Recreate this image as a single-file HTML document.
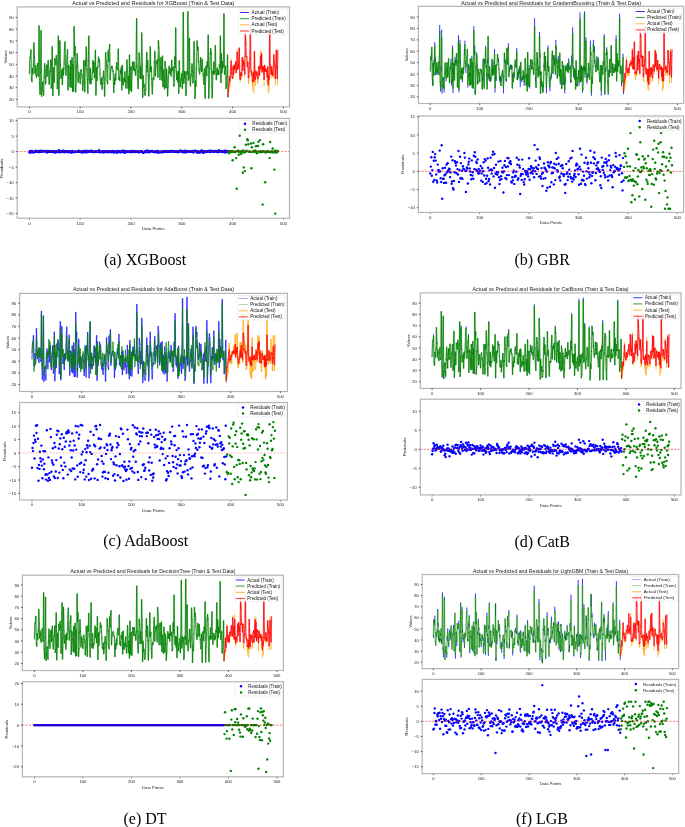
<!DOCTYPE html>
<html><head><meta charset="utf-8"><style>
html,body{margin:0;padding:0;background:#fff;}
svg{display:block;will-change:transform;}
text{font-family:"Liberation Sans",sans-serif;fill:#1a1a1a;}
.tt{font-size:5.5em;text-anchor:middle;}
.yl{font-size:4.35em;text-anchor:end;}
.xl{font-size:4.35em;text-anchor:middle;}
.al{font-size:4.4em;text-anchor:middle;}
.lt{font-size:4.62em;fill:#111;}
.cap{font-family:"Liberation Serif",serif;font-size:16px;text-anchor:middle;fill:#000;}
.fr{fill:none;stroke:#b4b4b4;stroke-width:1.2;}
.tk{stroke:#333;stroke-width:0.8;}
.lg{fill:#fff;fill-opacity:0.8;stroke:#e6e6e6;stroke-width:0.6;}
</style></head><body>
<svg width="685" height="827" viewBox="0 0 685 827">
<g style="font-size:1.0018px">
<text x="153.3" y="4.85" class="tt">Actual vs Predicted and Residuals for XGBoost (Train &amp; Test Data)</text>
<path d="M29.40,73.52L29.91,57.68M30.42,56.81L30.92,49.94M31.43,78.40L31.94,81.60M32.45,68.50L32.96,73.74M33.46,64.94L33.97,43.02M34.48,58.01L34.99,72.90M35.50,66.02L36.00,74.65M36.51,77.10L37.02,69.19M37.53,63.47L38.04,75.21M38.54,76.08L39.05,25.94M39.56,83.52L40.07,94.21M40.58,72.46L41.08,30.66M41.59,96.16L42.10,88.00M42.61,82.26L43.12,90.17M43.62,94.99L44.13,77.07M44.64,63.65L45.15,75.61M45.66,83.72L46.16,70.90M46.67,65.20L47.18,76.17M47.69,67.72L48.20,60.72M48.70,74.79L49.21,84.19M49.72,71.54L50.23,70.97M50.74,60.12L51.24,88.05M51.75,84.39L52.26,46.72M52.77,95.61L53.28,76.34M53.78,67.84L54.29,82.32M54.80,58.55L55.31,61.55M55.82,64.38L56.32,55.73M56.83,61.54L57.34,88.67M57.85,68.89L58.36,36.04M58.86,95.22L59.37,72.87M59.88,40.81L60.39,64.82M60.90,78.18L61.40,75.33M61.91,70.15L62.42,84.49M62.93,68.32L63.44,74.97M63.94,68.27L64.45,50.31M64.96,41.88L65.47,64.86M65.98,75.13L66.48,66.61M66.99,57.66L67.50,49.76M68.01,89.73L68.52,65.47M69.02,67.42L69.53,74.31M70.04,86.67L70.55,60.57M71.06,87.34L71.56,69.06M72.07,57.74L72.58,91.24M73.09,64.51L73.60,91.00M74.10,26.76L74.61,55.50M75.12,46.53L75.63,91.92M76.14,83.84L76.64,66.95M77.15,53.75L77.66,66.04M78.17,82.14L78.68,72.08M79.18,74.10L79.69,76.74M80.20,83.51L80.71,71.07M81.22,69.77L81.72,74.45M82.23,76.86L82.74,90.55M83.25,82.44L83.76,60.90M84.26,74.54L84.77,91.70M85.28,60.46L85.79,65.97M86.30,46.90L86.80,69.16M87.31,79.26L87.82,92.99M88.33,60.93L88.84,36.15M89.34,79.31L89.85,83.00M90.36,68.42L90.87,83.91M91.38,78.93L91.88,79.47M92.39,72.56L92.90,60.64M93.41,71.74L93.92,62.46M94.42,77.72L94.93,70.56M95.44,50.40L95.95,95.03M96.46,67.72L96.96,80.49M97.47,67.99L97.98,66.67M98.49,57.04L99.00,62.20M99.50,59.64L100.01,73.50M100.52,82.66L101.03,84.33M101.54,78.16L102.04,89.09M102.55,83.20L103.06,76.93M103.57,71.16L104.08,78.03M104.58,96.09L105.09,78.58M105.60,52.68L106.11,60.66M106.62,65.03L107.12,80.98M107.63,83.87L108.14,51.13M108.65,61.41L109.16,49.63M109.66,44.38L110.17,79.75M110.68,70.48L111.19,67.76M111.70,66.39L112.20,66.32M112.71,70.85L113.22,71.35M113.73,92.47L114.24,78.66M114.74,84.19L115.25,74.14M115.76,80.03L116.27,67.37M116.78,62.82L117.28,68.51M117.79,69.76L118.30,49.11M118.81,79.30L119.32,77.19M119.82,80.61L120.33,70.31M120.84,73.28L121.35,67.18M121.86,89.81L122.36,65.44M122.87,82.36L123.38,84.63M123.89,78.56L124.40,81.32M124.90,71.80L125.41,81.03M125.92,88.11L126.43,81.28M126.94,60.02L127.44,71.68M127.95,88.07L128.46,76.29M128.97,93.54L129.48,55.26M129.98,90.12L130.49,70.66M131.00,66.78L131.51,91.25M132.02,73.24L132.52,61.96M133.03,66.50L133.54,69.82M134.05,62.21L134.56,70.54M135.06,69.37L135.57,75.09M136.08,66.62L136.59,18.62M137.10,65.90L137.60,79.43M138.11,88.48L138.62,71.83M139.13,52.80L139.64,59.14M140.14,78.32L140.65,66.42M141.16,78.55L141.67,32.89M142.18,54.71L142.68,97.33M143.19,75.64L143.70,86.96M144.21,84.48L144.72,93.89M145.22,95.15L145.73,89.30M146.24,66.31L146.75,52.37M147.26,71.71L147.76,60.43M148.27,75.35L148.78,95.78M149.29,75.70L149.80,69.12M150.30,46.80L150.81,71.47M151.32,66.94L151.83,83.87M152.34,94.02L152.84,79.84M153.35,77.60L153.86,79.07M154.37,62.61L154.88,51.30M155.38,75.86L155.89,66.02M156.40,61.42L156.91,63.22M157.42,59.77L157.92,77.09M158.43,40.57L158.94,47.93M159.45,60.44L159.96,79.55M160.46,67.50L160.97,57.74M161.48,67.00L161.99,80.16M162.50,56.23L163.00,86.66M163.51,69.95L164.02,73.98M164.53,88.80L165.04,61.52M165.54,68.16L166.05,87.60M166.56,69.03L167.07,78.80M167.58,95.79L168.08,86.40M168.59,72.96L169.10,66.36M169.61,70.89L170.12,73.28M170.62,68.55L171.13,75.98M171.64,60.24L172.15,70.51M172.66,70.03L173.16,67.08M173.67,86.08L174.18,84.92M174.69,57.02L175.20,67.44M175.70,28.02L176.21,70.40M176.72,79.65L177.23,71.70M177.74,81.82L178.24,71.90M178.75,93.35L179.26,60.83M179.77,78.53L180.28,86.51M180.78,80.20L181.29,79.65M181.80,73.31L182.31,88.39M182.82,71.51L183.32,12.51M183.83,83.23L184.34,71.45M184.85,78.01L185.36,72.06M185.86,95.52L186.37,91.65M186.88,71.38L187.39,74.21M187.90,11.68L188.40,80.09M188.91,72.96L189.42,38.45M189.93,78.24L190.44,85.88M190.94,76.39L191.45,75.03M191.96,63.99L192.47,71.36M192.98,82.87L193.48,72.68M193.99,41.64L194.50,54.03M195.01,98.42L195.52,80.89M196.02,86.18L196.53,68.23M197.04,40.92L197.55,50.22M198.06,47.19L198.56,61.17M199.07,69.71L199.58,73.74M200.09,69.82L200.60,57.74M201.10,65.41L201.61,71.33M202.12,59.28L202.63,69.34M203.14,74.10L203.64,84.04M204.15,82.85L204.66,68.56M205.17,98.14L205.68,67.03M206.18,66.23L206.69,75.65M207.20,61.71L207.71,67.16M208.22,35.07L208.72,98.04M209.23,81.90L209.74,68.63M210.25,53.48L210.76,48.65M211.26,53.21L211.77,85.35M212.28,97.79L212.79,71.49M213.30,73.67L213.80,62.21M214.31,74.13L214.82,71.59M215.33,45.66L215.84,71.70M216.34,79.49L216.85,70.61M217.36,68.24L217.87,74.48M218.38,70.62L218.88,74.34M219.39,64.97L219.90,66.78M220.41,36.25L220.92,82.47M221.42,53.97L221.93,72.60M222.44,61.76L222.95,67.49M223.46,65.21L223.96,14.00M224.47,74.00L224.98,71.48M225.49,66.27L226.00,88.33M226.50,83.92L227.01,76.85M227.52,55.03L228.03,96.84" fill="none" stroke="#008000" stroke-width="1.30" stroke-opacity="0.75" stroke-linecap="round"/><path d="M29.91,57.68L30.42,56.81M30.92,49.94L31.43,78.40M31.94,81.60L32.45,68.50M32.96,73.74L33.46,64.94M33.97,43.02L34.48,58.01M34.99,72.90L35.50,66.02M36.00,74.65L36.51,77.10M37.02,69.19L37.53,63.47M38.04,75.21L38.54,76.08M39.05,25.94L39.56,83.52M40.07,94.21L40.58,72.46M41.08,30.66L41.59,96.16M42.10,88.00L42.61,82.26M43.12,90.17L43.62,94.99M44.13,77.07L44.64,63.65M45.15,75.61L45.66,83.72M46.16,70.90L46.67,65.20M47.18,76.17L47.69,67.72M48.20,60.72L48.70,74.79M49.21,84.19L49.72,71.54M50.23,70.97L50.74,60.12M51.24,88.05L51.75,84.39M52.26,46.72L52.77,95.61M53.28,76.34L53.78,67.84M54.29,82.32L54.80,58.55M55.31,61.55L55.82,64.38M56.32,55.73L56.83,61.54M57.34,88.67L57.85,68.89M58.36,36.04L58.86,95.22M59.37,72.87L59.88,40.81M60.39,64.82L60.90,78.18M61.40,75.33L61.91,70.15M62.42,84.49L62.93,68.32M63.44,74.97L63.94,68.27M64.45,50.31L64.96,41.88M65.47,64.86L65.98,75.13M66.48,66.61L66.99,57.66M67.50,49.76L68.01,89.73M68.52,65.47L69.02,67.42M69.53,74.31L70.04,86.67M70.55,60.57L71.06,87.34M71.56,69.06L72.07,57.74M72.58,91.24L73.09,64.51M73.60,91.00L74.10,26.76M74.61,55.50L75.12,46.53M75.63,91.92L76.14,83.84M76.64,66.95L77.15,53.75M77.66,66.04L78.17,82.14M78.68,72.08L79.18,74.10M79.69,76.74L80.20,83.51M80.71,71.07L81.22,69.77M81.72,74.45L82.23,76.86M82.74,90.55L83.25,82.44M83.76,60.90L84.26,74.54M84.77,91.70L85.28,60.46M85.79,65.97L86.30,46.90M86.80,69.16L87.31,79.26M87.82,92.99L88.33,60.93M88.84,36.15L89.34,79.31M89.85,83.00L90.36,68.42M90.87,83.91L91.38,78.93M91.88,79.47L92.39,72.56M92.90,60.64L93.41,71.74M93.92,62.46L94.42,77.72M94.93,70.56L95.44,50.40M95.95,95.03L96.46,67.72M96.96,80.49L97.47,67.99M97.98,66.67L98.49,57.04M99.00,62.20L99.50,59.64M100.01,73.50L100.52,82.66M101.03,84.33L101.54,78.16M102.04,89.09L102.55,83.20M103.06,76.93L103.57,71.16M104.08,78.03L104.58,96.09M105.09,78.58L105.60,52.68M106.11,60.66L106.62,65.03M107.12,80.98L107.63,83.87M108.14,51.13L108.65,61.41M109.16,49.63L109.66,44.38M110.17,79.75L110.68,70.48M111.19,67.76L111.70,66.39M112.20,66.32L112.71,70.85M113.22,71.35L113.73,92.47M114.24,78.66L114.74,84.19M115.25,74.14L115.76,80.03M116.27,67.37L116.78,62.82M117.28,68.51L117.79,69.76M118.30,49.11L118.81,79.30M119.32,77.19L119.82,80.61M120.33,70.31L120.84,73.28M121.35,67.18L121.86,89.81M122.36,65.44L122.87,82.36M123.38,84.63L123.89,78.56M124.40,81.32L124.90,71.80M125.41,81.03L125.92,88.11M126.43,81.28L126.94,60.02M127.44,71.68L127.95,88.07M128.46,76.29L128.97,93.54M129.48,55.26L129.98,90.12M130.49,70.66L131.00,66.78M131.51,91.25L132.02,73.24M132.52,61.96L133.03,66.50M133.54,69.82L134.05,62.21M134.56,70.54L135.06,69.37M135.57,75.09L136.08,66.62M136.59,18.62L137.10,65.90M137.60,79.43L138.11,88.48M138.62,71.83L139.13,52.80M139.64,59.14L140.14,78.32M140.65,66.42L141.16,78.55M141.67,32.89L142.18,54.71M142.68,97.33L143.19,75.64M143.70,86.96L144.21,84.48M144.72,93.89L145.22,95.15M145.73,89.30L146.24,66.31M146.75,52.37L147.26,71.71M147.76,60.43L148.27,75.35M148.78,95.78L149.29,75.70M149.80,69.12L150.30,46.80M150.81,71.47L151.32,66.94M151.83,83.87L152.34,94.02M152.84,79.84L153.35,77.60M153.86,79.07L154.37,62.61M154.88,51.30L155.38,75.86M155.89,66.02L156.40,61.42M156.91,63.22L157.42,59.77M157.92,77.09L158.43,40.57M158.94,47.93L159.45,60.44M159.96,79.55L160.46,67.50M160.97,57.74L161.48,67.00M161.99,80.16L162.50,56.23M163.00,86.66L163.51,69.95M164.02,73.98L164.53,88.80M165.04,61.52L165.54,68.16M166.05,87.60L166.56,69.03M167.07,78.80L167.58,95.79M168.08,86.40L168.59,72.96M169.10,66.36L169.61,70.89M170.12,73.28L170.62,68.55M171.13,75.98L171.64,60.24M172.15,70.51L172.66,70.03M173.16,67.08L173.67,86.08M174.18,84.92L174.69,57.02M175.20,67.44L175.70,28.02M176.21,70.40L176.72,79.65M177.23,71.70L177.74,81.82M178.24,71.90L178.75,93.35M179.26,60.83L179.77,78.53M180.28,86.51L180.78,80.20M181.29,79.65L181.80,73.31M182.31,88.39L182.82,71.51M183.32,12.51L183.83,83.23M184.34,71.45L184.85,78.01M185.36,72.06L185.86,95.52M186.37,91.65L186.88,71.38M187.39,74.21L187.90,11.68M188.40,80.09L188.91,72.96M189.42,38.45L189.93,78.24M190.44,85.88L190.94,76.39M191.45,75.03L191.96,63.99M192.47,71.36L192.98,82.87M193.48,72.68L193.99,41.64M194.50,54.03L195.01,98.42M195.52,80.89L196.02,86.18M196.53,68.23L197.04,40.92M197.55,50.22L198.06,47.19M198.56,61.17L199.07,69.71M199.58,73.74L200.09,69.82M200.60,57.74L201.10,65.41M201.61,71.33L202.12,59.28M202.63,69.34L203.14,74.10M203.64,84.04L204.15,82.85M204.66,68.56L205.17,98.14M205.68,67.03L206.18,66.23M206.69,75.65L207.20,61.71M207.71,67.16L208.22,35.07M208.72,98.04L209.23,81.90M209.74,68.63L210.25,53.48M210.76,48.65L211.26,53.21M211.77,85.35L212.28,97.79M212.79,71.49L213.30,73.67M213.80,62.21L214.31,74.13M214.82,71.59L215.33,45.66M215.84,71.70L216.34,79.49M216.85,70.61L217.36,68.24M217.87,74.48L218.38,70.62M218.88,74.34L219.39,64.97M219.90,66.78L220.41,36.25M220.92,82.47L221.42,53.97M221.93,72.60L222.44,61.76M222.95,67.49L223.46,65.21M223.96,14.00L224.47,74.00M224.98,71.48L225.49,66.27M226.00,88.33L226.50,83.92M227.01,76.85L227.52,55.03" fill="none" stroke="#008000" stroke-width="1.30" stroke-opacity="0.75" stroke-linecap="round"/>
<path d="M228.54,85.80V93.94M229.04,83.46V90.80M229.55,76.56V82.59M230.06,80.92V87.42M231.08,61.23V58.32M231.58,73.04V74.59M233.11,66.75V70.68M233.62,73.78V77.82M234.12,65.27V66.96M234.63,69.17V66.89M235.65,62.27V61.12M236.16,72.39V69.35M236.66,68.12V69.21M237.17,52.52V49.34M238.19,64.98V61.07M238.70,67.08V69.10M239.71,73.86V77.72M240.22,79.38V82.36M241.24,72.86V78.98M241.74,75.24V77.68M243.27,60.64V57.26M243.78,63.08V65.97M244.28,64.93V59.95M244.79,73.86V77.14M245.30,32.65V29.20M245.81,44.74V38.83M247.84,62.62V60.08M248.35,77.48V83.96M248.86,75.94V83.73M249.87,57.92V60.81M250.38,28.50V26.86M250.89,70.97V74.23M251.40,70.89V76.28M252.41,81.13V86.64M252.92,81.76V91.33M253.43,72.22V75.44M253.94,80.92V93.41M254.44,51.58V52.60M254.95,76.81V81.89M255.46,79.18V86.00M256.48,74.95V76.90M257.49,76.68V84.24M258.00,78.59V82.60M258.51,67.93V66.96M259.52,75.05V76.57M260.54,56.41V50.26M261.56,53.80V51.73M262.06,71.78V73.63M263.08,70.00V65.81M263.59,67.16V73.72M264.10,79.45V86.35M265.11,71.44V67.61M265.62,68.93V70.55M266.13,69.82V71.33M267.14,76.99V82.76M267.65,66.99V69.90M268.16,84.76V93.72M269.18,79.48V90.83M269.68,31.63V29.20M270.70,67.31V73.99M271.21,74.32V78.17M272.22,71.89V74.51M272.73,75.04V77.41M273.24,73.90V77.67M274.26,63.03V61.24M275.27,78.45V85.57M276.80,66.68V68.48M277.30,78.42V85.29" stroke="#ffa500" stroke-width="0.8" fill="none"/>
<path d="M228.03,96.84L228.54,85.80M229.04,83.46L229.55,76.56M230.06,80.92L230.57,69.96M231.08,61.23L231.58,73.04M232.09,76.93L232.60,78.39M233.11,66.75L233.62,73.78M234.12,65.27L234.63,69.17M235.14,66.70L235.65,62.27M236.16,72.39L236.66,68.12M237.17,52.52L237.68,69.10M238.19,64.98L238.70,67.08M239.20,48.09L239.71,73.86M240.22,79.38L240.73,72.89M241.24,72.86L241.74,75.24M242.25,57.76L242.76,70.28M243.27,60.64L243.78,63.08M244.28,64.93L244.79,73.86M245.30,32.65L245.81,44.74M246.32,56.71L246.82,56.74M247.33,66.50L247.84,62.62M248.35,77.48L248.86,75.94M249.36,67.67L249.87,57.92M250.38,28.50L250.89,70.97M251.40,70.89L251.90,74.12M252.41,81.13L252.92,81.76M253.43,72.22L253.94,80.92M254.44,51.58L254.95,76.81M255.46,79.18L255.97,71.08M256.48,74.95L256.98,73.00M257.49,76.68L258.00,78.59M258.51,67.93L259.02,66.39M259.52,75.05L260.03,68.54M260.54,56.41L261.05,68.52M261.56,53.80L262.06,71.78M262.57,66.28L263.08,70.00M263.59,67.16L264.10,79.45M264.60,65.35L265.11,71.44M265.62,68.93L266.13,69.82M266.64,71.52L267.14,76.99M267.65,66.99L268.16,84.76M268.67,75.00L269.18,79.48M269.68,31.63L270.19,64.78M270.70,67.31L271.21,74.32M271.72,66.95L272.22,71.89M272.73,75.04L273.24,73.90M273.75,54.96L274.26,63.03M274.76,65.23L275.27,78.45M275.78,65.70L276.29,50.33M276.80,66.68L277.30,78.42" fill="none" stroke="#ff0000" stroke-width="1.30" stroke-opacity="0.75" stroke-linecap="round"/><path d="M228.54,85.80L229.04,83.46M229.55,76.56L230.06,80.92M230.57,69.96L231.08,61.23M231.58,73.04L232.09,76.93M232.60,78.39L233.11,66.75M233.62,73.78L234.12,65.27M234.63,69.17L235.14,66.70M235.65,62.27L236.16,72.39M236.66,68.12L237.17,52.52M237.68,69.10L238.19,64.98M238.70,67.08L239.20,48.09M239.71,73.86L240.22,79.38M240.73,72.89L241.24,72.86M241.74,75.24L242.25,57.76M242.76,70.28L243.27,60.64M243.78,63.08L244.28,64.93M244.79,73.86L245.30,32.65M245.81,44.74L246.32,56.71M246.82,56.74L247.33,66.50M247.84,62.62L248.35,77.48M248.86,75.94L249.36,67.67M249.87,57.92L250.38,28.50M250.89,70.97L251.40,70.89M251.90,74.12L252.41,81.13M252.92,81.76L253.43,72.22M253.94,80.92L254.44,51.58M254.95,76.81L255.46,79.18M255.97,71.08L256.48,74.95M256.98,73.00L257.49,76.68M258.00,78.59L258.51,67.93M259.02,66.39L259.52,75.05M260.03,68.54L260.54,56.41M261.05,68.52L261.56,53.80M262.06,71.78L262.57,66.28M263.08,70.00L263.59,67.16M264.10,79.45L264.60,65.35M265.11,71.44L265.62,68.93M266.13,69.82L266.64,71.52M267.14,76.99L267.65,66.99M268.16,84.76L268.67,75.00M269.18,79.48L269.68,31.63M270.19,64.78L270.70,67.31M271.21,74.32L271.72,66.95M272.22,71.89L272.73,75.04M273.24,73.90L273.75,54.96M274.26,63.03L274.76,65.23M275.27,78.45L275.78,65.70M276.29,50.33L276.80,66.68M277.30,78.42L277.81,50.36" fill="none" stroke="#ff0000" stroke-width="1.30" stroke-opacity="0.75" stroke-linecap="round"/>
<rect x="17.2" y="6.9" width="272.3" height="100.0" class="fr"/>
<line x1="15.7" y1="99.4" x2="17.2" y2="99.4" class="tk"/>
<text x="13.8" y="101.0" class="yl">20</text>
<line x1="15.7" y1="87.7" x2="17.2" y2="87.7" class="tk"/>
<text x="13.8" y="89.3" class="yl">30</text>
<line x1="15.7" y1="76.0" x2="17.2" y2="76.0" class="tk"/>
<text x="13.8" y="77.6" class="yl">40</text>
<line x1="15.7" y1="64.3" x2="17.2" y2="64.3" class="tk"/>
<text x="13.8" y="65.9" class="yl">50</text>
<line x1="15.7" y1="52.6" x2="17.2" y2="52.6" class="tk"/>
<text x="13.8" y="54.2" class="yl">60</text>
<line x1="15.7" y1="40.9" x2="17.2" y2="40.9" class="tk"/>
<text x="13.8" y="42.5" class="yl">70</text>
<line x1="15.7" y1="29.2" x2="17.2" y2="29.2" class="tk"/>
<text x="13.8" y="30.8" class="yl">80</text>
<line x1="15.7" y1="17.5" x2="17.2" y2="17.5" class="tk"/>
<text x="13.8" y="19.1" class="yl">90</text>
<text transform="translate(6.8,56.9) rotate(-90)" class="al">Values</text>
<line x1="29.4" y1="106.9" x2="29.4" y2="108.4" class="tk"/>
<text x="29.4" y="113.2" class="xl">0</text>
<line x1="29.4" y1="218.2" x2="29.4" y2="219.7" class="tk"/>
<text x="29.4" y="224.5" class="xl">0</text>
<line x1="80.2" y1="106.9" x2="80.2" y2="108.4" class="tk"/>
<text x="80.2" y="113.2" class="xl">100</text>
<line x1="80.2" y1="218.2" x2="80.2" y2="219.7" class="tk"/>
<text x="80.2" y="224.5" class="xl">100</text>
<line x1="131.0" y1="106.9" x2="131.0" y2="108.4" class="tk"/>
<text x="131.0" y="113.2" class="xl">200</text>
<line x1="131.0" y1="218.2" x2="131.0" y2="219.7" class="tk"/>
<text x="131.0" y="224.5" class="xl">200</text>
<line x1="181.8" y1="106.9" x2="181.8" y2="108.4" class="tk"/>
<text x="181.8" y="113.2" class="xl">300</text>
<line x1="181.8" y1="218.2" x2="181.8" y2="219.7" class="tk"/>
<text x="181.8" y="224.5" class="xl">300</text>
<line x1="232.6" y1="106.9" x2="232.6" y2="108.4" class="tk"/>
<text x="232.6" y="113.2" class="xl">400</text>
<line x1="232.6" y1="218.2" x2="232.6" y2="219.7" class="tk"/>
<text x="232.6" y="224.5" class="xl">400</text>
<line x1="283.4" y1="106.9" x2="283.4" y2="108.4" class="tk"/>
<text x="283.4" y="113.2" class="xl">500</text>
<line x1="283.4" y1="218.2" x2="283.4" y2="219.7" class="tk"/>
<text x="283.4" y="224.5" class="xl">500</text>
<rect x="238.3" y="9.2" width="49.4" height="25.1" rx="0.8" class="lg"/>
<line x1="240.0" y1="12.5" x2="249.0" y2="12.5" stroke="#0000ff" stroke-opacity="1.0" stroke-width="0.8"/>
<text x="251.6" y="14.0" class="lt">Actual (Train)</text>
<line x1="240.0" y1="18.7" x2="249.0" y2="18.7" stroke="#008000" stroke-opacity="1.0" stroke-width="0.8"/>
<text x="251.6" y="20.2" class="lt">Predicted (Train)</text>
<line x1="240.0" y1="24.8" x2="249.0" y2="24.8" stroke="#ffa500" stroke-opacity="1" stroke-width="0.8"/>
<text x="251.6" y="26.3" class="lt">Actual (Test)</text>
<line x1="240.0" y1="31.0" x2="249.0" y2="31.0" stroke="#ff0000" stroke-opacity="1" stroke-width="0.8"/>
<text x="251.6" y="32.5" class="lt">Predicted (Test)</text>
<circle cx="29.4" cy="152.4" r="1.2" fill="#0000ff"/><circle cx="29.9" cy="151.1" r="1.2" fill="#0000ff"/><circle cx="30.4" cy="151.3" r="1.2" fill="#0000ff"/><circle cx="30.9" cy="152.5" r="1.2" fill="#0000ff"/><circle cx="31.4" cy="151.7" r="1.2" fill="#0000ff"/><circle cx="31.9" cy="151.0" r="1.2" fill="#0000ff"/><circle cx="32.4" cy="151.1" r="1.2" fill="#0000ff"/><circle cx="33.0" cy="152.4" r="1.2" fill="#0000ff"/><circle cx="33.5" cy="151.9" r="1.2" fill="#0000ff"/><circle cx="34.0" cy="152.2" r="1.2" fill="#0000ff"/><circle cx="34.5" cy="152.1" r="1.2" fill="#0000ff"/><circle cx="35.0" cy="151.9" r="1.2" fill="#0000ff"/><circle cx="35.5" cy="150.8" r="1.2" fill="#0000ff"/><circle cx="36.0" cy="151.6" r="1.2" fill="#0000ff"/><circle cx="36.5" cy="151.7" r="1.2" fill="#0000ff"/><circle cx="37.0" cy="151.8" r="1.2" fill="#0000ff"/><circle cx="37.5" cy="151.3" r="1.2" fill="#0000ff"/><circle cx="38.0" cy="151.3" r="1.2" fill="#0000ff"/><circle cx="38.5" cy="152.1" r="1.2" fill="#0000ff"/><circle cx="39.1" cy="150.9" r="1.2" fill="#0000ff"/><circle cx="39.6" cy="152.1" r="1.2" fill="#0000ff"/><circle cx="40.1" cy="151.8" r="1.2" fill="#0000ff"/><circle cx="40.6" cy="151.4" r="1.2" fill="#0000ff"/><circle cx="41.1" cy="150.8" r="1.2" fill="#0000ff"/><circle cx="41.6" cy="151.8" r="1.2" fill="#0000ff"/><circle cx="42.1" cy="151.5" r="1.2" fill="#0000ff"/><circle cx="42.6" cy="151.0" r="1.2" fill="#0000ff"/><circle cx="43.1" cy="151.3" r="1.2" fill="#0000ff"/><circle cx="43.6" cy="151.1" r="1.2" fill="#0000ff"/><circle cx="44.1" cy="151.1" r="1.2" fill="#0000ff"/><circle cx="44.6" cy="151.5" r="1.2" fill="#0000ff"/><circle cx="45.1" cy="151.3" r="1.2" fill="#0000ff"/><circle cx="45.7" cy="151.2" r="1.2" fill="#0000ff"/><circle cx="46.2" cy="151.6" r="1.2" fill="#0000ff"/><circle cx="46.7" cy="150.9" r="1.2" fill="#0000ff"/><circle cx="47.2" cy="152.6" r="1.2" fill="#0000ff"/><circle cx="47.7" cy="152.1" r="1.2" fill="#0000ff"/><circle cx="48.2" cy="151.0" r="1.2" fill="#0000ff"/><circle cx="48.7" cy="151.4" r="1.2" fill="#0000ff"/><circle cx="49.2" cy="151.9" r="1.2" fill="#0000ff"/><circle cx="49.7" cy="151.5" r="1.2" fill="#0000ff"/><circle cx="50.2" cy="151.1" r="1.2" fill="#0000ff"/><circle cx="50.7" cy="151.9" r="1.2" fill="#0000ff"/><circle cx="51.2" cy="151.3" r="1.2" fill="#0000ff"/><circle cx="51.8" cy="151.7" r="1.2" fill="#0000ff"/><circle cx="52.3" cy="151.7" r="1.2" fill="#0000ff"/><circle cx="52.8" cy="151.7" r="1.2" fill="#0000ff"/><circle cx="53.3" cy="151.1" r="1.2" fill="#0000ff"/><circle cx="53.8" cy="152.2" r="1.2" fill="#0000ff"/><circle cx="54.3" cy="151.8" r="1.2" fill="#0000ff"/><circle cx="54.8" cy="151.3" r="1.2" fill="#0000ff"/><circle cx="55.3" cy="152.2" r="1.2" fill="#0000ff"/><circle cx="55.8" cy="152.4" r="1.2" fill="#0000ff"/><circle cx="56.3" cy="151.4" r="1.2" fill="#0000ff"/><circle cx="56.8" cy="151.6" r="1.2" fill="#0000ff"/><circle cx="57.3" cy="151.7" r="1.2" fill="#0000ff"/><circle cx="57.8" cy="151.6" r="1.2" fill="#0000ff"/><circle cx="58.4" cy="152.1" r="1.2" fill="#0000ff"/><circle cx="58.9" cy="150.3" r="1.2" fill="#0000ff"/><circle cx="59.4" cy="152.1" r="1.2" fill="#0000ff"/><circle cx="59.9" cy="151.8" r="1.2" fill="#0000ff"/><circle cx="60.4" cy="152.3" r="1.2" fill="#0000ff"/><circle cx="60.9" cy="151.8" r="1.2" fill="#0000ff"/><circle cx="61.4" cy="150.9" r="1.2" fill="#0000ff"/><circle cx="61.9" cy="151.6" r="1.2" fill="#0000ff"/><circle cx="62.4" cy="151.4" r="1.2" fill="#0000ff"/><circle cx="62.9" cy="151.9" r="1.2" fill="#0000ff"/><circle cx="63.4" cy="150.8" r="1.2" fill="#0000ff"/><circle cx="63.9" cy="151.6" r="1.2" fill="#0000ff"/><circle cx="64.5" cy="152.2" r="1.2" fill="#0000ff"/><circle cx="65.0" cy="151.3" r="1.2" fill="#0000ff"/><circle cx="65.5" cy="151.8" r="1.2" fill="#0000ff"/><circle cx="66.0" cy="151.3" r="1.2" fill="#0000ff"/><circle cx="66.5" cy="151.6" r="1.2" fill="#0000ff"/><circle cx="67.0" cy="151.5" r="1.2" fill="#0000ff"/><circle cx="67.5" cy="151.6" r="1.2" fill="#0000ff"/><circle cx="68.0" cy="152.1" r="1.2" fill="#0000ff"/><circle cx="68.5" cy="152.3" r="1.2" fill="#0000ff"/><circle cx="69.0" cy="151.2" r="1.2" fill="#0000ff"/><circle cx="69.5" cy="151.7" r="1.2" fill="#0000ff"/><circle cx="70.0" cy="151.5" r="1.2" fill="#0000ff"/><circle cx="70.5" cy="151.8" r="1.2" fill="#0000ff"/><circle cx="71.1" cy="152.6" r="1.2" fill="#0000ff"/><circle cx="71.6" cy="152.2" r="1.2" fill="#0000ff"/><circle cx="72.1" cy="151.0" r="1.2" fill="#0000ff"/><circle cx="72.6" cy="152.0" r="1.2" fill="#0000ff"/><circle cx="73.1" cy="151.8" r="1.2" fill="#0000ff"/><circle cx="73.6" cy="152.3" r="1.2" fill="#0000ff"/><circle cx="74.1" cy="151.9" r="1.2" fill="#0000ff"/><circle cx="74.6" cy="151.8" r="1.2" fill="#0000ff"/><circle cx="75.1" cy="151.7" r="1.2" fill="#0000ff"/><circle cx="75.6" cy="151.7" r="1.2" fill="#0000ff"/><circle cx="76.1" cy="151.9" r="1.2" fill="#0000ff"/><circle cx="76.6" cy="151.9" r="1.2" fill="#0000ff"/><circle cx="77.2" cy="151.6" r="1.2" fill="#0000ff"/><circle cx="77.7" cy="151.5" r="1.2" fill="#0000ff"/><circle cx="78.2" cy="151.7" r="1.2" fill="#0000ff"/><circle cx="78.7" cy="150.8" r="1.2" fill="#0000ff"/><circle cx="79.2" cy="151.5" r="1.2" fill="#0000ff"/><circle cx="79.7" cy="151.6" r="1.2" fill="#0000ff"/><circle cx="80.2" cy="151.9" r="1.2" fill="#0000ff"/><circle cx="80.7" cy="151.2" r="1.2" fill="#0000ff"/><circle cx="81.2" cy="152.1" r="1.2" fill="#0000ff"/><circle cx="81.7" cy="152.4" r="1.2" fill="#0000ff"/><circle cx="82.2" cy="152.1" r="1.2" fill="#0000ff"/><circle cx="82.7" cy="151.3" r="1.2" fill="#0000ff"/><circle cx="83.2" cy="152.2" r="1.2" fill="#0000ff"/><circle cx="83.8" cy="151.0" r="1.2" fill="#0000ff"/><circle cx="84.3" cy="151.6" r="1.2" fill="#0000ff"/><circle cx="84.8" cy="152.3" r="1.2" fill="#0000ff"/><circle cx="85.3" cy="151.7" r="1.2" fill="#0000ff"/><circle cx="85.8" cy="150.8" r="1.2" fill="#0000ff"/><circle cx="86.3" cy="152.0" r="1.2" fill="#0000ff"/><circle cx="86.8" cy="152.2" r="1.2" fill="#0000ff"/><circle cx="87.3" cy="151.4" r="1.2" fill="#0000ff"/><circle cx="87.8" cy="151.0" r="1.2" fill="#0000ff"/><circle cx="88.3" cy="151.2" r="1.2" fill="#0000ff"/><circle cx="88.8" cy="151.8" r="1.2" fill="#0000ff"/><circle cx="89.3" cy="151.5" r="1.2" fill="#0000ff"/><circle cx="89.9" cy="151.5" r="1.2" fill="#0000ff"/><circle cx="90.4" cy="151.1" r="1.2" fill="#0000ff"/><circle cx="90.9" cy="150.6" r="1.2" fill="#0000ff"/><circle cx="91.4" cy="151.7" r="1.2" fill="#0000ff"/><circle cx="91.9" cy="151.0" r="1.2" fill="#0000ff"/><circle cx="92.4" cy="151.8" r="1.2" fill="#0000ff"/><circle cx="92.9" cy="151.4" r="1.2" fill="#0000ff"/><circle cx="93.4" cy="152.1" r="1.2" fill="#0000ff"/><circle cx="93.9" cy="152.0" r="1.2" fill="#0000ff"/><circle cx="94.4" cy="151.4" r="1.2" fill="#0000ff"/><circle cx="94.9" cy="152.1" r="1.2" fill="#0000ff"/><circle cx="95.4" cy="151.2" r="1.2" fill="#0000ff"/><circle cx="95.9" cy="151.9" r="1.2" fill="#0000ff"/><circle cx="96.5" cy="151.6" r="1.2" fill="#0000ff"/><circle cx="97.0" cy="151.7" r="1.2" fill="#0000ff"/><circle cx="97.5" cy="151.8" r="1.2" fill="#0000ff"/><circle cx="98.0" cy="151.6" r="1.2" fill="#0000ff"/><circle cx="98.5" cy="151.1" r="1.2" fill="#0000ff"/><circle cx="99.0" cy="150.2" r="1.2" fill="#0000ff"/><circle cx="99.5" cy="152.2" r="1.2" fill="#0000ff"/><circle cx="100.0" cy="151.5" r="1.2" fill="#0000ff"/><circle cx="100.5" cy="151.7" r="1.2" fill="#0000ff"/><circle cx="101.0" cy="152.1" r="1.2" fill="#0000ff"/><circle cx="101.5" cy="151.5" r="1.2" fill="#0000ff"/><circle cx="102.0" cy="152.0" r="1.2" fill="#0000ff"/><circle cx="102.6" cy="151.7" r="1.2" fill="#0000ff"/><circle cx="103.1" cy="151.1" r="1.2" fill="#0000ff"/><circle cx="103.6" cy="152.6" r="1.2" fill="#0000ff"/><circle cx="104.1" cy="151.5" r="1.2" fill="#0000ff"/><circle cx="104.6" cy="151.4" r="1.2" fill="#0000ff"/><circle cx="105.1" cy="152.1" r="1.2" fill="#0000ff"/><circle cx="105.6" cy="151.4" r="1.2" fill="#0000ff"/><circle cx="106.1" cy="151.5" r="1.2" fill="#0000ff"/><circle cx="106.6" cy="151.8" r="1.2" fill="#0000ff"/><circle cx="107.1" cy="151.1" r="1.2" fill="#0000ff"/><circle cx="107.6" cy="152.2" r="1.2" fill="#0000ff"/><circle cx="108.1" cy="151.3" r="1.2" fill="#0000ff"/><circle cx="108.6" cy="151.7" r="1.2" fill="#0000ff"/><circle cx="109.2" cy="152.1" r="1.2" fill="#0000ff"/><circle cx="109.7" cy="151.7" r="1.2" fill="#0000ff"/><circle cx="110.2" cy="151.8" r="1.2" fill="#0000ff"/><circle cx="110.7" cy="151.3" r="1.2" fill="#0000ff"/><circle cx="111.2" cy="152.3" r="1.2" fill="#0000ff"/><circle cx="111.7" cy="151.7" r="1.2" fill="#0000ff"/><circle cx="112.2" cy="151.8" r="1.2" fill="#0000ff"/><circle cx="112.7" cy="150.9" r="1.2" fill="#0000ff"/><circle cx="113.2" cy="152.2" r="1.2" fill="#0000ff"/><circle cx="113.7" cy="151.1" r="1.2" fill="#0000ff"/><circle cx="114.2" cy="152.5" r="1.2" fill="#0000ff"/><circle cx="114.7" cy="151.5" r="1.2" fill="#0000ff"/><circle cx="115.3" cy="151.7" r="1.2" fill="#0000ff"/><circle cx="115.8" cy="151.5" r="1.2" fill="#0000ff"/><circle cx="116.3" cy="152.0" r="1.2" fill="#0000ff"/><circle cx="116.8" cy="152.5" r="1.2" fill="#0000ff"/><circle cx="117.3" cy="152.4" r="1.2" fill="#0000ff"/><circle cx="117.8" cy="151.0" r="1.2" fill="#0000ff"/><circle cx="118.3" cy="151.5" r="1.2" fill="#0000ff"/><circle cx="118.8" cy="152.0" r="1.2" fill="#0000ff"/><circle cx="119.3" cy="151.2" r="1.2" fill="#0000ff"/><circle cx="119.8" cy="152.0" r="1.2" fill="#0000ff"/><circle cx="120.3" cy="152.0" r="1.2" fill="#0000ff"/><circle cx="120.8" cy="152.2" r="1.2" fill="#0000ff"/><circle cx="121.3" cy="151.1" r="1.2" fill="#0000ff"/><circle cx="121.9" cy="150.7" r="1.2" fill="#0000ff"/><circle cx="122.4" cy="152.1" r="1.2" fill="#0000ff"/><circle cx="122.9" cy="151.5" r="1.2" fill="#0000ff"/><circle cx="123.4" cy="151.2" r="1.2" fill="#0000ff"/><circle cx="123.9" cy="150.7" r="1.2" fill="#0000ff"/><circle cx="124.4" cy="152.8" r="1.2" fill="#0000ff"/><circle cx="124.9" cy="151.6" r="1.2" fill="#0000ff"/><circle cx="125.4" cy="151.3" r="1.2" fill="#0000ff"/><circle cx="125.9" cy="152.3" r="1.2" fill="#0000ff"/><circle cx="126.4" cy="151.5" r="1.2" fill="#0000ff"/><circle cx="126.9" cy="151.6" r="1.2" fill="#0000ff"/><circle cx="127.4" cy="151.3" r="1.2" fill="#0000ff"/><circle cx="128.0" cy="151.9" r="1.2" fill="#0000ff"/><circle cx="128.5" cy="151.4" r="1.2" fill="#0000ff"/><circle cx="129.0" cy="151.9" r="1.2" fill="#0000ff"/><circle cx="129.5" cy="151.4" r="1.2" fill="#0000ff"/><circle cx="130.0" cy="151.6" r="1.2" fill="#0000ff"/><circle cx="130.5" cy="151.8" r="1.2" fill="#0000ff"/><circle cx="131.0" cy="152.3" r="1.2" fill="#0000ff"/><circle cx="131.5" cy="150.9" r="1.2" fill="#0000ff"/><circle cx="132.0" cy="151.1" r="1.2" fill="#0000ff"/><circle cx="132.5" cy="151.2" r="1.2" fill="#0000ff"/><circle cx="133.0" cy="152.0" r="1.2" fill="#0000ff"/><circle cx="133.5" cy="151.8" r="1.2" fill="#0000ff"/><circle cx="134.0" cy="150.9" r="1.2" fill="#0000ff"/><circle cx="134.6" cy="151.3" r="1.2" fill="#0000ff"/><circle cx="135.1" cy="152.0" r="1.2" fill="#0000ff"/><circle cx="135.6" cy="151.6" r="1.2" fill="#0000ff"/><circle cx="136.1" cy="151.6" r="1.2" fill="#0000ff"/><circle cx="136.6" cy="151.7" r="1.2" fill="#0000ff"/><circle cx="137.1" cy="152.1" r="1.2" fill="#0000ff"/><circle cx="137.6" cy="151.1" r="1.2" fill="#0000ff"/><circle cx="138.1" cy="151.4" r="1.2" fill="#0000ff"/><circle cx="138.6" cy="151.7" r="1.2" fill="#0000ff"/><circle cx="139.1" cy="152.4" r="1.2" fill="#0000ff"/><circle cx="139.6" cy="151.9" r="1.2" fill="#0000ff"/><circle cx="140.1" cy="151.6" r="1.2" fill="#0000ff"/><circle cx="140.7" cy="151.2" r="1.2" fill="#0000ff"/><circle cx="141.2" cy="151.8" r="1.2" fill="#0000ff"/><circle cx="141.7" cy="151.1" r="1.2" fill="#0000ff"/><circle cx="142.2" cy="151.6" r="1.2" fill="#0000ff"/><circle cx="142.7" cy="152.0" r="1.2" fill="#0000ff"/><circle cx="143.2" cy="152.9" r="1.2" fill="#0000ff"/><circle cx="143.7" cy="152.2" r="1.2" fill="#0000ff"/><circle cx="144.2" cy="152.3" r="1.2" fill="#0000ff"/><circle cx="144.7" cy="151.7" r="1.2" fill="#0000ff"/><circle cx="145.2" cy="151.5" r="1.2" fill="#0000ff"/><circle cx="145.7" cy="151.0" r="1.2" fill="#0000ff"/><circle cx="146.2" cy="151.6" r="1.2" fill="#0000ff"/><circle cx="146.7" cy="152.2" r="1.2" fill="#0000ff"/><circle cx="147.3" cy="150.5" r="1.2" fill="#0000ff"/><circle cx="147.8" cy="151.5" r="1.2" fill="#0000ff"/><circle cx="148.3" cy="151.8" r="1.2" fill="#0000ff"/><circle cx="148.8" cy="151.8" r="1.2" fill="#0000ff"/><circle cx="149.3" cy="152.3" r="1.2" fill="#0000ff"/><circle cx="149.8" cy="151.3" r="1.2" fill="#0000ff"/><circle cx="150.3" cy="151.5" r="1.2" fill="#0000ff"/><circle cx="150.8" cy="150.9" r="1.2" fill="#0000ff"/><circle cx="151.3" cy="151.1" r="1.2" fill="#0000ff"/><circle cx="151.8" cy="151.2" r="1.2" fill="#0000ff"/><circle cx="152.3" cy="151.0" r="1.2" fill="#0000ff"/><circle cx="152.8" cy="151.8" r="1.2" fill="#0000ff"/><circle cx="153.4" cy="151.8" r="1.2" fill="#0000ff"/><circle cx="153.9" cy="151.7" r="1.2" fill="#0000ff"/><circle cx="154.4" cy="152.2" r="1.2" fill="#0000ff"/><circle cx="154.9" cy="151.7" r="1.2" fill="#0000ff"/><circle cx="155.4" cy="151.8" r="1.2" fill="#0000ff"/><circle cx="155.9" cy="151.3" r="1.2" fill="#0000ff"/><circle cx="156.4" cy="151.6" r="1.2" fill="#0000ff"/><circle cx="156.9" cy="152.5" r="1.2" fill="#0000ff"/><circle cx="157.4" cy="151.6" r="1.2" fill="#0000ff"/><circle cx="157.9" cy="151.0" r="1.2" fill="#0000ff"/><circle cx="158.4" cy="152.5" r="1.2" fill="#0000ff"/><circle cx="158.9" cy="152.0" r="1.2" fill="#0000ff"/><circle cx="159.4" cy="151.6" r="1.2" fill="#0000ff"/><circle cx="160.0" cy="152.2" r="1.2" fill="#0000ff"/><circle cx="160.5" cy="151.9" r="1.2" fill="#0000ff"/><circle cx="161.0" cy="151.6" r="1.2" fill="#0000ff"/><circle cx="161.5" cy="152.2" r="1.2" fill="#0000ff"/><circle cx="162.0" cy="151.5" r="1.2" fill="#0000ff"/><circle cx="162.5" cy="151.4" r="1.2" fill="#0000ff"/><circle cx="163.0" cy="152.2" r="1.2" fill="#0000ff"/><circle cx="163.5" cy="151.6" r="1.2" fill="#0000ff"/><circle cx="164.0" cy="151.1" r="1.2" fill="#0000ff"/><circle cx="164.5" cy="151.7" r="1.2" fill="#0000ff"/><circle cx="165.0" cy="151.4" r="1.2" fill="#0000ff"/><circle cx="165.5" cy="151.3" r="1.2" fill="#0000ff"/><circle cx="166.1" cy="151.7" r="1.2" fill="#0000ff"/><circle cx="166.6" cy="151.2" r="1.2" fill="#0000ff"/><circle cx="167.1" cy="151.4" r="1.2" fill="#0000ff"/><circle cx="167.6" cy="152.1" r="1.2" fill="#0000ff"/><circle cx="168.1" cy="151.4" r="1.2" fill="#0000ff"/><circle cx="168.6" cy="151.2" r="1.2" fill="#0000ff"/><circle cx="169.1" cy="151.2" r="1.2" fill="#0000ff"/><circle cx="169.6" cy="151.9" r="1.2" fill="#0000ff"/><circle cx="170.1" cy="151.4" r="1.2" fill="#0000ff"/><circle cx="170.6" cy="151.0" r="1.2" fill="#0000ff"/><circle cx="171.1" cy="151.5" r="1.2" fill="#0000ff"/><circle cx="171.6" cy="151.1" r="1.2" fill="#0000ff"/><circle cx="172.1" cy="151.0" r="1.2" fill="#0000ff"/><circle cx="172.7" cy="151.6" r="1.2" fill="#0000ff"/><circle cx="173.2" cy="151.3" r="1.2" fill="#0000ff"/><circle cx="173.7" cy="151.7" r="1.2" fill="#0000ff"/><circle cx="174.2" cy="151.1" r="1.2" fill="#0000ff"/><circle cx="174.7" cy="151.7" r="1.2" fill="#0000ff"/><circle cx="175.2" cy="151.9" r="1.2" fill="#0000ff"/><circle cx="175.7" cy="151.6" r="1.2" fill="#0000ff"/><circle cx="176.2" cy="151.6" r="1.2" fill="#0000ff"/><circle cx="176.7" cy="151.4" r="1.2" fill="#0000ff"/><circle cx="177.2" cy="151.4" r="1.2" fill="#0000ff"/><circle cx="177.7" cy="152.2" r="1.2" fill="#0000ff"/><circle cx="178.2" cy="151.9" r="1.2" fill="#0000ff"/><circle cx="178.8" cy="151.4" r="1.2" fill="#0000ff"/><circle cx="179.3" cy="151.4" r="1.2" fill="#0000ff"/><circle cx="179.8" cy="151.6" r="1.2" fill="#0000ff"/><circle cx="180.3" cy="150.4" r="1.2" fill="#0000ff"/><circle cx="180.8" cy="151.1" r="1.2" fill="#0000ff"/><circle cx="181.3" cy="151.6" r="1.2" fill="#0000ff"/><circle cx="181.8" cy="151.3" r="1.2" fill="#0000ff"/><circle cx="182.3" cy="151.0" r="1.2" fill="#0000ff"/><circle cx="182.8" cy="151.4" r="1.2" fill="#0000ff"/><circle cx="183.3" cy="152.4" r="1.2" fill="#0000ff"/><circle cx="183.8" cy="151.6" r="1.2" fill="#0000ff"/><circle cx="184.3" cy="151.6" r="1.2" fill="#0000ff"/><circle cx="184.8" cy="150.6" r="1.2" fill="#0000ff"/><circle cx="185.4" cy="152.5" r="1.2" fill="#0000ff"/><circle cx="185.9" cy="150.9" r="1.2" fill="#0000ff"/><circle cx="186.4" cy="151.7" r="1.2" fill="#0000ff"/><circle cx="186.9" cy="151.2" r="1.2" fill="#0000ff"/><circle cx="187.4" cy="151.7" r="1.2" fill="#0000ff"/><circle cx="187.9" cy="151.5" r="1.2" fill="#0000ff"/><circle cx="188.4" cy="151.1" r="1.2" fill="#0000ff"/><circle cx="188.9" cy="151.6" r="1.2" fill="#0000ff"/><circle cx="189.4" cy="151.1" r="1.2" fill="#0000ff"/><circle cx="189.9" cy="151.6" r="1.2" fill="#0000ff"/><circle cx="190.4" cy="151.8" r="1.2" fill="#0000ff"/><circle cx="190.9" cy="151.7" r="1.2" fill="#0000ff"/><circle cx="191.5" cy="151.8" r="1.2" fill="#0000ff"/><circle cx="192.0" cy="151.7" r="1.2" fill="#0000ff"/><circle cx="192.5" cy="151.0" r="1.2" fill="#0000ff"/><circle cx="193.0" cy="152.1" r="1.2" fill="#0000ff"/><circle cx="193.5" cy="152.4" r="1.2" fill="#0000ff"/><circle cx="194.0" cy="151.6" r="1.2" fill="#0000ff"/><circle cx="194.5" cy="150.8" r="1.2" fill="#0000ff"/><circle cx="195.0" cy="151.1" r="1.2" fill="#0000ff"/><circle cx="195.5" cy="151.0" r="1.2" fill="#0000ff"/><circle cx="196.0" cy="151.0" r="1.2" fill="#0000ff"/><circle cx="196.5" cy="151.9" r="1.2" fill="#0000ff"/><circle cx="197.0" cy="151.5" r="1.2" fill="#0000ff"/><circle cx="197.5" cy="152.8" r="1.2" fill="#0000ff"/><circle cx="198.1" cy="151.9" r="1.2" fill="#0000ff"/><circle cx="198.6" cy="151.3" r="1.2" fill="#0000ff"/><circle cx="199.1" cy="152.3" r="1.2" fill="#0000ff"/><circle cx="199.6" cy="152.5" r="1.2" fill="#0000ff"/><circle cx="200.1" cy="152.2" r="1.2" fill="#0000ff"/><circle cx="200.6" cy="151.5" r="1.2" fill="#0000ff"/><circle cx="201.1" cy="151.0" r="1.2" fill="#0000ff"/><circle cx="201.6" cy="150.4" r="1.2" fill="#0000ff"/><circle cx="202.1" cy="150.9" r="1.2" fill="#0000ff"/><circle cx="202.6" cy="152.3" r="1.2" fill="#0000ff"/><circle cx="203.1" cy="152.7" r="1.2" fill="#0000ff"/><circle cx="203.6" cy="151.5" r="1.2" fill="#0000ff"/><circle cx="204.2" cy="151.1" r="1.2" fill="#0000ff"/><circle cx="204.7" cy="152.3" r="1.2" fill="#0000ff"/><circle cx="205.2" cy="151.8" r="1.2" fill="#0000ff"/><circle cx="205.7" cy="151.8" r="1.2" fill="#0000ff"/><circle cx="206.2" cy="151.6" r="1.2" fill="#0000ff"/><circle cx="206.7" cy="151.7" r="1.2" fill="#0000ff"/><circle cx="207.2" cy="151.3" r="1.2" fill="#0000ff"/><circle cx="207.7" cy="151.1" r="1.2" fill="#0000ff"/><circle cx="208.2" cy="151.5" r="1.2" fill="#0000ff"/><circle cx="208.7" cy="151.2" r="1.2" fill="#0000ff"/><circle cx="209.2" cy="150.6" r="1.2" fill="#0000ff"/><circle cx="209.7" cy="152.0" r="1.2" fill="#0000ff"/><circle cx="210.2" cy="152.1" r="1.2" fill="#0000ff"/><circle cx="210.8" cy="151.3" r="1.2" fill="#0000ff"/><circle cx="211.3" cy="150.7" r="1.2" fill="#0000ff"/><circle cx="211.8" cy="151.5" r="1.2" fill="#0000ff"/><circle cx="212.3" cy="151.1" r="1.2" fill="#0000ff"/><circle cx="212.8" cy="151.7" r="1.2" fill="#0000ff"/><circle cx="213.3" cy="151.1" r="1.2" fill="#0000ff"/><circle cx="213.8" cy="151.9" r="1.2" fill="#0000ff"/><circle cx="214.3" cy="151.3" r="1.2" fill="#0000ff"/><circle cx="214.8" cy="151.4" r="1.2" fill="#0000ff"/><circle cx="215.3" cy="151.4" r="1.2" fill="#0000ff"/><circle cx="215.8" cy="150.9" r="1.2" fill="#0000ff"/><circle cx="216.3" cy="151.1" r="1.2" fill="#0000ff"/><circle cx="216.9" cy="151.8" r="1.2" fill="#0000ff"/><circle cx="217.4" cy="151.1" r="1.2" fill="#0000ff"/><circle cx="217.9" cy="152.3" r="1.2" fill="#0000ff"/><circle cx="218.4" cy="151.1" r="1.2" fill="#0000ff"/><circle cx="218.9" cy="150.3" r="1.2" fill="#0000ff"/><circle cx="219.4" cy="151.3" r="1.2" fill="#0000ff"/><circle cx="219.9" cy="151.3" r="1.2" fill="#0000ff"/><circle cx="220.4" cy="151.5" r="1.2" fill="#0000ff"/><circle cx="220.9" cy="151.2" r="1.2" fill="#0000ff"/><circle cx="221.4" cy="151.8" r="1.2" fill="#0000ff"/><circle cx="221.9" cy="151.2" r="1.2" fill="#0000ff"/><circle cx="222.4" cy="151.7" r="1.2" fill="#0000ff"/><circle cx="222.9" cy="151.7" r="1.2" fill="#0000ff"/><circle cx="223.5" cy="151.5" r="1.2" fill="#0000ff"/><circle cx="224.0" cy="151.6" r="1.2" fill="#0000ff"/><circle cx="224.5" cy="152.4" r="1.2" fill="#0000ff"/><circle cx="225.0" cy="150.6" r="1.2" fill="#0000ff"/><circle cx="225.5" cy="151.5" r="1.2" fill="#0000ff"/><circle cx="226.0" cy="152.3" r="1.2" fill="#0000ff"/><circle cx="226.5" cy="151.0" r="1.2" fill="#0000ff"/><circle cx="227.0" cy="151.6" r="1.2" fill="#0000ff"/><circle cx="227.5" cy="151.4" r="1.2" fill="#0000ff"/><circle cx="228.0" cy="151.2" r="1.2" fill="#0000ff"/><circle cx="228.5" cy="152.1" r="1.2" fill="#008000"/><circle cx="229.0" cy="153.3" r="1.2" fill="#008000"/><circle cx="229.6" cy="151.6" r="1.2" fill="#008000"/><circle cx="230.1" cy="151.4" r="1.2" fill="#008000"/><circle cx="230.6" cy="150.9" r="1.2" fill="#008000"/><circle cx="231.1" cy="152.0" r="1.2" fill="#008000"/><circle cx="231.6" cy="151.7" r="1.2" fill="#008000"/><circle cx="232.1" cy="151.3" r="1.2" fill="#008000"/><circle cx="232.6" cy="160.3" r="1.2" fill="#008000"/><circle cx="233.1" cy="151.7" r="1.2" fill="#008000"/><circle cx="233.6" cy="151.4" r="1.2" fill="#008000"/><circle cx="234.1" cy="152.1" r="1.2" fill="#008000"/><circle cx="234.6" cy="147.3" r="1.2" fill="#008000"/><circle cx="235.1" cy="152.1" r="1.2" fill="#008000"/><circle cx="235.6" cy="151.5" r="1.2" fill="#008000"/><circle cx="236.2" cy="158.1" r="1.2" fill="#008000"/><circle cx="236.7" cy="188.8" r="1.2" fill="#008000"/><circle cx="237.2" cy="151.2" r="1.2" fill="#008000"/><circle cx="237.7" cy="150.9" r="1.2" fill="#008000"/><circle cx="238.2" cy="150.6" r="1.2" fill="#008000"/><circle cx="238.7" cy="154.7" r="1.2" fill="#008000"/><circle cx="239.2" cy="151.8" r="1.2" fill="#008000"/><circle cx="239.7" cy="135.8" r="1.2" fill="#008000"/><circle cx="240.2" cy="152.4" r="1.2" fill="#008000"/><circle cx="240.7" cy="151.5" r="1.2" fill="#008000"/><circle cx="241.2" cy="154.1" r="1.2" fill="#008000"/><circle cx="241.7" cy="151.2" r="1.2" fill="#008000"/><circle cx="242.3" cy="152.2" r="1.2" fill="#008000"/><circle cx="242.8" cy="172.7" r="1.2" fill="#008000"/><circle cx="243.3" cy="150.5" r="1.2" fill="#008000"/><circle cx="243.8" cy="167.4" r="1.2" fill="#008000"/><circle cx="244.3" cy="152.6" r="1.2" fill="#008000"/><circle cx="244.8" cy="171.1" r="1.2" fill="#008000"/><circle cx="245.3" cy="151.5" r="1.2" fill="#008000"/><circle cx="245.8" cy="144.8" r="1.2" fill="#008000"/><circle cx="246.3" cy="151.5" r="1.2" fill="#008000"/><circle cx="246.8" cy="150.8" r="1.2" fill="#008000"/><circle cx="247.3" cy="139.2" r="1.2" fill="#008000"/><circle cx="247.8" cy="140.4" r="1.2" fill="#008000"/><circle cx="248.3" cy="144.3" r="1.2" fill="#008000"/><circle cx="248.9" cy="151.8" r="1.2" fill="#008000"/><circle cx="249.4" cy="151.4" r="1.2" fill="#008000"/><circle cx="249.9" cy="151.8" r="1.2" fill="#008000"/><circle cx="250.4" cy="151.9" r="1.2" fill="#008000"/><circle cx="250.9" cy="143.5" r="1.2" fill="#008000"/><circle cx="251.4" cy="168.3" r="1.2" fill="#008000"/><circle cx="251.9" cy="147.3" r="1.2" fill="#008000"/><circle cx="252.4" cy="152.0" r="1.2" fill="#008000"/><circle cx="252.9" cy="151.6" r="1.2" fill="#008000"/><circle cx="253.4" cy="142.9" r="1.2" fill="#008000"/><circle cx="253.9" cy="150.9" r="1.2" fill="#008000"/><circle cx="254.4" cy="151.5" r="1.2" fill="#008000"/><circle cx="255.0" cy="151.5" r="1.2" fill="#008000"/><circle cx="255.5" cy="150.5" r="1.2" fill="#008000"/><circle cx="256.0" cy="146.3" r="1.2" fill="#008000"/><circle cx="256.5" cy="152.2" r="1.2" fill="#008000"/><circle cx="257.0" cy="153.3" r="1.2" fill="#008000"/><circle cx="257.5" cy="151.6" r="1.2" fill="#008000"/><circle cx="258.0" cy="146.0" r="1.2" fill="#008000"/><circle cx="258.5" cy="141.7" r="1.2" fill="#008000"/><circle cx="259.0" cy="151.4" r="1.2" fill="#008000"/><circle cx="259.5" cy="152.1" r="1.2" fill="#008000"/><circle cx="260.0" cy="140.1" r="1.2" fill="#008000"/><circle cx="260.5" cy="151.4" r="1.2" fill="#008000"/><circle cx="261.0" cy="151.7" r="1.2" fill="#008000"/><circle cx="261.6" cy="152.3" r="1.2" fill="#008000"/><circle cx="262.1" cy="151.3" r="1.2" fill="#008000"/><circle cx="262.6" cy="204.6" r="1.2" fill="#008000"/><circle cx="263.1" cy="144.2" r="1.2" fill="#008000"/><circle cx="263.6" cy="151.4" r="1.2" fill="#008000"/><circle cx="264.1" cy="151.4" r="1.2" fill="#008000"/><circle cx="264.6" cy="152.1" r="1.2" fill="#008000"/><circle cx="265.1" cy="182.3" r="1.2" fill="#008000"/><circle cx="265.6" cy="152.2" r="1.2" fill="#008000"/><circle cx="266.1" cy="152.3" r="1.2" fill="#008000"/><circle cx="266.6" cy="151.4" r="1.2" fill="#008000"/><circle cx="267.1" cy="151.5" r="1.2" fill="#008000"/><circle cx="267.7" cy="151.5" r="1.2" fill="#008000"/><circle cx="268.2" cy="151.8" r="1.2" fill="#008000"/><circle cx="268.7" cy="151.6" r="1.2" fill="#008000"/><circle cx="269.2" cy="151.9" r="1.2" fill="#008000"/><circle cx="269.7" cy="158.1" r="1.2" fill="#008000"/><circle cx="270.2" cy="142.0" r="1.2" fill="#008000"/><circle cx="270.7" cy="152.2" r="1.2" fill="#008000"/><circle cx="271.2" cy="151.7" r="1.2" fill="#008000"/><circle cx="271.7" cy="151.1" r="1.2" fill="#008000"/><circle cx="272.2" cy="151.6" r="1.2" fill="#008000"/><circle cx="272.7" cy="148.5" r="1.2" fill="#008000"/><circle cx="273.2" cy="152.5" r="1.2" fill="#008000"/><circle cx="273.7" cy="152.1" r="1.2" fill="#008000"/><circle cx="274.3" cy="169.6" r="1.2" fill="#008000"/><circle cx="274.8" cy="150.7" r="1.2" fill="#008000"/><circle cx="275.3" cy="213.6" r="1.2" fill="#008000"/><circle cx="275.8" cy="152.5" r="1.2" fill="#008000"/><circle cx="276.3" cy="150.9" r="1.2" fill="#008000"/><circle cx="276.8" cy="152.2" r="1.2" fill="#008000"/><circle cx="277.3" cy="151.7" r="1.2" fill="#008000"/><circle cx="277.8" cy="151.0" r="1.2" fill="#008000"/>
<line x1="17.2" y1="151.6" x2="289.5" y2="151.6" stroke="#ff0000" stroke-opacity="0.8" stroke-width="0.7" stroke-dasharray="2,1.3"/>
<rect x="17.2" y="118.4" width="272.3" height="99.8" class="fr"/>
<line x1="15.7" y1="120.6" x2="17.2" y2="120.6" class="tk"/>
<text x="13.8" y="122.2" class="yl">10</text>
<line x1="15.7" y1="136.1" x2="17.2" y2="136.1" class="tk"/>
<text x="13.8" y="137.7" class="yl">5</text>
<line x1="15.7" y1="151.6" x2="17.2" y2="151.6" class="tk"/>
<text x="13.8" y="153.2" class="yl">0</text>
<line x1="15.7" y1="167.1" x2="17.2" y2="167.1" class="tk"/>
<text x="13.8" y="168.7" class="yl">−5</text>
<line x1="15.7" y1="182.6" x2="17.2" y2="182.6" class="tk"/>
<text x="13.8" y="184.2" class="yl">−10</text>
<line x1="15.7" y1="198.1" x2="17.2" y2="198.1" class="tk"/>
<text x="13.8" y="199.7" class="yl">−15</text>
<line x1="15.7" y1="213.6" x2="17.2" y2="213.6" class="tk"/>
<text x="13.8" y="215.2" class="yl">−20</text>
<text transform="translate(3.2,168.3) rotate(-90)" class="al">Residuals</text>
<text x="153.3" y="230.0" class="al">Data Points</text>
<rect x="239" y="120.4" width="49.0" height="12.7" rx="0.8" class="lg"/>
<circle cx="245.0" cy="123.7" r="1.25" fill="#0000ff"/>
<text x="252.3" y="125.2" class="lt">Residuals (Train)</text>
<circle cx="245.0" cy="129.8" r="1.25" fill="#008000"/>
<text x="252.3" y="131.3" class="lt">Residuals (Test)</text>
</g>
<text x="145.0" y="265.0" class="cap">(a) XGBoost</text>
<g style="font-size:0.9873px">
<text x="551.0" y="4.55" class="tt">Actual vs Predicted and Residuals for GradientBoosting (Train &amp; Test Data)</text>
<path d="M431.29,59.55V55.18M432.77,85.29V79.22M433.27,63.24V66.51M433.76,75.41V72.09M434.25,60.62V63.32M434.75,46.51V42.08M435.24,62.05V56.65M435.74,74.45V71.10M436.72,69.78V72.68M437.22,71.63V75.13M437.71,69.52V67.44M439.69,31.47V24.98M440.68,89.64V91.80M441.17,67.13V70.49M441.67,37.73V29.54M442.16,85.09V93.71M443.15,77.57V79.89M443.64,85.33V87.71M444.14,88.68V92.32M446.11,77.79V81.38M446.61,71.15V69.04M447.60,77.04V74.52M451.06,63.24V58.63M451.55,81.73V85.62M452.04,79.05V82.21M452.54,48.95V45.50M453.03,87.87V93.13M453.53,68.46V74.15M454.02,63.24V66.25M455.01,60.04V56.89M455.50,62.76V60.14M456.99,62.75V59.92M458.47,41.60V35.24M458.96,88.93V92.24M459.95,44.37V39.80M460.45,61.09V63.36M460.94,78.79V76.21M461.43,71.02V73.10M462.42,79.81V82.18M464.40,54.91V49.19M464.89,44.93V40.64M465.88,66.61V73.06M467.86,83.73V87.55M468.35,66.17V64.01M468.85,68.44V65.48M469.34,76.37V72.39M471.32,64.98V67.47M471.81,59.41V55.98M473.30,86.55V88.88M473.79,31.00V26.12M474.78,51.32V45.34M475.27,94.07V89.53M476.26,68.31V65.29M476.75,54.96V52.33M477.74,83.73V80.02M481.20,69.86V72.78M482.69,77.14V80.48M483.67,75.41V72.59M484.66,62.72V58.91M485.16,59.98V63.94M485.65,49.18V45.80M486.14,65.26V67.57M486.64,73.40V77.10M487.63,63.18V59.15M488.62,74.10V77.21M489.11,78.37V80.77M490.10,77.26V81.35M490.59,81.12V76.89M492.57,75.22V70.02M493.06,67.05V60.95M494.55,54.33V48.92M495.04,87.50V92.65M496.03,80.47V78.40M498.50,61.31V58.28M499.49,76.55V80.53M499.98,79.56V82.28M500.48,79.31V76.07M501.46,78.61V81.04M503.44,86.86V93.51M504.92,62.26V59.00M505.42,61.33V63.38M506.41,79.49V81.91M507.40,64.05V59.84M508.38,47.35V43.23M509.37,71.14V68.49M509.87,69.18V66.24M510.36,67.83V64.68M510.85,66.94V64.66M511.35,65.44V68.73M511.84,66.12V69.67M512.83,74.07V76.91M514.31,73.92V77.88M516.78,52.00V47.78M517.28,79.48V77.38M517.77,72.37V75.02M518.27,76.43V78.63M518.76,72.23V68.60M520.24,80.01V87.13M521.73,79.56V82.26M522.22,79.82V76.15M523.70,75.41V78.80M524.20,81.92V86.07M524.69,76.60V79.09M529.14,69.37V65.27M529.63,85.95V88.59M534.58,26.36V18.14M535.56,80.51V77.15M537.54,64.61V57.69M539.52,36.18V31.82M540.01,57.09V53.25M541.00,71.89V74.14M542.48,86.88V91.47M543.47,84.41V86.74M543.97,67.00V64.57M545.45,56.65V58.79M546.44,87.27V93.33M547.43,62.06V67.21M547.92,48.37V45.50M549.90,86.51V91.35M550.39,80.36V77.80M550.88,78.54V75.64M551.38,73.61V77.01M553.85,55.70V59.81M554.34,64.22V61.88M555.33,72.09V74.83M555.83,45.56V39.80M556.32,48.88V46.79M556.82,62.73V58.84M558.30,60.49V56.21M558.79,67.83V65.46M560.27,81.72V84.61M564.72,89.26V93.46M565.22,77.29V84.05M565.71,66.97V70.90M566.21,66.80V64.47M567.69,63.76V66.51M568.68,61.60V58.45M570.16,69.18V65.20M571.15,80.31V82.52M571.64,59.82V55.53M572.14,62.54V65.76M572.63,33.65V27.26M573.12,66.36V68.56M573.62,74.93V77.50M576.58,78.80V76.46M577.08,85.88V83.79M579.05,81.60V85.84M580.04,19.48V12.44M581.03,65.69V69.56M581.53,80.83V75.60M582.02,67.71V70.48M582.51,90.16V92.75M583.50,66.46V69.34M584.49,14.00V11.30M584.98,73.80V77.79M585.48,66.74V71.03M585.97,41.45V37.23M586.96,81.42V83.69M587.46,76.71V74.42M587.95,75.86V73.14M590.42,46.97V40.52M590.91,55.01V52.30M591.41,91.92V95.66M593.39,44.18V39.80M593.88,51.81V49.34M594.37,51.93V46.03M594.87,63.31V59.44M595.36,65.33V68.13M597.34,66.10V63.48M598.33,60.33V57.46M600.30,76.10V80.49M601.29,90.43V95.66M601.79,69.64V65.33M604.26,36.86V34.10M605.74,70.87V66.99M606.24,54.86V52.23M606.73,50.26V47.25M608.21,92.18V95.03M608.71,73.09V69.65M609.20,76.54V71.56M612.66,63.82V68.84M615.62,70.64V64.91M616.12,39.89V35.24M619.58,18.67V13.58M621.56,82.96V86.28M622.54,68.82V74.81M623.04,57.63V53.51M623.53,91.28V94.16" stroke="#0000ff" stroke-width="0.8" fill="none"/>
<path d="M430.30,71.19L430.79,57.43M431.29,59.55L431.78,47.51M432.28,76.76L432.77,85.29M433.27,63.24L433.76,75.41M434.25,60.62L434.75,46.51M435.24,62.05L435.74,74.45M436.23,62.98L436.72,69.78M437.22,71.63L437.71,69.52M438.21,62.06L438.70,72.97M439.20,74.50L439.69,31.47M440.18,81.49L440.68,89.64M441.17,67.13L441.67,37.73M442.16,85.09L442.66,86.63M443.15,77.57L443.64,85.33M444.14,88.68L444.63,73.66M445.13,63.02L445.62,72.66M446.11,77.79L446.61,71.15M447.10,62.93L447.60,77.04M448.09,66.39L448.59,58.84M449.08,73.52L449.57,82.72M450.07,67.80L450.56,68.59M451.06,63.24L451.55,81.73M452.04,79.05L452.54,48.95M453.03,87.87L453.53,68.46M454.02,63.24L454.52,79.96M455.01,60.04L455.50,62.76M456.00,64.80L456.49,53.54M456.99,62.75L457.48,87.06M457.98,66.05L458.47,41.60M458.96,88.93L459.46,71.56M459.95,44.37L460.45,61.09M460.94,78.79L461.43,71.02M461.93,68.45L462.42,79.81M462.92,68.16L463.41,73.46M463.91,67.08L464.40,54.91M464.89,44.93L465.39,63.32M465.88,66.61L466.38,65.01M466.87,57.29L467.37,49.28M467.86,83.73L468.35,66.17M468.85,68.44L469.34,76.37M469.84,85.27L470.33,58.99M470.82,84.27L471.32,64.98M471.81,59.41L472.31,87.65M472.80,62.57L473.30,86.55M473.79,31.00L474.28,54.79M474.78,51.32L475.27,94.07M475.77,82.29L476.26,68.31M476.75,54.96L477.25,64.35M477.74,83.73L478.24,69.27M478.73,72.89L479.23,74.04M479.72,81.51L480.21,69.20M480.71,69.79L481.20,69.86M481.70,74.36L482.19,89.04M482.69,77.14L483.18,59.10M483.67,75.41L484.17,88.26M484.66,62.72L485.16,59.98M485.65,49.18L486.14,65.26M486.64,73.40L487.13,88.95M487.63,63.18L488.12,36.33M488.62,74.10L489.11,78.37M489.60,66.74L490.10,77.26M490.59,81.12L491.09,77.74M491.58,70.01L492.07,59.30M492.57,75.22L493.06,67.05M493.56,74.03L494.05,69.90M494.55,54.33L495.04,87.50M495.53,65.28L496.03,80.47M496.52,65.34L497.02,64.70M497.51,54.32L498.01,59.71M498.50,61.31L498.99,69.68M499.49,76.55L499.98,79.56M500.48,79.31L500.97,85.39M501.46,78.61L501.96,74.59M502.45,70.76L502.95,75.61M503.44,86.86L503.94,76.64M504.43,53.09L504.92,62.26M505.42,61.33L505.91,80.00M506.41,79.49L506.90,48.48M507.40,64.05L507.89,50.04M508.38,47.35L508.88,76.53M509.37,71.14L509.87,69.18M510.36,67.83L510.85,66.94M511.35,65.44L511.84,66.12M512.34,88.01L512.83,74.07M513.33,81.59L513.82,72.39M514.31,73.92L514.81,64.04M515.30,60.11L515.80,65.47M516.29,67.60L516.78,52.00M517.28,79.48L517.77,72.37M518.27,76.43L518.76,72.23M519.26,73.40L519.75,66.37M520.24,80.01L520.74,62.49M521.23,79.35L521.73,79.56M522.22,79.82L522.72,78.72M523.21,70.60L523.70,75.41M524.20,81.92L524.69,76.60M525.19,58.50L525.68,69.27M526.17,84.85L526.67,74.30M527.16,90.91L527.66,52.76M528.15,86.14L528.65,69.60M529.14,69.37L529.63,85.95M530.13,71.78L530.62,59.64M531.12,66.48L531.61,69.22M532.11,60.15L532.60,67.84M533.09,67.97L533.59,74.08M534.08,63.02L534.58,26.36M535.07,64.35L535.56,80.51M536.06,87.40L536.55,69.16M537.05,52.57L537.54,64.61M538.04,76.96L538.53,66.49M539.02,74.91L539.52,36.18M540.01,57.09L540.51,93.35M541.00,71.89L541.50,85.89M541.99,81.76L542.48,86.88M542.98,92.15L543.47,84.41M543.97,67.00L544.46,52.30M544.95,70.35L545.45,56.65M545.94,73.90L546.44,87.27M546.93,73.90L547.43,62.06M547.92,48.37L548.41,71.05M548.91,66.72L549.40,82.83M549.90,86.51L550.39,80.36M550.88,78.54L551.38,73.61M551.87,60.56L552.37,51.19M552.86,73.47L553.36,65.34M553.85,55.70L554.34,64.22M554.84,59.11L555.33,72.09M555.83,45.56L556.32,48.88M556.82,62.73L557.31,78.00M557.80,65.69L558.30,60.49M558.79,67.83L559.29,76.00M559.78,53.05L560.27,81.72M560.77,69.75L561.26,71.17M561.76,88.44L562.25,61.68M562.75,67.19L563.24,84.45M563.73,65.53L564.23,75.66M564.72,89.26L565.22,77.29M565.71,66.97L566.21,66.80M566.70,68.33L567.19,70.91M567.69,63.76L568.18,72.25M568.68,61.60L569.17,68.89M569.66,67.33L570.16,69.18M570.65,82.14L571.15,80.31M571.64,59.82L572.14,62.54M572.63,33.65L573.12,66.36M573.62,74.93L574.11,68.33M574.61,79.03L575.10,70.40M575.59,89.07L576.09,60.96M576.58,78.80L577.08,85.88M577.57,78.56L578.07,78.37M578.56,70.35L579.05,81.60M579.55,70.97L580.04,19.48M580.54,81.64L581.03,65.69M581.53,80.83L582.02,67.71M582.51,90.16L583.01,89.19M583.50,66.46L584.00,70.88M584.49,14.00L584.98,73.80M585.48,66.74L585.97,41.45M586.47,76.16L586.96,81.42M587.46,76.71L587.95,75.86M588.44,63.28L588.94,68.92M589.43,79.05L589.93,70.00M590.42,46.97L590.91,55.01M591.41,91.92L591.90,77.08M592.40,83.32L592.89,66.17M593.39,44.18L593.88,51.81M594.37,51.93L594.87,63.31M595.36,65.33L595.86,71.61M596.35,70.04L596.85,56.92M597.34,66.10L597.83,69.92M598.33,60.33L598.82,67.97M599.32,72.97L599.81,81.60M600.30,76.10L600.80,65.45M601.29,90.43L601.79,69.64M602.28,65.86L602.78,74.13M603.27,61.63L603.76,64.72M604.26,36.86L604.75,94.22M605.25,77.53L605.74,70.87M606.24,54.86L606.73,50.26M607.22,53.29L607.72,81.42M608.21,92.18L608.71,73.09M609.20,76.54L609.69,59.35M610.19,72.44L610.68,71.29M611.18,45.55L611.67,68.32M612.17,75.43L612.66,63.82M613.15,68.22L613.65,72.44M614.14,68.63L614.64,71.93M615.13,64.59L615.62,70.64M616.12,39.89L616.61,80.83M617.11,53.64L617.60,71.34M618.10,60.74L618.59,66.04M619.08,62.36L619.58,18.67M620.07,73.13L620.57,71.03M621.06,66.23L621.56,82.96M622.05,80.91L622.54,68.82M623.04,57.63L623.53,91.28" fill="none" stroke="#008000" stroke-width="1.30" stroke-opacity="0.75" stroke-linecap="round"/><path d="M430.79,57.43L431.29,59.55M431.78,47.51L432.28,76.76M432.77,85.29L433.27,63.24M433.76,75.41L434.25,60.62M434.75,46.51L435.24,62.05M435.74,74.45L436.23,62.98M436.72,69.78L437.22,71.63M437.71,69.52L438.21,62.06M438.70,72.97L439.20,74.50M439.69,31.47L440.18,81.49M440.68,89.64L441.17,67.13M441.67,37.73L442.16,85.09M442.66,86.63L443.15,77.57M443.64,85.33L444.14,88.68M444.63,73.66L445.13,63.02M445.62,72.66L446.11,77.79M446.61,71.15L447.10,62.93M447.60,77.04L448.09,66.39M448.59,58.84L449.08,73.52M449.57,82.72L450.07,67.80M450.56,68.59L451.06,63.24M451.55,81.73L452.04,79.05M452.54,48.95L453.03,87.87M453.53,68.46L454.02,63.24M454.52,79.96L455.01,60.04M455.50,62.76L456.00,64.80M456.49,53.54L456.99,62.75M457.48,87.06L457.98,66.05M458.47,41.60L458.96,88.93M459.46,71.56L459.95,44.37M460.45,61.09L460.94,78.79M461.43,71.02L461.93,68.45M462.42,79.81L462.92,68.16M463.41,73.46L463.91,67.08M464.40,54.91L464.89,44.93M465.39,63.32L465.88,66.61M466.38,65.01L466.87,57.29M467.37,49.28L467.86,83.73M468.35,66.17L468.85,68.44M469.34,76.37L469.84,85.27M470.33,58.99L470.82,84.27M471.32,64.98L471.81,59.41M472.31,87.65L472.80,62.57M473.30,86.55L473.79,31.00M474.28,54.79L474.78,51.32M475.27,94.07L475.77,82.29M476.26,68.31L476.75,54.96M477.25,64.35L477.74,83.73M478.24,69.27L478.73,72.89M479.23,74.04L479.72,81.51M480.21,69.20L480.71,69.79M481.20,69.86L481.70,74.36M482.19,89.04L482.69,77.14M483.18,59.10L483.67,75.41M484.17,88.26L484.66,62.72M485.16,59.98L485.65,49.18M486.14,65.26L486.64,73.40M487.13,88.95L487.63,63.18M488.12,36.33L488.62,74.10M489.11,78.37L489.60,66.74M490.10,77.26L490.59,81.12M491.09,77.74L491.58,70.01M492.07,59.30L492.57,75.22M493.06,67.05L493.56,74.03M494.05,69.90L494.55,54.33M495.04,87.50L495.53,65.28M496.03,80.47L496.52,65.34M497.02,64.70L497.51,54.32M498.01,59.71L498.50,61.31M498.99,69.68L499.49,76.55M499.98,79.56L500.48,79.31M500.97,85.39L501.46,78.61M501.96,74.59L502.45,70.76M502.95,75.61L503.44,86.86M503.94,76.64L504.43,53.09M504.92,62.26L505.42,61.33M505.91,80.00L506.41,79.49M506.90,48.48L507.40,64.05M507.89,50.04L508.38,47.35M508.88,76.53L509.37,71.14M509.87,69.18L510.36,67.83M510.85,66.94L511.35,65.44M511.84,66.12L512.34,88.01M512.83,74.07L513.33,81.59M513.82,72.39L514.31,73.92M514.81,64.04L515.30,60.11M515.80,65.47L516.29,67.60M516.78,52.00L517.28,79.48M517.77,72.37L518.27,76.43M518.76,72.23L519.26,73.40M519.75,66.37L520.24,80.01M520.74,62.49L521.23,79.35M521.73,79.56L522.22,79.82M522.72,78.72L523.21,70.60M523.70,75.41L524.20,81.92M524.69,76.60L525.19,58.50M525.68,69.27L526.17,84.85M526.67,74.30L527.16,90.91M527.66,52.76L528.15,86.14M528.65,69.60L529.14,69.37M529.63,85.95L530.13,71.78M530.62,59.64L531.12,66.48M531.61,69.22L532.11,60.15M532.60,67.84L533.09,67.97M533.59,74.08L534.08,63.02M534.58,26.36L535.07,64.35M535.56,80.51L536.06,87.40M536.55,69.16L537.05,52.57M537.54,64.61L538.04,76.96M538.53,66.49L539.02,74.91M539.52,36.18L540.01,57.09M540.51,93.35L541.00,71.89M541.50,85.89L541.99,81.76M542.48,86.88L542.98,92.15M543.47,84.41L543.97,67.00M544.46,52.30L544.95,70.35M545.45,56.65L545.94,73.90M546.44,87.27L546.93,73.90M547.43,62.06L547.92,48.37M548.41,71.05L548.91,66.72M549.40,82.83L549.90,86.51M550.39,80.36L550.88,78.54M551.38,73.61L551.87,60.56M552.37,51.19L552.86,73.47M553.36,65.34L553.85,55.70M554.34,64.22L554.84,59.11M555.33,72.09L555.83,45.56M556.32,48.88L556.82,62.73M557.31,78.00L557.80,65.69M558.30,60.49L558.79,67.83M559.29,76.00L559.78,53.05M560.27,81.72L560.77,69.75M561.26,71.17L561.76,88.44M562.25,61.68L562.75,67.19M563.24,84.45L563.73,65.53M564.23,75.66L564.72,89.26M565.22,77.29L565.71,66.97M566.21,66.80L566.70,68.33M567.19,70.91L567.69,63.76M568.18,72.25L568.68,61.60M569.17,68.89L569.66,67.33M570.16,69.18L570.65,82.14M571.15,80.31L571.64,59.82M572.14,62.54L572.63,33.65M573.12,66.36L573.62,74.93M574.11,68.33L574.61,79.03M575.10,70.40L575.59,89.07M576.09,60.96L576.58,78.80M577.08,85.88L577.57,78.56M578.07,78.37L578.56,70.35M579.05,81.60L579.55,70.97M580.04,19.48L580.54,81.64M581.03,65.69L581.53,80.83M582.02,67.71L582.51,90.16M583.01,89.19L583.50,66.46M584.00,70.88L584.49,14.00M584.98,73.80L585.48,66.74M585.97,41.45L586.47,76.16M586.96,81.42L587.46,76.71M587.95,75.86L588.44,63.28M588.94,68.92L589.43,79.05M589.93,70.00L590.42,46.97M590.91,55.01L591.41,91.92M591.90,77.08L592.40,83.32M592.89,66.17L593.39,44.18M593.88,51.81L594.37,51.93M594.87,63.31L595.36,65.33M595.86,71.61L596.35,70.04M596.85,56.92L597.34,66.10M597.83,69.92L598.33,60.33M598.82,67.97L599.32,72.97M599.81,81.60L600.30,76.10M600.80,65.45L601.29,90.43M601.79,69.64L602.28,65.86M602.78,74.13L603.27,61.63M603.76,64.72L604.26,36.86M604.75,94.22L605.25,77.53M605.74,70.87L606.24,54.86M606.73,50.26L607.22,53.29M607.72,81.42L608.21,92.18M608.71,73.09L609.20,76.54M609.69,59.35L610.19,72.44M610.68,71.29L611.18,45.55M611.67,68.32L612.17,75.43M612.66,63.82L613.15,68.22M613.65,72.44L614.14,68.63M614.64,71.93L615.13,64.59M615.62,70.64L616.12,39.89M616.61,80.83L617.11,53.64M617.60,71.34L618.10,60.74M618.59,66.04L619.08,62.36M619.58,18.67L620.07,73.13M620.57,71.03L621.06,66.23M621.56,82.96L622.05,80.91M622.54,68.82L623.04,57.63" fill="none" stroke="#008000" stroke-width="1.30" stroke-opacity="0.75" stroke-linecap="round"/>
<path d="M624.03,82.45V91.48M624.52,79.87V88.42M625.01,73.38V80.42M625.51,77.75V85.13M626.50,60.39V56.77M626.99,69.63V72.62M627.49,72.35V75.61M627.98,69.09V76.38M628.97,72.68V75.77M629.46,66.45V65.20M629.96,63.60V65.12M630.95,61.37V59.50M631.44,63.99V67.52M631.93,63.50V67.38M632.43,50.29V48.03M632.92,68.68V66.74M633.42,57.54V59.45M633.91,68.78V67.28M634.40,42.26V46.64M634.90,72.71V75.68M635.39,73.15V80.20M635.89,72.24V70.92M636.38,73.23V76.90M636.88,70.14V75.64M638.36,51.38V55.74M638.85,62.72V64.22M639.35,59.31V58.36M639.84,73.32V75.11M640.34,31.84V28.40M641.32,57.17V54.82M642.31,66.24V64.56M642.81,56.37V58.49M643.30,76.39V81.76M643.79,74.14V81.53M644.29,64.86V66.18M644.78,60.81V59.20M645.28,27.73V26.12M645.77,68.43V72.27M646.76,69.05V72.50M647.25,70.28V84.36M647.75,80.97V88.93M648.24,69.76V73.45M648.74,84.33V90.96M649.72,76.06V79.74M650.22,75.66V83.74M651.70,67.58V71.41M652.20,76.67V82.03M652.69,77.36V80.43M653.68,66.67V64.70M654.17,70.92V74.55M655.16,50.92V48.92M655.66,65.82V67.46M656.15,54.12V50.36M656.64,68.00V71.69M657.14,69.17V65.08M657.63,60.77V64.07M658.13,69.69V71.78M658.62,78.00V84.09M659.11,65.30V63.73M659.61,64.57V65.82M661.09,66.62V69.60M661.59,76.25V80.59M662.57,80.87V91.27M663.07,68.88V73.50M663.56,80.38V88.45M664.06,30.94V28.40M665.04,68.68V72.04M665.54,69.58V76.12M666.03,66.74V64.85M666.53,70.80V72.55M667.02,72.32V75.37M667.52,71.15V75.63M668.01,50.67V52.87M669.49,74.65V83.32M669.99,67.30V64.75M670.48,51.75V48.92M671.47,76.85V83.05" stroke="#ffa500" stroke-width="0.8" fill="none"/>
<path d="M623.53,91.28L624.03,82.45M624.52,79.87L625.01,73.38M625.51,77.75L626.00,68.37M626.50,60.39L626.99,69.63M627.49,72.35L627.98,69.09M628.47,68.36L628.97,72.68M629.46,66.45L629.96,63.60M630.45,65.03L630.95,61.37M631.44,63.99L631.93,63.50M632.43,50.29L632.92,68.68M633.42,57.54L633.91,68.78M634.40,42.26L634.90,72.71M635.39,73.15L635.89,72.24M636.38,73.23L636.88,70.14M637.37,55.57L637.86,69.52M638.36,51.38L638.85,62.72M639.35,59.31L639.84,73.32M640.34,31.84L640.83,37.13M641.32,57.17L641.82,55.93M642.31,66.24L642.81,56.37M643.30,76.39L643.79,74.14M644.29,64.86L644.78,60.81M645.28,27.73L645.77,68.43M646.27,73.93L646.76,69.05M647.25,70.28L647.75,80.97M648.24,69.76L648.74,84.33M649.23,51.30L649.72,76.06M650.22,75.66L650.71,68.44M651.21,74.36L651.70,67.58M652.20,76.67L652.69,77.36M653.18,64.98L653.68,66.67M654.17,70.92L654.67,66.11M655.16,50.92L655.66,65.82M656.15,54.12L656.64,68.00M657.14,69.17L657.63,60.77M658.13,69.69L658.62,78.00M659.11,65.30L659.61,64.57M660.10,68.54L660.60,69.04M661.09,66.62L661.59,76.25M662.08,68.24L662.57,80.87M663.07,68.88L663.56,80.38M664.06,30.94L664.55,62.58M665.04,68.68L665.54,69.58M666.03,66.74L666.53,70.80M667.02,72.32L667.52,71.15M668.01,50.67L668.50,60.02M669.00,62.51L669.49,74.65M669.99,67.30L670.48,51.75M670.98,67.42L671.47,76.85" fill="none" stroke="#ff0000" stroke-width="1.30" stroke-opacity="0.75" stroke-linecap="round"/><path d="M624.03,82.45L624.52,79.87M625.01,73.38L625.51,77.75M626.00,68.37L626.50,60.39M626.99,69.63L627.49,72.35M627.98,69.09L628.47,68.36M628.97,72.68L629.46,66.45M629.96,63.60L630.45,65.03M630.95,61.37L631.44,63.99M631.93,63.50L632.43,50.29M632.92,68.68L633.42,57.54M633.91,68.78L634.40,42.26M634.90,72.71L635.39,73.15M635.89,72.24L636.38,73.23M636.88,70.14L637.37,55.57M637.86,69.52L638.36,51.38M638.85,62.72L639.35,59.31M639.84,73.32L640.34,31.84M640.83,37.13L641.32,57.17M641.82,55.93L642.31,66.24M642.81,56.37L643.30,76.39M643.79,74.14L644.29,64.86M644.78,60.81L645.28,27.73M645.77,68.43L646.27,73.93M646.76,69.05L647.25,70.28M647.75,80.97L648.24,69.76M648.74,84.33L649.23,51.30M649.72,76.06L650.22,75.66M650.71,68.44L651.21,74.36M651.70,67.58L652.20,76.67M652.69,77.36L653.18,64.98M653.68,66.67L654.17,70.92M654.67,66.11L655.16,50.92M655.66,65.82L656.15,54.12M656.64,68.00L657.14,69.17M657.63,60.77L658.13,69.69M658.62,78.00L659.11,65.30M659.61,64.57L660.10,68.54M660.60,69.04L661.09,66.62M661.59,76.25L662.08,68.24M662.57,80.87L663.07,68.88M663.56,80.38L664.06,30.94M664.55,62.58L665.04,68.68M665.54,69.58L666.03,66.74M666.53,70.80L667.02,72.32M667.52,71.15L668.01,50.67M668.50,60.02L669.00,62.51M669.49,74.65L669.99,67.30M670.48,51.75L670.98,67.42M671.47,76.85L671.96,49.56" fill="none" stroke="#ff0000" stroke-width="1.30" stroke-opacity="0.75" stroke-linecap="round"/>
<rect x="418.4" y="6.3" width="265.2" height="97.2" class="fr"/>
<line x1="416.9" y1="96.8" x2="418.4" y2="96.8" class="tk"/>
<text x="415.0" y="98.4" class="yl">20</text>
<line x1="416.9" y1="85.4" x2="418.4" y2="85.4" class="tk"/>
<text x="415.0" y="87.0" class="yl">30</text>
<line x1="416.9" y1="74.0" x2="418.4" y2="74.0" class="tk"/>
<text x="415.0" y="75.6" class="yl">40</text>
<line x1="416.9" y1="62.6" x2="418.4" y2="62.6" class="tk"/>
<text x="415.0" y="64.2" class="yl">50</text>
<line x1="416.9" y1="51.2" x2="418.4" y2="51.2" class="tk"/>
<text x="415.0" y="52.8" class="yl">60</text>
<line x1="416.9" y1="39.8" x2="418.4" y2="39.8" class="tk"/>
<text x="415.0" y="41.4" class="yl">70</text>
<line x1="416.9" y1="28.4" x2="418.4" y2="28.4" class="tk"/>
<text x="415.0" y="30.0" class="yl">80</text>
<line x1="416.9" y1="17.0" x2="418.4" y2="17.0" class="tk"/>
<text x="415.0" y="18.6" class="yl">90</text>
<text transform="translate(408.0,54.9) rotate(-90)" class="al">Values</text>
<line x1="430.3" y1="103.5" x2="430.3" y2="105.0" class="tk"/>
<text x="430.3" y="109.8" class="xl">0</text>
<line x1="430.3" y1="212.4" x2="430.3" y2="213.9" class="tk"/>
<text x="430.3" y="218.7" class="xl">0</text>
<line x1="479.7" y1="103.5" x2="479.7" y2="105.0" class="tk"/>
<text x="479.7" y="109.8" class="xl">100</text>
<line x1="479.7" y1="212.4" x2="479.7" y2="213.9" class="tk"/>
<text x="479.7" y="218.7" class="xl">100</text>
<line x1="529.1" y1="103.5" x2="529.1" y2="105.0" class="tk"/>
<text x="529.1" y="109.8" class="xl">200</text>
<line x1="529.1" y1="212.4" x2="529.1" y2="213.9" class="tk"/>
<text x="529.1" y="218.7" class="xl">200</text>
<line x1="578.6" y1="103.5" x2="578.6" y2="105.0" class="tk"/>
<text x="578.6" y="109.8" class="xl">300</text>
<line x1="578.6" y1="212.4" x2="578.6" y2="213.9" class="tk"/>
<text x="578.6" y="218.7" class="xl">300</text>
<line x1="628.0" y1="103.5" x2="628.0" y2="105.0" class="tk"/>
<text x="628.0" y="109.8" class="xl">400</text>
<line x1="628.0" y1="212.4" x2="628.0" y2="213.9" class="tk"/>
<text x="628.0" y="218.7" class="xl">400</text>
<line x1="677.4" y1="103.5" x2="677.4" y2="105.0" class="tk"/>
<text x="677.4" y="109.8" class="xl">500</text>
<line x1="677.4" y1="212.4" x2="677.4" y2="213.9" class="tk"/>
<text x="677.4" y="218.7" class="xl">500</text>
<rect x="634" y="8.4" width="47.6" height="24.6" rx="0.8" class="lg"/>
<line x1="635.7" y1="11.5" x2="644.7" y2="11.5" stroke="#0000ff" stroke-opacity="1.0" stroke-width="0.8"/>
<text x="647.3" y="13.0" class="lt">Actual (Train)</text>
<line x1="635.7" y1="17.6" x2="644.7" y2="17.6" stroke="#008000" stroke-opacity="1.0" stroke-width="0.8"/>
<text x="647.3" y="19.1" class="lt">Predicted (Train)</text>
<line x1="635.7" y1="23.8" x2="644.7" y2="23.8" stroke="#ffa500" stroke-opacity="1" stroke-width="0.8"/>
<text x="647.3" y="25.3" class="lt">Actual (Test)</text>
<line x1="635.7" y1="29.9" x2="644.7" y2="29.9" stroke="#ff0000" stroke-opacity="1" stroke-width="0.8"/>
<text x="647.3" y="31.4" class="lt">Predicted (Test)</text>
<circle cx="430.3" cy="173.5" r="1.2" fill="#0000ff"/><circle cx="430.8" cy="166.6" r="1.2" fill="#0000ff"/><circle cx="431.3" cy="157.3" r="1.2" fill="#0000ff"/><circle cx="431.8" cy="175.8" r="1.2" fill="#0000ff"/><circle cx="432.3" cy="170.1" r="1.2" fill="#0000ff"/><circle cx="432.8" cy="151.9" r="1.2" fill="#0000ff"/><circle cx="433.3" cy="181.7" r="1.2" fill="#0000ff"/><circle cx="433.8" cy="160.7" r="1.2" fill="#0000ff"/><circle cx="434.3" cy="179.9" r="1.2" fill="#0000ff"/><circle cx="434.7" cy="157.2" r="1.2" fill="#0000ff"/><circle cx="435.2" cy="154.1" r="1.2" fill="#0000ff"/><circle cx="435.7" cy="160.6" r="1.2" fill="#0000ff"/><circle cx="436.2" cy="174.4" r="1.2" fill="#0000ff"/><circle cx="436.7" cy="180.5" r="1.2" fill="#0000ff"/><circle cx="437.2" cy="182.5" r="1.2" fill="#0000ff"/><circle cx="437.7" cy="164.6" r="1.2" fill="#0000ff"/><circle cx="438.2" cy="170.1" r="1.2" fill="#0000ff"/><circle cx="438.7" cy="171.8" r="1.2" fill="#0000ff"/><circle cx="439.2" cy="170.5" r="1.2" fill="#0000ff"/><circle cx="439.7" cy="150.6" r="1.2" fill="#0000ff"/><circle cx="440.2" cy="171.4" r="1.2" fill="#0000ff"/><circle cx="440.7" cy="178.2" r="1.2" fill="#0000ff"/><circle cx="441.2" cy="182.0" r="1.2" fill="#0000ff"/><circle cx="441.7" cy="145.2" r="1.2" fill="#0000ff"/><circle cx="442.2" cy="198.8" r="1.2" fill="#0000ff"/><circle cx="442.7" cy="168.2" r="1.2" fill="#0000ff"/><circle cx="443.1" cy="178.7" r="1.2" fill="#0000ff"/><circle cx="443.6" cy="178.9" r="1.2" fill="#0000ff"/><circle cx="444.1" cy="182.9" r="1.2" fill="#0000ff"/><circle cx="444.6" cy="175.2" r="1.2" fill="#0000ff"/><circle cx="445.1" cy="167.8" r="1.2" fill="#0000ff"/><circle cx="445.6" cy="174.1" r="1.2" fill="#0000ff"/><circle cx="446.1" cy="182.7" r="1.2" fill="#0000ff"/><circle cx="446.6" cy="164.6" r="1.2" fill="#0000ff"/><circle cx="447.1" cy="172.2" r="1.2" fill="#0000ff"/><circle cx="447.6" cy="163.3" r="1.2" fill="#0000ff"/><circle cx="448.1" cy="170.4" r="1.2" fill="#0000ff"/><circle cx="448.6" cy="171.4" r="1.2" fill="#0000ff"/><circle cx="449.1" cy="168.8" r="1.2" fill="#0000ff"/><circle cx="449.6" cy="169.3" r="1.2" fill="#0000ff"/><circle cx="450.1" cy="177.1" r="1.2" fill="#0000ff"/><circle cx="450.6" cy="172.4" r="1.2" fill="#0000ff"/><circle cx="451.1" cy="156.6" r="1.2" fill="#0000ff"/><circle cx="451.6" cy="183.7" r="1.2" fill="#0000ff"/><circle cx="452.0" cy="181.4" r="1.2" fill="#0000ff"/><circle cx="452.5" cy="160.3" r="1.2" fill="#0000ff"/><circle cx="453.0" cy="188.1" r="1.2" fill="#0000ff"/><circle cx="453.5" cy="189.5" r="1.2" fill="#0000ff"/><circle cx="454.0" cy="180.9" r="1.2" fill="#0000ff"/><circle cx="454.5" cy="172.2" r="1.2" fill="#0000ff"/><circle cx="455.0" cy="161.3" r="1.2" fill="#0000ff"/><circle cx="455.5" cy="162.9" r="1.2" fill="#0000ff"/><circle cx="456.0" cy="165.4" r="1.2" fill="#0000ff"/><circle cx="456.5" cy="173.3" r="1.2" fill="#0000ff"/><circle cx="457.0" cy="162.3" r="1.2" fill="#0000ff"/><circle cx="457.5" cy="169.1" r="1.2" fill="#0000ff"/><circle cx="458.0" cy="174.5" r="1.2" fill="#0000ff"/><circle cx="458.5" cy="151.0" r="1.2" fill="#0000ff"/><circle cx="459.0" cy="181.9" r="1.2" fill="#0000ff"/><circle cx="459.5" cy="169.9" r="1.2" fill="#0000ff"/><circle cx="460.0" cy="156.7" r="1.2" fill="#0000ff"/><circle cx="460.4" cy="178.5" r="1.2" fill="#0000ff"/><circle cx="460.9" cy="163.1" r="1.2" fill="#0000ff"/><circle cx="461.4" cy="177.9" r="1.2" fill="#0000ff"/><circle cx="461.9" cy="170.9" r="1.2" fill="#0000ff"/><circle cx="462.4" cy="178.9" r="1.2" fill="#0000ff"/><circle cx="462.9" cy="166.3" r="1.2" fill="#0000ff"/><circle cx="463.4" cy="168.8" r="1.2" fill="#0000ff"/><circle cx="463.9" cy="169.3" r="1.2" fill="#0000ff"/><circle cx="464.4" cy="153.0" r="1.2" fill="#0000ff"/><circle cx="464.9" cy="157.6" r="1.2" fill="#0000ff"/><circle cx="465.4" cy="171.0" r="1.2" fill="#0000ff"/><circle cx="465.9" cy="191.9" r="1.2" fill="#0000ff"/><circle cx="466.4" cy="170.8" r="1.2" fill="#0000ff"/><circle cx="466.9" cy="167.5" r="1.2" fill="#0000ff"/><circle cx="467.4" cy="168.6" r="1.2" fill="#0000ff"/><circle cx="467.9" cy="183.5" r="1.2" fill="#0000ff"/><circle cx="468.4" cy="164.4" r="1.2" fill="#0000ff"/><circle cx="468.8" cy="161.8" r="1.2" fill="#0000ff"/><circle cx="469.3" cy="158.6" r="1.2" fill="#0000ff"/><circle cx="469.8" cy="168.4" r="1.2" fill="#0000ff"/><circle cx="470.3" cy="171.5" r="1.2" fill="#0000ff"/><circle cx="470.8" cy="174.9" r="1.2" fill="#0000ff"/><circle cx="471.3" cy="179.3" r="1.2" fill="#0000ff"/><circle cx="471.8" cy="160.4" r="1.2" fill="#0000ff"/><circle cx="472.3" cy="175.6" r="1.2" fill="#0000ff"/><circle cx="472.8" cy="172.3" r="1.2" fill="#0000ff"/><circle cx="473.3" cy="178.8" r="1.2" fill="#0000ff"/><circle cx="473.8" cy="155.7" r="1.2" fill="#0000ff"/><circle cx="474.3" cy="169.1" r="1.2" fill="#0000ff"/><circle cx="474.8" cy="152.2" r="1.2" fill="#0000ff"/><circle cx="475.3" cy="156.8" r="1.2" fill="#0000ff"/><circle cx="475.8" cy="169.6" r="1.2" fill="#0000ff"/><circle cx="476.3" cy="161.7" r="1.2" fill="#0000ff"/><circle cx="476.8" cy="162.9" r="1.2" fill="#0000ff"/><circle cx="477.2" cy="171.0" r="1.2" fill="#0000ff"/><circle cx="477.7" cy="159.4" r="1.2" fill="#0000ff"/><circle cx="478.2" cy="173.3" r="1.2" fill="#0000ff"/><circle cx="478.7" cy="168.9" r="1.2" fill="#0000ff"/><circle cx="479.2" cy="173.4" r="1.2" fill="#0000ff"/><circle cx="479.7" cy="171.1" r="1.2" fill="#0000ff"/><circle cx="480.2" cy="170.7" r="1.2" fill="#0000ff"/><circle cx="480.7" cy="166.0" r="1.2" fill="#0000ff"/><circle cx="481.2" cy="180.6" r="1.2" fill="#0000ff"/><circle cx="481.7" cy="173.4" r="1.2" fill="#0000ff"/><circle cx="482.2" cy="168.2" r="1.2" fill="#0000ff"/><circle cx="482.7" cy="181.9" r="1.2" fill="#0000ff"/><circle cx="483.2" cy="171.2" r="1.2" fill="#0000ff"/><circle cx="483.7" cy="162.3" r="1.2" fill="#0000ff"/><circle cx="484.2" cy="175.5" r="1.2" fill="#0000ff"/><circle cx="484.7" cy="159.1" r="1.2" fill="#0000ff"/><circle cx="485.2" cy="183.9" r="1.2" fill="#0000ff"/><circle cx="485.7" cy="160.5" r="1.2" fill="#0000ff"/><circle cx="486.1" cy="178.7" r="1.2" fill="#0000ff"/><circle cx="486.6" cy="183.1" r="1.2" fill="#0000ff"/><circle cx="487.1" cy="175.7" r="1.2" fill="#0000ff"/><circle cx="487.6" cy="158.4" r="1.2" fill="#0000ff"/><circle cx="488.1" cy="167.8" r="1.2" fill="#0000ff"/><circle cx="488.6" cy="181.2" r="1.2" fill="#0000ff"/><circle cx="489.1" cy="179.0" r="1.2" fill="#0000ff"/><circle cx="489.6" cy="170.3" r="1.2" fill="#0000ff"/><circle cx="490.1" cy="184.4" r="1.2" fill="#0000ff"/><circle cx="490.6" cy="157.8" r="1.2" fill="#0000ff"/><circle cx="491.1" cy="169.5" r="1.2" fill="#0000ff"/><circle cx="491.6" cy="173.6" r="1.2" fill="#0000ff"/><circle cx="492.1" cy="170.2" r="1.2" fill="#0000ff"/><circle cx="492.6" cy="154.7" r="1.2" fill="#0000ff"/><circle cx="493.1" cy="151.8" r="1.2" fill="#0000ff"/><circle cx="493.6" cy="176.4" r="1.2" fill="#0000ff"/><circle cx="494.1" cy="168.0" r="1.2" fill="#0000ff"/><circle cx="494.5" cy="154.0" r="1.2" fill="#0000ff"/><circle cx="495.0" cy="187.7" r="1.2" fill="#0000ff"/><circle cx="495.5" cy="173.4" r="1.2" fill="#0000ff"/><circle cx="496.0" cy="164.7" r="1.2" fill="#0000ff"/><circle cx="496.5" cy="174.2" r="1.2" fill="#0000ff"/><circle cx="497.0" cy="171.9" r="1.2" fill="#0000ff"/><circle cx="497.5" cy="174.6" r="1.2" fill="#0000ff"/><circle cx="498.0" cy="172.3" r="1.2" fill="#0000ff"/><circle cx="498.5" cy="161.6" r="1.2" fill="#0000ff"/><circle cx="499.0" cy="177.2" r="1.2" fill="#0000ff"/><circle cx="499.5" cy="184.0" r="1.2" fill="#0000ff"/><circle cx="500.0" cy="180.0" r="1.2" fill="#0000ff"/><circle cx="500.5" cy="160.9" r="1.2" fill="#0000ff"/><circle cx="501.0" cy="176.2" r="1.2" fill="#0000ff"/><circle cx="501.5" cy="179.1" r="1.2" fill="#0000ff"/><circle cx="502.0" cy="171.7" r="1.2" fill="#0000ff"/><circle cx="502.5" cy="167.7" r="1.2" fill="#0000ff"/><circle cx="502.9" cy="172.4" r="1.2" fill="#0000ff"/><circle cx="503.4" cy="192.5" r="1.2" fill="#0000ff"/><circle cx="503.9" cy="171.5" r="1.2" fill="#0000ff"/><circle cx="504.4" cy="165.3" r="1.2" fill="#0000ff"/><circle cx="504.9" cy="160.9" r="1.2" fill="#0000ff"/><circle cx="505.4" cy="177.9" r="1.2" fill="#0000ff"/><circle cx="505.9" cy="167.0" r="1.2" fill="#0000ff"/><circle cx="506.4" cy="179.0" r="1.2" fill="#0000ff"/><circle cx="506.9" cy="175.1" r="1.2" fill="#0000ff"/><circle cx="507.4" cy="157.9" r="1.2" fill="#0000ff"/><circle cx="507.9" cy="166.4" r="1.2" fill="#0000ff"/><circle cx="508.4" cy="158.2" r="1.2" fill="#0000ff"/><circle cx="508.9" cy="175.1" r="1.2" fill="#0000ff"/><circle cx="509.4" cy="162.8" r="1.2" fill="#0000ff"/><circle cx="509.9" cy="161.9" r="1.2" fill="#0000ff"/><circle cx="510.4" cy="161.2" r="1.2" fill="#0000ff"/><circle cx="510.9" cy="164.0" r="1.2" fill="#0000ff"/><circle cx="511.3" cy="181.8" r="1.2" fill="#0000ff"/><circle cx="511.8" cy="182.6" r="1.2" fill="#0000ff"/><circle cx="512.3" cy="177.3" r="1.2" fill="#0000ff"/><circle cx="512.8" cy="180.4" r="1.2" fill="#0000ff"/><circle cx="513.3" cy="172.4" r="1.2" fill="#0000ff"/><circle cx="513.8" cy="170.8" r="1.2" fill="#0000ff"/><circle cx="514.3" cy="183.9" r="1.2" fill="#0000ff"/><circle cx="514.8" cy="176.7" r="1.2" fill="#0000ff"/><circle cx="515.3" cy="175.7" r="1.2" fill="#0000ff"/><circle cx="515.8" cy="176.1" r="1.2" fill="#0000ff"/><circle cx="516.3" cy="171.7" r="1.2" fill="#0000ff"/><circle cx="516.8" cy="157.8" r="1.2" fill="#0000ff"/><circle cx="517.3" cy="164.6" r="1.2" fill="#0000ff"/><circle cx="517.8" cy="179.8" r="1.2" fill="#0000ff"/><circle cx="518.3" cy="178.3" r="1.2" fill="#0000ff"/><circle cx="518.8" cy="159.7" r="1.2" fill="#0000ff"/><circle cx="519.3" cy="165.5" r="1.2" fill="#0000ff"/><circle cx="519.8" cy="167.6" r="1.2" fill="#0000ff"/><circle cx="520.2" cy="194.0" r="1.2" fill="#0000ff"/><circle cx="520.7" cy="175.8" r="1.2" fill="#0000ff"/><circle cx="521.2" cy="173.9" r="1.2" fill="#0000ff"/><circle cx="521.7" cy="179.9" r="1.2" fill="#0000ff"/><circle cx="522.2" cy="159.6" r="1.2" fill="#0000ff"/><circle cx="522.7" cy="174.1" r="1.2" fill="#0000ff"/><circle cx="523.2" cy="169.1" r="1.2" fill="#0000ff"/><circle cx="523.7" cy="182.1" r="1.2" fill="#0000ff"/><circle cx="524.2" cy="184.5" r="1.2" fill="#0000ff"/><circle cx="524.7" cy="179.2" r="1.2" fill="#0000ff"/><circle cx="525.2" cy="171.0" r="1.2" fill="#0000ff"/><circle cx="525.7" cy="172.6" r="1.2" fill="#0000ff"/><circle cx="526.2" cy="174.6" r="1.2" fill="#0000ff"/><circle cx="526.7" cy="171.1" r="1.2" fill="#0000ff"/><circle cx="527.2" cy="172.2" r="1.2" fill="#0000ff"/><circle cx="527.7" cy="174.3" r="1.2" fill="#0000ff"/><circle cx="528.2" cy="176.4" r="1.2" fill="#0000ff"/><circle cx="528.6" cy="169.0" r="1.2" fill="#0000ff"/><circle cx="529.1" cy="158.2" r="1.2" fill="#0000ff"/><circle cx="529.6" cy="179.8" r="1.2" fill="#0000ff"/><circle cx="530.1" cy="169.3" r="1.2" fill="#0000ff"/><circle cx="530.6" cy="173.0" r="1.2" fill="#0000ff"/><circle cx="531.1" cy="166.2" r="1.2" fill="#0000ff"/><circle cx="531.6" cy="167.6" r="1.2" fill="#0000ff"/><circle cx="532.1" cy="171.8" r="1.2" fill="#0000ff"/><circle cx="532.6" cy="173.6" r="1.2" fill="#0000ff"/><circle cx="533.1" cy="170.4" r="1.2" fill="#0000ff"/><circle cx="533.6" cy="168.2" r="1.2" fill="#0000ff"/><circle cx="534.1" cy="177.2" r="1.2" fill="#0000ff"/><circle cx="534.6" cy="145.1" r="1.2" fill="#0000ff"/><circle cx="535.1" cy="171.3" r="1.2" fill="#0000ff"/><circle cx="535.6" cy="160.6" r="1.2" fill="#0000ff"/><circle cx="536.1" cy="167.1" r="1.2" fill="#0000ff"/><circle cx="536.6" cy="173.9" r="1.2" fill="#0000ff"/><circle cx="537.0" cy="168.5" r="1.2" fill="#0000ff"/><circle cx="537.5" cy="149.2" r="1.2" fill="#0000ff"/><circle cx="538.0" cy="169.1" r="1.2" fill="#0000ff"/><circle cx="538.5" cy="165.0" r="1.2" fill="#0000ff"/><circle cx="539.0" cy="176.6" r="1.2" fill="#0000ff"/><circle cx="539.5" cy="157.4" r="1.2" fill="#0000ff"/><circle cx="540.0" cy="159.1" r="1.2" fill="#0000ff"/><circle cx="540.5" cy="176.3" r="1.2" fill="#0000ff"/><circle cx="541.0" cy="178.5" r="1.2" fill="#0000ff"/><circle cx="541.5" cy="168.1" r="1.2" fill="#0000ff"/><circle cx="542.0" cy="173.7" r="1.2" fill="#0000ff"/><circle cx="542.5" cy="186.0" r="1.2" fill="#0000ff"/><circle cx="543.0" cy="172.8" r="1.2" fill="#0000ff"/><circle cx="543.5" cy="178.7" r="1.2" fill="#0000ff"/><circle cx="544.0" cy="163.5" r="1.2" fill="#0000ff"/><circle cx="544.5" cy="167.8" r="1.2" fill="#0000ff"/><circle cx="545.0" cy="168.3" r="1.2" fill="#0000ff"/><circle cx="545.4" cy="178.1" r="1.2" fill="#0000ff"/><circle cx="545.9" cy="169.8" r="1.2" fill="#0000ff"/><circle cx="546.4" cy="190.7" r="1.2" fill="#0000ff"/><circle cx="546.9" cy="171.5" r="1.2" fill="#0000ff"/><circle cx="547.4" cy="187.7" r="1.2" fill="#0000ff"/><circle cx="547.9" cy="162.2" r="1.2" fill="#0000ff"/><circle cx="548.4" cy="165.8" r="1.2" fill="#0000ff"/><circle cx="548.9" cy="165.8" r="1.2" fill="#0000ff"/><circle cx="549.4" cy="167.2" r="1.2" fill="#0000ff"/><circle cx="549.9" cy="186.8" r="1.2" fill="#0000ff"/><circle cx="550.4" cy="163.1" r="1.2" fill="#0000ff"/><circle cx="550.9" cy="162.0" r="1.2" fill="#0000ff"/><circle cx="551.4" cy="182.2" r="1.2" fill="#0000ff"/><circle cx="551.9" cy="173.3" r="1.2" fill="#0000ff"/><circle cx="552.4" cy="167.4" r="1.2" fill="#0000ff"/><circle cx="552.9" cy="172.8" r="1.2" fill="#0000ff"/><circle cx="553.4" cy="167.6" r="1.2" fill="#0000ff"/><circle cx="553.9" cy="184.4" r="1.2" fill="#0000ff"/><circle cx="554.3" cy="163.8" r="1.2" fill="#0000ff"/><circle cx="554.8" cy="168.4" r="1.2" fill="#0000ff"/><circle cx="555.3" cy="180.1" r="1.2" fill="#0000ff"/><circle cx="555.8" cy="152.9" r="1.2" fill="#0000ff"/><circle cx="556.3" cy="164.6" r="1.2" fill="#0000ff"/><circle cx="556.8" cy="158.9" r="1.2" fill="#0000ff"/><circle cx="557.3" cy="170.3" r="1.2" fill="#0000ff"/><circle cx="557.8" cy="171.7" r="1.2" fill="#0000ff"/><circle cx="558.3" cy="157.6" r="1.2" fill="#0000ff"/><circle cx="558.8" cy="163.7" r="1.2" fill="#0000ff"/><circle cx="559.3" cy="177.7" r="1.2" fill="#0000ff"/><circle cx="559.8" cy="176.5" r="1.2" fill="#0000ff"/><circle cx="560.3" cy="180.5" r="1.2" fill="#0000ff"/><circle cx="560.8" cy="166.1" r="1.2" fill="#0000ff"/><circle cx="561.3" cy="173.5" r="1.2" fill="#0000ff"/><circle cx="561.8" cy="165.1" r="1.2" fill="#0000ff"/><circle cx="562.3" cy="165.4" r="1.2" fill="#0000ff"/><circle cx="562.7" cy="168.3" r="1.2" fill="#0000ff"/><circle cx="563.2" cy="174.2" r="1.2" fill="#0000ff"/><circle cx="563.7" cy="176.1" r="1.2" fill="#0000ff"/><circle cx="564.2" cy="174.5" r="1.2" fill="#0000ff"/><circle cx="564.7" cy="184.7" r="1.2" fill="#0000ff"/><circle cx="565.2" cy="192.9" r="1.2" fill="#0000ff"/><circle cx="565.7" cy="183.9" r="1.2" fill="#0000ff"/><circle cx="566.2" cy="163.9" r="1.2" fill="#0000ff"/><circle cx="566.7" cy="173.9" r="1.2" fill="#0000ff"/><circle cx="567.2" cy="172.5" r="1.2" fill="#0000ff"/><circle cx="567.7" cy="180.1" r="1.2" fill="#0000ff"/><circle cx="568.2" cy="176.7" r="1.2" fill="#0000ff"/><circle cx="568.7" cy="161.2" r="1.2" fill="#0000ff"/><circle cx="569.2" cy="169.8" r="1.2" fill="#0000ff"/><circle cx="569.7" cy="174.0" r="1.2" fill="#0000ff"/><circle cx="570.2" cy="158.6" r="1.2" fill="#0000ff"/><circle cx="570.7" cy="176.9" r="1.2" fill="#0000ff"/><circle cx="571.1" cy="178.4" r="1.2" fill="#0000ff"/><circle cx="571.6" cy="157.6" r="1.2" fill="#0000ff"/><circle cx="572.1" cy="181.6" r="1.2" fill="#0000ff"/><circle cx="572.6" cy="150.9" r="1.2" fill="#0000ff"/><circle cx="573.1" cy="178.3" r="1.2" fill="#0000ff"/><circle cx="573.6" cy="179.5" r="1.2" fill="#0000ff"/><circle cx="574.1" cy="175.8" r="1.2" fill="#0000ff"/><circle cx="574.6" cy="174.0" r="1.2" fill="#0000ff"/><circle cx="575.1" cy="170.4" r="1.2" fill="#0000ff"/><circle cx="575.6" cy="177.0" r="1.2" fill="#0000ff"/><circle cx="576.1" cy="165.5" r="1.2" fill="#0000ff"/><circle cx="576.6" cy="163.8" r="1.2" fill="#0000ff"/><circle cx="577.1" cy="164.6" r="1.2" fill="#0000ff"/><circle cx="577.6" cy="169.2" r="1.2" fill="#0000ff"/><circle cx="578.1" cy="168.7" r="1.2" fill="#0000ff"/><circle cx="578.6" cy="174.2" r="1.2" fill="#0000ff"/><circle cx="579.1" cy="184.8" r="1.2" fill="#0000ff"/><circle cx="579.5" cy="166.8" r="1.2" fill="#0000ff"/><circle cx="580.0" cy="148.8" r="1.2" fill="#0000ff"/><circle cx="580.5" cy="169.4" r="1.2" fill="#0000ff"/><circle cx="581.0" cy="183.7" r="1.2" fill="#0000ff"/><circle cx="581.5" cy="154.6" r="1.2" fill="#0000ff"/><circle cx="582.0" cy="180.2" r="1.2" fill="#0000ff"/><circle cx="582.5" cy="179.6" r="1.2" fill="#0000ff"/><circle cx="583.0" cy="171.6" r="1.2" fill="#0000ff"/><circle cx="583.5" cy="180.5" r="1.2" fill="#0000ff"/><circle cx="584.0" cy="175.8" r="1.2" fill="#0000ff"/><circle cx="584.5" cy="162.7" r="1.2" fill="#0000ff"/><circle cx="585.0" cy="184.1" r="1.2" fill="#0000ff"/><circle cx="585.5" cy="185.0" r="1.2" fill="#0000ff"/><circle cx="586.0" cy="157.8" r="1.2" fill="#0000ff"/><circle cx="586.5" cy="171.4" r="1.2" fill="#0000ff"/><circle cx="587.0" cy="178.6" r="1.2" fill="#0000ff"/><circle cx="587.5" cy="164.0" r="1.2" fill="#0000ff"/><circle cx="587.9" cy="162.6" r="1.2" fill="#0000ff"/><circle cx="588.4" cy="168.2" r="1.2" fill="#0000ff"/><circle cx="588.9" cy="172.3" r="1.2" fill="#0000ff"/><circle cx="589.4" cy="177.2" r="1.2" fill="#0000ff"/><circle cx="589.9" cy="174.6" r="1.2" fill="#0000ff"/><circle cx="590.4" cy="150.7" r="1.2" fill="#0000ff"/><circle cx="590.9" cy="162.7" r="1.2" fill="#0000ff"/><circle cx="591.4" cy="183.2" r="1.2" fill="#0000ff"/><circle cx="591.9" cy="175.9" r="1.2" fill="#0000ff"/><circle cx="592.4" cy="172.5" r="1.2" fill="#0000ff"/><circle cx="592.9" cy="172.5" r="1.2" fill="#0000ff"/><circle cx="593.4" cy="157.3" r="1.2" fill="#0000ff"/><circle cx="593.9" cy="163.4" r="1.2" fill="#0000ff"/><circle cx="594.4" cy="152.5" r="1.2" fill="#0000ff"/><circle cx="594.9" cy="159.0" r="1.2" fill="#0000ff"/><circle cx="595.4" cy="180.2" r="1.2" fill="#0000ff"/><circle cx="595.9" cy="173.0" r="1.2" fill="#0000ff"/><circle cx="596.4" cy="165.4" r="1.2" fill="#0000ff"/><circle cx="596.8" cy="168.9" r="1.2" fill="#0000ff"/><circle cx="597.3" cy="162.9" r="1.2" fill="#0000ff"/><circle cx="597.8" cy="168.3" r="1.2" fill="#0000ff"/><circle cx="598.3" cy="162.1" r="1.2" fill="#0000ff"/><circle cx="598.8" cy="170.6" r="1.2" fill="#0000ff"/><circle cx="599.3" cy="169.9" r="1.2" fill="#0000ff"/><circle cx="599.8" cy="171.9" r="1.2" fill="#0000ff"/><circle cx="600.3" cy="185.3" r="1.2" fill="#0000ff"/><circle cx="600.8" cy="176.3" r="1.2" fill="#0000ff"/><circle cx="601.3" cy="188.0" r="1.2" fill="#0000ff"/><circle cx="601.8" cy="157.6" r="1.2" fill="#0000ff"/><circle cx="602.3" cy="166.8" r="1.2" fill="#0000ff"/><circle cx="602.8" cy="169.9" r="1.2" fill="#0000ff"/><circle cx="603.3" cy="166.0" r="1.2" fill="#0000ff"/><circle cx="603.8" cy="172.8" r="1.2" fill="#0000ff"/><circle cx="604.3" cy="162.5" r="1.2" fill="#0000ff"/><circle cx="604.8" cy="174.9" r="1.2" fill="#0000ff"/><circle cx="605.2" cy="177.3" r="1.2" fill="#0000ff"/><circle cx="605.7" cy="158.9" r="1.2" fill="#0000ff"/><circle cx="606.2" cy="162.9" r="1.2" fill="#0000ff"/><circle cx="606.7" cy="161.7" r="1.2" fill="#0000ff"/><circle cx="607.2" cy="165.5" r="1.2" fill="#0000ff"/><circle cx="607.7" cy="176.6" r="1.2" fill="#0000ff"/><circle cx="608.2" cy="180.4" r="1.2" fill="#0000ff"/><circle cx="608.7" cy="160.3" r="1.2" fill="#0000ff"/><circle cx="609.2" cy="155.4" r="1.2" fill="#0000ff"/><circle cx="609.7" cy="175.5" r="1.2" fill="#0000ff"/><circle cx="610.2" cy="170.1" r="1.2" fill="#0000ff"/><circle cx="610.7" cy="166.0" r="1.2" fill="#0000ff"/><circle cx="611.2" cy="167.5" r="1.2" fill="#0000ff"/><circle cx="611.7" cy="175.3" r="1.2" fill="#0000ff"/><circle cx="612.2" cy="177.0" r="1.2" fill="#0000ff"/><circle cx="612.7" cy="187.3" r="1.2" fill="#0000ff"/><circle cx="613.2" cy="165.1" r="1.2" fill="#0000ff"/><circle cx="613.6" cy="172.4" r="1.2" fill="#0000ff"/><circle cx="614.1" cy="171.1" r="1.2" fill="#0000ff"/><circle cx="614.6" cy="171.2" r="1.2" fill="#0000ff"/><circle cx="615.1" cy="166.7" r="1.2" fill="#0000ff"/><circle cx="615.6" cy="153.0" r="1.2" fill="#0000ff"/><circle cx="616.1" cy="156.4" r="1.2" fill="#0000ff"/><circle cx="616.6" cy="169.1" r="1.2" fill="#0000ff"/><circle cx="617.1" cy="168.0" r="1.2" fill="#0000ff"/><circle cx="617.6" cy="168.8" r="1.2" fill="#0000ff"/><circle cx="618.1" cy="169.4" r="1.2" fill="#0000ff"/><circle cx="618.6" cy="170.4" r="1.2" fill="#0000ff"/><circle cx="619.1" cy="174.8" r="1.2" fill="#0000ff"/><circle cx="619.6" cy="155.1" r="1.2" fill="#0000ff"/><circle cx="620.1" cy="168.7" r="1.2" fill="#0000ff"/><circle cx="620.6" cy="165.5" r="1.2" fill="#0000ff"/><circle cx="621.1" cy="165.7" r="1.2" fill="#0000ff"/><circle cx="621.6" cy="181.9" r="1.2" fill="#0000ff"/><circle cx="622.0" cy="173.2" r="1.2" fill="#0000ff"/><circle cx="622.5" cy="190.4" r="1.2" fill="#0000ff"/><circle cx="623.0" cy="158.1" r="1.2" fill="#0000ff"/><circle cx="623.5" cy="180.5" r="1.2" fill="#0000ff"/><circle cx="624.0" cy="166.9" r="1.2" fill="#008000"/><circle cx="624.5" cy="153.2" r="1.2" fill="#008000"/><circle cx="625.0" cy="177.5" r="1.2" fill="#008000"/><circle cx="625.5" cy="156.3" r="1.2" fill="#008000"/><circle cx="626.0" cy="177.8" r="1.2" fill="#008000"/><circle cx="626.5" cy="162.7" r="1.2" fill="#008000"/><circle cx="627.0" cy="177.3" r="1.2" fill="#008000"/><circle cx="627.5" cy="166.4" r="1.2" fill="#008000"/><circle cx="628.0" cy="148.7" r="1.2" fill="#008000"/><circle cx="628.5" cy="181.0" r="1.2" fill="#008000"/><circle cx="629.0" cy="180.4" r="1.2" fill="#008000"/><circle cx="629.5" cy="176.0" r="1.2" fill="#008000"/><circle cx="630.0" cy="166.4" r="1.2" fill="#008000"/><circle cx="630.5" cy="133.1" r="1.2" fill="#008000"/><circle cx="630.9" cy="179.8" r="1.2" fill="#008000"/><circle cx="631.4" cy="202.2" r="1.2" fill="#008000"/><circle cx="631.9" cy="180.9" r="1.2" fill="#008000"/><circle cx="632.4" cy="195.2" r="1.2" fill="#008000"/><circle cx="632.9" cy="179.5" r="1.2" fill="#008000"/><circle cx="633.4" cy="170.6" r="1.2" fill="#008000"/><circle cx="633.9" cy="185.6" r="1.2" fill="#008000"/><circle cx="634.4" cy="181.3" r="1.2" fill="#008000"/><circle cx="634.9" cy="199.5" r="1.2" fill="#008000"/><circle cx="635.4" cy="168.1" r="1.2" fill="#008000"/><circle cx="635.9" cy="182.3" r="1.2" fill="#008000"/><circle cx="636.4" cy="154.2" r="1.2" fill="#008000"/><circle cx="636.9" cy="154.7" r="1.2" fill="#008000"/><circle cx="637.4" cy="184.2" r="1.2" fill="#008000"/><circle cx="637.9" cy="176.5" r="1.2" fill="#008000"/><circle cx="638.4" cy="170.0" r="1.2" fill="#008000"/><circle cx="638.9" cy="159.2" r="1.2" fill="#008000"/><circle cx="639.3" cy="196.4" r="1.2" fill="#008000"/><circle cx="639.8" cy="171.9" r="1.2" fill="#008000"/><circle cx="640.3" cy="142.2" r="1.2" fill="#008000"/><circle cx="640.8" cy="172.1" r="1.2" fill="#008000"/><circle cx="641.3" cy="167.4" r="1.2" fill="#008000"/><circle cx="641.8" cy="170.7" r="1.2" fill="#008000"/><circle cx="642.3" cy="189.0" r="1.2" fill="#008000"/><circle cx="642.8" cy="156.2" r="1.2" fill="#008000"/><circle cx="643.3" cy="166.6" r="1.2" fill="#008000"/><circle cx="643.8" cy="168.2" r="1.2" fill="#008000"/><circle cx="644.3" cy="159.6" r="1.2" fill="#008000"/><circle cx="644.8" cy="158.6" r="1.2" fill="#008000"/><circle cx="645.3" cy="199.7" r="1.2" fill="#008000"/><circle cx="645.8" cy="163.3" r="1.2" fill="#008000"/><circle cx="646.3" cy="179.6" r="1.2" fill="#008000"/><circle cx="646.8" cy="168.2" r="1.2" fill="#008000"/><circle cx="647.3" cy="181.6" r="1.2" fill="#008000"/><circle cx="647.7" cy="183.9" r="1.2" fill="#008000"/><circle cx="648.2" cy="156.0" r="1.2" fill="#008000"/><circle cx="648.7" cy="170.7" r="1.2" fill="#008000"/><circle cx="649.2" cy="174.9" r="1.2" fill="#008000"/><circle cx="649.7" cy="175.0" r="1.2" fill="#008000"/><circle cx="650.2" cy="169.3" r="1.2" fill="#008000"/><circle cx="650.7" cy="170.8" r="1.2" fill="#008000"/><circle cx="651.2" cy="206.8" r="1.2" fill="#008000"/><circle cx="651.7" cy="183.9" r="1.2" fill="#008000"/><circle cx="652.2" cy="174.1" r="1.2" fill="#008000"/><circle cx="652.7" cy="159.0" r="1.2" fill="#008000"/><circle cx="653.2" cy="149.6" r="1.2" fill="#008000"/><circle cx="653.7" cy="184.7" r="1.2" fill="#008000"/><circle cx="654.2" cy="140.7" r="1.2" fill="#008000"/><circle cx="654.7" cy="168.9" r="1.2" fill="#008000"/><circle cx="655.2" cy="162.8" r="1.2" fill="#008000"/><circle cx="655.7" cy="178.5" r="1.2" fill="#008000"/><circle cx="656.1" cy="179.6" r="1.2" fill="#008000"/><circle cx="656.6" cy="148.3" r="1.2" fill="#008000"/><circle cx="657.1" cy="173.6" r="1.2" fill="#008000"/><circle cx="657.6" cy="171.8" r="1.2" fill="#008000"/><circle cx="658.1" cy="152.4" r="1.2" fill="#008000"/><circle cx="658.6" cy="143.8" r="1.2" fill="#008000"/><circle cx="659.1" cy="193.1" r="1.2" fill="#008000"/><circle cx="659.6" cy="173.0" r="1.2" fill="#008000"/><circle cx="660.1" cy="170.3" r="1.2" fill="#008000"/><circle cx="660.6" cy="142.3" r="1.2" fill="#008000"/><circle cx="661.1" cy="133.1" r="1.2" fill="#008000"/><circle cx="661.6" cy="170.8" r="1.2" fill="#008000"/><circle cx="662.1" cy="164.3" r="1.2" fill="#008000"/><circle cx="662.6" cy="156.7" r="1.2" fill="#008000"/><circle cx="663.1" cy="152.3" r="1.2" fill="#008000"/><circle cx="663.6" cy="174.8" r="1.2" fill="#008000"/><circle cx="664.1" cy="156.8" r="1.2" fill="#008000"/><circle cx="664.6" cy="180.6" r="1.2" fill="#008000"/><circle cx="665.0" cy="208.8" r="1.2" fill="#008000"/><circle cx="665.5" cy="191.0" r="1.2" fill="#008000"/><circle cx="666.0" cy="166.5" r="1.2" fill="#008000"/><circle cx="666.5" cy="157.8" r="1.2" fill="#008000"/><circle cx="667.0" cy="204.4" r="1.2" fill="#008000"/><circle cx="667.5" cy="197.4" r="1.2" fill="#008000"/><circle cx="668.0" cy="170.2" r="1.2" fill="#008000"/><circle cx="668.5" cy="208.8" r="1.2" fill="#008000"/><circle cx="669.0" cy="161.1" r="1.2" fill="#008000"/><circle cx="669.5" cy="153.8" r="1.2" fill="#008000"/><circle cx="670.0" cy="208.8" r="1.2" fill="#008000"/><circle cx="670.5" cy="157.8" r="1.2" fill="#008000"/><circle cx="671.0" cy="172.5" r="1.2" fill="#008000"/><circle cx="671.5" cy="147.8" r="1.2" fill="#008000"/><circle cx="672.0" cy="165.2" r="1.2" fill="#008000"/>
<line x1="418.4" y1="171.3" x2="683.6" y2="171.3" stroke="#ff0000" stroke-opacity="0.8" stroke-width="0.7" stroke-dasharray="2,1.3"/>
<rect x="418.4" y="116.0" width="265.2" height="96.4" class="fr"/>
<line x1="416.9" y1="116.7" x2="418.4" y2="116.7" class="tk"/>
<text x="415.0" y="118.3" class="yl">15</text>
<line x1="416.9" y1="134.9" x2="418.4" y2="134.9" class="tk"/>
<text x="415.0" y="136.5" class="yl">10</text>
<line x1="416.9" y1="153.1" x2="418.4" y2="153.1" class="tk"/>
<text x="415.0" y="154.7" class="yl">5</text>
<line x1="416.9" y1="171.3" x2="418.4" y2="171.3" class="tk"/>
<text x="415.0" y="172.9" class="yl">0</text>
<line x1="416.9" y1="189.5" x2="418.4" y2="189.5" class="tk"/>
<text x="415.0" y="191.1" class="yl">−5</text>
<line x1="416.9" y1="207.7" x2="418.4" y2="207.7" class="tk"/>
<text x="415.0" y="209.3" class="yl">−10</text>
<text transform="translate(404.4,164.2) rotate(-90)" class="al">Residuals</text>
<text x="551.0" y="224.2" class="al">Data Points</text>
<rect x="633.7" y="117.6" width="48.0" height="13.1" rx="0.8" class="lg"/>
<circle cx="639.7" cy="121.1" r="1.25" fill="#0000ff"/>
<text x="647.0" y="122.6" class="lt">Residuals (Train)</text>
<circle cx="639.7" cy="127.2" r="1.25" fill="#008000"/>
<text x="647.0" y="128.7" class="lt">Residuals (Test)</text>
</g>
<text x="542.2" y="265.0" class="cap">(b) GBR</text>
<g style="font-size:0.9855px">
<text x="153.5" y="290.85" class="tt">Actual vs Predicted and Residuals for AdaBoost (Train &amp; Test Data)</text>
<path d="M32.00,359.04L32.50,342.84M32.99,342.05L33.49,335.68M33.99,363.63L34.48,366.51M34.98,353.58L35.48,359.26M35.97,350.33L36.47,328.72M36.97,343.55L37.46,358.25M37.96,350.99L38.46,359.85M38.96,362.35L39.45,354.52M39.95,348.68L40.45,360.31M40.94,361.45L41.44,311.32M41.94,368.85L42.43,379.31M42.93,357.63L43.43,315.96M43.92,381.26L44.42,373.06M44.92,367.20L45.41,375.15M45.91,379.84L46.41,362.09M46.90,348.93L47.40,360.72M47.90,368.71L48.39,356.16M48.89,350.23L49.39,361.73M49.88,353.17L50.38,345.81M50.88,359.93L51.38,369.44M51.87,356.72L52.37,356.03M52.87,345.56L53.36,373.02M53.86,369.55L54.36,332.20M54.85,380.66L55.35,361.35M55.85,353.32L56.34,367.54M56.84,343.79L57.34,347.10M57.83,349.96L58.33,341.02M58.83,346.87L59.32,373.80M59.82,354.13L60.32,321.76M60.81,379.76L61.31,358.28M61.81,326.40L62.30,350.37M62.80,363.44L63.30,360.28M63.80,355.41L64.29,369.52M64.79,353.68L65.29,359.87M65.78,353.52L66.28,335.96M66.78,327.25L67.27,350.23M67.77,360.24L68.27,351.88M68.76,342.98L69.26,335.17M69.76,374.98L70.25,351.03M70.75,352.53L71.25,359.56M71.74,371.74L72.24,345.99M72.74,372.81L73.23,354.56M73.73,342.87L74.23,376.46M74.72,349.88L75.22,376.34M75.72,312.48L76.22,340.95M76.71,332.04L77.21,377.00M77.71,369.09L78.20,352.34M78.70,339.15L79.20,351.28M79.69,367.32L80.19,357.02M80.69,359.30L81.18,361.92M81.68,368.77L82.18,356.14M82.67,355.21L83.17,359.96M83.67,362.23L84.16,375.53M84.66,367.79L85.16,346.02M85.65,359.76L86.15,377.04M86.65,345.84L87.14,350.96M87.64,332.51L88.14,354.66M88.64,364.36L89.13,377.83M89.63,346.09L90.13,321.76M90.62,364.46L91.12,368.09M91.62,353.49L92.11,368.68M92.61,364.14L93.11,364.42M93.60,357.87L94.10,345.89M94.60,357.16L95.09,347.92M95.59,362.84L96.09,355.97M96.58,335.68L97.08,380.18M97.58,352.99L98.07,365.68M98.57,353.33L99.07,351.93M99.56,342.23L100.06,346.99M100.56,345.20L101.06,358.68M101.55,367.85L102.05,369.63M102.55,363.30L103.04,374.34M103.54,368.36L104.04,361.92M104.53,356.76L105.03,363.18M105.53,381.05L106.02,363.94M106.52,338.00L107.02,345.94M107.51,350.39L108.01,365.94M108.51,369.25L109.00,336.44M109.50,346.79L110.00,335.25M110.49,329.89L110.99,364.99M111.49,355.60L111.98,353.30M112.48,351.72L112.98,351.70M113.48,355.83L113.97,356.80M114.47,377.36L114.97,364.16M115.46,369.27L115.96,359.40M116.46,365.15L116.95,352.78M117.45,348.48L117.95,354.05M118.44,354.80L118.94,334.52M119.44,364.64L119.93,362.24M120.43,365.91L120.93,355.70M121.42,358.72L121.92,352.27M122.42,374.56L122.91,350.91M123.41,367.47L123.91,369.60M124.40,363.39L124.90,366.91M125.40,357.03L125.90,366.09M126.39,373.48L126.89,366.38M127.39,345.34L127.88,356.80M128.38,373.28L128.88,361.43M129.37,378.71L129.87,340.55M130.37,375.19L130.86,355.99M131.36,352.32L131.86,376.05M132.35,358.29L132.85,347.14M133.35,351.92L133.84,355.15M134.34,347.25L134.84,355.67M135.33,354.79L135.83,360.30M136.33,351.89L136.82,304.36M137.32,351.37L137.82,364.40M138.32,373.49L138.81,357.12M139.31,338.49L139.81,344.60M140.30,363.51L140.80,351.57M141.30,363.81L141.79,318.28M142.29,340.09L142.79,382.49M143.28,361.34L143.78,372.28M144.28,369.88L144.77,378.98M145.27,380.14L145.77,374.16M146.26,351.61L146.76,337.99M147.26,356.55L147.75,345.72M148.25,360.62L148.75,380.87M149.24,361.15L149.74,354.29M150.24,332.20L150.74,356.45M151.23,352.03L151.73,368.86M152.23,378.86L152.72,365.06M153.22,362.87L153.72,364.27M154.21,348.16L154.71,336.75M155.21,361.13L155.70,351.20M156.20,346.76L156.70,348.87M157.19,345.11L157.69,362.05M158.19,326.40L158.68,333.51M159.18,345.78L159.68,364.96M160.17,352.88L160.67,343.10M161.17,352.51L161.66,365.28M162.16,341.54L162.66,371.99M163.16,355.21L163.65,359.02M164.15,373.93L164.65,346.78M165.14,353.32L165.64,372.75M166.14,354.12L166.63,363.92M167.13,381.00L167.63,371.43M168.12,358.05L168.62,351.50M169.12,356.25L169.61,358.43M170.11,353.58L170.61,361.15M171.10,345.38L171.60,355.54M172.10,355.29L172.59,352.25M173.09,371.25L173.59,369.87M174.08,342.40L174.58,352.82M175.08,313.64L175.58,355.67M176.07,364.76L176.57,356.86M177.07,367.18L177.56,357.26M178.06,378.35L178.56,346.08M179.05,363.70L179.55,371.16M180.05,365.17L180.54,364.84M181.04,358.41L181.54,373.25M182.03,356.69L182.53,298.56M183.03,368.35L183.52,356.68M184.02,362.83L184.52,357.62M185.01,380.28L185.51,376.75M186.01,356.45L186.50,359.48M187.00,297.40L187.50,365.06M188.00,358.17L188.49,323.79M188.99,363.43L189.49,371.06M189.98,361.63L190.48,360.33M190.98,349.31L191.47,356.36M191.97,368.21L192.47,358.20M192.96,327.13L193.46,339.12M193.96,383.24L194.45,365.82M194.95,371.07L195.45,353.62M195.94,326.40L196.44,336.10M196.94,332.74L197.43,346.39M197.93,355.23L198.43,359.32M198.92,355.29L199.42,343.06M199.92,350.49L200.42,356.11M200.91,344.37L201.41,354.86M201.91,359.71L202.40,369.14M202.90,367.81L203.40,354.10M203.89,383.24L204.39,352.38M204.89,351.50L205.38,360.88M205.88,346.93L206.38,352.25M206.87,320.60L207.37,382.91M207.87,366.69L208.36,354.06M208.86,339.04L209.36,333.98M209.85,338.27L210.35,370.43M210.85,382.60L211.34,356.77M211.84,358.72L212.34,347.63M212.84,359.22L213.33,356.75M213.83,331.04L214.33,356.68M214.82,364.46L215.32,355.95M215.82,353.34L216.31,359.97M216.81,355.68L217.31,359.06M217.80,350.15L218.30,351.95M218.80,321.76L219.29,367.45M219.79,339.42L220.29,357.69M220.78,347.11L221.28,352.82M221.78,350.46L222.27,299.72M222.77,359.50L223.27,356.34M223.76,351.51L224.26,373.70M224.76,368.84L225.26,362.02M225.75,340.35L226.25,381.71" fill="none" stroke="#0000ff" stroke-width="1.30" stroke-opacity="0.56" stroke-linecap="round"/><path d="M32.50,342.84L32.99,342.05M33.49,335.68L33.99,363.63M34.48,366.51L34.98,353.58M35.48,359.26L35.97,350.33M36.47,328.72L36.97,343.55M37.46,358.25L37.96,350.99M38.46,359.85L38.96,362.35M39.45,354.52L39.95,348.68M40.45,360.31L40.94,361.45M41.44,311.32L41.94,368.85M42.43,379.31L42.93,357.63M43.43,315.96L43.92,381.26M44.42,373.06L44.92,367.20M45.41,375.15L45.91,379.84M46.41,362.09L46.90,348.93M47.40,360.72L47.90,368.71M48.39,356.16L48.89,350.23M49.39,361.73L49.88,353.17M50.38,345.81L50.88,359.93M51.38,369.44L51.87,356.72M52.37,356.03L52.87,345.56M53.36,373.02L53.86,369.55M54.36,332.20L54.85,380.66M55.35,361.35L55.85,353.32M56.34,367.54L56.84,343.79M57.34,347.10L57.83,349.96M58.33,341.02L58.83,346.87M59.32,373.80L59.82,354.13M60.32,321.76L60.81,379.76M61.31,358.28L61.81,326.40M62.30,350.37L62.80,363.44M63.30,360.28L63.80,355.41M64.29,369.52L64.79,353.68M65.29,359.87L65.78,353.52M66.28,335.96L66.78,327.25M67.27,350.23L67.77,360.24M68.27,351.88L68.76,342.98M69.26,335.17L69.76,374.98M70.25,351.03L70.75,352.53M71.25,359.56L71.74,371.74M72.24,345.99L72.74,372.81M73.23,354.56L73.73,342.87M74.23,376.46L74.72,349.88M75.22,376.34L75.72,312.48M76.22,340.95L76.71,332.04M77.21,377.00L77.71,369.09M78.20,352.34L78.70,339.15M79.20,351.28L79.69,367.32M80.19,357.02L80.69,359.30M81.18,361.92L81.68,368.77M82.18,356.14L82.67,355.21M83.17,359.96L83.67,362.23M84.16,375.53L84.66,367.79M85.16,346.02L85.65,359.76M86.15,377.04L86.65,345.84M87.14,350.96L87.64,332.51M88.14,354.66L88.64,364.36M89.13,377.83L89.63,346.09M90.13,321.76L90.62,364.46M91.12,368.09L91.62,353.49M92.11,368.68L92.61,364.14M93.11,364.42L93.60,357.87M94.10,345.89L94.60,357.16M95.09,347.92L95.59,362.84M96.09,355.97L96.58,335.68M97.08,380.18L97.58,352.99M98.07,365.68L98.57,353.33M99.07,351.93L99.56,342.23M100.06,346.99L100.56,345.20M101.06,358.68L101.55,367.85M102.05,369.63L102.55,363.30M103.04,374.34L103.54,368.36M104.04,361.92L104.53,356.76M105.03,363.18L105.53,381.05M106.02,363.94L106.52,338.00M107.02,345.94L107.51,350.39M108.01,365.94L108.51,369.25M109.00,336.44L109.50,346.79M110.00,335.25L110.49,329.89M110.99,364.99L111.49,355.60M111.98,353.30L112.48,351.72M112.98,351.70L113.48,355.83M113.97,356.80L114.47,377.36M114.97,364.16L115.46,369.27M115.96,359.40L116.46,365.15M116.95,352.78L117.45,348.48M117.95,354.05L118.44,354.80M118.94,334.52L119.44,364.64M119.93,362.24L120.43,365.91M120.93,355.70L121.42,358.72M121.92,352.27L122.42,374.56M122.91,350.91L123.41,367.47M123.91,369.60L124.40,363.39M124.90,366.91L125.40,357.03M125.90,366.09L126.39,373.48M126.89,366.38L127.39,345.34M127.88,356.80L128.38,373.28M128.88,361.43L129.37,378.71M129.87,340.55L130.37,375.19M130.86,355.99L131.36,352.32M131.86,376.05L132.35,358.29M132.85,347.14L133.35,351.92M133.84,355.15L134.34,347.25M134.84,355.67L135.33,354.79M135.83,360.30L136.33,351.89M136.82,304.36L137.32,351.37M137.82,364.40L138.32,373.49M138.81,357.12L139.31,338.49M139.81,344.60L140.30,363.51M140.80,351.57L141.30,363.81M141.79,318.28L142.29,340.09M142.79,382.49L143.28,361.34M143.78,372.28L144.28,369.88M144.77,378.98L145.27,380.14M145.77,374.16L146.26,351.61M146.76,337.99L147.26,356.55M147.75,345.72L148.25,360.62M148.75,380.87L149.24,361.15M149.74,354.29L150.24,332.20M150.74,356.45L151.23,352.03M151.73,368.86L152.23,378.86M152.72,365.06L153.22,362.87M153.72,364.27L154.21,348.16M154.71,336.75L155.21,361.13M155.70,351.20L156.20,346.76M156.70,348.87L157.19,345.11M157.69,362.05L158.19,326.40M158.68,333.51L159.18,345.78M159.68,364.96L160.17,352.88M160.67,343.10L161.17,352.51M161.66,365.28L162.16,341.54M162.66,371.99L163.16,355.21M163.65,359.02L164.15,373.93M164.65,346.78L165.14,353.32M165.64,372.75L166.14,354.12M166.63,363.92L167.13,381.00M167.63,371.43L168.12,358.05M168.62,351.50L169.12,356.25M169.61,358.43L170.11,353.58M170.61,361.15L171.10,345.38M171.60,355.54L172.10,355.29M172.59,352.25L173.09,371.25M173.59,369.87L174.08,342.40M174.58,352.82L175.08,313.64M175.58,355.67L176.07,364.76M176.57,356.86L177.07,367.18M177.56,357.26L178.06,378.35M178.56,346.08L179.05,363.70M179.55,371.16L180.05,365.17M180.54,364.84L181.04,358.41M181.54,373.25L182.03,356.69M182.53,298.56L183.03,368.35M183.52,356.68L184.02,362.83M184.52,357.62L185.01,380.28M185.51,376.75L186.01,356.45M186.50,359.48L187.00,297.40M187.50,365.06L188.00,358.17M188.49,323.79L188.99,363.43M189.49,371.06L189.98,361.63M190.48,360.33L190.98,349.31M191.47,356.36L191.97,368.21M192.47,358.20L192.96,327.13M193.46,339.12L193.96,383.24M194.45,365.82L194.95,371.07M195.45,353.62L195.94,326.40M196.44,336.10L196.94,332.74M197.43,346.39L197.93,355.23M198.43,359.32L198.92,355.29M199.42,343.06L199.92,350.49M200.42,356.11L200.91,344.37M201.41,354.86L201.91,359.71M202.40,369.14L202.90,367.81M203.40,354.10L203.89,383.24M204.39,352.38L204.89,351.50M205.38,360.88L205.88,346.93M206.38,352.25L206.87,320.60M207.37,382.91L207.87,366.69M208.36,354.06L208.86,339.04M209.36,333.98L209.85,338.27M210.35,370.43L210.85,382.60M211.34,356.77L211.84,358.72M212.34,347.63L212.84,359.22M213.33,356.75L213.83,331.04M214.33,356.68L214.82,364.46M215.32,355.95L215.82,353.34M216.31,359.97L216.81,355.68M217.31,359.06L217.80,350.15M218.30,351.95L218.80,321.76M219.29,367.45L219.79,339.42M220.29,357.69L220.78,347.11M221.28,352.82L221.78,350.46M222.27,299.72L222.77,359.50M223.27,356.34L223.76,351.51M224.26,373.70L224.76,368.84M225.26,362.02L225.75,340.35" fill="none" stroke="#0000ff" stroke-width="1.30" stroke-opacity="0.56" stroke-linecap="round"/>
<path d="M32.00,352.70L32.50,344.97M32.99,342.88L33.49,339.97M33.99,371.11L34.48,364.13M34.98,359.24L35.48,364.08M35.97,362.04L36.47,337.31M36.97,355.44L37.46,351.82M37.96,357.10L38.46,347.94M38.96,357.24L39.45,347.68M39.95,349.19L40.45,358.06M40.94,357.79L41.44,314.48M41.94,363.44L42.43,368.46M42.93,354.89L43.43,316.76M43.92,374.30L44.42,368.48M44.92,367.98L45.41,365.84M45.91,368.40L46.41,352.96M46.90,358.71L47.40,351.43M47.90,356.78L48.39,354.26M48.89,339.52L49.39,353.12M49.88,341.59L50.38,356.17M50.88,366.76L51.38,361.35M51.87,353.55L52.37,351.81M52.87,347.58L53.36,367.97M53.86,359.45L54.36,336.51M54.85,369.90L55.35,363.92M55.85,345.35L56.34,364.51M56.84,351.63L57.34,356.73M57.83,339.24L58.33,350.35M58.83,348.80L59.32,365.37M59.82,357.88L60.32,328.04M60.81,377.84L61.31,352.76M61.81,334.50L62.30,351.97M62.80,356.18L63.30,349.47M63.80,361.93L64.29,365.39M64.79,356.38L65.29,354.10M65.78,358.47L66.28,344.48M66.78,336.33L67.27,358.80M67.77,350.95L68.27,361.55M68.76,351.88L69.26,338.39M69.76,367.85L70.25,355.94M70.75,353.69L71.25,351.81M71.74,369.81L72.24,354.41M72.74,366.15L73.23,355.64M73.73,348.13L74.23,369.69M74.72,353.09L75.22,364.99M75.72,324.07L76.22,342.42M76.71,340.84L77.21,371.66M77.71,358.90L78.20,363.76M78.70,345.37L79.20,359.09M79.69,362.70L80.19,348.83M80.69,371.37L81.18,357.71M81.68,368.19L82.18,367.97M82.67,355.77L83.17,351.51M83.67,355.07L84.16,370.47M84.66,356.45L85.16,347.68M85.65,356.68L86.15,366.90M86.65,346.16L87.14,354.33M87.64,334.76L88.14,359.91M88.64,355.33L89.13,366.21M89.63,349.24L90.13,322.15M90.62,373.56L91.12,356.99M91.62,353.09L92.11,361.11M92.61,356.81L93.11,357.56M93.60,365.59L94.10,349.45M94.60,346.24L95.09,350.80M95.59,374.37L96.09,367.58M96.58,345.85L97.08,375.32M97.58,341.44L98.07,362.88M98.57,359.43L99.07,358.20M99.56,344.13L100.06,359.00M100.56,347.60L101.06,364.64M101.55,366.59L102.05,366.04M102.55,353.15L103.04,365.99M103.54,363.77L104.04,353.93M104.53,359.03L105.03,355.07M105.53,370.19L106.02,363.54M106.52,341.81L107.02,349.24M107.51,351.68L108.01,354.77M108.51,360.78L109.00,344.02M109.50,354.34L110.00,343.52M110.49,333.53L110.99,362.35M111.49,356.75L111.98,355.39M112.48,354.32L112.98,341.94M113.48,351.75L113.97,351.94M114.47,368.29L114.97,352.36M115.46,367.80L115.96,366.64M116.46,359.92L116.95,355.18M117.45,352.77L117.95,344.47M118.44,358.24L118.94,341.44M119.44,358.96L119.93,361.79M120.43,355.41L120.93,366.23M121.42,368.94L121.92,346.84M122.42,369.20L122.91,359.19M123.41,355.45L123.91,363.41M124.40,359.59L124.90,361.01M125.40,349.97L125.90,358.33M126.39,362.02L126.89,359.23M127.39,355.39L127.88,362.68M128.38,367.64L128.88,350.37M129.37,375.08L129.87,344.40M130.37,368.43L130.86,357.55M131.36,354.52L131.86,369.65M132.35,350.41L132.85,359.08M133.35,350.34L133.84,355.89M134.34,338.80L134.84,366.61M135.33,356.12L135.83,356.52M136.33,360.26L136.82,312.25M137.32,361.99L137.82,356.25M138.32,361.93L138.81,360.85M139.31,347.63L139.81,351.88M140.30,368.44L140.80,360.41M141.30,353.47L141.79,325.44M142.29,348.87L142.79,377.34M143.28,371.85L143.78,367.46M144.28,362.19L144.77,371.63M145.27,373.78L145.77,362.96M146.26,360.25L146.76,345.26M147.26,365.30L147.75,354.43M148.25,364.80L148.75,376.85M149.24,353.64L149.74,352.39M150.24,342.12L150.74,347.03M151.23,359.93L151.73,364.65M152.23,366.93L152.72,355.97M153.22,352.35L153.72,355.44M154.21,355.06L154.71,340.37M155.21,363.52L155.70,361.19M156.20,354.42L156.70,351.93M157.19,347.84L157.69,368.10M158.19,334.22L158.68,342.84M159.18,351.75L159.68,361.74M160.17,361.20L160.67,344.88M161.17,354.80L161.66,369.95M162.16,348.49L162.66,371.54M163.16,357.06L163.65,367.71M164.15,368.79L164.65,352.35M165.14,359.19L165.64,370.43M166.14,342.36L166.63,352.66M167.13,373.19L167.63,370.10M168.12,349.60L168.62,341.61M169.12,352.01L169.61,360.46M170.11,362.49L170.61,353.33M171.10,350.30L171.60,359.30M172.10,366.62L172.59,350.98M173.09,367.32L173.59,363.91M174.08,349.68L174.58,356.11M175.08,320.97L175.58,354.09M176.07,358.17L176.57,358.11M177.07,362.29L177.56,348.51M178.06,375.73L178.56,348.13M179.05,375.47L179.55,365.81M180.05,364.25L180.54,359.52M181.04,354.93L181.54,363.25M182.03,345.95L182.53,307.90M183.03,360.07L183.52,363.73M184.02,361.90L184.52,349.61M185.01,375.42L185.51,373.15M186.01,363.44L186.50,356.35M187.00,309.43L187.50,357.68M188.00,349.00L188.49,325.32M188.99,362.76L189.49,368.77M189.98,359.19L190.48,353.52M190.98,357.38L191.47,345.43M191.97,366.84L192.47,352.02M192.96,335.24L193.46,344.33M193.96,382.15L194.45,364.43M194.95,370.73L195.45,357.69M195.94,328.55L196.44,347.68M196.94,340.51L197.43,347.79M197.93,363.41L198.43,365.58M198.92,365.45L199.42,345.54M199.92,354.87L200.42,362.18M200.91,350.71L201.41,352.91M201.91,369.87L202.40,367.02M202.90,362.04L203.40,361.13M203.89,377.77L204.39,356.68M204.89,342.64L205.38,354.38M205.88,355.33L206.38,361.59M206.87,331.87L207.37,376.79M207.87,361.47L208.36,365.28M208.86,350.81L209.36,344.64M209.85,340.94L210.35,359.34M210.85,374.64L211.34,363.25M211.84,360.52L212.34,349.80M212.84,369.80L213.33,360.43M213.83,336.94L214.33,351.34M214.82,359.63L215.32,361.26M215.82,356.92L216.31,370.95M216.81,349.30L217.31,362.80M217.80,352.92L218.30,361.76M218.80,331.42L219.29,357.41M219.79,346.77L220.29,361.87M220.78,349.88L221.28,357.51M221.78,351.77L222.27,303.24M222.77,355.11L223.27,357.95M223.76,353.56L224.26,372.04M224.76,363.96L225.26,350.72M225.75,352.04L226.25,380.25" fill="none" stroke="#008000" stroke-width="1.04" stroke-opacity="0.71" stroke-linecap="round"/><path d="M32.50,344.97L32.99,342.88M33.49,339.97L33.99,371.11M34.48,364.13L34.98,359.24M35.48,364.08L35.97,362.04M36.47,337.31L36.97,355.44M37.46,351.82L37.96,357.10M38.46,347.94L38.96,357.24M39.45,347.68L39.95,349.19M40.45,358.06L40.94,357.79M41.44,314.48L41.94,363.44M42.43,368.46L42.93,354.89M43.43,316.76L43.92,374.30M44.42,368.48L44.92,367.98M45.41,365.84L45.91,368.40M46.41,352.96L46.90,358.71M47.40,351.43L47.90,356.78M48.39,354.26L48.89,339.52M49.39,353.12L49.88,341.59M50.38,356.17L50.88,366.76M51.38,361.35L51.87,353.55M52.37,351.81L52.87,347.58M53.36,367.97L53.86,359.45M54.36,336.51L54.85,369.90M55.35,363.92L55.85,345.35M56.34,364.51L56.84,351.63M57.34,356.73L57.83,339.24M58.33,350.35L58.83,348.80M59.32,365.37L59.82,357.88M60.32,328.04L60.81,377.84M61.31,352.76L61.81,334.50M62.30,351.97L62.80,356.18M63.30,349.47L63.80,361.93M64.29,365.39L64.79,356.38M65.29,354.10L65.78,358.47M66.28,344.48L66.78,336.33M67.27,358.80L67.77,350.95M68.27,361.55L68.76,351.88M69.26,338.39L69.76,367.85M70.25,355.94L70.75,353.69M71.25,351.81L71.74,369.81M72.24,354.41L72.74,366.15M73.23,355.64L73.73,348.13M74.23,369.69L74.72,353.09M75.22,364.99L75.72,324.07M76.22,342.42L76.71,340.84M77.21,371.66L77.71,358.90M78.20,363.76L78.70,345.37M79.20,359.09L79.69,362.70M80.19,348.83L80.69,371.37M81.18,357.71L81.68,368.19M82.18,367.97L82.67,355.77M83.17,351.51L83.67,355.07M84.16,370.47L84.66,356.45M85.16,347.68L85.65,356.68M86.15,366.90L86.65,346.16M87.14,354.33L87.64,334.76M88.14,359.91L88.64,355.33M89.13,366.21L89.63,349.24M90.13,322.15L90.62,373.56M91.12,356.99L91.62,353.09M92.11,361.11L92.61,356.81M93.11,357.56L93.60,365.59M94.10,349.45L94.60,346.24M95.09,350.80L95.59,374.37M96.09,367.58L96.58,345.85M97.08,375.32L97.58,341.44M98.07,362.88L98.57,359.43M99.07,358.20L99.56,344.13M100.06,359.00L100.56,347.60M101.06,364.64L101.55,366.59M102.05,366.04L102.55,353.15M103.04,365.99L103.54,363.77M104.04,353.93L104.53,359.03M105.03,355.07L105.53,370.19M106.02,363.54L106.52,341.81M107.02,349.24L107.51,351.68M108.01,354.77L108.51,360.78M109.00,344.02L109.50,354.34M110.00,343.52L110.49,333.53M110.99,362.35L111.49,356.75M111.98,355.39L112.48,354.32M112.98,341.94L113.48,351.75M113.97,351.94L114.47,368.29M114.97,352.36L115.46,367.80M115.96,366.64L116.46,359.92M116.95,355.18L117.45,352.77M117.95,344.47L118.44,358.24M118.94,341.44L119.44,358.96M119.93,361.79L120.43,355.41M120.93,366.23L121.42,368.94M121.92,346.84L122.42,369.20M122.91,359.19L123.41,355.45M123.91,363.41L124.40,359.59M124.90,361.01L125.40,349.97M125.90,358.33L126.39,362.02M126.89,359.23L127.39,355.39M127.88,362.68L128.38,367.64M128.88,350.37L129.37,375.08M129.87,344.40L130.37,368.43M130.86,357.55L131.36,354.52M131.86,369.65L132.35,350.41M132.85,359.08L133.35,350.34M133.84,355.89L134.34,338.80M134.84,366.61L135.33,356.12M135.83,356.52L136.33,360.26M136.82,312.25L137.32,361.99M137.82,356.25L138.32,361.93M138.81,360.85L139.31,347.63M139.81,351.88L140.30,368.44M140.80,360.41L141.30,353.47M141.79,325.44L142.29,348.87M142.79,377.34L143.28,371.85M143.78,367.46L144.28,362.19M144.77,371.63L145.27,373.78M145.77,362.96L146.26,360.25M146.76,345.26L147.26,365.30M147.75,354.43L148.25,364.80M148.75,376.85L149.24,353.64M149.74,352.39L150.24,342.12M150.74,347.03L151.23,359.93M151.73,364.65L152.23,366.93M152.72,355.97L153.22,352.35M153.72,355.44L154.21,355.06M154.71,340.37L155.21,363.52M155.70,361.19L156.20,354.42M156.70,351.93L157.19,347.84M157.69,368.10L158.19,334.22M158.68,342.84L159.18,351.75M159.68,361.74L160.17,361.20M160.67,344.88L161.17,354.80M161.66,369.95L162.16,348.49M162.66,371.54L163.16,357.06M163.65,367.71L164.15,368.79M164.65,352.35L165.14,359.19M165.64,370.43L166.14,342.36M166.63,352.66L167.13,373.19M167.63,370.10L168.12,349.60M168.62,341.61L169.12,352.01M169.61,360.46L170.11,362.49M170.61,353.33L171.10,350.30M171.60,359.30L172.10,366.62M172.59,350.98L173.09,367.32M173.59,363.91L174.08,349.68M174.58,356.11L175.08,320.97M175.58,354.09L176.07,358.17M176.57,358.11L177.07,362.29M177.56,348.51L178.06,375.73M178.56,348.13L179.05,375.47M179.55,365.81L180.05,364.25M180.54,359.52L181.04,354.93M181.54,363.25L182.03,345.95M182.53,307.90L183.03,360.07M183.52,363.73L184.02,361.90M184.52,349.61L185.01,375.42M185.51,373.15L186.01,363.44M186.50,356.35L187.00,309.43M187.50,357.68L188.00,349.00M188.49,325.32L188.99,362.76M189.49,368.77L189.98,359.19M190.48,353.52L190.98,357.38M191.47,345.43L191.97,366.84M192.47,352.02L192.96,335.24M193.46,344.33L193.96,382.15M194.45,364.43L194.95,370.73M195.45,357.69L195.94,328.55M196.44,347.68L196.94,340.51M197.43,347.79L197.93,363.41M198.43,365.58L198.92,365.45M199.42,345.54L199.92,354.87M200.42,362.18L200.91,350.71M201.41,352.91L201.91,369.87M202.40,367.02L202.90,362.04M203.40,361.13L203.89,377.77M204.39,356.68L204.89,342.64M205.38,354.38L205.88,355.33M206.38,361.59L206.87,331.87M207.37,376.79L207.87,361.47M208.36,365.28L208.86,350.81M209.36,344.64L209.85,340.94M210.35,359.34L210.85,374.64M211.34,363.25L211.84,360.52M212.34,349.80L212.84,369.80M213.33,360.43L213.83,336.94M214.33,351.34L214.82,359.63M215.32,361.26L215.82,356.92M216.31,370.95L216.81,349.30M217.31,362.80L217.80,352.92M218.30,361.76L218.80,331.42M219.29,357.41L219.79,346.77M220.29,361.87L220.78,349.88M221.28,357.51L221.78,351.77M222.27,303.24L222.77,355.11M223.27,357.95L223.76,353.56M224.26,372.04L224.76,363.96M225.26,350.72L225.75,352.04" fill="none" stroke="#008000" stroke-width="1.04" stroke-opacity="0.71" stroke-linecap="round"/>
<path d="M226.25,381.71L226.75,378.98M227.24,375.87L227.74,367.73M228.24,372.52L228.73,356.11M229.23,343.67L229.73,359.80M230.22,362.84L230.72,363.62M231.22,355.92L231.71,363.01M232.21,352.24L232.71,352.17M233.20,351.63L233.70,346.45M234.20,354.60L234.69,354.47M235.19,334.77L235.69,353.81M236.18,346.40L236.68,354.36M237.18,333.36L237.68,362.91M238.17,367.50L238.67,358.06M239.17,364.15L239.66,362.86M240.16,342.67L240.66,356.12M241.15,342.62L241.65,351.25M242.15,345.28L242.64,362.33M243.14,314.80L243.64,324.35M244.13,341.68L244.63,342.14M245.13,351.59L245.62,345.42M246.12,369.09L246.62,368.86M247.11,353.24L247.61,346.14M248.11,312.48L248.60,359.44M249.10,361.48L249.60,359.67M250.10,371.74L250.59,376.39M251.09,360.64L251.59,378.46M252.08,338.00L252.58,367.04M253.08,371.11L253.57,356.01M254.07,362.09L254.57,358.57M255.06,369.37L255.56,367.74M256.06,352.23L256.55,351.74M257.05,361.76L257.55,353.18M258.04,335.68L258.54,354.54M259.04,337.14L259.53,358.85M260.03,352.12L260.53,351.10M261.02,358.94L261.52,371.46M262.02,350.75L262.52,352.88M263.01,355.80L263.51,356.57M264.01,356.72L264.50,367.91M265.00,355.15L265.50,378.77M265.99,360.69L266.49,375.90M266.99,314.80L267.48,349.53M267.98,359.20L268.48,363.35M268.97,351.89L269.47,359.72M269.97,362.59L270.46,362.86M270.96,339.70L271.46,346.56M271.95,349.84L272.45,370.69M272.95,351.79L273.44,335.68M273.94,353.75L274.44,370.41" fill="none" stroke="#ffa500" stroke-width="1.30" stroke-opacity="0.64" stroke-linecap="round"/><path d="M226.75,378.98L227.24,375.87M227.74,367.73L228.24,372.52M228.73,356.11L229.23,343.67M229.73,359.80L230.22,362.84M230.72,363.62L231.22,355.92M231.71,363.01L232.21,352.24M232.71,352.17L233.20,351.63M233.70,346.45L234.20,354.60M234.69,354.47L235.19,334.77M235.69,353.81L236.18,346.40M236.68,354.36L237.18,333.36M237.68,362.91L238.17,367.50M238.67,358.06L239.17,364.15M239.66,362.86L240.16,342.67M240.66,356.12L241.15,342.62M241.65,351.25L242.15,345.28M242.64,362.33L243.14,314.80M243.64,324.35L244.13,341.68M244.63,342.14L245.13,351.59M245.62,345.42L246.12,369.09M246.62,368.86L247.11,353.24M247.61,346.14L248.11,312.48M248.60,359.44L249.10,361.48M249.60,359.67L250.10,371.74M250.59,376.39L251.09,360.64M251.59,378.46L252.08,338.00M252.58,367.04L253.08,371.11M253.57,356.01L254.07,362.09M254.57,358.57L255.06,369.37M255.56,367.74L256.06,352.23M256.55,351.74L257.05,361.76M257.55,353.18L258.04,335.68M258.54,354.54L259.04,337.14M259.53,358.85L260.03,352.12M260.53,351.10L261.02,358.94M261.52,371.46L262.02,350.75M262.52,352.88L263.01,355.80M263.51,356.57L264.01,356.72M264.50,367.91L265.00,355.15M265.50,378.77L265.99,360.69M266.49,375.90L266.99,314.80M267.48,349.53L267.98,359.20M268.48,363.35L268.97,351.89M269.47,359.72L269.97,362.59M270.46,362.86L270.96,339.70M271.46,346.56L271.95,349.84M272.45,370.69L272.95,351.79M273.44,335.68L273.94,353.75M274.44,370.41L274.94,335.55" fill="none" stroke="#ffa500" stroke-width="1.30" stroke-opacity="0.64" stroke-linecap="round"/>
<path d="M226.25,380.25L226.75,367.55M227.24,366.24L227.74,362.15M228.24,359.25L228.73,354.87M229.23,350.02L229.73,361.20M230.22,357.66L230.72,359.38M231.22,355.11L231.71,356.25M232.21,351.63L232.71,353.67M233.20,352.79L233.70,350.56M234.20,352.83L234.69,352.83M235.19,344.58L235.69,356.98M236.18,348.36L236.68,352.17M237.18,347.37L237.68,357.93M238.17,362.47L238.67,362.95M239.17,359.81L239.66,356.29M240.16,351.06L240.66,357.71M241.15,345.98L241.65,356.43M242.15,352.99L242.64,359.71M243.14,333.22L243.64,337.99M244.13,349.99L244.63,349.59M245.13,353.17L245.62,351.46M246.12,364.68L246.62,365.22M247.11,352.19L247.61,351.34M248.11,325.60L248.60,355.55M249.10,360.55L249.60,357.47M250.10,362.52L250.59,364.68M251.09,356.67L251.59,365.56M252.08,347.04L252.58,359.28M253.08,356.87L253.57,356.91M254.07,359.78L254.57,354.87M255.06,358.72L255.56,359.15M256.06,350.24L256.55,353.65M257.05,359.19L257.55,352.34M258.04,343.53L258.54,350.07M259.04,341.70L259.53,362.34M260.03,351.45L260.53,355.12M261.02,363.20L261.52,362.24M262.02,353.51L262.52,355.09M263.01,359.26L263.51,358.87M264.01,356.63L264.50,365.93M265.00,355.55L265.50,366.72M265.99,358.45L266.49,364.75M266.99,335.26L267.48,355.79M267.98,360.26L268.48,358.96M268.97,350.83L269.47,357.10M269.97,360.43L270.46,358.63M270.96,352.76L271.46,353.84M271.95,353.69L272.45,363.21M272.95,354.52L273.44,346.31M273.94,358.00L274.44,364.56" fill="none" stroke="#ff0000" stroke-width="1.30" stroke-opacity="0.68" stroke-linecap="round"/><path d="M226.75,367.55L227.24,366.24M227.74,362.15L228.24,359.25M228.73,354.87L229.23,350.02M229.73,361.20L230.22,357.66M230.72,359.38L231.22,355.11M231.71,356.25L232.21,351.63M232.71,353.67L233.20,352.79M233.70,350.56L234.20,352.83M234.69,352.83L235.19,344.58M235.69,356.98L236.18,348.36M236.68,352.17L237.18,347.37M237.68,357.93L238.17,362.47M238.67,362.95L239.17,359.81M239.66,356.29L240.16,351.06M240.66,357.71L241.15,345.98M241.65,356.43L242.15,352.99M242.64,359.71L243.14,333.22M243.64,337.99L244.13,349.99M244.63,349.59L245.13,353.17M245.62,351.46L246.12,364.68M246.62,365.22L247.11,352.19M247.61,351.34L248.11,325.60M248.60,355.55L249.10,360.55M249.60,357.47L250.10,362.52M250.59,364.68L251.09,356.67M251.59,365.56L252.08,347.04M252.58,359.28L253.08,356.87M253.57,356.91L254.07,359.78M254.57,354.87L255.06,358.72M255.56,359.15L256.06,350.24M256.55,353.65L257.05,359.19M257.55,352.34L258.04,343.53M258.54,350.07L259.04,341.70M259.53,362.34L260.03,351.45M260.53,355.12L261.02,363.20M261.52,362.24L262.02,353.51M262.52,355.09L263.01,359.26M263.51,358.87L264.01,356.63M264.50,365.93L265.00,355.55M265.50,366.72L265.99,358.45M266.49,364.75L266.99,335.26M267.48,355.79L267.98,360.26M268.48,358.96L268.97,350.83M269.47,357.10L269.97,360.43M270.46,358.63L270.96,352.76M271.46,353.84L271.95,353.69M272.45,363.21L272.95,354.52M273.44,346.31L273.94,358.00M274.44,364.56L274.94,344.75" fill="none" stroke="#ff0000" stroke-width="1.30" stroke-opacity="0.68" stroke-linecap="round"/>
<rect x="19.6" y="293.4" width="267.8" height="98.1" class="fr"/>
<line x1="18.1" y1="384.4" x2="19.6" y2="384.4" class="tk"/>
<text x="16.2" y="386.0" class="yl">20</text>
<line x1="18.1" y1="372.8" x2="19.6" y2="372.8" class="tk"/>
<text x="16.2" y="374.4" class="yl">30</text>
<line x1="18.1" y1="361.2" x2="19.6" y2="361.2" class="tk"/>
<text x="16.2" y="362.8" class="yl">40</text>
<line x1="18.1" y1="349.6" x2="19.6" y2="349.6" class="tk"/>
<text x="16.2" y="351.2" class="yl">50</text>
<line x1="18.1" y1="338.0" x2="19.6" y2="338.0" class="tk"/>
<text x="16.2" y="339.6" class="yl">60</text>
<line x1="18.1" y1="326.4" x2="19.6" y2="326.4" class="tk"/>
<text x="16.2" y="328.0" class="yl">70</text>
<line x1="18.1" y1="314.8" x2="19.6" y2="314.8" class="tk"/>
<text x="16.2" y="316.4" class="yl">80</text>
<line x1="18.1" y1="303.2" x2="19.6" y2="303.2" class="tk"/>
<text x="16.2" y="304.8" class="yl">90</text>
<text transform="translate(9.3,342.4) rotate(-90)" class="al">Values</text>
<line x1="32.0" y1="391.5" x2="32.0" y2="393.0" class="tk"/>
<text x="32.0" y="397.8" class="xl">0</text>
<line x1="32.0" y1="500.0" x2="32.0" y2="501.5" class="tk"/>
<text x="32.0" y="506.3" class="xl">0</text>
<line x1="81.7" y1="391.5" x2="81.7" y2="393.0" class="tk"/>
<text x="81.7" y="397.8" class="xl">100</text>
<line x1="81.7" y1="500.0" x2="81.7" y2="501.5" class="tk"/>
<text x="81.7" y="506.3" class="xl">100</text>
<line x1="131.4" y1="391.5" x2="131.4" y2="393.0" class="tk"/>
<text x="131.4" y="397.8" class="xl">200</text>
<line x1="131.4" y1="500.0" x2="131.4" y2="501.5" class="tk"/>
<text x="131.4" y="506.3" class="xl">200</text>
<line x1="181.0" y1="391.5" x2="181.0" y2="393.0" class="tk"/>
<text x="181.0" y="397.8" class="xl">300</text>
<line x1="181.0" y1="500.0" x2="181.0" y2="501.5" class="tk"/>
<text x="181.0" y="506.3" class="xl">300</text>
<line x1="230.7" y1="391.5" x2="230.7" y2="393.0" class="tk"/>
<text x="230.7" y="397.8" class="xl">400</text>
<line x1="230.7" y1="500.0" x2="230.7" y2="501.5" class="tk"/>
<text x="230.7" y="506.3" class="xl">400</text>
<line x1="280.4" y1="391.5" x2="280.4" y2="393.0" class="tk"/>
<text x="280.4" y="397.8" class="xl">500</text>
<line x1="280.4" y1="500.0" x2="280.4" y2="501.5" class="tk"/>
<text x="280.4" y="506.3" class="xl">500</text>
<rect x="237" y="295.4" width="48.0" height="24.6" rx="0.8" class="lg"/>
<line x1="238.7" y1="298.5" x2="247.7" y2="298.5" stroke="#0000ff" stroke-opacity="0.4" stroke-width="0.8"/>
<text x="250.3" y="300.0" class="lt">Actual (Train)</text>
<line x1="238.7" y1="304.6" x2="247.7" y2="304.6" stroke="#008000" stroke-opacity="0.4" stroke-width="0.8"/>
<text x="250.3" y="306.1" class="lt">Predicted (Train)</text>
<line x1="238.7" y1="310.8" x2="247.7" y2="310.8" stroke="#ffa500" stroke-opacity="1" stroke-width="0.8"/>
<text x="250.3" y="312.3" class="lt">Actual (Test)</text>
<line x1="238.7" y1="316.9" x2="247.7" y2="316.9" stroke="#ff0000" stroke-opacity="1" stroke-width="0.8"/>
<text x="250.3" y="318.4" class="lt">Predicted (Test)</text>
<circle cx="32.0" cy="467.8" r="1.2" fill="#0000ff"/><circle cx="32.5" cy="448.0" r="1.2" fill="#0000ff"/><circle cx="33.0" cy="451.1" r="1.2" fill="#0000ff"/><circle cx="33.5" cy="443.0" r="1.2" fill="#0000ff"/><circle cx="34.0" cy="435.6" r="1.2" fill="#0000ff"/><circle cx="34.5" cy="458.5" r="1.2" fill="#0000ff"/><circle cx="35.0" cy="439.8" r="1.2" fill="#0000ff"/><circle cx="35.5" cy="441.8" r="1.2" fill="#0000ff"/><circle cx="36.0" cy="425.8" r="1.2" fill="#0000ff"/><circle cx="36.5" cy="433.0" r="1.2" fill="#0000ff"/><circle cx="37.0" cy="425.3" r="1.2" fill="#0000ff"/><circle cx="37.5" cy="468.0" r="1.2" fill="#0000ff"/><circle cx="38.0" cy="438.8" r="1.2" fill="#0000ff"/><circle cx="38.5" cy="480.7" r="1.2" fill="#0000ff"/><circle cx="39.0" cy="464.9" r="1.2" fill="#0000ff"/><circle cx="39.5" cy="468.9" r="1.2" fill="#0000ff"/><circle cx="39.9" cy="451.8" r="1.2" fill="#0000ff"/><circle cx="40.4" cy="458.2" r="1.2" fill="#0000ff"/><circle cx="40.9" cy="461.5" r="1.2" fill="#0000ff"/><circle cx="41.4" cy="445.6" r="1.2" fill="#0000ff"/><circle cx="41.9" cy="465.6" r="1.2" fill="#0000ff"/><circle cx="42.4" cy="478.3" r="1.2" fill="#0000ff"/><circle cx="42.9" cy="459.4" r="1.2" fill="#0000ff"/><circle cx="43.4" cy="451.1" r="1.2" fill="#0000ff"/><circle cx="43.9" cy="469.2" r="1.2" fill="#0000ff"/><circle cx="44.4" cy="463.7" r="1.2" fill="#0000ff"/><circle cx="44.9" cy="451.2" r="1.2" fill="#0000ff"/><circle cx="45.4" cy="474.7" r="1.2" fill="#0000ff"/><circle cx="45.9" cy="479.6" r="1.2" fill="#0000ff"/><circle cx="46.4" cy="474.3" r="1.2" fill="#0000ff"/><circle cx="46.9" cy="430.2" r="1.2" fill="#0000ff"/><circle cx="47.4" cy="474.6" r="1.2" fill="#0000ff"/><circle cx="47.9" cy="480.8" r="1.2" fill="#0000ff"/><circle cx="48.4" cy="457.4" r="1.2" fill="#0000ff"/><circle cx="48.9" cy="477.9" r="1.2" fill="#0000ff"/><circle cx="49.4" cy="473.1" r="1.2" fill="#0000ff"/><circle cx="49.9" cy="479.9" r="1.2" fill="#0000ff"/><circle cx="50.4" cy="428.9" r="1.2" fill="#0000ff"/><circle cx="50.9" cy="437.1" r="1.2" fill="#0000ff"/><circle cx="51.4" cy="471.8" r="1.2" fill="#0000ff"/><circle cx="51.9" cy="460.4" r="1.2" fill="#0000ff"/><circle cx="52.4" cy="462.8" r="1.2" fill="#0000ff"/><circle cx="52.9" cy="448.3" r="1.2" fill="#0000ff"/><circle cx="53.4" cy="464.7" r="1.2" fill="#0000ff"/><circle cx="53.9" cy="476.5" r="1.2" fill="#0000ff"/><circle cx="54.4" cy="443.0" r="1.2" fill="#0000ff"/><circle cx="54.9" cy="478.1" r="1.2" fill="#0000ff"/><circle cx="55.3" cy="447.0" r="1.2" fill="#0000ff"/><circle cx="55.8" cy="471.5" r="1.2" fill="#0000ff"/><circle cx="56.3" cy="460.1" r="1.2" fill="#0000ff"/><circle cx="56.8" cy="434.8" r="1.2" fill="#0000ff"/><circle cx="57.3" cy="430.6" r="1.2" fill="#0000ff"/><circle cx="57.8" cy="478.0" r="1.2" fill="#0000ff"/><circle cx="58.3" cy="431.3" r="1.2" fill="#0000ff"/><circle cx="58.8" cy="448.5" r="1.2" fill="#0000ff"/><circle cx="59.3" cy="472.6" r="1.2" fill="#0000ff"/><circle cx="59.8" cy="444.3" r="1.2" fill="#0000ff"/><circle cx="60.3" cy="438.4" r="1.2" fill="#0000ff"/><circle cx="60.8" cy="457.5" r="1.2" fill="#0000ff"/><circle cx="61.3" cy="465.8" r="1.2" fill="#0000ff"/><circle cx="61.8" cy="434.2" r="1.2" fill="#0000ff"/><circle cx="62.3" cy="449.3" r="1.2" fill="#0000ff"/><circle cx="62.8" cy="469.9" r="1.2" fill="#0000ff"/><circle cx="63.3" cy="478.2" r="1.2" fill="#0000ff"/><circle cx="63.8" cy="437.8" r="1.2" fill="#0000ff"/><circle cx="64.3" cy="462.6" r="1.2" fill="#0000ff"/><circle cx="64.8" cy="446.7" r="1.2" fill="#0000ff"/><circle cx="65.3" cy="466.4" r="1.2" fill="#0000ff"/><circle cx="65.8" cy="441.5" r="1.2" fill="#0000ff"/><circle cx="66.3" cy="433.2" r="1.2" fill="#0000ff"/><circle cx="66.8" cy="431.9" r="1.2" fill="#0000ff"/><circle cx="67.3" cy="433.1" r="1.2" fill="#0000ff"/><circle cx="67.8" cy="474.6" r="1.2" fill="#0000ff"/><circle cx="68.3" cy="430.5" r="1.2" fill="#0000ff"/><circle cx="68.8" cy="432.3" r="1.2" fill="#0000ff"/><circle cx="69.3" cy="445.5" r="1.2" fill="#0000ff"/><circle cx="69.8" cy="469.6" r="1.2" fill="#0000ff"/><circle cx="70.3" cy="441.6" r="1.2" fill="#0000ff"/><circle cx="70.8" cy="450.3" r="1.2" fill="#0000ff"/><circle cx="71.2" cy="471.0" r="1.2" fill="#0000ff"/><circle cx="71.7" cy="457.5" r="1.2" fill="#0000ff"/><circle cx="72.2" cy="433.4" r="1.2" fill="#0000ff"/><circle cx="72.7" cy="468.5" r="1.2" fill="#0000ff"/><circle cx="73.2" cy="450.5" r="1.2" fill="#0000ff"/><circle cx="73.7" cy="440.7" r="1.2" fill="#0000ff"/><circle cx="74.2" cy="468.7" r="1.2" fill="#0000ff"/><circle cx="74.7" cy="445.5" r="1.2" fill="#0000ff"/><circle cx="75.2" cy="479.4" r="1.2" fill="#0000ff"/><circle cx="75.7" cy="426.0" r="1.2" fill="#0000ff"/><circle cx="76.2" cy="449.6" r="1.2" fill="#0000ff"/><circle cx="76.7" cy="432.5" r="1.2" fill="#0000ff"/><circle cx="77.2" cy="465.4" r="1.2" fill="#0000ff"/><circle cx="77.7" cy="476.7" r="1.2" fill="#0000ff"/><circle cx="78.2" cy="426.4" r="1.2" fill="#0000ff"/><circle cx="78.7" cy="438.5" r="1.2" fill="#0000ff"/><circle cx="79.2" cy="434.8" r="1.2" fill="#0000ff"/><circle cx="79.7" cy="463.8" r="1.2" fill="#0000ff"/><circle cx="80.2" cy="472.1" r="1.2" fill="#0000ff"/><circle cx="80.7" cy="424.9" r="1.2" fill="#0000ff"/><circle cx="81.2" cy="462.8" r="1.2" fill="#0000ff"/><circle cx="81.7" cy="454.4" r="1.2" fill="#0000ff"/><circle cx="82.2" cy="425.5" r="1.2" fill="#0000ff"/><circle cx="82.7" cy="451.7" r="1.2" fill="#0000ff"/><circle cx="83.2" cy="472.7" r="1.2" fill="#0000ff"/><circle cx="83.7" cy="469.7" r="1.2" fill="#0000ff"/><circle cx="84.2" cy="464.8" r="1.2" fill="#0000ff"/><circle cx="84.7" cy="479.4" r="1.2" fill="#0000ff"/><circle cx="85.2" cy="449.1" r="1.2" fill="#0000ff"/><circle cx="85.7" cy="460.2" r="1.2" fill="#0000ff"/><circle cx="86.2" cy="476.6" r="1.2" fill="#0000ff"/><circle cx="86.6" cy="452.3" r="1.2" fill="#0000ff"/><circle cx="87.1" cy="445.2" r="1.2" fill="#0000ff"/><circle cx="87.6" cy="447.8" r="1.2" fill="#0000ff"/><circle cx="88.1" cy="440.8" r="1.2" fill="#0000ff"/><circle cx="88.6" cy="474.0" r="1.2" fill="#0000ff"/><circle cx="89.1" cy="480.0" r="1.2" fill="#0000ff"/><circle cx="89.6" cy="445.7" r="1.2" fill="#0000ff"/><circle cx="90.1" cy="452.1" r="1.2" fill="#0000ff"/><circle cx="90.6" cy="431.8" r="1.2" fill="#0000ff"/><circle cx="91.1" cy="478.8" r="1.2" fill="#0000ff"/><circle cx="91.6" cy="453.9" r="1.2" fill="#0000ff"/><circle cx="92.1" cy="470.6" r="1.2" fill="#0000ff"/><circle cx="92.6" cy="470.1" r="1.2" fill="#0000ff"/><circle cx="93.1" cy="469.0" r="1.2" fill="#0000ff"/><circle cx="93.6" cy="435.0" r="1.2" fill="#0000ff"/><circle cx="94.1" cy="444.7" r="1.2" fill="#0000ff"/><circle cx="94.6" cy="478.4" r="1.2" fill="#0000ff"/><circle cx="95.1" cy="446.3" r="1.2" fill="#0000ff"/><circle cx="95.6" cy="426.2" r="1.2" fill="#0000ff"/><circle cx="96.1" cy="426.0" r="1.2" fill="#0000ff"/><circle cx="96.6" cy="429.3" r="1.2" fill="#0000ff"/><circle cx="97.1" cy="464.3" r="1.2" fill="#0000ff"/><circle cx="97.6" cy="479.9" r="1.2" fill="#0000ff"/><circle cx="98.1" cy="459.5" r="1.2" fill="#0000ff"/><circle cx="98.6" cy="438.8" r="1.2" fill="#0000ff"/><circle cx="99.1" cy="438.4" r="1.2" fill="#0000ff"/><circle cx="99.6" cy="448.6" r="1.2" fill="#0000ff"/><circle cx="100.1" cy="425.0" r="1.2" fill="#0000ff"/><circle cx="100.6" cy="447.4" r="1.2" fill="#0000ff"/><circle cx="101.1" cy="439.1" r="1.2" fill="#0000ff"/><circle cx="101.6" cy="455.9" r="1.2" fill="#0000ff"/><circle cx="102.0" cy="461.4" r="1.2" fill="#0000ff"/><circle cx="102.5" cy="476.6" r="1.2" fill="#0000ff"/><circle cx="103.0" cy="472.4" r="1.2" fill="#0000ff"/><circle cx="103.5" cy="463.7" r="1.2" fill="#0000ff"/><circle cx="104.0" cy="471.6" r="1.2" fill="#0000ff"/><circle cx="104.5" cy="447.7" r="1.2" fill="#0000ff"/><circle cx="105.0" cy="471.9" r="1.2" fill="#0000ff"/><circle cx="105.5" cy="478.3" r="1.2" fill="#0000ff"/><circle cx="106.0" cy="453.9" r="1.2" fill="#0000ff"/><circle cx="106.5" cy="444.1" r="1.2" fill="#0000ff"/><circle cx="107.0" cy="445.3" r="1.2" fill="#0000ff"/><circle cx="107.5" cy="450.0" r="1.2" fill="#0000ff"/><circle cx="108.0" cy="479.0" r="1.2" fill="#0000ff"/><circle cx="108.5" cy="472.7" r="1.2" fill="#0000ff"/><circle cx="109.0" cy="435.4" r="1.2" fill="#0000ff"/><circle cx="109.5" cy="435.4" r="1.2" fill="#0000ff"/><circle cx="110.0" cy="433.8" r="1.2" fill="#0000ff"/><circle cx="110.5" cy="444.5" r="1.2" fill="#0000ff"/><circle cx="111.0" cy="459.1" r="1.2" fill="#0000ff"/><circle cx="111.5" cy="450.3" r="1.2" fill="#0000ff"/><circle cx="112.0" cy="448.1" r="1.2" fill="#0000ff"/><circle cx="112.5" cy="446.9" r="1.2" fill="#0000ff"/><circle cx="113.0" cy="475.7" r="1.2" fill="#0000ff"/><circle cx="113.5" cy="462.5" r="1.2" fill="#0000ff"/><circle cx="114.0" cy="464.3" r="1.2" fill="#0000ff"/><circle cx="114.5" cy="474.1" r="1.2" fill="#0000ff"/><circle cx="115.0" cy="480.5" r="1.2" fill="#0000ff"/><circle cx="115.5" cy="456.4" r="1.2" fill="#0000ff"/><circle cx="116.0" cy="436.1" r="1.2" fill="#0000ff"/><circle cx="116.5" cy="465.2" r="1.2" fill="#0000ff"/><circle cx="117.0" cy="447.4" r="1.2" fill="#0000ff"/><circle cx="117.4" cy="443.0" r="1.2" fill="#0000ff"/><circle cx="117.9" cy="475.3" r="1.2" fill="#0000ff"/><circle cx="118.4" cy="445.0" r="1.2" fill="#0000ff"/><circle cx="118.9" cy="436.9" r="1.2" fill="#0000ff"/><circle cx="119.4" cy="466.2" r="1.2" fill="#0000ff"/><circle cx="119.9" cy="454.0" r="1.2" fill="#0000ff"/><circle cx="120.4" cy="477.5" r="1.2" fill="#0000ff"/><circle cx="120.9" cy="428.5" r="1.2" fill="#0000ff"/><circle cx="121.4" cy="429.2" r="1.2" fill="#0000ff"/><circle cx="121.9" cy="465.6" r="1.2" fill="#0000ff"/><circle cx="122.4" cy="465.5" r="1.2" fill="#0000ff"/><circle cx="122.9" cy="433.7" r="1.2" fill="#0000ff"/><circle cx="123.4" cy="481.0" r="1.2" fill="#0000ff"/><circle cx="123.9" cy="467.4" r="1.2" fill="#0000ff"/><circle cx="124.4" cy="461.8" r="1.2" fill="#0000ff"/><circle cx="124.9" cy="466.7" r="1.2" fill="#0000ff"/><circle cx="125.4" cy="469.4" r="1.2" fill="#0000ff"/><circle cx="125.9" cy="471.0" r="1.2" fill="#0000ff"/><circle cx="126.4" cy="479.7" r="1.2" fill="#0000ff"/><circle cx="126.9" cy="469.6" r="1.2" fill="#0000ff"/><circle cx="127.4" cy="429.6" r="1.2" fill="#0000ff"/><circle cx="127.9" cy="439.3" r="1.2" fill="#0000ff"/><circle cx="128.4" cy="466.1" r="1.2" fill="#0000ff"/><circle cx="128.9" cy="478.7" r="1.2" fill="#0000ff"/><circle cx="129.4" cy="461.5" r="1.2" fill="#0000ff"/><circle cx="129.9" cy="444.1" r="1.2" fill="#0000ff"/><circle cx="130.4" cy="468.7" r="1.2" fill="#0000ff"/><circle cx="130.9" cy="449.4" r="1.2" fill="#0000ff"/><circle cx="131.4" cy="447.9" r="1.2" fill="#0000ff"/><circle cx="131.9" cy="467.9" r="1.2" fill="#0000ff"/><circle cx="132.4" cy="471.4" r="1.2" fill="#0000ff"/><circle cx="132.9" cy="425.2" r="1.2" fill="#0000ff"/><circle cx="133.3" cy="456.7" r="1.2" fill="#0000ff"/><circle cx="133.8" cy="451.3" r="1.2" fill="#0000ff"/><circle cx="134.3" cy="472.7" r="1.2" fill="#0000ff"/><circle cx="134.8" cy="427.5" r="1.2" fill="#0000ff"/><circle cx="135.3" cy="449.9" r="1.2" fill="#0000ff"/><circle cx="135.8" cy="461.8" r="1.2" fill="#0000ff"/><circle cx="136.3" cy="433.5" r="1.2" fill="#0000ff"/><circle cx="136.8" cy="434.6" r="1.2" fill="#0000ff"/><circle cx="137.3" cy="428.3" r="1.2" fill="#0000ff"/><circle cx="137.8" cy="472.0" r="1.2" fill="#0000ff"/><circle cx="138.3" cy="479.9" r="1.2" fill="#0000ff"/><circle cx="138.8" cy="444.3" r="1.2" fill="#0000ff"/><circle cx="139.3" cy="431.7" r="1.2" fill="#0000ff"/><circle cx="139.8" cy="436.1" r="1.2" fill="#0000ff"/><circle cx="140.3" cy="441.5" r="1.2" fill="#0000ff"/><circle cx="140.8" cy="432.4" r="1.2" fill="#0000ff"/><circle cx="141.3" cy="477.1" r="1.2" fill="#0000ff"/><circle cx="141.8" cy="436.3" r="1.2" fill="#0000ff"/><circle cx="142.3" cy="432.6" r="1.2" fill="#0000ff"/><circle cx="142.8" cy="465.0" r="1.2" fill="#0000ff"/><circle cx="143.3" cy="428.5" r="1.2" fill="#0000ff"/><circle cx="143.8" cy="464.2" r="1.2" fill="#0000ff"/><circle cx="144.3" cy="470.9" r="1.2" fill="#0000ff"/><circle cx="144.8" cy="470.1" r="1.2" fill="#0000ff"/><circle cx="145.3" cy="467.8" r="1.2" fill="#0000ff"/><circle cx="145.8" cy="479.1" r="1.2" fill="#0000ff"/><circle cx="146.3" cy="432.9" r="1.2" fill="#0000ff"/><circle cx="146.8" cy="436.1" r="1.2" fill="#0000ff"/><circle cx="147.3" cy="432.6" r="1.2" fill="#0000ff"/><circle cx="147.8" cy="432.7" r="1.2" fill="#0000ff"/><circle cx="148.3" cy="443.3" r="1.2" fill="#0000ff"/><circle cx="148.7" cy="462.3" r="1.2" fill="#0000ff"/><circle cx="149.2" cy="470.5" r="1.2" fill="#0000ff"/><circle cx="149.7" cy="457.4" r="1.2" fill="#0000ff"/><circle cx="150.2" cy="429.9" r="1.2" fill="#0000ff"/><circle cx="150.7" cy="474.9" r="1.2" fill="#0000ff"/><circle cx="151.2" cy="434.6" r="1.2" fill="#0000ff"/><circle cx="151.7" cy="462.8" r="1.2" fill="#0000ff"/><circle cx="152.2" cy="480.8" r="1.2" fill="#0000ff"/><circle cx="152.7" cy="474.2" r="1.2" fill="#0000ff"/><circle cx="153.2" cy="477.5" r="1.2" fill="#0000ff"/><circle cx="153.7" cy="473.5" r="1.2" fill="#0000ff"/><circle cx="154.2" cy="436.9" r="1.2" fill="#0000ff"/><circle cx="154.7" cy="444.6" r="1.2" fill="#0000ff"/><circle cx="155.2" cy="447.4" r="1.2" fill="#0000ff"/><circle cx="155.7" cy="429.8" r="1.2" fill="#0000ff"/><circle cx="156.2" cy="435.2" r="1.2" fill="#0000ff"/><circle cx="156.7" cy="445.9" r="1.2" fill="#0000ff"/><circle cx="157.2" cy="446.7" r="1.2" fill="#0000ff"/><circle cx="157.7" cy="438.9" r="1.2" fill="#0000ff"/><circle cx="158.2" cy="434.8" r="1.2" fill="#0000ff"/><circle cx="158.7" cy="431.3" r="1.2" fill="#0000ff"/><circle cx="159.2" cy="439.1" r="1.2" fill="#0000ff"/><circle cx="159.7" cy="460.5" r="1.2" fill="#0000ff"/><circle cx="160.2" cy="433.6" r="1.2" fill="#0000ff"/><circle cx="160.7" cy="448.9" r="1.2" fill="#0000ff"/><circle cx="161.2" cy="447.7" r="1.2" fill="#0000ff"/><circle cx="161.7" cy="442.1" r="1.2" fill="#0000ff"/><circle cx="162.2" cy="436.8" r="1.2" fill="#0000ff"/><circle cx="162.7" cy="454.1" r="1.2" fill="#0000ff"/><circle cx="163.2" cy="448.7" r="1.2" fill="#0000ff"/><circle cx="163.7" cy="432.8" r="1.2" fill="#0000ff"/><circle cx="164.1" cy="465.0" r="1.2" fill="#0000ff"/><circle cx="164.6" cy="440.0" r="1.2" fill="#0000ff"/><circle cx="165.1" cy="439.3" r="1.2" fill="#0000ff"/><circle cx="165.6" cy="458.4" r="1.2" fill="#0000ff"/><circle cx="166.1" cy="480.4" r="1.2" fill="#0000ff"/><circle cx="166.6" cy="479.2" r="1.2" fill="#0000ff"/><circle cx="167.1" cy="471.2" r="1.2" fill="#0000ff"/><circle cx="167.6" cy="456.1" r="1.2" fill="#0000ff"/><circle cx="168.1" cy="472.7" r="1.2" fill="#0000ff"/><circle cx="168.6" cy="476.0" r="1.2" fill="#0000ff"/><circle cx="169.1" cy="462.9" r="1.2" fill="#0000ff"/><circle cx="169.6" cy="448.3" r="1.2" fill="#0000ff"/><circle cx="170.1" cy="432.3" r="1.2" fill="#0000ff"/><circle cx="170.6" cy="471.2" r="1.2" fill="#0000ff"/><circle cx="171.1" cy="441.5" r="1.2" fill="#0000ff"/><circle cx="171.6" cy="444.3" r="1.2" fill="#0000ff"/><circle cx="172.1" cy="426.6" r="1.2" fill="#0000ff"/><circle cx="172.6" cy="456.0" r="1.2" fill="#0000ff"/><circle cx="173.1" cy="462.2" r="1.2" fill="#0000ff"/><circle cx="173.6" cy="466.9" r="1.2" fill="#0000ff"/><circle cx="174.1" cy="436.1" r="1.2" fill="#0000ff"/><circle cx="174.6" cy="445.3" r="1.2" fill="#0000ff"/><circle cx="175.1" cy="435.9" r="1.2" fill="#0000ff"/><circle cx="175.6" cy="456.7" r="1.2" fill="#0000ff"/><circle cx="176.1" cy="468.3" r="1.2" fill="#0000ff"/><circle cx="176.6" cy="450.1" r="1.2" fill="#0000ff"/><circle cx="177.1" cy="464.4" r="1.2" fill="#0000ff"/><circle cx="177.6" cy="473.4" r="1.2" fill="#0000ff"/><circle cx="178.1" cy="459.1" r="1.2" fill="#0000ff"/><circle cx="178.6" cy="448.2" r="1.2" fill="#0000ff"/><circle cx="179.1" cy="425.6" r="1.2" fill="#0000ff"/><circle cx="179.5" cy="465.5" r="1.2" fill="#0000ff"/><circle cx="180.0" cy="455.1" r="1.2" fill="#0000ff"/><circle cx="180.5" cy="465.4" r="1.2" fill="#0000ff"/><circle cx="181.0" cy="461.1" r="1.2" fill="#0000ff"/><circle cx="181.5" cy="476.3" r="1.2" fill="#0000ff"/><circle cx="182.0" cy="478.0" r="1.2" fill="#0000ff"/><circle cx="182.5" cy="431.3" r="1.2" fill="#0000ff"/><circle cx="183.0" cy="472.3" r="1.2" fill="#0000ff"/><circle cx="183.5" cy="436.6" r="1.2" fill="#0000ff"/><circle cx="184.0" cy="455.1" r="1.2" fill="#0000ff"/><circle cx="184.5" cy="471.6" r="1.2" fill="#0000ff"/><circle cx="185.0" cy="464.3" r="1.2" fill="#0000ff"/><circle cx="185.5" cy="461.4" r="1.2" fill="#0000ff"/><circle cx="186.0" cy="436.7" r="1.2" fill="#0000ff"/><circle cx="186.5" cy="460.3" r="1.2" fill="#0000ff"/><circle cx="187.0" cy="425.0" r="1.2" fill="#0000ff"/><circle cx="187.5" cy="470.2" r="1.2" fill="#0000ff"/><circle cx="188.0" cy="474.4" r="1.2" fill="#0000ff"/><circle cx="188.5" cy="449.4" r="1.2" fill="#0000ff"/><circle cx="189.0" cy="454.6" r="1.2" fill="#0000ff"/><circle cx="189.5" cy="458.3" r="1.2" fill="#0000ff"/><circle cx="190.0" cy="458.7" r="1.2" fill="#0000ff"/><circle cx="190.5" cy="468.8" r="1.2" fill="#0000ff"/><circle cx="191.0" cy="434.2" r="1.2" fill="#0000ff"/><circle cx="191.5" cy="478.4" r="1.2" fill="#0000ff"/><circle cx="192.0" cy="456.2" r="1.2" fill="#0000ff"/><circle cx="192.5" cy="467.4" r="1.2" fill="#0000ff"/><circle cx="193.0" cy="434.1" r="1.2" fill="#0000ff"/><circle cx="193.5" cy="440.9" r="1.2" fill="#0000ff"/><circle cx="194.0" cy="455.5" r="1.2" fill="#0000ff"/><circle cx="194.5" cy="456.2" r="1.2" fill="#0000ff"/><circle cx="195.0" cy="453.8" r="1.2" fill="#0000ff"/><circle cx="195.4" cy="443.5" r="1.2" fill="#0000ff"/><circle cx="195.9" cy="448.0" r="1.2" fill="#0000ff"/><circle cx="196.4" cy="426.1" r="1.2" fill="#0000ff"/><circle cx="196.9" cy="434.9" r="1.2" fill="#0000ff"/><circle cx="197.4" cy="449.7" r="1.2" fill="#0000ff"/><circle cx="197.9" cy="434.0" r="1.2" fill="#0000ff"/><circle cx="198.4" cy="438.4" r="1.2" fill="#0000ff"/><circle cx="198.9" cy="429.4" r="1.2" fill="#0000ff"/><circle cx="199.4" cy="447.2" r="1.2" fill="#0000ff"/><circle cx="199.9" cy="442.8" r="1.2" fill="#0000ff"/><circle cx="200.4" cy="438.9" r="1.2" fill="#0000ff"/><circle cx="200.9" cy="438.2" r="1.2" fill="#0000ff"/><circle cx="201.4" cy="457.5" r="1.2" fill="#0000ff"/><circle cx="201.9" cy="429.4" r="1.2" fill="#0000ff"/><circle cx="202.4" cy="457.9" r="1.2" fill="#0000ff"/><circle cx="202.9" cy="466.4" r="1.2" fill="#0000ff"/><circle cx="203.4" cy="436.6" r="1.2" fill="#0000ff"/><circle cx="203.9" cy="465.7" r="1.2" fill="#0000ff"/><circle cx="204.4" cy="443.0" r="1.2" fill="#0000ff"/><circle cx="204.9" cy="473.6" r="1.2" fill="#0000ff"/><circle cx="205.4" cy="468.1" r="1.2" fill="#0000ff"/><circle cx="205.9" cy="433.5" r="1.2" fill="#0000ff"/><circle cx="206.4" cy="431.3" r="1.2" fill="#0000ff"/><circle cx="206.9" cy="426.8" r="1.2" fill="#0000ff"/><circle cx="207.4" cy="467.2" r="1.2" fill="#0000ff"/><circle cx="207.9" cy="465.1" r="1.2" fill="#0000ff"/><circle cx="208.4" cy="426.9" r="1.2" fill="#0000ff"/><circle cx="208.9" cy="425.6" r="1.2" fill="#0000ff"/><circle cx="209.4" cy="428.2" r="1.2" fill="#0000ff"/><circle cx="209.9" cy="446.8" r="1.2" fill="#0000ff"/><circle cx="210.4" cy="478.8" r="1.2" fill="#0000ff"/><circle cx="210.8" cy="471.5" r="1.2" fill="#0000ff"/><circle cx="211.3" cy="437.9" r="1.2" fill="#0000ff"/><circle cx="211.8" cy="448.8" r="1.2" fill="#0000ff"/><circle cx="212.3" cy="447.9" r="1.2" fill="#0000ff"/><circle cx="212.8" cy="428.4" r="1.2" fill="#0000ff"/><circle cx="213.3" cy="444.4" r="1.2" fill="#0000ff"/><circle cx="213.8" cy="439.3" r="1.2" fill="#0000ff"/><circle cx="214.3" cy="465.4" r="1.2" fill="#0000ff"/><circle cx="214.8" cy="464.3" r="1.2" fill="#0000ff"/><circle cx="215.3" cy="440.6" r="1.2" fill="#0000ff"/><circle cx="215.8" cy="444.7" r="1.2" fill="#0000ff"/><circle cx="216.3" cy="427.4" r="1.2" fill="#0000ff"/><circle cx="216.8" cy="467.8" r="1.2" fill="#0000ff"/><circle cx="217.3" cy="444.3" r="1.2" fill="#0000ff"/><circle cx="217.8" cy="446.6" r="1.2" fill="#0000ff"/><circle cx="218.3" cy="430.2" r="1.2" fill="#0000ff"/><circle cx="218.8" cy="430.5" r="1.2" fill="#0000ff"/><circle cx="219.3" cy="476.4" r="1.2" fill="#0000ff"/><circle cx="219.8" cy="435.9" r="1.2" fill="#0000ff"/><circle cx="220.3" cy="443.3" r="1.2" fill="#0000ff"/><circle cx="220.8" cy="446.6" r="1.2" fill="#0000ff"/><circle cx="221.3" cy="442.1" r="1.2" fill="#0000ff"/><circle cx="221.8" cy="450.0" r="1.2" fill="#0000ff"/><circle cx="222.3" cy="444.8" r="1.2" fill="#0000ff"/><circle cx="222.8" cy="463.2" r="1.2" fill="#0000ff"/><circle cx="223.3" cy="449.2" r="1.2" fill="#0000ff"/><circle cx="223.8" cy="448.2" r="1.2" fill="#0000ff"/><circle cx="224.3" cy="456.9" r="1.2" fill="#0000ff"/><circle cx="224.8" cy="464.4" r="1.2" fill="#0000ff"/><circle cx="225.3" cy="479.3" r="1.2" fill="#0000ff"/><circle cx="225.8" cy="425.8" r="1.2" fill="#0000ff"/><circle cx="226.2" cy="456.4" r="1.2" fill="#0000ff"/><circle cx="226.7" cy="472.0" r="1.2" fill="#008000"/><circle cx="227.2" cy="454.5" r="1.2" fill="#008000"/><circle cx="227.7" cy="474.1" r="1.2" fill="#008000"/><circle cx="228.2" cy="472.9" r="1.2" fill="#008000"/><circle cx="228.7" cy="436.4" r="1.2" fill="#008000"/><circle cx="229.2" cy="443.4" r="1.2" fill="#008000"/><circle cx="229.7" cy="437.8" r="1.2" fill="#008000"/><circle cx="230.2" cy="455.5" r="1.2" fill="#008000"/><circle cx="230.7" cy="473.8" r="1.2" fill="#008000"/><circle cx="231.2" cy="428.5" r="1.2" fill="#008000"/><circle cx="231.7" cy="456.9" r="1.2" fill="#008000"/><circle cx="232.2" cy="484.0" r="1.2" fill="#008000"/><circle cx="232.7" cy="446.4" r="1.2" fill="#008000"/><circle cx="233.2" cy="424.5" r="1.2" fill="#008000"/><circle cx="233.7" cy="422.6" r="1.2" fill="#008000"/><circle cx="234.2" cy="466.9" r="1.2" fill="#008000"/><circle cx="234.7" cy="479.3" r="1.2" fill="#008000"/><circle cx="235.2" cy="435.0" r="1.2" fill="#008000"/><circle cx="235.7" cy="443.6" r="1.2" fill="#008000"/><circle cx="236.2" cy="431.2" r="1.2" fill="#008000"/><circle cx="236.7" cy="465.0" r="1.2" fill="#008000"/><circle cx="237.2" cy="447.1" r="1.2" fill="#008000"/><circle cx="237.7" cy="477.3" r="1.2" fill="#008000"/><circle cx="238.2" cy="460.0" r="1.2" fill="#008000"/><circle cx="238.7" cy="482.1" r="1.2" fill="#008000"/><circle cx="239.2" cy="460.2" r="1.2" fill="#008000"/><circle cx="239.7" cy="463.9" r="1.2" fill="#008000"/><circle cx="240.2" cy="427.8" r="1.2" fill="#008000"/><circle cx="240.7" cy="479.2" r="1.2" fill="#008000"/><circle cx="241.2" cy="439.7" r="1.2" fill="#008000"/><circle cx="241.6" cy="433.5" r="1.2" fill="#008000"/><circle cx="242.1" cy="423.6" r="1.2" fill="#008000"/><circle cx="242.6" cy="463.0" r="1.2" fill="#008000"/><circle cx="243.1" cy="443.7" r="1.2" fill="#008000"/><circle cx="243.6" cy="448.5" r="1.2" fill="#008000"/><circle cx="244.1" cy="431.2" r="1.2" fill="#008000"/><circle cx="244.6" cy="431.1" r="1.2" fill="#008000"/><circle cx="245.1" cy="448.0" r="1.2" fill="#008000"/><circle cx="245.6" cy="494.9" r="1.2" fill="#008000"/><circle cx="246.1" cy="462.9" r="1.2" fill="#008000"/><circle cx="246.6" cy="469.5" r="1.2" fill="#008000"/><circle cx="247.1" cy="435.0" r="1.2" fill="#008000"/><circle cx="247.6" cy="434.3" r="1.2" fill="#008000"/><circle cx="248.1" cy="435.2" r="1.2" fill="#008000"/><circle cx="248.6" cy="439.8" r="1.2" fill="#008000"/><circle cx="249.1" cy="475.2" r="1.2" fill="#008000"/><circle cx="249.6" cy="445.4" r="1.2" fill="#008000"/><circle cx="250.1" cy="480.2" r="1.2" fill="#008000"/><circle cx="250.6" cy="465.9" r="1.2" fill="#008000"/><circle cx="251.1" cy="477.3" r="1.2" fill="#008000"/><circle cx="251.6" cy="472.4" r="1.2" fill="#008000"/><circle cx="252.1" cy="438.2" r="1.2" fill="#008000"/><circle cx="252.6" cy="468.5" r="1.2" fill="#008000"/><circle cx="253.1" cy="469.9" r="1.2" fill="#008000"/><circle cx="253.6" cy="439.2" r="1.2" fill="#008000"/><circle cx="254.1" cy="471.0" r="1.2" fill="#008000"/><circle cx="254.6" cy="468.5" r="1.2" fill="#008000"/><circle cx="255.1" cy="479.4" r="1.2" fill="#008000"/><circle cx="255.6" cy="462.1" r="1.2" fill="#008000"/><circle cx="256.1" cy="429.3" r="1.2" fill="#008000"/><circle cx="256.6" cy="439.4" r="1.2" fill="#008000"/><circle cx="257.1" cy="479.6" r="1.2" fill="#008000"/><circle cx="257.5" cy="427.1" r="1.2" fill="#008000"/><circle cx="258.0" cy="449.4" r="1.2" fill="#008000"/><circle cx="258.5" cy="424.1" r="1.2" fill="#008000"/><circle cx="259.0" cy="427.5" r="1.2" fill="#008000"/><circle cx="259.5" cy="473.8" r="1.2" fill="#008000"/><circle cx="260.0" cy="446.0" r="1.2" fill="#008000"/><circle cx="260.5" cy="479.1" r="1.2" fill="#008000"/><circle cx="261.0" cy="471.9" r="1.2" fill="#008000"/><circle cx="261.5" cy="461.2" r="1.2" fill="#008000"/><circle cx="262.0" cy="432.6" r="1.2" fill="#008000"/><circle cx="262.5" cy="457.9" r="1.2" fill="#008000"/><circle cx="263.0" cy="430.9" r="1.2" fill="#008000"/><circle cx="263.5" cy="460.1" r="1.2" fill="#008000"/><circle cx="264.0" cy="442.6" r="1.2" fill="#008000"/><circle cx="264.5" cy="455.0" r="1.2" fill="#008000"/><circle cx="265.0" cy="465.4" r="1.2" fill="#008000"/><circle cx="265.5" cy="472.4" r="1.2" fill="#008000"/><circle cx="266.0" cy="473.8" r="1.2" fill="#008000"/><circle cx="266.5" cy="466.7" r="1.2" fill="#008000"/><circle cx="267.0" cy="443.3" r="1.2" fill="#008000"/><circle cx="267.5" cy="448.8" r="1.2" fill="#008000"/><circle cx="268.0" cy="464.9" r="1.2" fill="#008000"/><circle cx="268.5" cy="477.6" r="1.2" fill="#008000"/><circle cx="269.0" cy="482.1" r="1.2" fill="#008000"/><circle cx="269.5" cy="424.3" r="1.2" fill="#008000"/><circle cx="270.0" cy="456.9" r="1.2" fill="#008000"/><circle cx="270.5" cy="458.1" r="1.2" fill="#008000"/><circle cx="271.0" cy="440.7" r="1.2" fill="#008000"/><circle cx="271.5" cy="435.1" r="1.2" fill="#008000"/><circle cx="272.0" cy="450.2" r="1.2" fill="#008000"/><circle cx="272.5" cy="449.0" r="1.2" fill="#008000"/><circle cx="272.9" cy="427.1" r="1.2" fill="#008000"/><circle cx="273.4" cy="422.1" r="1.2" fill="#008000"/><circle cx="273.9" cy="438.6" r="1.2" fill="#008000"/><circle cx="274.4" cy="477.9" r="1.2" fill="#008000"/><circle cx="274.9" cy="430.8" r="1.2" fill="#008000"/>
<line x1="19.6" y1="453.0" x2="287.4" y2="453.0" stroke="#ff0000" stroke-opacity="0.4" stroke-width="0.7" stroke-dasharray="2,1.3"/>
<rect x="19.6" y="402.5" width="267.8" height="97.5" class="fr"/>
<line x1="18.1" y1="412.5" x2="19.6" y2="412.5" class="tk"/>
<text x="16.2" y="414.1" class="yl">15</text>
<line x1="18.1" y1="426.0" x2="19.6" y2="426.0" class="tk"/>
<text x="16.2" y="427.6" class="yl">10</text>
<line x1="18.1" y1="439.5" x2="19.6" y2="439.5" class="tk"/>
<text x="16.2" y="441.1" class="yl">5</text>
<line x1="18.1" y1="453.0" x2="19.6" y2="453.0" class="tk"/>
<text x="16.2" y="454.6" class="yl">0</text>
<line x1="18.1" y1="466.5" x2="19.6" y2="466.5" class="tk"/>
<text x="16.2" y="468.1" class="yl">−5</text>
<line x1="18.1" y1="480.0" x2="19.6" y2="480.0" class="tk"/>
<text x="16.2" y="481.6" class="yl">−10</text>
<line x1="18.1" y1="493.5" x2="19.6" y2="493.5" class="tk"/>
<text x="16.2" y="495.1" class="yl">−15</text>
<text transform="translate(5.6,451.2) rotate(-90)" class="al">Residuals</text>
<text x="153.5" y="511.8" class="al">Data Points</text>
<rect x="237" y="404" width="48.0" height="13.0" rx="0.8" class="lg"/>
<circle cx="243.0" cy="407.4" r="1.25" fill="#0000ff"/>
<text x="250.3" y="408.9" class="lt">Residuals (Train)</text>
<circle cx="243.0" cy="413.6" r="1.25" fill="#008000"/>
<text x="250.3" y="415.1" class="lt">Residuals (Test)</text>
</g>
<text x="145.7" y="546.4" class="cap">(c) AdaBoost</text>
<g style="font-size:0.9600px">
<text x="550.6" y="290.55" class="tt">Actual vs Predicted and Residuals for CatBoost (Train &amp; Test Data)</text>
<path d="M432.10,355.64V357.12M433.55,336.36V334.56M434.52,365.29V364.33M435.01,353.01V351.84M436.95,343.49V342.16M440.34,359.21V358.34M443.25,316.57V315.52M444.70,363.23V364.99M445.18,371.38V372.67M445.67,374.93V377.20M447.61,367.78V366.45M449.55,349.38V351.44M451.97,353.26V354.21M452.45,344.92V344.10M453.42,366.23V367.26M454.39,377.10V377.99M455.36,352.83V351.59M455.85,364.02V365.32M456.33,343.71V342.39M457.78,340.96V339.71M459.24,351.47V352.38M460.21,375.83V377.12M460.69,357.69V356.38M461.18,327.79V325.60M461.66,349.56V348.75M463.11,355.04V353.61M464.08,352.77V351.94M466.02,328.35V326.42M467.48,351.66V350.20M467.96,342.74V341.61M468.45,336.10V334.07M469.90,352.08V350.83M471.84,368.84V370.41M472.32,354.06V352.79M473.29,372.83V373.93M473.78,349.20V348.27M474.26,372.62V373.82M477.17,351.59V350.64M480.56,367.67V366.51M483.47,363.99V365.56M485.89,348.31V349.31M487.34,363.23V362.25M488.80,322.56V321.12M489.28,361.52V362.35M489.77,364.47V365.85M490.25,352.87V351.76M496.55,362.42V363.52M497.04,353.17V351.60M497.52,351.43V350.25M498.01,341.78V340.88M499.46,355.66V356.77M501.88,365.25V366.11M502.85,353.77V354.92M503.82,377.25V378.37M504.31,360.68V361.84M506.73,366.13V366.97M507.21,336.66V335.29M507.70,346.20V345.29M508.67,330.91V328.97M509.15,361.63V362.86M510.61,350.84V350.05M511.09,349.02V350.03M511.57,353.18V354.02M514.97,350.18V351.07M516.42,353.90V353.02M517.87,359.05V360.20M520.30,370.88V372.10M521.27,366.07V365.25M521.75,366.47V367.31M524.66,363.03V364.20M526.11,369.98V370.87M527.08,374.72V376.10M527.57,340.33V339.26M528.05,371.67V372.71M530.96,351.17V350.24M531.44,351.23V353.36M531.93,347.07V345.73M532.41,354.92V353.86M533.38,359.18V358.33M534.35,306.23V304.32M534.84,348.12V349.71M537.74,359.07V361.43M539.20,318.84V317.76M541.13,370.85V369.90M541.62,366.60V367.58M542.59,376.66V377.49M543.07,370.56V371.71M543.56,349.01V349.94M544.04,338.03V336.79M544.53,353.58V354.71M545.01,345.31V344.26M545.98,377.09V378.19M547.43,332.06V331.20M549.86,361.80V362.93M552.77,348.34V349.54M553.25,346.65V345.26M553.73,348.29V347.29M555.19,327.81V325.60M555.67,333.48V332.46M556.64,360.96V362.83M557.13,350.05V351.17M557.61,343.06V341.72M558.58,361.91V363.14M559.07,341.23V340.22M561.00,370.67V371.49M561.49,346.88V345.28M562.94,353.50V352.37M563.43,362.81V361.82M563.91,376.88V378.32M564.40,370.28V369.07M564.88,357.00V356.15M565.37,348.87V349.84M565.85,355.86V354.42M566.33,355.36V356.52M567.30,358.16V359.15M567.79,342.90V343.92M571.66,315.01V313.28M574.09,354.23V355.39M574.57,374.92V375.75M575.54,362.44V361.61M576.03,367.69V368.82M578.93,301.52V298.72M580.39,362.75V360.77M582.33,353.63V354.62M583.30,300.00V297.60M583.78,361.58V362.92M584.75,324.78V323.08M589.11,328.73V326.31M589.60,338.85V337.88M590.56,365.17V363.66M592.02,326.63V325.60M592.99,332.85V331.72M593.47,346.29V344.90M595.41,342.49V341.68M595.89,349.99V348.86M597.35,354.00V353.08M599.77,379.63V380.48M600.26,351.67V350.68M602.68,322.80V320.00M603.16,378.81V380.16M604.13,353.99V352.31M605.10,333.91V332.92M610.43,361.12V362.35M611.40,349.52V351.61M613.34,350.59V348.53M614.79,364.24V365.24M616.25,344.77V345.60M617.22,350.63V348.83M617.70,301.32V299.84M618.67,353.56V354.51" stroke="#0000ff" stroke-width="0.8" fill="none"/>
<path d="M432.10,355.64L432.58,340.96M433.07,340.89L433.55,336.36M434.04,361.90L434.52,365.29M435.01,353.01L435.49,356.93M435.98,348.87L436.46,327.76M436.95,343.49L437.43,356.90M437.92,350.00L438.40,358.36M438.88,360.53L439.37,353.01M439.85,347.59L440.34,359.21M440.82,358.72L441.31,311.57M441.79,366.27L442.28,376.97M442.76,355.94L443.25,316.57M443.73,378.54L444.22,370.30M444.70,363.23L445.18,371.38M445.67,374.93L446.15,359.77M446.64,347.26L447.12,358.99M447.61,367.78L448.09,353.91M448.58,348.83L449.06,359.30M449.55,349.38L450.03,344.10M450.51,357.36L451.00,367.03M451.48,354.25L451.97,353.26M452.45,344.92L452.94,370.12M453.42,366.23L453.91,331.35M454.39,377.10L454.88,359.89M455.36,352.83L455.85,364.02M456.33,343.71L456.81,345.94M457.30,348.86L457.78,340.96M458.27,344.93L458.75,371.57M459.24,351.47L459.72,321.80M460.21,375.83L460.69,357.69M461.18,327.79L461.66,349.56M462.15,361.61L462.63,357.83M463.11,355.04L463.60,367.99M464.08,352.77L464.57,357.78M465.05,351.65L465.54,335.40M466.02,328.35L466.51,348.10M466.99,358.31L467.48,351.66M467.96,342.74L468.45,336.10M468.93,372.35L469.41,349.93M469.90,352.08L470.38,358.10M470.87,369.26L471.35,344.48M471.84,368.84L472.32,354.06M472.81,341.63L473.29,372.83M473.78,349.20L474.26,372.62M474.74,312.45L475.23,339.72M475.71,331.77L476.20,374.15M476.68,366.92L477.17,351.59M477.65,338.40L478.14,350.13M478.62,364.78L479.11,354.72M479.59,357.67L480.08,360.08M480.56,367.67L481.04,354.86M481.53,352.99L482.01,358.43M482.50,359.91L482.98,373.78M483.47,363.99L483.95,344.40M484.44,357.28L484.92,374.07M485.41,344.66L485.89,348.31M486.38,330.82L486.86,353.15M487.34,363.23L487.83,375.84M488.31,344.68L488.80,322.56M489.28,361.52L489.77,364.47M490.25,352.87L490.74,366.67M491.22,361.63L491.71,361.87M492.19,356.73L492.68,345.05M493.16,355.09L493.64,346.92M494.13,360.67L494.61,353.93M495.10,334.69L495.58,377.63M496.07,351.09L496.55,362.42M497.04,353.17L497.52,351.43M498.01,341.78L498.49,345.78M498.97,344.31L499.46,355.66M499.94,365.35L500.43,367.25M500.91,360.96L501.40,371.79M501.88,365.25L502.37,359.96M502.85,353.77L503.34,360.98M503.82,377.25L504.31,360.68M504.79,337.10L505.27,344.86M505.76,348.55L506.24,364.29M506.73,366.13L507.21,336.66M507.70,346.20L508.18,334.36M508.67,330.91L509.15,361.63M509.64,354.29L510.12,351.78M510.61,350.84L511.09,349.02M511.57,353.18L512.06,354.36M512.54,374.27L513.03,361.96M513.51,366.69L514.00,357.23M514.48,362.27L514.97,350.18M515.45,346.87L515.94,352.83M516.42,353.90L516.90,333.74M517.39,363.16L517.87,359.05M518.36,364.12L518.84,353.13M519.33,356.98L519.81,350.01M520.30,370.88L520.78,349.06M521.27,366.07L521.75,366.47M522.24,361.63L522.72,364.58M523.20,355.44L523.69,363.93M524.17,371.09L524.66,363.03M525.14,344.29L525.63,355.26M526.11,369.98L526.60,359.60M527.08,374.72L527.57,340.33M528.05,371.67L528.54,354.01M529.02,351.40L529.50,373.84M529.99,355.95L530.47,345.45M530.96,351.17L531.44,351.23M531.93,347.07L532.41,354.92M532.90,352.29L533.38,359.18M533.87,350.67L534.35,306.23M534.84,348.12L535.32,361.73M535.80,370.47L536.29,354.97M536.77,337.54L537.26,343.34M537.74,359.07L538.23,349.93M538.71,361.02L539.20,318.84M539.68,338.95L540.17,379.05M540.65,359.46L541.13,370.85M541.62,366.60L542.10,377.05M542.59,376.66L543.07,370.56M543.56,349.01L544.04,338.03M544.53,353.58L545.01,345.31M545.50,358.82L545.98,377.09M546.47,358.55L546.95,353.00M547.43,332.06L547.92,355.22M548.40,350.52L548.89,365.88M549.37,376.05L549.86,361.80M550.34,361.32L550.83,362.01M551.31,346.03L551.80,335.42M552.28,358.78L552.77,348.34M553.25,346.65L553.73,348.29M554.22,343.19L554.70,359.81M555.19,327.81L555.67,333.48M556.16,343.88L556.64,360.96M557.13,350.05L557.61,343.06M558.10,351.21L558.58,361.91M559.07,341.23L559.55,368.93M560.03,352.97L560.52,356.65M561.00,370.67L561.49,346.88M561.97,350.99L562.46,369.61M562.94,353.50L563.43,362.81M563.91,376.88L564.40,370.28M564.88,357.00L565.37,348.87M565.85,355.86L566.33,355.36M566.82,352.49L567.30,358.16M567.79,342.90L568.27,354.46M568.76,353.89L569.24,350.65M569.73,368.67L570.21,367.14M570.70,341.29L571.18,350.42M571.66,315.01L572.15,353.94M572.63,362.24L573.12,354.60M573.60,364.48L574.09,354.23M574.57,374.92L575.06,344.18M575.54,362.44L576.03,367.69M576.51,362.47L577.00,362.52M577.48,357.11L577.96,370.75M578.45,354.89L578.93,301.52M579.42,365.79L579.90,355.12M580.39,362.75L580.87,355.05M581.36,377.72L581.84,374.01M582.33,353.63L582.81,357.00M583.30,300.00L583.78,361.58M584.26,356.12L584.75,324.78M585.23,361.01L585.72,368.55M586.20,358.98L586.69,357.80M587.17,347.48L587.66,354.29M588.14,366.16L588.63,356.35M589.11,328.73L589.60,338.85M590.08,379.96L590.56,365.17M591.05,368.26L591.53,351.37M592.02,326.63L592.50,334.75M592.99,332.85L593.47,346.29M593.96,354.00L594.44,357.02M594.93,353.46L595.41,342.49M595.89,349.99L596.38,354.02M596.86,343.01L597.35,354.00M597.83,357.88L598.32,366.80M598.80,365.66L599.29,351.85M599.77,379.63L600.26,351.67M600.74,349.89L601.23,358.64M601.71,345.97L602.19,351.02M602.68,322.80L603.16,378.81M603.65,364.36L604.13,353.99M604.62,338.38L605.10,333.91M605.59,336.50L606.07,368.51M606.56,379.82L607.04,355.60M607.53,356.64L608.01,346.68M608.49,357.20L608.98,355.60M609.46,330.85L609.95,355.49M610.43,361.12L610.92,353.93M611.40,349.52L611.89,357.84M612.37,354.53L612.86,356.90M613.34,350.59L613.83,349.67M614.31,321.90L614.79,364.24M615.28,338.32L615.76,355.45M616.25,344.77L616.73,350.49M617.22,350.63L617.70,301.32M618.19,358.22L618.67,353.56M619.16,349.94L619.64,371.23M620.12,366.12L620.61,359.47M621.09,339.43L621.58,378.34" fill="none" stroke="#008000" stroke-width="1.30" stroke-opacity="0.75" stroke-linecap="round"/><path d="M432.58,340.96L433.07,340.89M433.55,336.36L434.04,361.90M434.52,365.29L435.01,353.01M435.49,356.93L435.98,348.87M436.46,327.76L436.95,343.49M437.43,356.90L437.92,350.00M438.40,358.36L438.88,360.53M439.37,353.01L439.85,347.59M440.34,359.21L440.82,358.72M441.31,311.57L441.79,366.27M442.28,376.97L442.76,355.94M443.25,316.57L443.73,378.54M444.22,370.30L444.70,363.23M445.18,371.38L445.67,374.93M446.15,359.77L446.64,347.26M447.12,358.99L447.61,367.78M448.09,353.91L448.58,348.83M449.06,359.30L449.55,349.38M450.03,344.10L450.51,357.36M451.00,367.03L451.48,354.25M451.97,353.26L452.45,344.92M452.94,370.12L453.42,366.23M453.91,331.35L454.39,377.10M454.88,359.89L455.36,352.83M455.85,364.02L456.33,343.71M456.81,345.94L457.30,348.86M457.78,340.96L458.27,344.93M458.75,371.57L459.24,351.47M459.72,321.80L460.21,375.83M460.69,357.69L461.18,327.79M461.66,349.56L462.15,361.61M462.63,357.83L463.11,355.04M463.60,367.99L464.08,352.77M464.57,357.78L465.05,351.65M465.54,335.40L466.02,328.35M466.51,348.10L466.99,358.31M467.48,351.66L467.96,342.74M468.45,336.10L468.93,372.35M469.41,349.93L469.90,352.08M470.38,358.10L470.87,369.26M471.35,344.48L471.84,368.84M472.32,354.06L472.81,341.63M473.29,372.83L473.78,349.20M474.26,372.62L474.74,312.45M475.23,339.72L475.71,331.77M476.20,374.15L476.68,366.92M477.17,351.59L477.65,338.40M478.14,350.13L478.62,364.78M479.11,354.72L479.59,357.67M480.08,360.08L480.56,367.67M481.04,354.86L481.53,352.99M482.01,358.43L482.50,359.91M482.98,373.78L483.47,363.99M483.95,344.40L484.44,357.28M484.92,374.07L485.41,344.66M485.89,348.31L486.38,330.82M486.86,353.15L487.34,363.23M487.83,375.84L488.31,344.68M488.80,322.56L489.28,361.52M489.77,364.47L490.25,352.87M490.74,366.67L491.22,361.63M491.71,361.87L492.19,356.73M492.68,345.05L493.16,355.09M493.64,346.92L494.13,360.67M494.61,353.93L495.10,334.69M495.58,377.63L496.07,351.09M496.55,362.42L497.04,353.17M497.52,351.43L498.01,341.78M498.49,345.78L498.97,344.31M499.46,355.66L499.94,365.35M500.43,367.25L500.91,360.96M501.40,371.79L501.88,365.25M502.37,359.96L502.85,353.77M503.34,360.98L503.82,377.25M504.31,360.68L504.79,337.10M505.27,344.86L505.76,348.55M506.24,364.29L506.73,366.13M507.21,336.66L507.70,346.20M508.18,334.36L508.67,330.91M509.15,361.63L509.64,354.29M510.12,351.78L510.61,350.84M511.09,349.02L511.57,353.18M512.06,354.36L512.54,374.27M513.03,361.96L513.51,366.69M514.00,357.23L514.48,362.27M514.97,350.18L515.45,346.87M515.94,352.83L516.42,353.90M516.90,333.74L517.39,363.16M517.87,359.05L518.36,364.12M518.84,353.13L519.33,356.98M519.81,350.01L520.30,370.88M520.78,349.06L521.27,366.07M521.75,366.47L522.24,361.63M522.72,364.58L523.20,355.44M523.69,363.93L524.17,371.09M524.66,363.03L525.14,344.29M525.63,355.26L526.11,369.98M526.60,359.60L527.08,374.72M527.57,340.33L528.05,371.67M528.54,354.01L529.02,351.40M529.50,373.84L529.99,355.95M530.47,345.45L530.96,351.17M531.44,351.23L531.93,347.07M532.41,354.92L532.90,352.29M533.38,359.18L533.87,350.67M534.35,306.23L534.84,348.12M535.32,361.73L535.80,370.47M536.29,354.97L536.77,337.54M537.26,343.34L537.74,359.07M538.23,349.93L538.71,361.02M539.20,318.84L539.68,338.95M540.17,379.05L540.65,359.46M541.13,370.85L541.62,366.60M542.10,377.05L542.59,376.66M543.07,370.56L543.56,349.01M544.04,338.03L544.53,353.58M545.01,345.31L545.50,358.82M545.98,377.09L546.47,358.55M546.95,353.00L547.43,332.06M547.92,355.22L548.40,350.52M548.89,365.88L549.37,376.05M549.86,361.80L550.34,361.32M550.83,362.01L551.31,346.03M551.80,335.42L552.28,358.78M552.77,348.34L553.25,346.65M553.73,348.29L554.22,343.19M554.70,359.81L555.19,327.81M555.67,333.48L556.16,343.88M556.64,360.96L557.13,350.05M557.61,343.06L558.10,351.21M558.58,361.91L559.07,341.23M559.55,368.93L560.03,352.97M560.52,356.65L561.00,370.67M561.49,346.88L561.97,350.99M562.46,369.61L562.94,353.50M563.43,362.81L563.91,376.88M564.40,370.28L564.88,357.00M565.37,348.87L565.85,355.86M566.33,355.36L566.82,352.49M567.30,358.16L567.79,342.90M568.27,354.46L568.76,353.89M569.24,350.65L569.73,368.67M570.21,367.14L570.70,341.29M571.18,350.42L571.66,315.01M572.15,353.94L572.63,362.24M573.12,354.60L573.60,364.48M574.09,354.23L574.57,374.92M575.06,344.18L575.54,362.44M576.03,367.69L576.51,362.47M577.00,362.52L577.48,357.11M577.96,370.75L578.45,354.89M578.93,301.52L579.42,365.79M579.90,355.12L580.39,362.75M580.87,355.05L581.36,377.72M581.84,374.01L582.33,353.63M582.81,357.00L583.30,300.00M583.78,361.58L584.26,356.12M584.75,324.78L585.23,361.01M585.72,368.55L586.20,358.98M586.69,357.80L587.17,347.48M587.66,354.29L588.14,366.16M588.63,356.35L589.11,328.73M589.60,338.85L590.08,379.96M590.56,365.17L591.05,368.26M591.53,351.37L592.02,326.63M592.50,334.75L592.99,332.85M593.47,346.29L593.96,354.00M594.44,357.02L594.93,353.46M595.41,342.49L595.89,349.99M596.38,354.02L596.86,343.01M597.35,354.00L597.83,357.88M598.32,366.80L598.80,365.66M599.29,351.85L599.77,379.63M600.26,351.67L600.74,349.89M601.23,358.64L601.71,345.97M602.19,351.02L602.68,322.80M603.16,378.81L603.65,364.36M604.13,353.99L604.62,338.38M605.10,333.91L605.59,336.50M606.07,368.51L606.56,379.82M607.04,355.60L607.53,356.64M608.01,346.68L608.49,357.20M608.98,355.60L609.46,330.85M609.95,355.49L610.43,361.12M610.92,353.93L611.40,349.52M611.89,357.84L612.37,354.53M612.86,356.90L613.34,350.59M613.83,349.67L614.31,321.90M614.79,364.24L615.28,338.32M615.76,355.45L616.25,344.77M616.73,350.49L617.22,350.63M617.70,301.32L618.19,358.22M618.67,353.56L619.16,349.94M619.64,371.23L620.12,366.12M620.61,359.47L621.09,339.43" fill="none" stroke="#008000" stroke-width="1.30" stroke-opacity="0.75" stroke-linecap="round"/>
<path d="M622.06,367.46V376.37M622.55,363.37V373.37M623.03,361.93V365.51M623.52,365.64V370.13M624.49,345.11V342.27M624.97,355.39V357.85M625.46,358.11V360.78M625.94,359.30V361.54M626.42,352.74V354.10M626.91,356.93V360.94M627.39,356.73V350.55M629.33,353.98V352.83M629.82,355.07V352.70M630.30,335.02V333.68M630.79,350.82V352.07M631.27,349.73V344.91M631.76,355.69V352.59M632.24,335.20V332.32M632.72,363.14V360.85M633.21,361.81V365.29M633.69,353.49V356.17M634.18,360.80V362.05M634.66,357.65V360.81M635.15,344.07V341.31M635.63,353.17V354.29M636.60,347.30V349.59M637.57,355.50V360.29M638.06,316.73V314.40M638.54,326.97V323.62M639.02,338.45V340.35M639.51,343.03V340.80M640.48,339.82V343.96M640.96,359.79V366.82M641.45,363.05V366.60M642.42,346.49V344.66M642.90,315.77V312.16M643.39,358.97V357.50M643.87,356.69V359.47M644.35,359.20V357.73M644.84,362.33V369.38M645.32,365.01V373.87M645.81,354.94V358.66M646.29,362.48V375.87M646.78,341.48V336.80M647.26,362.75V364.84M647.75,364.71V368.77M648.23,355.10V354.19M648.72,355.71V360.06M649.69,362.88V367.09M650.17,363.03V365.52M650.65,352.06V350.54M651.14,351.23V350.06M651.62,357.50V359.75M652.11,354.52V351.46M652.59,336.24V334.56M653.08,351.70V352.77M654.05,358.11V356.93M654.53,349.05V350.44M655.02,348.17V349.45M655.50,355.06V357.02M655.99,365.38V369.11M656.47,352.44V349.11M657.44,355.90V353.98M657.92,356.97V354.73M658.41,352.58V354.88M658.89,359.02V365.68M659.38,352.09V353.36M659.86,364.51V376.17M660.35,354.85V358.71M660.83,367.81V373.39M662.29,354.92V357.27M662.77,355.06V361.28M663.74,352.94V357.77M664.22,357.66V360.55M664.71,358.69V360.80M665.19,341.08V338.44M665.68,346.03V345.07M666.16,352.05V348.23M666.65,362.59V368.36M667.62,337.16V334.56M668.10,356.63V352.00M668.58,366.63V368.09" stroke="#ffa500" stroke-width="0.8" fill="none"/>
<path d="M621.58,378.34L622.06,367.46M622.55,363.37L623.03,361.93M623.52,365.64L624.00,353.60M624.49,345.11L624.97,355.39M625.46,358.11L625.94,359.30M626.42,352.74L626.91,356.93M627.39,356.73L627.88,351.36M628.36,349.97L628.85,344.66M629.33,353.98L629.82,355.07M630.30,335.02L630.79,350.82M631.27,349.73L631.76,355.69M632.24,335.20L632.72,363.14M633.21,361.81L633.69,353.49M634.18,360.80L634.66,357.65M635.15,344.07L635.63,353.17M636.12,340.94L636.60,347.30M637.09,344.46L637.57,355.50M638.06,316.73L638.54,326.97M639.02,338.45L639.51,343.03M639.99,349.88L640.48,339.82M640.96,359.79L641.45,363.05M641.93,351.09L642.42,346.49M642.90,315.77L643.39,358.97M643.87,356.69L644.35,359.20M644.84,362.33L645.32,365.01M645.81,354.94L646.29,362.48M646.78,341.48L647.26,362.75M647.75,364.71L648.23,355.10M648.72,355.71L649.20,356.12M649.69,362.88L650.17,363.03M650.65,352.06L651.14,351.23M651.62,357.50L652.11,354.52M652.59,336.24L653.08,351.70M653.56,336.69L654.05,358.11M654.53,349.05L655.02,348.17M655.50,355.06L655.99,365.38M656.47,352.44L656.95,351.29M657.44,355.90L657.92,356.97M658.41,352.58L658.89,359.02M659.38,352.09L659.86,364.51M660.35,354.85L660.83,367.81M661.32,315.23L661.80,348.15M662.29,354.92L662.77,355.06M663.25,349.60L663.74,352.94M664.22,357.66L664.71,358.69M665.19,341.08L665.68,346.03M666.16,352.05L666.65,362.59M667.13,350.64L667.62,337.16M668.10,356.63L668.58,366.63" fill="none" stroke="#ff0000" stroke-width="1.30" stroke-opacity="0.75" stroke-linecap="round"/><path d="M622.06,367.46L622.55,363.37M623.03,361.93L623.52,365.64M624.00,353.60L624.49,345.11M624.97,355.39L625.46,358.11M625.94,359.30L626.42,352.74M626.91,356.93L627.39,356.73M627.88,351.36L628.36,349.97M628.85,344.66L629.33,353.98M629.82,355.07L630.30,335.02M630.79,350.82L631.27,349.73M631.76,355.69L632.24,335.20M632.72,363.14L633.21,361.81M633.69,353.49L634.18,360.80M634.66,357.65L635.15,344.07M635.63,353.17L636.12,340.94M636.60,347.30L637.09,344.46M637.57,355.50L638.06,316.73M638.54,326.97L639.02,338.45M639.51,343.03L639.99,349.88M640.48,339.82L640.96,359.79M641.45,363.05L641.93,351.09M642.42,346.49L642.90,315.77M643.39,358.97L643.87,356.69M644.35,359.20L644.84,362.33M645.32,365.01L645.81,354.94M646.29,362.48L646.78,341.48M647.26,362.75L647.75,364.71M648.23,355.10L648.72,355.71M649.20,356.12L649.69,362.88M650.17,363.03L650.65,352.06M651.14,351.23L651.62,357.50M652.11,354.52L652.59,336.24M653.08,351.70L653.56,336.69M654.05,358.11L654.53,349.05M655.02,348.17L655.50,355.06M655.99,365.38L656.47,352.44M656.95,351.29L657.44,355.90M657.92,356.97L658.41,352.58M658.89,359.02L659.38,352.09M659.86,364.51L660.35,354.85M660.83,367.81L661.32,315.23M661.80,348.15L662.29,354.92M662.77,355.06L663.25,349.60M663.74,352.94L664.22,357.66M664.71,358.69L665.19,341.08M665.68,346.03L666.16,352.05M666.65,362.59L667.13,350.64M667.62,337.16L668.10,356.63M668.58,366.63L669.07,334.55" fill="none" stroke="#ff0000" stroke-width="1.30" stroke-opacity="0.75" stroke-linecap="round"/>
<rect x="420.3" y="292.9" width="260.7" height="95.5" class="fr"/>
<line x1="418.8" y1="381.6" x2="420.3" y2="381.6" class="tk"/>
<text x="416.9" y="383.2" class="yl">20</text>
<line x1="418.8" y1="370.4" x2="420.3" y2="370.4" class="tk"/>
<text x="416.9" y="372.0" class="yl">30</text>
<line x1="418.8" y1="359.2" x2="420.3" y2="359.2" class="tk"/>
<text x="416.9" y="360.8" class="yl">40</text>
<line x1="418.8" y1="348.0" x2="420.3" y2="348.0" class="tk"/>
<text x="416.9" y="349.6" class="yl">50</text>
<line x1="418.8" y1="336.8" x2="420.3" y2="336.8" class="tk"/>
<text x="416.9" y="338.4" class="yl">60</text>
<line x1="418.8" y1="325.6" x2="420.3" y2="325.6" class="tk"/>
<text x="416.9" y="327.2" class="yl">70</text>
<line x1="418.8" y1="314.4" x2="420.3" y2="314.4" class="tk"/>
<text x="416.9" y="316.0" class="yl">80</text>
<line x1="418.8" y1="303.2" x2="420.3" y2="303.2" class="tk"/>
<text x="416.9" y="304.8" class="yl">90</text>
<text transform="translate(409.9,340.6) rotate(-90)" class="al">Values</text>
<line x1="432.1" y1="388.4" x2="432.1" y2="389.9" class="tk"/>
<text x="432.1" y="394.7" class="xl">0</text>
<line x1="432.1" y1="494.9" x2="432.1" y2="496.4" class="tk"/>
<text x="432.1" y="501.2" class="xl">0</text>
<line x1="480.6" y1="388.4" x2="480.6" y2="389.9" class="tk"/>
<text x="480.6" y="394.7" class="xl">100</text>
<line x1="480.6" y1="494.9" x2="480.6" y2="496.4" class="tk"/>
<text x="480.6" y="501.2" class="xl">100</text>
<line x1="529.0" y1="388.4" x2="529.0" y2="389.9" class="tk"/>
<text x="529.0" y="394.7" class="xl">200</text>
<line x1="529.0" y1="494.9" x2="529.0" y2="496.4" class="tk"/>
<text x="529.0" y="501.2" class="xl">200</text>
<line x1="577.5" y1="388.4" x2="577.5" y2="389.9" class="tk"/>
<text x="577.5" y="394.7" class="xl">300</text>
<line x1="577.5" y1="494.9" x2="577.5" y2="496.4" class="tk"/>
<text x="577.5" y="501.2" class="xl">300</text>
<line x1="625.9" y1="388.4" x2="625.9" y2="389.9" class="tk"/>
<text x="625.9" y="394.7" class="xl">400</text>
<line x1="625.9" y1="494.9" x2="625.9" y2="496.4" class="tk"/>
<text x="625.9" y="501.2" class="xl">400</text>
<line x1="674.4" y1="388.4" x2="674.4" y2="389.9" class="tk"/>
<text x="674.4" y="394.7" class="xl">500</text>
<line x1="674.4" y1="494.9" x2="674.4" y2="496.4" class="tk"/>
<text x="674.4" y="501.2" class="xl">500</text>
<rect x="631.6" y="295" width="47.4" height="24.0" rx="0.8" class="lg"/>
<line x1="633.3" y1="297.8" x2="642.3" y2="297.8" stroke="#0000ff" stroke-opacity="1.0" stroke-width="0.8"/>
<text x="644.9" y="299.3" class="lt">Actual (Train)</text>
<line x1="633.3" y1="303.9" x2="642.3" y2="303.9" stroke="#008000" stroke-opacity="1.0" stroke-width="0.8"/>
<text x="644.9" y="305.4" class="lt">Predicted (Train)</text>
<line x1="633.3" y1="310.1" x2="642.3" y2="310.1" stroke="#ffa500" stroke-opacity="1" stroke-width="0.8"/>
<text x="644.9" y="311.6" class="lt">Actual (Test)</text>
<line x1="633.3" y1="316.2" x2="642.3" y2="316.2" stroke="#ff0000" stroke-opacity="1" stroke-width="0.8"/>
<text x="644.9" y="317.7" class="lt">Predicted (Test)</text>
<circle cx="432.1" cy="454.3" r="1.2" fill="#0000ff"/><circle cx="432.6" cy="451.0" r="1.2" fill="#0000ff"/><circle cx="433.1" cy="448.7" r="1.2" fill="#0000ff"/><circle cx="433.6" cy="443.2" r="1.2" fill="#0000ff"/><circle cx="434.0" cy="448.1" r="1.2" fill="#0000ff"/><circle cx="434.5" cy="446.0" r="1.2" fill="#0000ff"/><circle cx="435.0" cy="445.3" r="1.2" fill="#0000ff"/><circle cx="435.5" cy="450.6" r="1.2" fill="#0000ff"/><circle cx="436.0" cy="448.8" r="1.2" fill="#0000ff"/><circle cx="436.5" cy="449.6" r="1.2" fill="#0000ff"/><circle cx="436.9" cy="444.8" r="1.2" fill="#0000ff"/><circle cx="437.4" cy="447.4" r="1.2" fill="#0000ff"/><circle cx="437.9" cy="447.1" r="1.2" fill="#0000ff"/><circle cx="438.4" cy="447.8" r="1.2" fill="#0000ff"/><circle cx="438.9" cy="448.5" r="1.2" fill="#0000ff"/><circle cx="439.4" cy="448.4" r="1.2" fill="#0000ff"/><circle cx="439.9" cy="447.7" r="1.2" fill="#0000ff"/><circle cx="440.3" cy="446.3" r="1.2" fill="#0000ff"/><circle cx="440.8" cy="451.8" r="1.2" fill="#0000ff"/><circle cx="441.3" cy="447.5" r="1.2" fill="#0000ff"/><circle cx="441.8" cy="450.4" r="1.2" fill="#0000ff"/><circle cx="442.3" cy="448.3" r="1.2" fill="#0000ff"/><circle cx="442.8" cy="448.7" r="1.2" fill="#0000ff"/><circle cx="443.2" cy="445.7" r="1.2" fill="#0000ff"/><circle cx="443.7" cy="449.4" r="1.2" fill="#0000ff"/><circle cx="444.2" cy="450.5" r="1.2" fill="#0000ff"/><circle cx="444.7" cy="455.3" r="1.2" fill="#0000ff"/><circle cx="445.2" cy="453.7" r="1.2" fill="#0000ff"/><circle cx="445.7" cy="457.0" r="1.2" fill="#0000ff"/><circle cx="446.2" cy="450.3" r="1.2" fill="#0000ff"/><circle cx="446.6" cy="449.6" r="1.2" fill="#0000ff"/><circle cx="447.1" cy="448.4" r="1.2" fill="#0000ff"/><circle cx="447.6" cy="444.8" r="1.2" fill="#0000ff"/><circle cx="448.1" cy="450.7" r="1.2" fill="#0000ff"/><circle cx="448.6" cy="448.5" r="1.2" fill="#0000ff"/><circle cx="449.1" cy="450.7" r="1.2" fill="#0000ff"/><circle cx="449.5" cy="456.3" r="1.2" fill="#0000ff"/><circle cx="450.0" cy="450.1" r="1.2" fill="#0000ff"/><circle cx="450.5" cy="451.4" r="1.2" fill="#0000ff"/><circle cx="451.0" cy="449.7" r="1.2" fill="#0000ff"/><circle cx="451.5" cy="451.4" r="1.2" fill="#0000ff"/><circle cx="452.0" cy="452.5" r="1.2" fill="#0000ff"/><circle cx="452.5" cy="446.5" r="1.2" fill="#0000ff"/><circle cx="452.9" cy="451.0" r="1.2" fill="#0000ff"/><circle cx="453.4" cy="452.8" r="1.2" fill="#0000ff"/><circle cx="453.9" cy="448.8" r="1.2" fill="#0000ff"/><circle cx="454.4" cy="452.3" r="1.2" fill="#0000ff"/><circle cx="454.9" cy="447.5" r="1.2" fill="#0000ff"/><circle cx="455.4" cy="445.1" r="1.2" fill="#0000ff"/><circle cx="455.8" cy="453.7" r="1.2" fill="#0000ff"/><circle cx="456.3" cy="444.8" r="1.2" fill="#0000ff"/><circle cx="456.8" cy="448.1" r="1.2" fill="#0000ff"/><circle cx="457.3" cy="447.6" r="1.2" fill="#0000ff"/><circle cx="457.8" cy="445.1" r="1.2" fill="#0000ff"/><circle cx="458.3" cy="450.8" r="1.2" fill="#0000ff"/><circle cx="458.8" cy="448.6" r="1.2" fill="#0000ff"/><circle cx="459.2" cy="452.4" r="1.2" fill="#0000ff"/><circle cx="459.7" cy="447.0" r="1.2" fill="#0000ff"/><circle cx="460.2" cy="453.7" r="1.2" fill="#0000ff"/><circle cx="460.7" cy="444.9" r="1.2" fill="#0000ff"/><circle cx="461.2" cy="441.9" r="1.2" fill="#0000ff"/><circle cx="461.7" cy="446.5" r="1.2" fill="#0000ff"/><circle cx="462.1" cy="448.5" r="1.2" fill="#0000ff"/><circle cx="462.6" cy="450.9" r="1.2" fill="#0000ff"/><circle cx="463.1" cy="444.4" r="1.2" fill="#0000ff"/><circle cx="463.6" cy="446.7" r="1.2" fill="#0000ff"/><circle cx="464.1" cy="446.5" r="1.2" fill="#0000ff"/><circle cx="464.6" cy="449.8" r="1.2" fill="#0000ff"/><circle cx="465.1" cy="449.8" r="1.2" fill="#0000ff"/><circle cx="465.5" cy="447.3" r="1.2" fill="#0000ff"/><circle cx="466.0" cy="442.7" r="1.2" fill="#0000ff"/><circle cx="466.5" cy="451.0" r="1.2" fill="#0000ff"/><circle cx="467.0" cy="449.2" r="1.2" fill="#0000ff"/><circle cx="467.5" cy="444.4" r="1.2" fill="#0000ff"/><circle cx="468.0" cy="445.5" r="1.2" fill="#0000ff"/><circle cx="468.4" cy="442.4" r="1.2" fill="#0000ff"/><circle cx="468.9" cy="449.8" r="1.2" fill="#0000ff"/><circle cx="469.4" cy="447.4" r="1.2" fill="#0000ff"/><circle cx="469.9" cy="445.1" r="1.2" fill="#0000ff"/><circle cx="470.4" cy="447.7" r="1.2" fill="#0000ff"/><circle cx="470.9" cy="449.7" r="1.2" fill="#0000ff"/><circle cx="471.4" cy="449.4" r="1.2" fill="#0000ff"/><circle cx="471.8" cy="454.6" r="1.2" fill="#0000ff"/><circle cx="472.3" cy="445.0" r="1.2" fill="#0000ff"/><circle cx="472.8" cy="448.9" r="1.2" fill="#0000ff"/><circle cx="473.3" cy="453.0" r="1.2" fill="#0000ff"/><circle cx="473.8" cy="446.1" r="1.2" fill="#0000ff"/><circle cx="474.3" cy="453.4" r="1.2" fill="#0000ff"/><circle cx="474.7" cy="448.3" r="1.2" fill="#0000ff"/><circle cx="475.2" cy="449.0" r="1.2" fill="#0000ff"/><circle cx="475.7" cy="446.8" r="1.2" fill="#0000ff"/><circle cx="476.2" cy="450.4" r="1.2" fill="#0000ff"/><circle cx="476.7" cy="449.0" r="1.2" fill="#0000ff"/><circle cx="477.2" cy="446.1" r="1.2" fill="#0000ff"/><circle cx="477.7" cy="447.7" r="1.2" fill="#0000ff"/><circle cx="478.1" cy="447.6" r="1.2" fill="#0000ff"/><circle cx="478.6" cy="450.4" r="1.2" fill="#0000ff"/><circle cx="479.1" cy="450.8" r="1.2" fill="#0000ff"/><circle cx="479.6" cy="448.3" r="1.2" fill="#0000ff"/><circle cx="480.1" cy="448.7" r="1.2" fill="#0000ff"/><circle cx="480.6" cy="445.4" r="1.2" fill="#0000ff"/><circle cx="481.0" cy="447.4" r="1.2" fill="#0000ff"/><circle cx="481.5" cy="450.8" r="1.2" fill="#0000ff"/><circle cx="482.0" cy="447.8" r="1.2" fill="#0000ff"/><circle cx="482.5" cy="450.3" r="1.2" fill="#0000ff"/><circle cx="483.0" cy="446.8" r="1.2" fill="#0000ff"/><circle cx="483.5" cy="454.6" r="1.2" fill="#0000ff"/><circle cx="484.0" cy="449.8" r="1.2" fill="#0000ff"/><circle cx="484.4" cy="451.1" r="1.2" fill="#0000ff"/><circle cx="484.9" cy="450.8" r="1.2" fill="#0000ff"/><circle cx="485.4" cy="448.3" r="1.2" fill="#0000ff"/><circle cx="485.9" cy="452.7" r="1.2" fill="#0000ff"/><circle cx="486.4" cy="451.6" r="1.2" fill="#0000ff"/><circle cx="486.9" cy="448.4" r="1.2" fill="#0000ff"/><circle cx="487.3" cy="446.0" r="1.2" fill="#0000ff"/><circle cx="487.8" cy="447.3" r="1.2" fill="#0000ff"/><circle cx="488.3" cy="449.1" r="1.2" fill="#0000ff"/><circle cx="488.8" cy="444.4" r="1.2" fill="#0000ff"/><circle cx="489.3" cy="452.1" r="1.2" fill="#0000ff"/><circle cx="489.8" cy="454.0" r="1.2" fill="#0000ff"/><circle cx="490.3" cy="445.5" r="1.2" fill="#0000ff"/><circle cx="490.7" cy="448.5" r="1.2" fill="#0000ff"/><circle cx="491.2" cy="450.7" r="1.2" fill="#0000ff"/><circle cx="491.7" cy="450.8" r="1.2" fill="#0000ff"/><circle cx="492.2" cy="446.8" r="1.2" fill="#0000ff"/><circle cx="492.7" cy="447.2" r="1.2" fill="#0000ff"/><circle cx="493.2" cy="450.0" r="1.2" fill="#0000ff"/><circle cx="493.6" cy="447.5" r="1.2" fill="#0000ff"/><circle cx="494.1" cy="449.7" r="1.2" fill="#0000ff"/><circle cx="494.6" cy="450.1" r="1.2" fill="#0000ff"/><circle cx="495.1" cy="448.9" r="1.2" fill="#0000ff"/><circle cx="495.6" cy="448.9" r="1.2" fill="#0000ff"/><circle cx="496.1" cy="449.9" r="1.2" fill="#0000ff"/><circle cx="496.6" cy="453.0" r="1.2" fill="#0000ff"/><circle cx="497.0" cy="444.0" r="1.2" fill="#0000ff"/><circle cx="497.5" cy="445.3" r="1.2" fill="#0000ff"/><circle cx="498.0" cy="446.3" r="1.2" fill="#0000ff"/><circle cx="498.5" cy="448.3" r="1.2" fill="#0000ff"/><circle cx="499.0" cy="447.4" r="1.2" fill="#0000ff"/><circle cx="499.5" cy="453.0" r="1.2" fill="#0000ff"/><circle cx="499.9" cy="450.2" r="1.2" fill="#0000ff"/><circle cx="500.4" cy="449.6" r="1.2" fill="#0000ff"/><circle cx="500.9" cy="450.2" r="1.2" fill="#0000ff"/><circle cx="501.4" cy="449.7" r="1.2" fill="#0000ff"/><circle cx="501.9" cy="452.2" r="1.2" fill="#0000ff"/><circle cx="502.4" cy="449.1" r="1.2" fill="#0000ff"/><circle cx="502.9" cy="453.2" r="1.2" fill="#0000ff"/><circle cx="503.3" cy="449.8" r="1.2" fill="#0000ff"/><circle cx="503.8" cy="453.1" r="1.2" fill="#0000ff"/><circle cx="504.3" cy="453.3" r="1.2" fill="#0000ff"/><circle cx="504.8" cy="448.3" r="1.2" fill="#0000ff"/><circle cx="505.3" cy="448.0" r="1.2" fill="#0000ff"/><circle cx="505.8" cy="450.0" r="1.2" fill="#0000ff"/><circle cx="506.2" cy="447.6" r="1.2" fill="#0000ff"/><circle cx="506.7" cy="452.1" r="1.2" fill="#0000ff"/><circle cx="507.2" cy="444.7" r="1.2" fill="#0000ff"/><circle cx="507.7" cy="446.2" r="1.2" fill="#0000ff"/><circle cx="508.2" cy="448.6" r="1.2" fill="#0000ff"/><circle cx="508.7" cy="442.7" r="1.2" fill="#0000ff"/><circle cx="509.2" cy="453.5" r="1.2" fill="#0000ff"/><circle cx="509.6" cy="447.6" r="1.2" fill="#0000ff"/><circle cx="510.1" cy="448.6" r="1.2" fill="#0000ff"/><circle cx="510.6" cy="446.6" r="1.2" fill="#0000ff"/><circle cx="511.1" cy="452.7" r="1.2" fill="#0000ff"/><circle cx="511.6" cy="452.1" r="1.2" fill="#0000ff"/><circle cx="512.1" cy="451.3" r="1.2" fill="#0000ff"/><circle cx="512.5" cy="451.1" r="1.2" fill="#0000ff"/><circle cx="513.0" cy="449.6" r="1.2" fill="#0000ff"/><circle cx="513.5" cy="450.3" r="1.2" fill="#0000ff"/><circle cx="514.0" cy="450.1" r="1.2" fill="#0000ff"/><circle cx="514.5" cy="451.8" r="1.2" fill="#0000ff"/><circle cx="515.0" cy="452.3" r="1.2" fill="#0000ff"/><circle cx="515.5" cy="449.5" r="1.2" fill="#0000ff"/><circle cx="515.9" cy="447.5" r="1.2" fill="#0000ff"/><circle cx="516.4" cy="446.3" r="1.2" fill="#0000ff"/><circle cx="516.9" cy="448.3" r="1.2" fill="#0000ff"/><circle cx="517.4" cy="447.1" r="1.2" fill="#0000ff"/><circle cx="517.9" cy="453.2" r="1.2" fill="#0000ff"/><circle cx="518.4" cy="448.0" r="1.2" fill="#0000ff"/><circle cx="518.8" cy="451.9" r="1.2" fill="#0000ff"/><circle cx="519.3" cy="448.7" r="1.2" fill="#0000ff"/><circle cx="519.8" cy="451.2" r="1.2" fill="#0000ff"/><circle cx="520.3" cy="453.4" r="1.2" fill="#0000ff"/><circle cx="520.8" cy="450.0" r="1.2" fill="#0000ff"/><circle cx="521.3" cy="446.5" r="1.2" fill="#0000ff"/><circle cx="521.8" cy="452.2" r="1.2" fill="#0000ff"/><circle cx="522.2" cy="448.2" r="1.2" fill="#0000ff"/><circle cx="522.7" cy="449.8" r="1.2" fill="#0000ff"/><circle cx="523.2" cy="448.4" r="1.2" fill="#0000ff"/><circle cx="523.7" cy="449.3" r="1.2" fill="#0000ff"/><circle cx="524.2" cy="449.2" r="1.2" fill="#0000ff"/><circle cx="524.7" cy="453.2" r="1.2" fill="#0000ff"/><circle cx="525.1" cy="447.9" r="1.2" fill="#0000ff"/><circle cx="525.6" cy="448.3" r="1.2" fill="#0000ff"/><circle cx="526.1" cy="452.3" r="1.2" fill="#0000ff"/><circle cx="526.6" cy="448.7" r="1.2" fill="#0000ff"/><circle cx="527.1" cy="454.0" r="1.2" fill="#0000ff"/><circle cx="527.6" cy="445.7" r="1.2" fill="#0000ff"/><circle cx="528.1" cy="452.8" r="1.2" fill="#0000ff"/><circle cx="528.5" cy="449.8" r="1.2" fill="#0000ff"/><circle cx="529.0" cy="446.7" r="1.2" fill="#0000ff"/><circle cx="529.5" cy="448.3" r="1.2" fill="#0000ff"/><circle cx="530.0" cy="450.8" r="1.2" fill="#0000ff"/><circle cx="530.5" cy="449.9" r="1.2" fill="#0000ff"/><circle cx="531.0" cy="446.1" r="1.2" fill="#0000ff"/><circle cx="531.4" cy="456.5" r="1.2" fill="#0000ff"/><circle cx="531.9" cy="444.8" r="1.2" fill="#0000ff"/><circle cx="532.4" cy="445.7" r="1.2" fill="#0000ff"/><circle cx="532.9" cy="451.8" r="1.2" fill="#0000ff"/><circle cx="533.4" cy="446.4" r="1.2" fill="#0000ff"/><circle cx="533.9" cy="447.8" r="1.2" fill="#0000ff"/><circle cx="534.4" cy="442.8" r="1.2" fill="#0000ff"/><circle cx="534.8" cy="454.7" r="1.2" fill="#0000ff"/><circle cx="535.3" cy="451.2" r="1.2" fill="#0000ff"/><circle cx="535.8" cy="451.3" r="1.2" fill="#0000ff"/><circle cx="536.3" cy="450.3" r="1.2" fill="#0000ff"/><circle cx="536.8" cy="448.4" r="1.2" fill="#0000ff"/><circle cx="537.3" cy="448.7" r="1.2" fill="#0000ff"/><circle cx="537.7" cy="457.3" r="1.2" fill="#0000ff"/><circle cx="538.2" cy="449.2" r="1.2" fill="#0000ff"/><circle cx="538.7" cy="451.7" r="1.2" fill="#0000ff"/><circle cx="539.2" cy="445.6" r="1.2" fill="#0000ff"/><circle cx="539.7" cy="448.8" r="1.2" fill="#0000ff"/><circle cx="540.2" cy="451.7" r="1.2" fill="#0000ff"/><circle cx="540.7" cy="448.9" r="1.2" fill="#0000ff"/><circle cx="541.1" cy="446.1" r="1.2" fill="#0000ff"/><circle cx="541.6" cy="452.6" r="1.2" fill="#0000ff"/><circle cx="542.1" cy="447.0" r="1.2" fill="#0000ff"/><circle cx="542.6" cy="452.1" r="1.2" fill="#0000ff"/><circle cx="543.1" cy="453.2" r="1.2" fill="#0000ff"/><circle cx="543.6" cy="452.5" r="1.2" fill="#0000ff"/><circle cx="544.0" cy="445.1" r="1.2" fill="#0000ff"/><circle cx="544.5" cy="453.1" r="1.2" fill="#0000ff"/><circle cx="545.0" cy="445.7" r="1.2" fill="#0000ff"/><circle cx="545.5" cy="448.7" r="1.2" fill="#0000ff"/><circle cx="546.0" cy="453.0" r="1.2" fill="#0000ff"/><circle cx="546.5" cy="451.4" r="1.2" fill="#0000ff"/><circle cx="547.0" cy="447.7" r="1.2" fill="#0000ff"/><circle cx="547.4" cy="446.4" r="1.2" fill="#0000ff"/><circle cx="547.9" cy="447.2" r="1.2" fill="#0000ff"/><circle cx="548.4" cy="448.7" r="1.2" fill="#0000ff"/><circle cx="548.9" cy="451.7" r="1.2" fill="#0000ff"/><circle cx="549.4" cy="450.0" r="1.2" fill="#0000ff"/><circle cx="549.9" cy="453.1" r="1.2" fill="#0000ff"/><circle cx="550.3" cy="447.6" r="1.2" fill="#0000ff"/><circle cx="550.8" cy="449.8" r="1.2" fill="#0000ff"/><circle cx="551.3" cy="451.3" r="1.2" fill="#0000ff"/><circle cx="551.8" cy="449.9" r="1.2" fill="#0000ff"/><circle cx="552.3" cy="450.5" r="1.2" fill="#0000ff"/><circle cx="552.8" cy="453.4" r="1.2" fill="#0000ff"/><circle cx="553.2" cy="444.6" r="1.2" fill="#0000ff"/><circle cx="553.7" cy="445.9" r="1.2" fill="#0000ff"/><circle cx="554.2" cy="450.9" r="1.2" fill="#0000ff"/><circle cx="554.7" cy="450.0" r="1.2" fill="#0000ff"/><circle cx="555.2" cy="441.8" r="1.2" fill="#0000ff"/><circle cx="555.7" cy="445.9" r="1.2" fill="#0000ff"/><circle cx="556.2" cy="450.8" r="1.2" fill="#0000ff"/><circle cx="556.6" cy="455.6" r="1.2" fill="#0000ff"/><circle cx="557.1" cy="453.1" r="1.2" fill="#0000ff"/><circle cx="557.6" cy="444.7" r="1.2" fill="#0000ff"/><circle cx="558.1" cy="448.0" r="1.2" fill="#0000ff"/><circle cx="558.6" cy="453.5" r="1.2" fill="#0000ff"/><circle cx="559.1" cy="445.9" r="1.2" fill="#0000ff"/><circle cx="559.5" cy="451.7" r="1.2" fill="#0000ff"/><circle cx="560.0" cy="450.8" r="1.2" fill="#0000ff"/><circle cx="560.5" cy="450.8" r="1.2" fill="#0000ff"/><circle cx="561.0" cy="452.1" r="1.2" fill="#0000ff"/><circle cx="561.5" cy="443.8" r="1.2" fill="#0000ff"/><circle cx="562.0" cy="451.3" r="1.2" fill="#0000ff"/><circle cx="562.5" cy="451.8" r="1.2" fill="#0000ff"/><circle cx="562.9" cy="445.4" r="1.2" fill="#0000ff"/><circle cx="563.4" cy="446.0" r="1.2" fill="#0000ff"/><circle cx="563.9" cy="454.2" r="1.2" fill="#0000ff"/><circle cx="564.4" cy="445.2" r="1.2" fill="#0000ff"/><circle cx="564.9" cy="446.4" r="1.2" fill="#0000ff"/><circle cx="565.4" cy="452.6" r="1.2" fill="#0000ff"/><circle cx="565.8" cy="444.4" r="1.2" fill="#0000ff"/><circle cx="566.3" cy="453.3" r="1.2" fill="#0000ff"/><circle cx="566.8" cy="447.1" r="1.2" fill="#0000ff"/><circle cx="567.3" cy="452.7" r="1.2" fill="#0000ff"/><circle cx="567.8" cy="452.8" r="1.2" fill="#0000ff"/><circle cx="568.3" cy="446.8" r="1.2" fill="#0000ff"/><circle cx="568.8" cy="447.9" r="1.2" fill="#0000ff"/><circle cx="569.2" cy="449.0" r="1.2" fill="#0000ff"/><circle cx="569.7" cy="450.1" r="1.2" fill="#0000ff"/><circle cx="570.2" cy="450.8" r="1.2" fill="#0000ff"/><circle cx="570.7" cy="448.5" r="1.2" fill="#0000ff"/><circle cx="571.2" cy="451.6" r="1.2" fill="#0000ff"/><circle cx="571.7" cy="443.4" r="1.2" fill="#0000ff"/><circle cx="572.1" cy="449.0" r="1.2" fill="#0000ff"/><circle cx="572.6" cy="450.6" r="1.2" fill="#0000ff"/><circle cx="573.1" cy="450.7" r="1.2" fill="#0000ff"/><circle cx="573.6" cy="451.0" r="1.2" fill="#0000ff"/><circle cx="574.1" cy="453.3" r="1.2" fill="#0000ff"/><circle cx="574.6" cy="452.1" r="1.2" fill="#0000ff"/><circle cx="575.1" cy="450.7" r="1.2" fill="#0000ff"/><circle cx="575.5" cy="446.5" r="1.2" fill="#0000ff"/><circle cx="576.0" cy="453.1" r="1.2" fill="#0000ff"/><circle cx="576.5" cy="451.2" r="1.2" fill="#0000ff"/><circle cx="577.0" cy="450.0" r="1.2" fill="#0000ff"/><circle cx="577.5" cy="447.3" r="1.2" fill="#0000ff"/><circle cx="578.0" cy="449.6" r="1.2" fill="#0000ff"/><circle cx="578.4" cy="449.2" r="1.2" fill="#0000ff"/><circle cx="578.9" cy="439.8" r="1.2" fill="#0000ff"/><circle cx="579.4" cy="450.4" r="1.2" fill="#0000ff"/><circle cx="579.9" cy="448.3" r="1.2" fill="#0000ff"/><circle cx="580.4" cy="442.6" r="1.2" fill="#0000ff"/><circle cx="580.9" cy="451.6" r="1.2" fill="#0000ff"/><circle cx="581.4" cy="449.0" r="1.2" fill="#0000ff"/><circle cx="581.8" cy="450.0" r="1.2" fill="#0000ff"/><circle cx="582.3" cy="452.6" r="1.2" fill="#0000ff"/><circle cx="582.8" cy="451.1" r="1.2" fill="#0000ff"/><circle cx="583.3" cy="441.2" r="1.2" fill="#0000ff"/><circle cx="583.8" cy="453.8" r="1.2" fill="#0000ff"/><circle cx="584.3" cy="449.8" r="1.2" fill="#0000ff"/><circle cx="584.7" cy="443.5" r="1.2" fill="#0000ff"/><circle cx="585.2" cy="450.5" r="1.2" fill="#0000ff"/><circle cx="585.7" cy="449.9" r="1.2" fill="#0000ff"/><circle cx="586.2" cy="451.4" r="1.2" fill="#0000ff"/><circle cx="586.7" cy="451.2" r="1.2" fill="#0000ff"/><circle cx="587.2" cy="450.1" r="1.2" fill="#0000ff"/><circle cx="587.7" cy="450.1" r="1.2" fill="#0000ff"/><circle cx="588.1" cy="448.7" r="1.2" fill="#0000ff"/><circle cx="588.6" cy="449.1" r="1.2" fill="#0000ff"/><circle cx="589.1" cy="441.1" r="1.2" fill="#0000ff"/><circle cx="589.6" cy="446.0" r="1.2" fill="#0000ff"/><circle cx="590.1" cy="451.1" r="1.2" fill="#0000ff"/><circle cx="590.6" cy="444.2" r="1.2" fill="#0000ff"/><circle cx="591.0" cy="450.9" r="1.2" fill="#0000ff"/><circle cx="591.5" cy="451.0" r="1.2" fill="#0000ff"/><circle cx="592.0" cy="445.8" r="1.2" fill="#0000ff"/><circle cx="592.5" cy="450.1" r="1.2" fill="#0000ff"/><circle cx="593.0" cy="445.5" r="1.2" fill="#0000ff"/><circle cx="593.5" cy="444.6" r="1.2" fill="#0000ff"/><circle cx="594.0" cy="447.4" r="1.2" fill="#0000ff"/><circle cx="594.4" cy="450.5" r="1.2" fill="#0000ff"/><circle cx="594.9" cy="449.4" r="1.2" fill="#0000ff"/><circle cx="595.4" cy="446.6" r="1.2" fill="#0000ff"/><circle cx="595.9" cy="445.5" r="1.2" fill="#0000ff"/><circle cx="596.4" cy="450.2" r="1.2" fill="#0000ff"/><circle cx="596.9" cy="449.1" r="1.2" fill="#0000ff"/><circle cx="597.3" cy="446.1" r="1.2" fill="#0000ff"/><circle cx="597.8" cy="448.9" r="1.2" fill="#0000ff"/><circle cx="598.3" cy="449.5" r="1.2" fill="#0000ff"/><circle cx="598.8" cy="449.0" r="1.2" fill="#0000ff"/><circle cx="599.3" cy="451.0" r="1.2" fill="#0000ff"/><circle cx="599.8" cy="452.2" r="1.2" fill="#0000ff"/><circle cx="600.3" cy="446.0" r="1.2" fill="#0000ff"/><circle cx="600.7" cy="449.1" r="1.2" fill="#0000ff"/><circle cx="601.2" cy="450.1" r="1.2" fill="#0000ff"/><circle cx="601.7" cy="447.4" r="1.2" fill="#0000ff"/><circle cx="602.2" cy="447.7" r="1.2" fill="#0000ff"/><circle cx="602.7" cy="439.8" r="1.2" fill="#0000ff"/><circle cx="603.2" cy="453.9" r="1.2" fill="#0000ff"/><circle cx="603.6" cy="449.8" r="1.2" fill="#0000ff"/><circle cx="604.1" cy="443.6" r="1.2" fill="#0000ff"/><circle cx="604.6" cy="447.4" r="1.2" fill="#0000ff"/><circle cx="605.1" cy="446.0" r="1.2" fill="#0000ff"/><circle cx="605.6" cy="451.2" r="1.2" fill="#0000ff"/><circle cx="606.1" cy="448.0" r="1.2" fill="#0000ff"/><circle cx="606.6" cy="449.4" r="1.2" fill="#0000ff"/><circle cx="607.0" cy="447.0" r="1.2" fill="#0000ff"/><circle cx="607.5" cy="449.9" r="1.2" fill="#0000ff"/><circle cx="608.0" cy="447.3" r="1.2" fill="#0000ff"/><circle cx="608.5" cy="449.6" r="1.2" fill="#0000ff"/><circle cx="609.0" cy="446.9" r="1.2" fill="#0000ff"/><circle cx="609.5" cy="446.7" r="1.2" fill="#0000ff"/><circle cx="609.9" cy="447.1" r="1.2" fill="#0000ff"/><circle cx="610.4" cy="453.5" r="1.2" fill="#0000ff"/><circle cx="610.9" cy="450.0" r="1.2" fill="#0000ff"/><circle cx="611.4" cy="456.4" r="1.2" fill="#0000ff"/><circle cx="611.9" cy="449.9" r="1.2" fill="#0000ff"/><circle cx="612.4" cy="447.0" r="1.2" fill="#0000ff"/><circle cx="612.9" cy="450.1" r="1.2" fill="#0000ff"/><circle cx="613.3" cy="442.3" r="1.2" fill="#0000ff"/><circle cx="613.8" cy="451.3" r="1.2" fill="#0000ff"/><circle cx="614.3" cy="446.6" r="1.2" fill="#0000ff"/><circle cx="614.8" cy="452.7" r="1.2" fill="#0000ff"/><circle cx="615.3" cy="448.8" r="1.2" fill="#0000ff"/><circle cx="615.8" cy="450.5" r="1.2" fill="#0000ff"/><circle cx="616.2" cy="452.1" r="1.2" fill="#0000ff"/><circle cx="616.7" cy="451.4" r="1.2" fill="#0000ff"/><circle cx="617.2" cy="443.2" r="1.2" fill="#0000ff"/><circle cx="617.7" cy="444.3" r="1.2" fill="#0000ff"/><circle cx="618.2" cy="447.0" r="1.2" fill="#0000ff"/><circle cx="618.7" cy="452.5" r="1.2" fill="#0000ff"/><circle cx="619.2" cy="449.0" r="1.2" fill="#0000ff"/><circle cx="619.6" cy="449.4" r="1.2" fill="#0000ff"/><circle cx="620.1" cy="450.8" r="1.2" fill="#0000ff"/><circle cx="620.6" cy="451.1" r="1.2" fill="#0000ff"/><circle cx="621.1" cy="448.1" r="1.2" fill="#0000ff"/><circle cx="621.6" cy="451.6" r="1.2" fill="#0000ff"/><circle cx="622.1" cy="439.2" r="1.2" fill="#008000"/><circle cx="622.5" cy="434.7" r="1.2" fill="#008000"/><circle cx="623.0" cy="465.2" r="1.2" fill="#008000"/><circle cx="623.5" cy="474.1" r="1.2" fill="#008000"/><circle cx="624.0" cy="451.6" r="1.2" fill="#008000"/><circle cx="624.5" cy="449.2" r="1.2" fill="#008000"/><circle cx="625.0" cy="440.6" r="1.2" fill="#008000"/><circle cx="625.5" cy="436.4" r="1.2" fill="#008000"/><circle cx="625.9" cy="457.3" r="1.2" fill="#008000"/><circle cx="626.4" cy="424.4" r="1.2" fill="#008000"/><circle cx="626.9" cy="446.2" r="1.2" fill="#008000"/><circle cx="627.4" cy="470.6" r="1.2" fill="#008000"/><circle cx="627.9" cy="437.7" r="1.2" fill="#008000"/><circle cx="628.4" cy="445.9" r="1.2" fill="#008000"/><circle cx="628.8" cy="445.8" r="1.2" fill="#008000"/><circle cx="629.3" cy="468.5" r="1.2" fill="#008000"/><circle cx="629.8" cy="452.9" r="1.2" fill="#008000"/><circle cx="630.3" cy="447.3" r="1.2" fill="#008000"/><circle cx="630.8" cy="451.1" r="1.2" fill="#008000"/><circle cx="631.3" cy="441.0" r="1.2" fill="#008000"/><circle cx="631.8" cy="434.1" r="1.2" fill="#008000"/><circle cx="632.2" cy="430.8" r="1.2" fill="#008000"/><circle cx="632.7" cy="434.1" r="1.2" fill="#008000"/><circle cx="633.2" cy="451.0" r="1.2" fill="#008000"/><circle cx="633.7" cy="428.5" r="1.2" fill="#008000"/><circle cx="634.2" cy="446.1" r="1.2" fill="#008000"/><circle cx="634.7" cy="438.9" r="1.2" fill="#008000"/><circle cx="635.1" cy="452.2" r="1.2" fill="#008000"/><circle cx="635.6" cy="466.1" r="1.2" fill="#008000"/><circle cx="636.1" cy="476.7" r="1.2" fill="#008000"/><circle cx="636.6" cy="447.0" r="1.2" fill="#008000"/><circle cx="637.1" cy="457.4" r="1.2" fill="#008000"/><circle cx="637.6" cy="449.3" r="1.2" fill="#008000"/><circle cx="638.1" cy="438.5" r="1.2" fill="#008000"/><circle cx="638.5" cy="467.7" r="1.2" fill="#008000"/><circle cx="639.0" cy="470.6" r="1.2" fill="#008000"/><circle cx="639.5" cy="446.1" r="1.2" fill="#008000"/><circle cx="640.0" cy="444.8" r="1.2" fill="#008000"/><circle cx="640.5" cy="452.6" r="1.2" fill="#008000"/><circle cx="641.0" cy="455.6" r="1.2" fill="#008000"/><circle cx="641.4" cy="468.5" r="1.2" fill="#008000"/><circle cx="641.9" cy="450.3" r="1.2" fill="#008000"/><circle cx="642.4" cy="458.2" r="1.2" fill="#008000"/><circle cx="642.9" cy="444.0" r="1.2" fill="#008000"/><circle cx="643.4" cy="437.8" r="1.2" fill="#008000"/><circle cx="643.9" cy="456.0" r="1.2" fill="#008000"/><circle cx="644.4" cy="444.2" r="1.2" fill="#008000"/><circle cx="644.8" cy="447.0" r="1.2" fill="#008000"/><circle cx="645.3" cy="440.8" r="1.2" fill="#008000"/><circle cx="645.8" cy="430.7" r="1.2" fill="#008000"/><circle cx="646.3" cy="441.3" r="1.2" fill="#008000"/><circle cx="646.8" cy="440.7" r="1.2" fill="#008000"/><circle cx="647.3" cy="439.7" r="1.2" fill="#008000"/><circle cx="647.7" cy="454.4" r="1.2" fill="#008000"/><circle cx="648.2" cy="449.3" r="1.2" fill="#008000"/><circle cx="648.7" cy="445.1" r="1.2" fill="#008000"/><circle cx="649.2" cy="434.3" r="1.2" fill="#008000"/><circle cx="649.7" cy="433.6" r="1.2" fill="#008000"/><circle cx="650.2" cy="421.9" r="1.2" fill="#008000"/><circle cx="650.7" cy="462.5" r="1.2" fill="#008000"/><circle cx="651.1" cy="449.8" r="1.2" fill="#008000"/><circle cx="651.6" cy="470.1" r="1.2" fill="#008000"/><circle cx="652.1" cy="455.8" r="1.2" fill="#008000"/><circle cx="652.6" cy="469.1" r="1.2" fill="#008000"/><circle cx="653.1" cy="435.2" r="1.2" fill="#008000"/><circle cx="653.6" cy="440.1" r="1.2" fill="#008000"/><circle cx="654.0" cy="462.3" r="1.2" fill="#008000"/><circle cx="654.5" cy="445.2" r="1.2" fill="#008000"/><circle cx="655.0" cy="440.3" r="1.2" fill="#008000"/><circle cx="655.5" cy="428.2" r="1.2" fill="#008000"/><circle cx="656.0" cy="439.2" r="1.2" fill="#008000"/><circle cx="656.5" cy="447.7" r="1.2" fill="#008000"/><circle cx="657.0" cy="450.4" r="1.2" fill="#008000"/><circle cx="657.4" cy="441.7" r="1.2" fill="#008000"/><circle cx="657.9" cy="445.6" r="1.2" fill="#008000"/><circle cx="658.4" cy="455.0" r="1.2" fill="#008000"/><circle cx="658.9" cy="464.0" r="1.2" fill="#008000"/><circle cx="659.4" cy="436.5" r="1.2" fill="#008000"/><circle cx="659.9" cy="458.0" r="1.2" fill="#008000"/><circle cx="660.3" cy="452.5" r="1.2" fill="#008000"/><circle cx="660.8" cy="439.6" r="1.2" fill="#008000"/><circle cx="661.3" cy="449.9" r="1.2" fill="#008000"/><circle cx="661.8" cy="435.6" r="1.2" fill="#008000"/><circle cx="662.3" cy="462.8" r="1.2" fill="#008000"/><circle cx="662.8" cy="440.0" r="1.2" fill="#008000"/><circle cx="663.3" cy="465.3" r="1.2" fill="#008000"/><circle cx="663.7" cy="467.4" r="1.2" fill="#008000"/><circle cx="664.2" cy="461.9" r="1.2" fill="#008000"/><circle cx="664.7" cy="447.8" r="1.2" fill="#008000"/><circle cx="665.2" cy="457.4" r="1.2" fill="#008000"/><circle cx="665.7" cy="465.9" r="1.2" fill="#008000"/><circle cx="666.2" cy="434.7" r="1.2" fill="#008000"/><circle cx="666.6" cy="460.9" r="1.2" fill="#008000"/><circle cx="667.1" cy="450.6" r="1.2" fill="#008000"/><circle cx="667.6" cy="446.2" r="1.2" fill="#008000"/><circle cx="668.1" cy="455.0" r="1.2" fill="#008000"/><circle cx="668.6" cy="444.9" r="1.2" fill="#008000"/><circle cx="669.1" cy="441.8" r="1.2" fill="#008000"/>
<line x1="420.3" y1="449.3" x2="681.0" y2="449.3" stroke="#ff0000" stroke-opacity="0.8" stroke-width="0.7" stroke-dasharray="2,1.3"/>
<rect x="420.3" y="399.2" width="260.7" height="95.7" class="fr"/>
<line x1="418.8" y1="411.3" x2="420.3" y2="411.3" class="tk"/>
<text x="416.9" y="412.9" class="yl">10</text>
<line x1="418.8" y1="430.3" x2="420.3" y2="430.3" class="tk"/>
<text x="416.9" y="431.9" class="yl">5</text>
<line x1="418.8" y1="449.3" x2="420.3" y2="449.3" class="tk"/>
<text x="416.9" y="450.9" class="yl">0</text>
<line x1="418.8" y1="468.3" x2="420.3" y2="468.3" class="tk"/>
<text x="416.9" y="469.9" class="yl">−5</text>
<line x1="418.8" y1="487.3" x2="420.3" y2="487.3" class="tk"/>
<text x="416.9" y="488.9" class="yl">−10</text>
<text transform="translate(406.3,447.0) rotate(-90)" class="al">Residuals</text>
<text x="550.6" y="506.7" class="al">Data Points</text>
<rect x="633" y="401" width="45.3" height="13.0" rx="0.8" class="lg"/>
<circle cx="639.0" cy="404.4" r="1.25" fill="#0000ff"/>
<text x="646.3" y="405.9" class="lt">Residuals (Train)</text>
<circle cx="639.0" cy="410.6" r="1.25" fill="#008000"/>
<text x="646.3" y="412.1" class="lt">Residuals (Test)</text>
</g>
<text x="542.2" y="546.6" class="cap">(d) CatB</text>
<g style="font-size:0.9600px">
<text x="152.9" y="572.55" class="tt">Actual vs Predicted and Residuals for DecisionTree (Train &amp; Test Data)</text>
<path d="M34.40,638.92L34.88,623.27M35.37,622.51L35.85,616.36M36.34,643.35L36.82,646.13M37.31,633.64L37.80,639.13M38.28,630.51L38.77,609.64M39.25,623.96L39.73,638.15M40.22,631.14L40.70,639.70M41.19,642.11L41.67,634.55M42.16,628.91L42.64,640.14M43.13,641.24L43.61,592.84M44.10,648.39L44.59,658.49M45.07,637.55L45.55,597.32M46.04,660.36L46.52,652.45M47.01,646.79L47.49,654.47M47.98,659.00L48.46,641.86M48.95,629.15L49.44,640.54M49.92,648.25L50.41,636.13M50.89,630.41L51.38,641.51M51.86,633.24L52.34,626.14M52.83,639.78L53.31,648.96M53.80,636.68L54.28,636.01M54.77,625.90L55.25,652.41M55.74,649.06L56.22,613.00M56.71,659.79L57.19,641.15M57.68,633.39L58.16,647.12M58.65,624.19L59.13,627.39M59.62,630.15L60.10,621.51M60.59,627.17L61.08,653.16M61.56,634.18L62.05,602.92M62.53,658.92L63.02,638.18M63.50,607.40L63.98,630.55M64.47,643.17L64.95,640.11M65.44,635.41L65.92,649.04M66.41,633.74L66.89,639.72M67.38,633.59L67.86,616.63M68.35,608.22L68.84,630.41M69.32,640.08L69.81,632.00M70.29,623.41L70.78,615.87M71.26,654.31L71.75,631.18M72.23,632.63L72.72,639.42M73.20,651.17L73.69,626.31M74.17,652.21L74.66,634.59M75.14,623.30L75.62,655.73M76.11,630.07L76.59,655.62M77.08,593.96L77.56,621.45M78.05,612.84L78.53,656.26M79.02,648.62L79.50,632.44M79.99,619.71L80.47,631.43M80.96,646.91L81.44,636.96M81.93,639.16L82.41,641.69M82.90,648.31L83.38,636.11M83.87,635.22L84.35,639.80M84.84,642.00L85.32,654.83M85.81,647.36L86.29,626.34M86.78,639.61L87.27,656.29M87.75,626.17L88.23,631.11M88.72,613.30L89.20,634.68M89.69,644.05L90.17,657.05M90.66,626.41L91.14,602.92M91.63,644.15L92.11,647.65M92.60,633.56L93.08,648.22M93.57,643.84L94.06,644.11M94.54,637.78L95.03,626.21M95.51,637.09L96.00,628.18M96.48,642.59L96.97,635.96M97.45,616.36L97.94,659.32M98.42,633.07L98.91,645.32M99.39,633.40L99.88,632.05M100.36,622.68L100.84,627.28M101.33,625.55L101.81,638.57M102.30,647.42L102.78,649.14M103.27,643.03L103.75,653.69M104.24,647.91L104.72,641.70M105.21,636.72L105.69,642.92M106.18,660.17L106.66,643.64M107.15,618.60L107.63,626.27M108.12,630.57L108.60,645.58M109.09,648.77L109.57,617.09M110.06,627.09L110.54,615.95M111.03,610.77L111.51,644.66M112.00,635.59L112.48,633.37M112.97,631.85L113.45,631.83M113.94,635.82L114.42,636.75M114.91,656.60L115.40,643.86M115.88,648.79L116.37,639.26M116.85,644.81L117.34,632.87M117.82,628.72L118.31,634.10M118.79,634.82L119.28,615.24M119.76,644.32L120.25,642.00M120.73,645.55L121.22,635.69M121.70,638.61L122.19,632.38M122.67,653.90L123.16,631.07M123.64,647.05L124.12,649.11M124.61,643.11L125.09,646.51M125.58,636.98L126.06,645.72M126.55,652.86L127.03,646.00M127.52,625.69L128.00,636.75M128.49,652.67L128.97,641.22M129.46,657.90L129.94,621.06M130.43,654.51L130.91,635.97M131.40,632.42L131.88,655.34M132.37,638.19L132.85,627.42M133.34,632.04L133.82,635.16M134.31,627.53L134.79,635.66M135.28,634.81L135.76,640.13M136.25,632.01L136.73,586.12M137.22,631.51L137.70,644.09M138.19,652.86L138.67,637.06M139.16,619.07L139.64,624.97M140.13,643.23L140.62,631.70M141.10,643.52L141.59,599.56M142.07,620.61L142.56,661.56M143.04,641.14L143.53,651.70M144.01,649.38L144.50,658.17M144.98,659.29L145.47,653.51M145.95,631.74L146.44,618.59M146.92,636.51L147.41,626.06M147.89,640.44L148.38,659.99M148.86,640.95L149.34,634.32M149.83,613.00L150.31,636.41M150.80,632.15L151.28,648.40M151.77,658.05L152.25,644.73M152.74,642.61L153.22,643.96M153.71,628.41L154.19,617.39M154.68,640.93L155.16,631.34M155.65,627.06L156.13,629.09M156.62,625.47L157.10,641.82M157.59,607.40L158.07,614.26M158.56,626.11L159.04,644.63M159.53,632.97L160.01,623.52M160.50,632.61L160.98,644.94M161.47,622.02L161.95,651.42M162.44,635.21L162.93,638.89M163.41,653.29L163.90,627.08M164.38,633.39L164.87,652.15M165.35,634.17L165.84,643.62M166.32,660.12L166.81,650.87M167.29,637.95L167.78,631.64M168.26,636.22L168.75,638.32M169.23,633.64L169.72,640.95M170.20,625.72L170.69,635.53M171.17,635.30L171.66,632.36M172.14,650.71L172.62,649.37M173.11,622.85L173.59,632.91M174.08,595.08L174.56,635.66M175.05,644.43L175.53,636.81M176.02,646.77L176.50,637.19M176.99,657.55L177.47,626.40M177.96,643.41L178.44,650.62M178.93,644.83L179.41,644.51M179.90,638.31L180.38,652.64M180.87,636.64L181.35,580.52M181.84,647.90L182.32,636.64M182.81,642.57L183.29,637.54M183.78,659.42L184.27,656.01M184.75,636.42L185.24,639.34M185.72,579.40L186.21,644.72M186.69,638.08L187.18,604.88M187.66,643.16L188.15,650.52M188.63,641.41L189.12,640.16M189.60,629.52L190.09,636.33M190.57,647.77L191.06,638.10M191.54,608.11L192.03,619.68M192.51,662.28L193.00,645.46M193.48,650.53L193.97,633.68M194.45,607.40L194.94,616.77M195.42,613.52L195.91,626.70M196.39,635.23L196.88,639.18M197.36,635.30L197.84,623.48M198.33,630.66L198.81,636.09M199.30,624.75L199.78,634.88M200.27,639.57L200.75,648.66M201.24,647.38L201.72,634.14M202.21,662.28L202.69,632.48M203.18,631.63L203.66,640.69M204.15,627.22L204.63,632.35M205.12,601.80L205.60,661.96M206.09,646.30L206.57,634.11M207.06,619.61L207.54,614.72M208.03,618.86L208.52,649.91M209.00,661.66L209.49,636.73M209.97,638.61L210.46,627.89M210.94,639.09L211.43,636.70M211.91,611.88L212.40,636.64M212.88,644.15L213.37,635.93M213.85,633.41L214.34,639.81M214.82,635.67L215.31,638.93M215.79,630.33L216.28,632.07M216.76,602.92L217.25,647.04M217.73,619.97L218.22,637.61M218.70,627.40L219.19,632.91M219.67,630.63L220.16,581.64M220.64,639.36L221.12,636.31M221.61,631.64L222.09,653.07M222.58,648.38L223.06,641.79M223.55,620.87L224.03,660.81" fill="none" stroke="#008000" stroke-width="1.30" stroke-opacity="0.75" stroke-linecap="round"/><path d="M34.88,623.27L35.37,622.51M35.85,616.36L36.34,643.35M36.82,646.13L37.31,633.64M37.80,639.13L38.28,630.51M38.77,609.64L39.25,623.96M39.73,638.15L40.22,631.14M40.70,639.70L41.19,642.11M41.67,634.55L42.16,628.91M42.64,640.14L43.13,641.24M43.61,592.84L44.10,648.39M44.59,658.49L45.07,637.55M45.55,597.32L46.04,660.36M46.52,652.45L47.01,646.79M47.49,654.47L47.98,659.00M48.46,641.86L48.95,629.15M49.44,640.54L49.92,648.25M50.41,636.13L50.89,630.41M51.38,641.51L51.86,633.24M52.34,626.14L52.83,639.78M53.31,648.96L53.80,636.68M54.28,636.01L54.77,625.90M55.25,652.41L55.74,649.06M56.22,613.00L56.71,659.79M57.19,641.15L57.68,633.39M58.16,647.12L58.65,624.19M59.13,627.39L59.62,630.15M60.10,621.51L60.59,627.17M61.08,653.16L61.56,634.18M62.05,602.92L62.53,658.92M63.02,638.18L63.50,607.40M63.98,630.55L64.47,643.17M64.95,640.11L65.44,635.41M65.92,649.04L66.41,633.74M66.89,639.72L67.38,633.59M67.86,616.63L68.35,608.22M68.84,630.41L69.32,640.08M69.81,632.00L70.29,623.41M70.78,615.87L71.26,654.31M71.75,631.18L72.23,632.63M72.72,639.42L73.20,651.17M73.69,626.31L74.17,652.21M74.66,634.59L75.14,623.30M75.62,655.73L76.11,630.07M76.59,655.62L77.08,593.96M77.56,621.45L78.05,612.84M78.53,656.26L79.02,648.62M79.50,632.44L79.99,619.71M80.47,631.43L80.96,646.91M81.44,636.96L81.93,639.16M82.41,641.69L82.90,648.31M83.38,636.11L83.87,635.22M84.35,639.80L84.84,642.00M85.32,654.83L85.81,647.36M86.29,626.34L86.78,639.61M87.27,656.29L87.75,626.17M88.23,631.11L88.72,613.30M89.20,634.68L89.69,644.05M90.17,657.05L90.66,626.41M91.14,602.92L91.63,644.15M92.11,647.65L92.60,633.56M93.08,648.22L93.57,643.84M94.06,644.11L94.54,637.78M95.03,626.21L95.51,637.09M96.00,628.18L96.48,642.59M96.97,635.96L97.45,616.36M97.94,659.32L98.42,633.07M98.91,645.32L99.39,633.40M99.88,632.05L100.36,622.68M100.84,627.28L101.33,625.55M101.81,638.57L102.30,647.42M102.78,649.14L103.27,643.03M103.75,653.69L104.24,647.91M104.72,641.70L105.21,636.72M105.69,642.92L106.18,660.17M106.66,643.64L107.15,618.60M107.63,626.27L108.12,630.57M108.60,645.58L109.09,648.77M109.57,617.09L110.06,627.09M110.54,615.95L111.03,610.77M111.51,644.66L112.00,635.59M112.48,633.37L112.97,631.85M113.45,631.83L113.94,635.82M114.42,636.75L114.91,656.60M115.40,643.86L115.88,648.79M116.37,639.26L116.85,644.81M117.34,632.87L117.82,628.72M118.31,634.10L118.79,634.82M119.28,615.24L119.76,644.32M120.25,642.00L120.73,645.55M121.22,635.69L121.70,638.61M122.19,632.38L122.67,653.90M123.16,631.07L123.64,647.05M124.12,649.11L124.61,643.11M125.09,646.51L125.58,636.98M126.06,645.72L126.55,652.86M127.03,646.00L127.52,625.69M128.00,636.75L128.49,652.67M128.97,641.22L129.46,657.90M129.94,621.06L130.43,654.51M130.91,635.97L131.40,632.42M131.88,655.34L132.37,638.19M132.85,627.42L133.34,632.04M133.82,635.16L134.31,627.53M134.79,635.66L135.28,634.81M135.76,640.13L136.25,632.01M136.73,586.12L137.22,631.51M137.70,644.09L138.19,652.86M138.67,637.06L139.16,619.07M139.64,624.97L140.13,643.23M140.62,631.70L141.10,643.52M141.59,599.56L142.07,620.61M142.56,661.56L143.04,641.14M143.53,651.70L144.01,649.38M144.50,658.17L144.98,659.29M145.47,653.51L145.95,631.74M146.44,618.59L146.92,636.51M147.41,626.06L147.89,640.44M148.38,659.99L148.86,640.95M149.34,634.32L149.83,613.00M150.31,636.41L150.80,632.15M151.28,648.40L151.77,658.05M152.25,644.73L152.74,642.61M153.22,643.96L153.71,628.41M154.19,617.39L154.68,640.93M155.16,631.34L155.65,627.06M156.13,629.09L156.62,625.47M157.10,641.82L157.59,607.40M158.07,614.26L158.56,626.11M159.04,644.63L159.53,632.97M160.01,623.52L160.50,632.61M160.98,644.94L161.47,622.02M161.95,651.42L162.44,635.21M162.93,638.89L163.41,653.29M163.90,627.08L164.38,633.39M164.87,652.15L165.35,634.17M165.84,643.62L166.32,660.12M166.81,650.87L167.29,637.95M167.78,631.64L168.26,636.22M168.75,638.32L169.23,633.64M169.72,640.95L170.20,625.72M170.69,635.53L171.17,635.30M171.66,632.36L172.14,650.71M172.62,649.37L173.11,622.85M173.59,632.91L174.08,595.08M174.56,635.66L175.05,644.43M175.53,636.81L176.02,646.77M176.50,637.19L176.99,657.55M177.47,626.40L177.96,643.41M178.44,650.62L178.93,644.83M179.41,644.51L179.90,638.31M180.38,652.64L180.87,636.64M181.35,580.52L181.84,647.90M182.32,636.64L182.81,642.57M183.29,637.54L183.78,659.42M184.27,656.01L184.75,636.42M185.24,639.34L185.72,579.40M186.21,644.72L186.69,638.08M187.18,604.88L187.66,643.16M188.15,650.52L188.63,641.41M189.12,640.16L189.60,629.52M190.09,636.33L190.57,647.77M191.06,638.10L191.54,608.11M192.03,619.68L192.51,662.28M193.00,645.46L193.48,650.53M193.97,633.68L194.45,607.40M194.94,616.77L195.42,613.52M195.91,626.70L196.39,635.23M196.88,639.18L197.36,635.30M197.84,623.48L198.33,630.66M198.81,636.09L199.30,624.75M199.78,634.88L200.27,639.57M200.75,648.66L201.24,647.38M201.72,634.14L202.21,662.28M202.69,632.48L203.18,631.63M203.66,640.69L204.15,627.22M204.63,632.35L205.12,601.80M205.60,661.96L206.09,646.30M206.57,634.11L207.06,619.61M207.54,614.72L208.03,618.86M208.52,649.91L209.00,661.66M209.49,636.73L209.97,638.61M210.46,627.89L210.94,639.09M211.43,636.70L211.91,611.88M212.40,636.64L212.88,644.15M213.37,635.93L213.85,633.41M214.34,639.81L214.82,635.67M215.31,638.93L215.79,630.33M216.28,632.07L216.76,602.92M217.25,647.04L217.73,619.97M218.22,637.61L218.70,627.40M219.19,632.91L219.67,630.63M220.16,581.64L220.64,639.36M221.12,636.31L221.61,631.64M222.09,653.07L222.58,648.38M223.06,641.79L223.55,620.87" fill="none" stroke="#008000" stroke-width="1.30" stroke-opacity="0.75" stroke-linecap="round"/>
<path d="M224.52,650.93V658.17M225.00,650.50V655.17M225.49,638.42V647.31M225.97,647.52V651.93M226.46,637.48V636.09M226.94,626.36V624.07M227.43,636.09V639.65M227.91,641.15V642.58M228.40,639.00V643.34M230.34,634.91V632.28M232.28,636.34V634.50M232.76,617.87V615.48M234.22,639.02V634.39M234.71,619.47V614.12M235.19,638.74V642.65M235.68,642.62V647.09M236.16,636.90V637.97M236.65,640.03V643.85M237.13,640.04V642.61M237.62,624.99V623.11M240.53,598.87V596.20M241.01,610.13V605.42M241.50,624.56V622.15M242.95,624.36V625.76M243.44,641.59V648.62M243.92,642.23V648.40M245.38,597.77V593.96M245.86,634.30V639.30M246.34,638.02V641.27M247.31,646.56V651.18M247.80,645.10V655.67M248.77,648.03V657.67M249.25,619.59V618.60M249.74,640.03V646.64M250.22,646.25V650.57M250.71,634.83V635.99M251.19,638.87V641.86M251.68,635.65V638.46M252.16,640.79V648.89M252.65,642.34V647.32M253.62,630.40V631.86M255.07,619.83V616.36M255.56,637.04V634.57M256.04,622.32V617.77M256.53,640.68V638.73M257.01,630.83V632.24M257.50,629.83V631.25M257.99,637.23V638.82M258.47,642.63V650.91M259.44,634.13V632.97M259.93,637.77V635.78M260.41,634.53V636.53M260.89,634.53V636.68M261.38,640.11V647.48M261.87,636.75V635.16M262.35,649.48V657.97M263.32,644.97V655.19M263.81,597.90V596.20M264.77,637.61V639.07M265.26,640.27V643.08M265.75,632.98V632.01M266.23,635.70V639.57M266.71,640.79V642.35M267.20,637.92V642.60M268.17,629.52V626.87M268.65,633.30V630.03M269.14,645.78V650.16M270.11,620.42V616.36M270.59,632.65V633.80M271.08,641.79V649.89" stroke="#ffa500" stroke-width="0.8" fill="none"/>
<path d="M224.03,660.81L224.52,650.93M225.00,650.50L225.49,638.42M225.97,647.52L226.46,637.48M226.94,626.36L227.43,636.09M227.91,641.15L228.40,639.00M228.88,635.04L229.37,642.02M229.85,632.21L230.34,634.91M230.82,632.32L231.31,625.92M231.79,635.11L232.28,636.34M232.76,617.87L233.25,634.32M233.74,626.69L234.22,639.02M234.71,619.47L235.19,638.74M235.68,642.62L236.16,636.90M236.65,640.03L237.13,640.04M237.62,624.99L238.10,635.59M238.59,622.72L239.07,631.04M239.56,626.38L240.04,641.50M240.53,598.87L241.01,610.13M241.50,624.56L241.98,623.33M242.47,631.80L242.95,624.36M243.44,641.59L243.92,642.23M244.41,634.14L244.89,627.21M245.38,597.77L245.86,634.30M246.34,638.02L246.83,639.18M247.31,646.56L247.80,645.10M248.28,640.18L248.77,648.03M249.25,619.59L249.74,640.03M250.22,646.25L250.71,634.83M251.19,638.87L251.68,635.65M252.16,640.79L252.65,642.34M253.13,633.03L253.62,630.40M254.10,641.89L254.59,633.05M255.07,619.83L255.56,637.04M256.04,622.32L256.53,640.68M257.01,630.83L257.50,629.83M257.99,637.23L258.47,642.63M258.95,631.20L259.44,634.13M259.93,637.77L260.41,634.53M260.89,634.53L261.38,640.11M261.87,636.75L262.35,649.48M262.83,641.13L263.32,644.97M263.81,597.90L264.29,629.14M264.77,637.61L265.26,640.27M265.75,632.98L266.23,635.70M266.71,640.79L267.20,637.92M267.69,620.85L268.17,629.52M268.65,633.30L269.14,645.78M269.62,632.23L270.11,620.42M270.59,632.65L271.08,641.79" fill="none" stroke="#ff0000" stroke-width="1.30" stroke-opacity="0.75" stroke-linecap="round"/><path d="M224.52,650.93L225.00,650.50M225.49,638.42L225.97,647.52M226.46,637.48L226.94,626.36M227.43,636.09L227.91,641.15M228.40,639.00L228.88,635.04M229.37,642.02L229.85,632.21M230.34,634.91L230.82,632.32M231.31,625.92L231.79,635.11M232.28,636.34L232.76,617.87M233.25,634.32L233.74,626.69M234.22,639.02L234.71,619.47M235.19,638.74L235.68,642.62M236.16,636.90L236.65,640.03M237.13,640.04L237.62,624.99M238.10,635.59L238.59,622.72M239.07,631.04L239.56,626.38M240.04,641.50L240.53,598.87M241.01,610.13L241.50,624.56M241.98,623.33L242.47,631.80M242.95,624.36L243.44,641.59M243.92,642.23L244.41,634.14M244.89,627.21L245.38,597.77M245.86,634.30L246.34,638.02M246.83,639.18L247.31,646.56M247.80,645.10L248.28,640.18M248.77,648.03L249.25,619.59M249.74,640.03L250.22,646.25M250.71,634.83L251.19,638.87M251.68,635.65L252.16,640.79M252.65,642.34L253.13,633.03M253.62,630.40L254.10,641.89M254.59,633.05L255.07,619.83M255.56,637.04L256.04,622.32M256.53,640.68L257.01,630.83M257.50,629.83L257.99,637.23M258.47,642.63L258.95,631.20M259.44,634.13L259.93,637.77M260.41,634.53L260.89,634.53M261.38,640.11L261.87,636.75M262.35,649.48L262.83,641.13M263.32,644.97L263.81,597.90M264.29,629.14L264.77,637.61M265.26,640.27L265.75,632.98M266.23,635.70L266.71,640.79M267.20,637.92L267.69,620.85M268.17,629.52L268.65,633.30M269.14,645.78L269.62,632.23M270.11,620.42L270.59,632.65M271.08,641.79L271.56,616.65" fill="none" stroke="#ff0000" stroke-width="1.30" stroke-opacity="0.75" stroke-linecap="round"/>
<rect x="22.4" y="575.2" width="261.0" height="95.3" class="fr"/>
<line x1="20.9" y1="663.4" x2="22.4" y2="663.4" class="tk"/>
<text x="19.0" y="665.0" class="yl">20</text>
<line x1="20.9" y1="652.2" x2="22.4" y2="652.2" class="tk"/>
<text x="19.0" y="653.8" class="yl">30</text>
<line x1="20.9" y1="641.0" x2="22.4" y2="641.0" class="tk"/>
<text x="19.0" y="642.6" class="yl">40</text>
<line x1="20.9" y1="629.8" x2="22.4" y2="629.8" class="tk"/>
<text x="19.0" y="631.4" class="yl">50</text>
<line x1="20.9" y1="618.6" x2="22.4" y2="618.6" class="tk"/>
<text x="19.0" y="620.2" class="yl">60</text>
<line x1="20.9" y1="607.4" x2="22.4" y2="607.4" class="tk"/>
<text x="19.0" y="609.0" class="yl">70</text>
<line x1="20.9" y1="596.2" x2="22.4" y2="596.2" class="tk"/>
<text x="19.0" y="597.8" class="yl">80</text>
<line x1="20.9" y1="585.0" x2="22.4" y2="585.0" class="tk"/>
<text x="19.0" y="586.6" class="yl">90</text>
<text transform="translate(12.0,622.9) rotate(-90)" class="al">Values</text>
<line x1="34.4" y1="670.5" x2="34.4" y2="672.0" class="tk"/>
<text x="34.4" y="676.8" class="xl">0</text>
<line x1="34.4" y1="776.8" x2="34.4" y2="778.3" class="tk"/>
<text x="34.4" y="783.1" class="xl">0</text>
<line x1="82.9" y1="670.5" x2="82.9" y2="672.0" class="tk"/>
<text x="82.9" y="676.8" class="xl">100</text>
<line x1="82.9" y1="776.8" x2="82.9" y2="778.3" class="tk"/>
<text x="82.9" y="783.1" class="xl">100</text>
<line x1="131.4" y1="670.5" x2="131.4" y2="672.0" class="tk"/>
<text x="131.4" y="676.8" class="xl">200</text>
<line x1="131.4" y1="776.8" x2="131.4" y2="778.3" class="tk"/>
<text x="131.4" y="783.1" class="xl">200</text>
<line x1="179.9" y1="670.5" x2="179.9" y2="672.0" class="tk"/>
<text x="179.9" y="676.8" class="xl">300</text>
<line x1="179.9" y1="776.8" x2="179.9" y2="778.3" class="tk"/>
<text x="179.9" y="783.1" class="xl">300</text>
<line x1="228.4" y1="670.5" x2="228.4" y2="672.0" class="tk"/>
<text x="228.4" y="676.8" class="xl">400</text>
<line x1="228.4" y1="776.8" x2="228.4" y2="778.3" class="tk"/>
<text x="228.4" y="783.1" class="xl">400</text>
<line x1="276.9" y1="670.5" x2="276.9" y2="672.0" class="tk"/>
<text x="276.9" y="676.8" class="xl">500</text>
<line x1="276.9" y1="776.8" x2="276.9" y2="778.3" class="tk"/>
<text x="276.9" y="783.1" class="xl">500</text>
<rect x="234" y="577" width="47.4" height="24.4" rx="0.8" class="lg"/>
<line x1="235.7" y1="580.0" x2="244.7" y2="580.0" stroke="#0000ff" stroke-opacity="1.0" stroke-width="0.8"/>
<text x="247.3" y="581.5" class="lt">Actual (Train)</text>
<line x1="235.7" y1="586.1" x2="244.7" y2="586.1" stroke="#008000" stroke-opacity="1.0" stroke-width="0.8"/>
<text x="247.3" y="587.6" class="lt">Predicted (Train)</text>
<line x1="235.7" y1="592.3" x2="244.7" y2="592.3" stroke="#ffa500" stroke-opacity="1" stroke-width="0.8"/>
<text x="247.3" y="593.8" class="lt">Actual (Test)</text>
<line x1="235.7" y1="598.4" x2="244.7" y2="598.4" stroke="#ff0000" stroke-opacity="1" stroke-width="0.8"/>
<text x="247.3" y="599.9" class="lt">Predicted (Test)</text>
<circle cx="34.4" cy="725.1" r="1.2" fill="#0000ff"/><circle cx="34.9" cy="725.1" r="1.2" fill="#0000ff"/><circle cx="35.4" cy="725.1" r="1.2" fill="#0000ff"/><circle cx="35.9" cy="725.1" r="1.2" fill="#0000ff"/><circle cx="36.3" cy="725.1" r="1.2" fill="#0000ff"/><circle cx="36.8" cy="725.1" r="1.2" fill="#0000ff"/><circle cx="37.3" cy="725.1" r="1.2" fill="#0000ff"/><circle cx="37.8" cy="725.1" r="1.2" fill="#0000ff"/><circle cx="38.3" cy="725.1" r="1.2" fill="#0000ff"/><circle cx="38.8" cy="725.1" r="1.2" fill="#0000ff"/><circle cx="39.2" cy="725.1" r="1.2" fill="#0000ff"/><circle cx="39.7" cy="725.1" r="1.2" fill="#0000ff"/><circle cx="40.2" cy="725.1" r="1.2" fill="#0000ff"/><circle cx="40.7" cy="725.1" r="1.2" fill="#0000ff"/><circle cx="41.2" cy="725.1" r="1.2" fill="#0000ff"/><circle cx="41.7" cy="725.1" r="1.2" fill="#0000ff"/><circle cx="42.2" cy="725.1" r="1.2" fill="#0000ff"/><circle cx="42.6" cy="725.1" r="1.2" fill="#0000ff"/><circle cx="43.1" cy="725.1" r="1.2" fill="#0000ff"/><circle cx="43.6" cy="725.1" r="1.2" fill="#0000ff"/><circle cx="44.1" cy="725.1" r="1.2" fill="#0000ff"/><circle cx="44.6" cy="725.1" r="1.2" fill="#0000ff"/><circle cx="45.1" cy="725.1" r="1.2" fill="#0000ff"/><circle cx="45.6" cy="725.1" r="1.2" fill="#0000ff"/><circle cx="46.0" cy="725.1" r="1.2" fill="#0000ff"/><circle cx="46.5" cy="725.1" r="1.2" fill="#0000ff"/><circle cx="47.0" cy="725.1" r="1.2" fill="#0000ff"/><circle cx="47.5" cy="725.1" r="1.2" fill="#0000ff"/><circle cx="48.0" cy="725.1" r="1.2" fill="#0000ff"/><circle cx="48.5" cy="725.1" r="1.2" fill="#0000ff"/><circle cx="48.9" cy="725.1" r="1.2" fill="#0000ff"/><circle cx="49.4" cy="725.1" r="1.2" fill="#0000ff"/><circle cx="49.9" cy="725.1" r="1.2" fill="#0000ff"/><circle cx="50.4" cy="725.1" r="1.2" fill="#0000ff"/><circle cx="50.9" cy="725.1" r="1.2" fill="#0000ff"/><circle cx="51.4" cy="725.1" r="1.2" fill="#0000ff"/><circle cx="51.9" cy="725.1" r="1.2" fill="#0000ff"/><circle cx="52.3" cy="725.1" r="1.2" fill="#0000ff"/><circle cx="52.8" cy="725.1" r="1.2" fill="#0000ff"/><circle cx="53.3" cy="725.1" r="1.2" fill="#0000ff"/><circle cx="53.8" cy="725.1" r="1.2" fill="#0000ff"/><circle cx="54.3" cy="725.1" r="1.2" fill="#0000ff"/><circle cx="54.8" cy="725.1" r="1.2" fill="#0000ff"/><circle cx="55.3" cy="725.1" r="1.2" fill="#0000ff"/><circle cx="55.7" cy="725.1" r="1.2" fill="#0000ff"/><circle cx="56.2" cy="725.1" r="1.2" fill="#0000ff"/><circle cx="56.7" cy="725.1" r="1.2" fill="#0000ff"/><circle cx="57.2" cy="725.1" r="1.2" fill="#0000ff"/><circle cx="57.7" cy="725.1" r="1.2" fill="#0000ff"/><circle cx="58.2" cy="725.1" r="1.2" fill="#0000ff"/><circle cx="58.6" cy="725.1" r="1.2" fill="#0000ff"/><circle cx="59.1" cy="725.1" r="1.2" fill="#0000ff"/><circle cx="59.6" cy="725.1" r="1.2" fill="#0000ff"/><circle cx="60.1" cy="725.1" r="1.2" fill="#0000ff"/><circle cx="60.6" cy="725.1" r="1.2" fill="#0000ff"/><circle cx="61.1" cy="725.1" r="1.2" fill="#0000ff"/><circle cx="61.6" cy="725.1" r="1.2" fill="#0000ff"/><circle cx="62.0" cy="725.1" r="1.2" fill="#0000ff"/><circle cx="62.5" cy="725.1" r="1.2" fill="#0000ff"/><circle cx="63.0" cy="725.1" r="1.2" fill="#0000ff"/><circle cx="63.5" cy="725.1" r="1.2" fill="#0000ff"/><circle cx="64.0" cy="725.1" r="1.2" fill="#0000ff"/><circle cx="64.5" cy="725.1" r="1.2" fill="#0000ff"/><circle cx="65.0" cy="725.1" r="1.2" fill="#0000ff"/><circle cx="65.4" cy="725.1" r="1.2" fill="#0000ff"/><circle cx="65.9" cy="725.1" r="1.2" fill="#0000ff"/><circle cx="66.4" cy="725.1" r="1.2" fill="#0000ff"/><circle cx="66.9" cy="725.1" r="1.2" fill="#0000ff"/><circle cx="67.4" cy="725.1" r="1.2" fill="#0000ff"/><circle cx="67.9" cy="725.1" r="1.2" fill="#0000ff"/><circle cx="68.3" cy="725.1" r="1.2" fill="#0000ff"/><circle cx="68.8" cy="725.1" r="1.2" fill="#0000ff"/><circle cx="69.3" cy="725.1" r="1.2" fill="#0000ff"/><circle cx="69.8" cy="725.1" r="1.2" fill="#0000ff"/><circle cx="70.3" cy="725.1" r="1.2" fill="#0000ff"/><circle cx="70.8" cy="725.1" r="1.2" fill="#0000ff"/><circle cx="71.3" cy="725.1" r="1.2" fill="#0000ff"/><circle cx="71.7" cy="725.1" r="1.2" fill="#0000ff"/><circle cx="72.2" cy="725.1" r="1.2" fill="#0000ff"/><circle cx="72.7" cy="725.1" r="1.2" fill="#0000ff"/><circle cx="73.2" cy="725.1" r="1.2" fill="#0000ff"/><circle cx="73.7" cy="725.1" r="1.2" fill="#0000ff"/><circle cx="74.2" cy="725.1" r="1.2" fill="#0000ff"/><circle cx="74.7" cy="725.1" r="1.2" fill="#0000ff"/><circle cx="75.1" cy="725.1" r="1.2" fill="#0000ff"/><circle cx="75.6" cy="725.1" r="1.2" fill="#0000ff"/><circle cx="76.1" cy="725.1" r="1.2" fill="#0000ff"/><circle cx="76.6" cy="725.1" r="1.2" fill="#0000ff"/><circle cx="77.1" cy="725.1" r="1.2" fill="#0000ff"/><circle cx="77.6" cy="725.1" r="1.2" fill="#0000ff"/><circle cx="78.0" cy="725.1" r="1.2" fill="#0000ff"/><circle cx="78.5" cy="725.1" r="1.2" fill="#0000ff"/><circle cx="79.0" cy="725.1" r="1.2" fill="#0000ff"/><circle cx="79.5" cy="725.1" r="1.2" fill="#0000ff"/><circle cx="80.0" cy="725.1" r="1.2" fill="#0000ff"/><circle cx="80.5" cy="725.1" r="1.2" fill="#0000ff"/><circle cx="81.0" cy="725.1" r="1.2" fill="#0000ff"/><circle cx="81.4" cy="725.1" r="1.2" fill="#0000ff"/><circle cx="81.9" cy="725.1" r="1.2" fill="#0000ff"/><circle cx="82.4" cy="725.1" r="1.2" fill="#0000ff"/><circle cx="82.9" cy="725.1" r="1.2" fill="#0000ff"/><circle cx="83.4" cy="725.1" r="1.2" fill="#0000ff"/><circle cx="83.9" cy="725.1" r="1.2" fill="#0000ff"/><circle cx="84.4" cy="725.1" r="1.2" fill="#0000ff"/><circle cx="84.8" cy="725.1" r="1.2" fill="#0000ff"/><circle cx="85.3" cy="725.1" r="1.2" fill="#0000ff"/><circle cx="85.8" cy="725.1" r="1.2" fill="#0000ff"/><circle cx="86.3" cy="725.1" r="1.2" fill="#0000ff"/><circle cx="86.8" cy="725.1" r="1.2" fill="#0000ff"/><circle cx="87.3" cy="725.1" r="1.2" fill="#0000ff"/><circle cx="87.8" cy="725.1" r="1.2" fill="#0000ff"/><circle cx="88.2" cy="725.1" r="1.2" fill="#0000ff"/><circle cx="88.7" cy="725.1" r="1.2" fill="#0000ff"/><circle cx="89.2" cy="725.1" r="1.2" fill="#0000ff"/><circle cx="89.7" cy="725.1" r="1.2" fill="#0000ff"/><circle cx="90.2" cy="725.1" r="1.2" fill="#0000ff"/><circle cx="90.7" cy="725.1" r="1.2" fill="#0000ff"/><circle cx="91.1" cy="725.1" r="1.2" fill="#0000ff"/><circle cx="91.6" cy="725.1" r="1.2" fill="#0000ff"/><circle cx="92.1" cy="725.1" r="1.2" fill="#0000ff"/><circle cx="92.6" cy="725.1" r="1.2" fill="#0000ff"/><circle cx="93.1" cy="725.1" r="1.2" fill="#0000ff"/><circle cx="93.6" cy="725.1" r="1.2" fill="#0000ff"/><circle cx="94.1" cy="725.1" r="1.2" fill="#0000ff"/><circle cx="94.5" cy="725.1" r="1.2" fill="#0000ff"/><circle cx="95.0" cy="725.1" r="1.2" fill="#0000ff"/><circle cx="95.5" cy="725.1" r="1.2" fill="#0000ff"/><circle cx="96.0" cy="725.1" r="1.2" fill="#0000ff"/><circle cx="96.5" cy="725.1" r="1.2" fill="#0000ff"/><circle cx="97.0" cy="725.1" r="1.2" fill="#0000ff"/><circle cx="97.4" cy="725.1" r="1.2" fill="#0000ff"/><circle cx="97.9" cy="725.1" r="1.2" fill="#0000ff"/><circle cx="98.4" cy="725.1" r="1.2" fill="#0000ff"/><circle cx="98.9" cy="725.1" r="1.2" fill="#0000ff"/><circle cx="99.4" cy="725.1" r="1.2" fill="#0000ff"/><circle cx="99.9" cy="725.1" r="1.2" fill="#0000ff"/><circle cx="100.4" cy="725.1" r="1.2" fill="#0000ff"/><circle cx="100.8" cy="725.1" r="1.2" fill="#0000ff"/><circle cx="101.3" cy="725.1" r="1.2" fill="#0000ff"/><circle cx="101.8" cy="725.1" r="1.2" fill="#0000ff"/><circle cx="102.3" cy="725.1" r="1.2" fill="#0000ff"/><circle cx="102.8" cy="725.1" r="1.2" fill="#0000ff"/><circle cx="103.3" cy="725.1" r="1.2" fill="#0000ff"/><circle cx="103.8" cy="725.1" r="1.2" fill="#0000ff"/><circle cx="104.2" cy="725.1" r="1.2" fill="#0000ff"/><circle cx="104.7" cy="725.1" r="1.2" fill="#0000ff"/><circle cx="105.2" cy="725.1" r="1.2" fill="#0000ff"/><circle cx="105.7" cy="725.1" r="1.2" fill="#0000ff"/><circle cx="106.2" cy="725.1" r="1.2" fill="#0000ff"/><circle cx="106.7" cy="725.1" r="1.2" fill="#0000ff"/><circle cx="107.2" cy="725.1" r="1.2" fill="#0000ff"/><circle cx="107.6" cy="725.1" r="1.2" fill="#0000ff"/><circle cx="108.1" cy="725.1" r="1.2" fill="#0000ff"/><circle cx="108.6" cy="725.1" r="1.2" fill="#0000ff"/><circle cx="109.1" cy="725.1" r="1.2" fill="#0000ff"/><circle cx="109.6" cy="725.1" r="1.2" fill="#0000ff"/><circle cx="110.1" cy="725.1" r="1.2" fill="#0000ff"/><circle cx="110.5" cy="725.1" r="1.2" fill="#0000ff"/><circle cx="111.0" cy="725.1" r="1.2" fill="#0000ff"/><circle cx="111.5" cy="725.1" r="1.2" fill="#0000ff"/><circle cx="112.0" cy="725.1" r="1.2" fill="#0000ff"/><circle cx="112.5" cy="725.1" r="1.2" fill="#0000ff"/><circle cx="113.0" cy="725.1" r="1.2" fill="#0000ff"/><circle cx="113.5" cy="725.1" r="1.2" fill="#0000ff"/><circle cx="113.9" cy="725.1" r="1.2" fill="#0000ff"/><circle cx="114.4" cy="725.1" r="1.2" fill="#0000ff"/><circle cx="114.9" cy="725.1" r="1.2" fill="#0000ff"/><circle cx="115.4" cy="725.1" r="1.2" fill="#0000ff"/><circle cx="115.9" cy="725.1" r="1.2" fill="#0000ff"/><circle cx="116.4" cy="725.1" r="1.2" fill="#0000ff"/><circle cx="116.8" cy="725.1" r="1.2" fill="#0000ff"/><circle cx="117.3" cy="725.1" r="1.2" fill="#0000ff"/><circle cx="117.8" cy="725.1" r="1.2" fill="#0000ff"/><circle cx="118.3" cy="725.1" r="1.2" fill="#0000ff"/><circle cx="118.8" cy="725.1" r="1.2" fill="#0000ff"/><circle cx="119.3" cy="725.1" r="1.2" fill="#0000ff"/><circle cx="119.8" cy="725.1" r="1.2" fill="#0000ff"/><circle cx="120.2" cy="725.1" r="1.2" fill="#0000ff"/><circle cx="120.7" cy="725.1" r="1.2" fill="#0000ff"/><circle cx="121.2" cy="725.1" r="1.2" fill="#0000ff"/><circle cx="121.7" cy="725.1" r="1.2" fill="#0000ff"/><circle cx="122.2" cy="725.1" r="1.2" fill="#0000ff"/><circle cx="122.7" cy="725.1" r="1.2" fill="#0000ff"/><circle cx="123.2" cy="725.1" r="1.2" fill="#0000ff"/><circle cx="123.6" cy="725.1" r="1.2" fill="#0000ff"/><circle cx="124.1" cy="725.1" r="1.2" fill="#0000ff"/><circle cx="124.6" cy="725.1" r="1.2" fill="#0000ff"/><circle cx="125.1" cy="725.1" r="1.2" fill="#0000ff"/><circle cx="125.6" cy="725.1" r="1.2" fill="#0000ff"/><circle cx="126.1" cy="725.1" r="1.2" fill="#0000ff"/><circle cx="126.5" cy="725.1" r="1.2" fill="#0000ff"/><circle cx="127.0" cy="725.1" r="1.2" fill="#0000ff"/><circle cx="127.5" cy="725.1" r="1.2" fill="#0000ff"/><circle cx="128.0" cy="725.1" r="1.2" fill="#0000ff"/><circle cx="128.5" cy="725.1" r="1.2" fill="#0000ff"/><circle cx="129.0" cy="725.1" r="1.2" fill="#0000ff"/><circle cx="129.5" cy="725.1" r="1.2" fill="#0000ff"/><circle cx="129.9" cy="725.1" r="1.2" fill="#0000ff"/><circle cx="130.4" cy="725.1" r="1.2" fill="#0000ff"/><circle cx="130.9" cy="725.1" r="1.2" fill="#0000ff"/><circle cx="131.4" cy="725.1" r="1.2" fill="#0000ff"/><circle cx="131.9" cy="725.1" r="1.2" fill="#0000ff"/><circle cx="132.4" cy="725.1" r="1.2" fill="#0000ff"/><circle cx="132.9" cy="725.1" r="1.2" fill="#0000ff"/><circle cx="133.3" cy="725.1" r="1.2" fill="#0000ff"/><circle cx="133.8" cy="725.1" r="1.2" fill="#0000ff"/><circle cx="134.3" cy="725.1" r="1.2" fill="#0000ff"/><circle cx="134.8" cy="725.1" r="1.2" fill="#0000ff"/><circle cx="135.3" cy="725.1" r="1.2" fill="#0000ff"/><circle cx="135.8" cy="725.1" r="1.2" fill="#0000ff"/><circle cx="136.2" cy="725.1" r="1.2" fill="#0000ff"/><circle cx="136.7" cy="725.1" r="1.2" fill="#0000ff"/><circle cx="137.2" cy="725.1" r="1.2" fill="#0000ff"/><circle cx="137.7" cy="725.1" r="1.2" fill="#0000ff"/><circle cx="138.2" cy="725.1" r="1.2" fill="#0000ff"/><circle cx="138.7" cy="725.1" r="1.2" fill="#0000ff"/><circle cx="139.2" cy="725.1" r="1.2" fill="#0000ff"/><circle cx="139.6" cy="725.1" r="1.2" fill="#0000ff"/><circle cx="140.1" cy="725.1" r="1.2" fill="#0000ff"/><circle cx="140.6" cy="725.1" r="1.2" fill="#0000ff"/><circle cx="141.1" cy="725.1" r="1.2" fill="#0000ff"/><circle cx="141.6" cy="725.1" r="1.2" fill="#0000ff"/><circle cx="142.1" cy="725.1" r="1.2" fill="#0000ff"/><circle cx="142.6" cy="725.1" r="1.2" fill="#0000ff"/><circle cx="143.0" cy="725.1" r="1.2" fill="#0000ff"/><circle cx="143.5" cy="725.1" r="1.2" fill="#0000ff"/><circle cx="144.0" cy="725.1" r="1.2" fill="#0000ff"/><circle cx="144.5" cy="725.1" r="1.2" fill="#0000ff"/><circle cx="145.0" cy="725.1" r="1.2" fill="#0000ff"/><circle cx="145.5" cy="725.1" r="1.2" fill="#0000ff"/><circle cx="145.9" cy="725.1" r="1.2" fill="#0000ff"/><circle cx="146.4" cy="725.1" r="1.2" fill="#0000ff"/><circle cx="146.9" cy="725.1" r="1.2" fill="#0000ff"/><circle cx="147.4" cy="725.1" r="1.2" fill="#0000ff"/><circle cx="147.9" cy="725.1" r="1.2" fill="#0000ff"/><circle cx="148.4" cy="725.1" r="1.2" fill="#0000ff"/><circle cx="148.9" cy="725.1" r="1.2" fill="#0000ff"/><circle cx="149.3" cy="725.1" r="1.2" fill="#0000ff"/><circle cx="149.8" cy="725.1" r="1.2" fill="#0000ff"/><circle cx="150.3" cy="725.1" r="1.2" fill="#0000ff"/><circle cx="150.8" cy="725.1" r="1.2" fill="#0000ff"/><circle cx="151.3" cy="725.1" r="1.2" fill="#0000ff"/><circle cx="151.8" cy="725.1" r="1.2" fill="#0000ff"/><circle cx="152.3" cy="725.1" r="1.2" fill="#0000ff"/><circle cx="152.7" cy="725.1" r="1.2" fill="#0000ff"/><circle cx="153.2" cy="725.1" r="1.2" fill="#0000ff"/><circle cx="153.7" cy="725.1" r="1.2" fill="#0000ff"/><circle cx="154.2" cy="725.1" r="1.2" fill="#0000ff"/><circle cx="154.7" cy="725.1" r="1.2" fill="#0000ff"/><circle cx="155.2" cy="725.1" r="1.2" fill="#0000ff"/><circle cx="155.7" cy="725.1" r="1.2" fill="#0000ff"/><circle cx="156.1" cy="725.1" r="1.2" fill="#0000ff"/><circle cx="156.6" cy="725.1" r="1.2" fill="#0000ff"/><circle cx="157.1" cy="725.1" r="1.2" fill="#0000ff"/><circle cx="157.6" cy="725.1" r="1.2" fill="#0000ff"/><circle cx="158.1" cy="725.1" r="1.2" fill="#0000ff"/><circle cx="158.6" cy="725.1" r="1.2" fill="#0000ff"/><circle cx="159.0" cy="725.1" r="1.2" fill="#0000ff"/><circle cx="159.5" cy="725.1" r="1.2" fill="#0000ff"/><circle cx="160.0" cy="725.1" r="1.2" fill="#0000ff"/><circle cx="160.5" cy="725.1" r="1.2" fill="#0000ff"/><circle cx="161.0" cy="725.1" r="1.2" fill="#0000ff"/><circle cx="161.5" cy="725.1" r="1.2" fill="#0000ff"/><circle cx="162.0" cy="725.1" r="1.2" fill="#0000ff"/><circle cx="162.4" cy="725.1" r="1.2" fill="#0000ff"/><circle cx="162.9" cy="725.1" r="1.2" fill="#0000ff"/><circle cx="163.4" cy="725.1" r="1.2" fill="#0000ff"/><circle cx="163.9" cy="725.1" r="1.2" fill="#0000ff"/><circle cx="164.4" cy="725.1" r="1.2" fill="#0000ff"/><circle cx="164.9" cy="725.1" r="1.2" fill="#0000ff"/><circle cx="165.3" cy="725.1" r="1.2" fill="#0000ff"/><circle cx="165.8" cy="725.1" r="1.2" fill="#0000ff"/><circle cx="166.3" cy="725.1" r="1.2" fill="#0000ff"/><circle cx="166.8" cy="725.1" r="1.2" fill="#0000ff"/><circle cx="167.3" cy="725.1" r="1.2" fill="#0000ff"/><circle cx="167.8" cy="725.1" r="1.2" fill="#0000ff"/><circle cx="168.3" cy="725.1" r="1.2" fill="#0000ff"/><circle cx="168.7" cy="725.1" r="1.2" fill="#0000ff"/><circle cx="169.2" cy="725.1" r="1.2" fill="#0000ff"/><circle cx="169.7" cy="725.1" r="1.2" fill="#0000ff"/><circle cx="170.2" cy="725.1" r="1.2" fill="#0000ff"/><circle cx="170.7" cy="725.1" r="1.2" fill="#0000ff"/><circle cx="171.2" cy="725.1" r="1.2" fill="#0000ff"/><circle cx="171.7" cy="725.1" r="1.2" fill="#0000ff"/><circle cx="172.1" cy="725.1" r="1.2" fill="#0000ff"/><circle cx="172.6" cy="725.1" r="1.2" fill="#0000ff"/><circle cx="173.1" cy="725.1" r="1.2" fill="#0000ff"/><circle cx="173.6" cy="725.1" r="1.2" fill="#0000ff"/><circle cx="174.1" cy="725.1" r="1.2" fill="#0000ff"/><circle cx="174.6" cy="725.1" r="1.2" fill="#0000ff"/><circle cx="175.1" cy="725.1" r="1.2" fill="#0000ff"/><circle cx="175.5" cy="725.1" r="1.2" fill="#0000ff"/><circle cx="176.0" cy="725.1" r="1.2" fill="#0000ff"/><circle cx="176.5" cy="725.1" r="1.2" fill="#0000ff"/><circle cx="177.0" cy="725.1" r="1.2" fill="#0000ff"/><circle cx="177.5" cy="725.1" r="1.2" fill="#0000ff"/><circle cx="178.0" cy="725.1" r="1.2" fill="#0000ff"/><circle cx="178.4" cy="725.1" r="1.2" fill="#0000ff"/><circle cx="178.9" cy="725.1" r="1.2" fill="#0000ff"/><circle cx="179.4" cy="725.1" r="1.2" fill="#0000ff"/><circle cx="179.9" cy="725.1" r="1.2" fill="#0000ff"/><circle cx="180.4" cy="725.1" r="1.2" fill="#0000ff"/><circle cx="180.9" cy="725.1" r="1.2" fill="#0000ff"/><circle cx="181.4" cy="725.1" r="1.2" fill="#0000ff"/><circle cx="181.8" cy="725.1" r="1.2" fill="#0000ff"/><circle cx="182.3" cy="725.1" r="1.2" fill="#0000ff"/><circle cx="182.8" cy="725.1" r="1.2" fill="#0000ff"/><circle cx="183.3" cy="725.1" r="1.2" fill="#0000ff"/><circle cx="183.8" cy="725.1" r="1.2" fill="#0000ff"/><circle cx="184.3" cy="725.1" r="1.2" fill="#0000ff"/><circle cx="184.8" cy="725.1" r="1.2" fill="#0000ff"/><circle cx="185.2" cy="725.1" r="1.2" fill="#0000ff"/><circle cx="185.7" cy="725.1" r="1.2" fill="#0000ff"/><circle cx="186.2" cy="725.1" r="1.2" fill="#0000ff"/><circle cx="186.7" cy="725.1" r="1.2" fill="#0000ff"/><circle cx="187.2" cy="725.1" r="1.2" fill="#0000ff"/><circle cx="187.7" cy="725.1" r="1.2" fill="#0000ff"/><circle cx="188.1" cy="725.1" r="1.2" fill="#0000ff"/><circle cx="188.6" cy="725.1" r="1.2" fill="#0000ff"/><circle cx="189.1" cy="725.1" r="1.2" fill="#0000ff"/><circle cx="189.6" cy="725.1" r="1.2" fill="#0000ff"/><circle cx="190.1" cy="725.1" r="1.2" fill="#0000ff"/><circle cx="190.6" cy="725.1" r="1.2" fill="#0000ff"/><circle cx="191.1" cy="725.1" r="1.2" fill="#0000ff"/><circle cx="191.5" cy="725.1" r="1.2" fill="#0000ff"/><circle cx="192.0" cy="725.1" r="1.2" fill="#0000ff"/><circle cx="192.5" cy="725.1" r="1.2" fill="#0000ff"/><circle cx="193.0" cy="725.1" r="1.2" fill="#0000ff"/><circle cx="193.5" cy="725.1" r="1.2" fill="#0000ff"/><circle cx="194.0" cy="725.1" r="1.2" fill="#0000ff"/><circle cx="194.4" cy="725.1" r="1.2" fill="#0000ff"/><circle cx="194.9" cy="725.1" r="1.2" fill="#0000ff"/><circle cx="195.4" cy="725.1" r="1.2" fill="#0000ff"/><circle cx="195.9" cy="725.1" r="1.2" fill="#0000ff"/><circle cx="196.4" cy="725.1" r="1.2" fill="#0000ff"/><circle cx="196.9" cy="725.1" r="1.2" fill="#0000ff"/><circle cx="197.4" cy="725.1" r="1.2" fill="#0000ff"/><circle cx="197.8" cy="725.1" r="1.2" fill="#0000ff"/><circle cx="198.3" cy="725.1" r="1.2" fill="#0000ff"/><circle cx="198.8" cy="725.1" r="1.2" fill="#0000ff"/><circle cx="199.3" cy="725.1" r="1.2" fill="#0000ff"/><circle cx="199.8" cy="725.1" r="1.2" fill="#0000ff"/><circle cx="200.3" cy="725.1" r="1.2" fill="#0000ff"/><circle cx="200.8" cy="725.1" r="1.2" fill="#0000ff"/><circle cx="201.2" cy="725.1" r="1.2" fill="#0000ff"/><circle cx="201.7" cy="725.1" r="1.2" fill="#0000ff"/><circle cx="202.2" cy="725.1" r="1.2" fill="#0000ff"/><circle cx="202.7" cy="725.1" r="1.2" fill="#0000ff"/><circle cx="203.2" cy="725.1" r="1.2" fill="#0000ff"/><circle cx="203.7" cy="725.1" r="1.2" fill="#0000ff"/><circle cx="204.2" cy="725.1" r="1.2" fill="#0000ff"/><circle cx="204.6" cy="725.1" r="1.2" fill="#0000ff"/><circle cx="205.1" cy="725.1" r="1.2" fill="#0000ff"/><circle cx="205.6" cy="725.1" r="1.2" fill="#0000ff"/><circle cx="206.1" cy="725.1" r="1.2" fill="#0000ff"/><circle cx="206.6" cy="725.1" r="1.2" fill="#0000ff"/><circle cx="207.1" cy="725.1" r="1.2" fill="#0000ff"/><circle cx="207.5" cy="725.1" r="1.2" fill="#0000ff"/><circle cx="208.0" cy="725.1" r="1.2" fill="#0000ff"/><circle cx="208.5" cy="725.1" r="1.2" fill="#0000ff"/><circle cx="209.0" cy="725.1" r="1.2" fill="#0000ff"/><circle cx="209.5" cy="725.1" r="1.2" fill="#0000ff"/><circle cx="210.0" cy="725.1" r="1.2" fill="#0000ff"/><circle cx="210.5" cy="725.1" r="1.2" fill="#0000ff"/><circle cx="210.9" cy="725.1" r="1.2" fill="#0000ff"/><circle cx="211.4" cy="725.1" r="1.2" fill="#0000ff"/><circle cx="211.9" cy="725.1" r="1.2" fill="#0000ff"/><circle cx="212.4" cy="725.1" r="1.2" fill="#0000ff"/><circle cx="212.9" cy="725.1" r="1.2" fill="#0000ff"/><circle cx="213.4" cy="725.1" r="1.2" fill="#0000ff"/><circle cx="213.8" cy="725.1" r="1.2" fill="#0000ff"/><circle cx="214.3" cy="725.1" r="1.2" fill="#0000ff"/><circle cx="214.8" cy="725.1" r="1.2" fill="#0000ff"/><circle cx="215.3" cy="725.1" r="1.2" fill="#0000ff"/><circle cx="215.8" cy="725.1" r="1.2" fill="#0000ff"/><circle cx="216.3" cy="725.1" r="1.2" fill="#0000ff"/><circle cx="216.8" cy="725.1" r="1.2" fill="#0000ff"/><circle cx="217.2" cy="725.1" r="1.2" fill="#0000ff"/><circle cx="217.7" cy="725.1" r="1.2" fill="#0000ff"/><circle cx="218.2" cy="725.1" r="1.2" fill="#0000ff"/><circle cx="218.7" cy="725.1" r="1.2" fill="#0000ff"/><circle cx="219.2" cy="725.1" r="1.2" fill="#0000ff"/><circle cx="219.7" cy="725.1" r="1.2" fill="#0000ff"/><circle cx="220.2" cy="725.1" r="1.2" fill="#0000ff"/><circle cx="220.6" cy="725.1" r="1.2" fill="#0000ff"/><circle cx="221.1" cy="725.1" r="1.2" fill="#0000ff"/><circle cx="221.6" cy="725.1" r="1.2" fill="#0000ff"/><circle cx="222.1" cy="725.1" r="1.2" fill="#0000ff"/><circle cx="222.6" cy="725.1" r="1.2" fill="#0000ff"/><circle cx="223.1" cy="725.1" r="1.2" fill="#0000ff"/><circle cx="223.6" cy="725.1" r="1.2" fill="#0000ff"/><circle cx="224.0" cy="725.1" r="1.2" fill="#0000ff"/><circle cx="224.5" cy="734.1" r="1.2" fill="#008000"/><circle cx="225.0" cy="712.3" r="1.2" fill="#008000"/><circle cx="225.5" cy="725.1" r="1.2" fill="#008000"/><circle cx="226.0" cy="725.1" r="1.2" fill="#008000"/><circle cx="226.5" cy="738.6" r="1.2" fill="#008000"/><circle cx="226.9" cy="731.1" r="1.2" fill="#008000"/><circle cx="227.4" cy="725.1" r="1.2" fill="#008000"/><circle cx="227.9" cy="725.1" r="1.2" fill="#008000"/><circle cx="228.4" cy="725.1" r="1.2" fill="#008000"/><circle cx="228.9" cy="725.1" r="1.2" fill="#008000"/><circle cx="229.4" cy="738.7" r="1.2" fill="#008000"/><circle cx="229.9" cy="725.0" r="1.2" fill="#008000"/><circle cx="230.3" cy="725.1" r="1.2" fill="#008000"/><circle cx="230.8" cy="770.9" r="1.2" fill="#008000"/><circle cx="231.3" cy="719.6" r="1.2" fill="#008000"/><circle cx="231.8" cy="710.3" r="1.2" fill="#008000"/><circle cx="232.3" cy="729.4" r="1.2" fill="#008000"/><circle cx="232.8" cy="725.1" r="1.2" fill="#008000"/><circle cx="233.2" cy="725.1" r="1.2" fill="#008000"/><circle cx="233.7" cy="735.0" r="1.2" fill="#008000"/><circle cx="234.2" cy="725.1" r="1.2" fill="#008000"/><circle cx="234.7" cy="709.3" r="1.2" fill="#008000"/><circle cx="235.2" cy="722.3" r="1.2" fill="#008000"/><circle cx="235.7" cy="709.1" r="1.2" fill="#008000"/><circle cx="236.2" cy="725.1" r="1.2" fill="#008000"/><circle cx="236.6" cy="725.1" r="1.2" fill="#008000"/><circle cx="237.1" cy="719.0" r="1.2" fill="#008000"/><circle cx="237.6" cy="725.1" r="1.2" fill="#008000"/><circle cx="238.1" cy="722.6" r="1.2" fill="#008000"/><circle cx="238.6" cy="725.1" r="1.2" fill="#008000"/><circle cx="239.1" cy="729.7" r="1.2" fill="#008000"/><circle cx="239.6" cy="725.1" r="1.2" fill="#008000"/><circle cx="240.0" cy="732.4" r="1.2" fill="#008000"/><circle cx="240.5" cy="736.6" r="1.2" fill="#008000"/><circle cx="241.0" cy="714.4" r="1.2" fill="#008000"/><circle cx="241.5" cy="725.1" r="1.2" fill="#008000"/><circle cx="242.0" cy="725.1" r="1.2" fill="#008000"/><circle cx="242.5" cy="725.1" r="1.2" fill="#008000"/><circle cx="242.9" cy="736.8" r="1.2" fill="#008000"/><circle cx="243.4" cy="718.3" r="1.2" fill="#008000"/><circle cx="243.9" cy="725.1" r="1.2" fill="#008000"/><circle cx="244.4" cy="725.1" r="1.2" fill="#008000"/><circle cx="244.9" cy="726.8" r="1.2" fill="#008000"/><circle cx="245.4" cy="725.1" r="1.2" fill="#008000"/><circle cx="245.9" cy="726.3" r="1.2" fill="#008000"/><circle cx="246.3" cy="725.1" r="1.2" fill="#008000"/><circle cx="246.8" cy="716.3" r="1.2" fill="#008000"/><circle cx="247.3" cy="729.3" r="1.2" fill="#008000"/><circle cx="247.8" cy="725.1" r="1.2" fill="#008000"/><circle cx="248.3" cy="708.6" r="1.2" fill="#008000"/><circle cx="248.8" cy="730.5" r="1.2" fill="#008000"/><circle cx="249.3" cy="708.5" r="1.2" fill="#008000"/><circle cx="249.7" cy="728.8" r="1.2" fill="#008000"/><circle cx="250.2" cy="730.3" r="1.2" fill="#008000"/><circle cx="250.7" cy="725.1" r="1.2" fill="#008000"/><circle cx="251.2" cy="733.0" r="1.2" fill="#008000"/><circle cx="251.7" cy="725.1" r="1.2" fill="#008000"/><circle cx="252.2" cy="730.5" r="1.2" fill="#008000"/><circle cx="252.7" cy="718.6" r="1.2" fill="#008000"/><circle cx="253.1" cy="725.1" r="1.2" fill="#008000"/><circle cx="253.6" cy="725.1" r="1.2" fill="#008000"/><circle cx="254.1" cy="725.1" r="1.2" fill="#008000"/><circle cx="254.6" cy="725.1" r="1.2" fill="#008000"/><circle cx="255.1" cy="725.1" r="1.2" fill="#008000"/><circle cx="255.6" cy="737.0" r="1.2" fill="#008000"/><circle cx="256.0" cy="725.1" r="1.2" fill="#008000"/><circle cx="256.5" cy="725.1" r="1.2" fill="#008000"/><circle cx="257.0" cy="733.7" r="1.2" fill="#008000"/><circle cx="257.5" cy="718.8" r="1.2" fill="#008000"/><circle cx="258.0" cy="711.1" r="1.2" fill="#008000"/><circle cx="258.5" cy="768.8" r="1.2" fill="#008000"/><circle cx="259.0" cy="726.1" r="1.2" fill="#008000"/><circle cx="259.4" cy="736.9" r="1.2" fill="#008000"/><circle cx="259.9" cy="740.0" r="1.2" fill="#008000"/><circle cx="260.4" cy="712.2" r="1.2" fill="#008000"/><circle cx="260.9" cy="708.5" r="1.2" fill="#008000"/><circle cx="261.4" cy="732.0" r="1.2" fill="#008000"/><circle cx="261.9" cy="740.3" r="1.2" fill="#008000"/><circle cx="262.3" cy="711.8" r="1.2" fill="#008000"/><circle cx="262.8" cy="715.2" r="1.2" fill="#008000"/><circle cx="263.3" cy="720.6" r="1.2" fill="#008000"/><circle cx="263.8" cy="711.3" r="1.2" fill="#008000"/><circle cx="264.3" cy="725.1" r="1.2" fill="#008000"/><circle cx="264.8" cy="722.5" r="1.2" fill="#008000"/><circle cx="265.3" cy="717.7" r="1.2" fill="#008000"/><circle cx="265.7" cy="728.0" r="1.2" fill="#008000"/><circle cx="266.2" cy="771.9" r="1.2" fill="#008000"/><circle cx="266.7" cy="725.1" r="1.2" fill="#008000"/><circle cx="267.2" cy="759.4" r="1.2" fill="#008000"/><circle cx="267.7" cy="723.6" r="1.2" fill="#008000"/><circle cx="268.2" cy="743.6" r="1.2" fill="#008000"/><circle cx="268.7" cy="724.3" r="1.2" fill="#008000"/><circle cx="269.1" cy="738.5" r="1.2" fill="#008000"/><circle cx="269.6" cy="733.1" r="1.2" fill="#008000"/><circle cx="270.1" cy="740.7" r="1.2" fill="#008000"/><circle cx="270.6" cy="725.1" r="1.2" fill="#008000"/><circle cx="271.1" cy="725.1" r="1.2" fill="#008000"/><circle cx="271.6" cy="725.1" r="1.2" fill="#008000"/>
<line x1="22.4" y1="725.1" x2="283.4" y2="725.1" stroke="#ff0000" stroke-opacity="0.8" stroke-width="0.7" stroke-dasharray="2,1.3"/>
<rect x="22.4" y="681.7" width="261.0" height="95.1" class="fr"/>
<line x1="20.9" y1="683.5" x2="22.4" y2="683.5" class="tk"/>
<text x="19.0" y="685.1" class="yl">20</text>
<line x1="20.9" y1="704.3" x2="22.4" y2="704.3" class="tk"/>
<text x="19.0" y="705.9" class="yl">10</text>
<line x1="20.9" y1="725.1" x2="22.4" y2="725.1" class="tk"/>
<text x="19.0" y="726.7" class="yl">0</text>
<line x1="20.9" y1="745.9" x2="22.4" y2="745.9" class="tk"/>
<text x="19.0" y="747.5" class="yl">−10</text>
<line x1="20.9" y1="766.7" x2="22.4" y2="766.7" class="tk"/>
<text x="19.0" y="768.3" class="yl">−20</text>
<text transform="translate(8.4,729.2) rotate(-90)" class="al">Residuals</text>
<text x="152.9" y="788.6" class="al">Data Points</text>
<rect x="235" y="682.8" width="45.9" height="13.2" rx="0.8" class="lg"/>
<circle cx="241.0" cy="686.3" r="1.25" fill="#0000ff"/>
<text x="248.3" y="687.8" class="lt">Residuals (Train)</text>
<circle cx="241.0" cy="692.5" r="1.25" fill="#008000"/>
<text x="248.3" y="694.0" class="lt">Residuals (Test)</text>
</g>
<text x="145.0" y="824.0" class="cap">(e) DT</text>
<g style="font-size:0.9436px">
<text x="550.5" y="572.55" class="tt">Actual vs Predicted and Residuals for LightGBM (Train &amp; Test Data)</text>
<path d="M433.40,634.87V637.94M433.88,619.76V622.43M434.36,624.73V621.67M434.83,620.34V615.58M437.22,632.09V629.60M437.70,610.76V608.92M438.18,626.00V623.11M438.66,640.19V637.18M439.61,641.83V638.71M440.09,638.38V641.10M440.57,635.57V633.61M441.52,643.45V639.15M442.48,595.35V592.27M442.96,649.16V647.32M443.43,652.61V657.33M444.39,599.40V596.71M445.34,649.73V651.35M446.30,651.65V653.35M446.78,653.81V657.84M447.26,636.67V640.86M447.73,632.28V628.26M448.69,644.13V647.18M449.65,631.99V629.50M450.12,637.52V640.51M450.60,636.79V632.31M452.99,633.47V635.06M453.47,627.85V625.04M455.38,654.46V658.62M456.81,641.33V646.06M457.77,628.65V626.51M458.72,624.56V620.69M459.68,650.35V652.05M460.16,630.72V633.24M460.63,604.29V602.26M461.11,655.33V657.76M462.07,610.03V606.70M462.55,632.23V629.64M463.02,637.75V642.15M464.46,644.99V647.97M466.85,611.33V607.52M467.80,641.09V639.08M468.76,627.14V622.56M469.23,617.01V615.09M469.71,650.65V653.19M471.15,636.41V638.43M472.58,648.51V651.11M474.49,627.53V629.17M475.45,597.76V593.38M475.92,623.90V620.62M477.84,633.78V631.52M478.31,622.23V618.90M478.79,628.21V630.51M479.75,633.41V636.00M480.22,640.41V638.18M481.18,644.06V647.25M482.61,636.83V638.81M483.09,639.24V640.99M484.05,642.90V646.31M485.00,641.73V638.63M485.48,651.94V655.16M485.96,627.10V625.31M486.91,616.67V612.55M487.39,635.60V633.74M487.87,637.89V643.02M488.35,653.12V655.91M488.82,628.77V625.54M489.30,604.29V602.26M489.78,645.73V643.12M490.74,630.85V632.63M491.69,645.67V642.81M492.17,641.25V643.08M495.51,603.92V615.58M495.99,660.32V658.16M496.95,640.21V644.28M498.86,630.52V626.40M499.81,634.99V637.59M501.25,645.70V642.01M501.73,648.25V652.58M502.20,643.56V646.85M504.11,655.50V659.00M504.59,639.25V642.62M505.55,627.80V625.40M506.03,631.78V629.66M506.50,642.58V644.53M507.46,619.09V616.31M508.89,612.80V610.04M509.37,647.95V643.63M511.76,637.10V634.87M512.24,632.01V635.79M512.71,651.64V655.46M515.10,630.05V631.94M515.58,629.38V627.83M516.06,631.48V633.16M516.54,631.87V633.87M517.01,617.60V614.47M517.49,641.21V643.29M518.93,633.08V634.74M519.88,636.03V631.45M520.36,650.84V652.79M520.84,632.55V630.16M521.79,644.65V648.04M522.27,639.12V642.09M523.23,632.27V636.01M525.14,626.84V624.82M525.62,638.30V635.79M526.09,649.50V651.56M526.57,642.32V640.22M527.53,622.86V620.24M528.00,651.47V653.39M528.48,636.93V635.01M529.92,639.21V637.22M532.78,635.76V633.87M533.26,642.34V639.14M533.74,634.61V631.09M534.22,591.25V585.61M535.17,640.30V643.06M538.04,626.78V630.78M538.99,603.33V598.93M539.95,656.13V660.38M541.38,650.42V648.30M542.34,662.75V658.13M542.82,650.78V652.40M543.29,629.04V630.82M544.25,633.24V635.55M545.21,641.12V639.44M547.12,616.52V612.25M548.07,628.29V631.23M549.03,654.99V656.90M549.51,639.90V643.70M550.46,637.95V642.93M551.42,620.83V616.60M552.37,633.46V630.43M553.81,622.66V624.61M554.76,610.94V606.70M557.15,624.83V622.68M557.63,628.72V631.69M558.11,641.56V643.90M558.58,624.08V621.19M559.06,646.87V650.33M559.54,631.95V634.27M560.02,635.32V637.91M560.49,649.99V652.18M560.97,624.45V626.20M562.41,636.37V633.23M564.79,632.29V630.72M565.27,638.18V635.26M565.75,640.01V637.35M566.23,634.50V632.71M567.18,627.58V624.86M569.10,651.63V649.62M569.57,645.02V648.29M571.01,600.31V594.49M571.48,636.94V634.71M571.96,645.21V643.40M573.87,654.81V656.41M574.35,627.22V625.53M576.74,634.68V637.33M577.22,649.34V651.53M577.70,633.44V635.68M578.17,585.61V580.06M578.65,644.56V646.84M579.13,644.78V635.68M579.61,643.38V641.56M580.08,634.40V636.57M580.56,654.75V658.26M581.52,638.22V635.46M582.47,585.57V578.95M583.91,608.19V604.20M585.82,636.09V639.17M586.30,615.86V628.62M587.25,643.67V646.71M589.16,659.33V661.09M590.60,635.36V632.75M591.07,594.49V606.70M592.03,617.16V612.77M593.46,634.98V638.20M593.94,636.64V634.35M594.42,625.38V622.64M595.37,632.20V635.13M595.85,625.67V623.89M596.81,640.53V638.58M597.29,649.87V647.60M598.72,658.27V661.09M599.67,628.90V630.72M600.15,637.82V639.69M601.11,629.05V631.43M602.54,643.23V645.26M603.02,635.00V633.17M603.50,622.59V618.80M603.97,616.28V613.96M604.45,621.45V618.06M605.41,649.93V660.48M607.80,625.19V635.74M608.27,615.64V611.14M609.71,636.85V634.97M611.14,637.60V634.72M612.10,632.75V629.43M613.05,604.85V602.26M615.44,633.94V631.98M616.40,586.41V581.17M617.35,641.28V635.35M618.79,644.21V647.31M619.26,639.13V640.79M619.74,623.97V620.05M620.22,655.44V659.63" stroke="#0000ff" stroke-width="0.8" fill="none"/>
<path d="M433.40,634.87L433.88,619.76M434.36,624.73L434.83,620.34M435.31,641.09L435.79,645.19M436.27,632.66L436.74,636.91M437.22,632.09L437.70,610.76M438.18,626.00L438.66,640.19M439.13,630.70L439.61,641.83M440.09,638.38L440.57,635.57M441.04,628.93L441.52,643.45M442.00,639.99L442.48,595.35M442.96,649.16L443.43,652.61M443.91,637.41L444.39,599.40M444.87,659.41L445.34,649.73M445.82,646.38L446.30,651.65M446.78,653.81L447.26,636.67M447.73,632.28L448.21,639.70M448.69,644.13L449.17,634.80M449.65,631.99L450.12,637.52M450.60,636.79L451.08,626.01M451.56,637.96L452.03,649.06M452.51,636.21L452.99,633.47M453.47,627.85L453.95,650.67M454.42,648.88L454.90,613.09M455.38,654.46L455.86,640.93M456.33,632.13L456.81,641.33M457.29,623.66L457.77,628.65M458.25,628.72L458.72,624.56M459.20,626.45L459.68,650.35M460.16,630.72L460.63,604.29M461.11,655.33L461.59,638.18M462.07,610.03L462.55,632.23M463.02,637.75L463.50,638.92M463.98,634.42L464.46,644.99M464.93,633.12L465.41,637.20M465.89,633.81L466.37,617.31M466.85,611.33L467.32,628.60M467.80,641.09L468.28,632.35M468.76,627.14L469.23,617.01M469.71,650.65L470.19,631.15M470.67,631.37L471.15,636.41M471.62,648.77L472.10,626.45M472.58,648.51L473.06,633.26M473.54,622.15L474.01,653.06M474.49,627.53L474.97,655.72M475.45,597.76L475.92,623.90M476.40,612.41L476.88,653.89M477.36,646.23L477.84,633.78M478.31,622.23L478.79,628.21M479.27,646.98L479.75,633.41M480.22,640.41L480.70,640.19M481.18,644.06L481.66,636.57M482.14,634.58L482.61,636.83M483.09,639.24L483.57,652.86M484.05,642.90L484.52,625.06M485.00,641.73L485.48,651.94M485.96,627.10L486.44,631.64M486.91,616.67L487.39,635.60M487.87,637.89L488.35,653.12M488.82,628.77L489.30,604.29M489.78,645.73L490.26,646.05M490.74,630.85L491.21,647.12M491.69,645.67L492.17,641.25M492.65,637.80L493.12,624.90M493.60,635.14L494.08,628.44M494.56,642.00L495.04,635.80M495.51,603.92L495.99,660.32M496.47,630.67L496.95,640.21M497.43,633.90L497.90,632.03M498.38,620.77L498.86,630.52M499.34,624.64L499.81,634.99M500.29,646.15L500.77,648.08M501.25,645.70L501.73,648.25M502.20,643.56L502.68,639.81M503.16,635.07L503.64,641.25M504.11,655.50L504.59,639.25M505.07,618.90L505.55,627.80M506.03,631.78L506.50,642.58M506.98,647.57L507.46,619.09M507.94,626.39L508.41,616.70M508.89,612.80L509.37,647.95M509.85,635.15L510.33,631.28M510.80,631.23L511.28,630.50M511.76,637.10L512.24,632.01M512.71,651.64L513.19,643.72M513.67,647.38L514.15,638.18M514.63,644.37L515.10,630.05M515.58,629.38L516.06,631.48M516.54,631.87L517.01,617.60M517.49,641.21L517.97,639.94M518.45,644.87L518.93,633.08M519.40,638.65L519.88,636.03M520.36,650.84L520.84,632.55M521.32,646.47L521.79,644.65M522.27,639.12L522.75,644.62M523.23,632.27L523.70,643.98M524.18,650.73L524.66,644.99M525.14,626.84L525.62,638.30M526.09,649.50L526.57,642.32M527.05,655.73L527.53,622.86M528.00,651.47L528.48,636.93M528.96,630.70L529.44,653.80M529.92,639.21L530.39,626.39M530.87,630.00L531.35,633.13M531.83,627.62L532.30,635.60M532.78,635.76L533.26,642.34M533.74,634.61L534.22,591.25M534.69,630.54L535.17,640.30M535.65,651.77L536.13,637.12M536.60,619.65L537.08,625.12M537.56,641.49L538.04,626.78M538.52,641.85L538.99,603.33M539.47,621.30L539.95,656.13M540.43,639.91L540.90,650.12M541.38,650.42L541.86,656.93M542.34,662.75L542.82,650.78M543.29,629.04L543.77,618.88M544.25,633.24L544.73,626.20M545.21,641.12L545.68,658.53M546.16,641.30L546.64,633.79M547.12,616.52L547.59,635.13M548.07,628.29L548.55,646.56M549.03,654.99L549.51,639.90M549.98,640.20L550.46,637.95M550.94,627.62L551.42,620.83M551.89,638.49L552.37,633.46M552.85,627.68L553.33,627.76M553.81,622.66L554.28,641.79M554.76,610.94L555.24,613.19M555.72,625.67L556.19,644.94M556.67,631.20L557.15,624.83M557.63,628.72L558.11,641.56M558.58,624.08L559.06,646.87M559.54,631.95L560.02,635.32M560.49,649.99L560.97,624.45M561.45,632.72L561.93,650.66M562.41,636.37L562.88,641.33M563.36,659.66L563.84,649.52M564.32,636.59L564.79,632.29M565.27,638.18L565.75,640.01M566.23,634.50L566.71,639.50M567.18,627.58L567.66,635.22M568.14,634.92L568.62,632.46M569.10,651.63L569.57,645.02M570.05,623.38L570.53,630.52M571.01,600.31L571.48,636.94M571.96,645.21L572.44,635.33M572.92,644.96L573.40,637.70M573.87,654.81L574.35,627.22M574.83,642.22L575.31,648.78M575.78,642.93L576.26,643.64M576.74,634.68L577.22,649.34M577.70,633.44L578.17,585.61M578.65,644.56L579.13,644.78M579.61,643.38L580.08,634.40M580.56,654.75L581.04,653.70M581.52,638.22L582.00,639.63M582.47,585.57L582.95,642.94M583.43,636.32L583.91,608.19M584.38,642.54L584.86,648.50M585.34,639.04L585.82,636.09M586.30,615.86L586.77,634.87M587.25,643.67L587.73,637.72M588.21,607.82L588.68,620.15M589.16,659.33L589.64,645.15M590.12,648.65L590.60,635.36M591.07,594.49L591.55,616.71M592.03,617.16L592.51,625.38M592.99,634.29L593.46,634.98M593.94,636.64L594.42,625.38M594.90,629.14L595.37,632.20M595.85,625.67L596.33,634.74M596.81,640.53L597.29,649.87M597.76,645.82L598.24,633.20M598.72,658.27L599.20,631.57M599.67,628.90L600.15,637.82M600.63,627.26L601.11,629.05M601.59,602.39L602.06,660.59M602.54,643.23L603.02,635.00M603.50,622.59L603.97,616.28M604.45,621.45L604.93,647.33M605.41,649.93L605.89,635.70M606.36,637.70L606.84,628.24M607.32,638.13L607.80,625.19M608.27,615.64L608.75,635.47M609.23,641.78L609.71,636.85M610.19,631.16L610.66,638.65M611.14,637.60L611.62,637.99M612.10,632.75L612.58,631.30M613.05,604.85L613.53,644.82M614.01,619.97L614.49,636.07M614.96,626.82L615.44,633.94M615.92,631.20L616.40,586.41M616.88,636.93L617.35,641.28M617.83,631.03L618.31,653.00M618.79,644.21L619.26,639.13M619.74,623.97L620.22,655.44" fill="none" stroke="#008000" stroke-width="1.30" stroke-opacity="0.60" stroke-linecap="round"/><path d="M433.88,619.76L434.36,624.73M434.83,620.34L435.31,641.09M435.79,645.19L436.27,632.66M436.74,636.91L437.22,632.09M437.70,610.76L438.18,626.00M438.66,640.19L439.13,630.70M439.61,641.83L440.09,638.38M440.57,635.57L441.04,628.93M441.52,643.45L442.00,639.99M442.48,595.35L442.96,649.16M443.43,652.61L443.91,637.41M444.39,599.40L444.87,659.41M445.34,649.73L445.82,646.38M446.30,651.65L446.78,653.81M447.26,636.67L447.73,632.28M448.21,639.70L448.69,644.13M449.17,634.80L449.65,631.99M450.12,637.52L450.60,636.79M451.08,626.01L451.56,637.96M452.03,649.06L452.51,636.21M452.99,633.47L453.47,627.85M453.95,650.67L454.42,648.88M454.90,613.09L455.38,654.46M455.86,640.93L456.33,632.13M456.81,641.33L457.29,623.66M457.77,628.65L458.25,628.72M458.72,624.56L459.20,626.45M459.68,650.35L460.16,630.72M460.63,604.29L461.11,655.33M461.59,638.18L462.07,610.03M462.55,632.23L463.02,637.75M463.50,638.92L463.98,634.42M464.46,644.99L464.93,633.12M465.41,637.20L465.89,633.81M466.37,617.31L466.85,611.33M467.32,628.60L467.80,641.09M468.28,632.35L468.76,627.14M469.23,617.01L469.71,650.65M470.19,631.15L470.67,631.37M471.15,636.41L471.62,648.77M472.10,626.45L472.58,648.51M473.06,633.26L473.54,622.15M474.01,653.06L474.49,627.53M474.97,655.72L475.45,597.76M475.92,623.90L476.40,612.41M476.88,653.89L477.36,646.23M477.84,633.78L478.31,622.23M478.79,628.21L479.27,646.98M479.75,633.41L480.22,640.41M480.70,640.19L481.18,644.06M481.66,636.57L482.14,634.58M482.61,636.83L483.09,639.24M483.57,652.86L484.05,642.90M484.52,625.06L485.00,641.73M485.48,651.94L485.96,627.10M486.44,631.64L486.91,616.67M487.39,635.60L487.87,637.89M488.35,653.12L488.82,628.77M489.30,604.29L489.78,645.73M490.26,646.05L490.74,630.85M491.21,647.12L491.69,645.67M492.17,641.25L492.65,637.80M493.12,624.90L493.60,635.14M494.08,628.44L494.56,642.00M495.04,635.80L495.51,603.92M495.99,660.32L496.47,630.67M496.95,640.21L497.43,633.90M497.90,632.03L498.38,620.77M498.86,630.52L499.34,624.64M499.81,634.99L500.29,646.15M500.77,648.08L501.25,645.70M501.73,648.25L502.20,643.56M502.68,639.81L503.16,635.07M503.64,641.25L504.11,655.50M504.59,639.25L505.07,618.90M505.55,627.80L506.03,631.78M506.50,642.58L506.98,647.57M507.46,619.09L507.94,626.39M508.41,616.70L508.89,612.80M509.37,647.95L509.85,635.15M510.33,631.28L510.80,631.23M511.28,630.50L511.76,637.10M512.24,632.01L512.71,651.64M513.19,643.72L513.67,647.38M514.15,638.18L514.63,644.37M515.10,630.05L515.58,629.38M516.06,631.48L516.54,631.87M517.01,617.60L517.49,641.21M517.97,639.94L518.45,644.87M518.93,633.08L519.40,638.65M519.88,636.03L520.36,650.84M520.84,632.55L521.32,646.47M521.79,644.65L522.27,639.12M522.75,644.62L523.23,632.27M523.70,643.98L524.18,650.73M524.66,644.99L525.14,626.84M525.62,638.30L526.09,649.50M526.57,642.32L527.05,655.73M527.53,622.86L528.00,651.47M528.48,636.93L528.96,630.70M529.44,653.80L529.92,639.21M530.39,626.39L530.87,630.00M531.35,633.13L531.83,627.62M532.30,635.60L532.78,635.76M533.26,642.34L533.74,634.61M534.22,591.25L534.69,630.54M535.17,640.30L535.65,651.77M536.13,637.12L536.60,619.65M537.08,625.12L537.56,641.49M538.04,626.78L538.52,641.85M538.99,603.33L539.47,621.30M539.95,656.13L540.43,639.91M540.90,650.12L541.38,650.42M541.86,656.93L542.34,662.75M542.82,650.78L543.29,629.04M543.77,618.88L544.25,633.24M544.73,626.20L545.21,641.12M545.68,658.53L546.16,641.30M546.64,633.79L547.12,616.52M547.59,635.13L548.07,628.29M548.55,646.56L549.03,654.99M549.51,639.90L549.98,640.20M550.46,637.95L550.94,627.62M551.42,620.83L551.89,638.49M552.37,633.46L552.85,627.68M553.33,627.76L553.81,622.66M554.28,641.79L554.76,610.94M555.24,613.19L555.72,625.67M556.19,644.94L556.67,631.20M557.15,624.83L557.63,628.72M558.11,641.56L558.58,624.08M559.06,646.87L559.54,631.95M560.02,635.32L560.49,649.99M560.97,624.45L561.45,632.72M561.93,650.66L562.41,636.37M562.88,641.33L563.36,659.66M563.84,649.52L564.32,636.59M564.79,632.29L565.27,638.18M565.75,640.01L566.23,634.50M566.71,639.50L567.18,627.58M567.66,635.22L568.14,634.92M568.62,632.46L569.10,651.63M569.57,645.02L570.05,623.38M570.53,630.52L571.01,600.31M571.48,636.94L571.96,645.21M572.44,635.33L572.92,644.96M573.40,637.70L573.87,654.81M574.35,627.22L574.83,642.22M575.31,648.78L575.78,642.93M576.26,643.64L576.74,634.68M577.22,649.34L577.70,633.44M578.17,585.61L578.65,644.56M579.13,644.78L579.61,643.38M580.08,634.40L580.56,654.75M581.04,653.70L581.52,638.22M582.00,639.63L582.47,585.57M582.95,642.94L583.43,636.32M583.91,608.19L584.38,642.54M584.86,648.50L585.34,639.04M585.82,636.09L586.30,615.86M586.77,634.87L587.25,643.67M587.73,637.72L588.21,607.82M588.68,620.15L589.16,659.33M589.64,645.15L590.12,648.65M590.60,635.36L591.07,594.49M591.55,616.71L592.03,617.16M592.51,625.38L592.99,634.29M593.46,634.98L593.94,636.64M594.42,625.38L594.90,629.14M595.37,632.20L595.85,625.67M596.33,634.74L596.81,640.53M597.29,649.87L597.76,645.82M598.24,633.20L598.72,658.27M599.20,631.57L599.67,628.90M600.15,637.82L600.63,627.26M601.11,629.05L601.59,602.39M602.06,660.59L602.54,643.23M603.02,635.00L603.50,622.59M603.97,616.28L604.45,621.45M604.93,647.33L605.41,649.93M605.89,635.70L606.36,637.70M606.84,628.24L607.32,638.13M607.80,625.19L608.27,615.64M608.75,635.47L609.23,641.78M609.71,636.85L610.19,631.16M610.66,638.65L611.14,637.60M611.62,637.99L612.10,632.75M612.58,631.30L613.05,604.85M613.53,644.82L614.01,619.97M614.49,636.07L614.96,626.82M615.44,633.94L615.92,631.20M616.40,586.41L616.88,636.93M617.35,641.28L617.83,631.03M618.31,653.00L618.79,644.21M619.26,639.13L619.74,623.97" fill="none" stroke="#008000" stroke-width="1.30" stroke-opacity="0.60" stroke-linecap="round"/>
<path d="M620.70,653.23V657.02M621.18,646.46V654.04M621.65,640.78V646.25M622.13,645.27V650.84M622.61,633.97V635.13M623.56,634.76V638.66M624.04,633.18V641.57M624.52,638.42V642.32M625.00,636.46V634.95M625.48,640.78V641.73M625.95,634.06V631.43M626.43,630.07V631.36M628.34,630.31V633.56M629.30,630.91V632.93M629.78,627.80V625.84M630.73,617.58V613.36M631.21,639.98V641.64M631.69,641.13V646.03M632.16,638.35V637.00M632.64,640.66V642.82M633.12,634.57V641.59M633.60,623.52V622.26M634.08,637.79V635.14M634.55,625.62V622.22M635.51,623.75V624.77M635.99,638.51V641.08M636.46,596.86V595.60M636.94,606.39V604.74M637.42,624.52V621.32M637.90,620.60V621.76M638.38,631.92V630.81M638.85,621.77V624.90M639.33,643.40V647.55M639.81,642.37V647.33M640.29,633.55V632.38M640.77,626.74V625.59M641.24,595.64V593.38M641.72,637.05V638.32M642.20,635.45V640.27M642.68,635.94V638.54M643.15,640.54V650.09M643.63,646.26V654.54M644.11,634.75V639.47M644.59,645.16V656.52M645.07,619.31V617.80M645.54,635.91V645.59M646.02,640.31V649.48M646.50,633.58V635.03M646.98,638.57V640.85M647.45,636.31V637.48M647.93,642.69V647.82M648.41,640.84V646.26M648.89,633.82V631.42M649.84,639.19V640.54M650.32,629.01V632.33M651.28,630.20V633.63M651.75,613.44V616.98M652.23,635.33V637.75M652.71,627.37V631.32M653.67,635.07V637.84M654.14,645.43V649.82M655.10,629.20V632.04M655.58,633.52V634.83M657.01,642.96V646.42M657.49,635.43V634.21M657.97,650.60V656.81M658.44,635.10V639.51M658.92,643.86V654.07M659.40,598.77V595.60M659.88,631.82V628.83M660.36,636.96V638.09M660.83,634.82V642.06M661.31,633.88V631.09M662.27,639.37V641.33M662.74,636.97V641.59M663.22,623.03V619.43M664.18,631.05V629.13M664.66,643.79V649.08M665.13,633.56V631.00M666.09,633.83V632.87M666.57,644.10V648.81" stroke="#ffa500" stroke-width="0.8" fill="none"/>
<path d="M620.22,655.44L620.70,653.23M621.18,646.46L621.65,640.78M622.13,645.27L622.61,633.97M623.09,623.01L623.56,634.76M624.04,633.18L624.52,638.42M625.00,636.46L625.48,640.78M625.95,634.06L626.43,630.07M626.91,630.35L627.39,625.53M627.86,633.25L628.34,630.31M628.82,613.99L629.30,630.91M629.78,627.80L630.25,634.09M630.73,617.58L631.21,639.98M631.69,641.13L632.16,638.35M632.64,640.66L633.12,634.57M633.60,623.52L634.08,637.79M634.55,625.62L635.03,630.88M635.51,623.75L635.99,638.51M636.46,596.86L636.94,606.39M637.42,624.52L637.90,620.60M638.38,631.92L638.85,621.77M639.33,643.40L639.81,642.37M640.29,633.55L640.77,626.74M641.24,595.64L641.72,637.05M642.20,635.45L642.68,635.94M643.15,640.54L643.63,646.26M644.11,634.75L644.59,645.16M645.07,619.31L645.54,635.91M646.02,640.31L646.50,633.58M646.98,638.57L647.45,636.31M647.93,642.69L648.41,640.84M648.89,633.82L649.37,630.98M649.84,639.19L650.32,629.01M650.80,615.41L651.28,630.20M651.75,613.44L652.23,635.33M652.71,627.37L653.19,629.76M653.67,635.07L654.14,645.43M654.62,630.04L655.10,629.20M655.58,633.52L656.05,635.72M656.53,635.04L657.01,642.96M657.49,635.43L657.97,650.60M658.44,635.10L658.92,643.86M659.40,598.77L659.88,631.82M660.36,636.96L660.83,634.82M661.31,633.88L661.79,637.79M662.27,639.37L662.74,636.97M663.22,623.03L663.70,625.98M664.18,631.05L664.66,643.79M665.13,633.56L665.61,615.87M666.09,633.83L666.57,644.10" fill="none" stroke="#ff0000" stroke-width="1.30" stroke-opacity="0.68" stroke-linecap="round"/><path d="M620.70,653.23L621.18,646.46M621.65,640.78L622.13,645.27M622.61,633.97L623.09,623.01M623.56,634.76L624.04,633.18M624.52,638.42L625.00,636.46M625.48,640.78L625.95,634.06M626.43,630.07L626.91,630.35M627.39,625.53L627.86,633.25M628.34,630.31L628.82,613.99M629.30,630.91L629.78,627.80M630.25,634.09L630.73,617.58M631.21,639.98L631.69,641.13M632.16,638.35L632.64,640.66M633.12,634.57L633.60,623.52M634.08,637.79L634.55,625.62M635.03,630.88L635.51,623.75M635.99,638.51L636.46,596.86M636.94,606.39L637.42,624.52M637.90,620.60L638.38,631.92M638.85,621.77L639.33,643.40M639.81,642.37L640.29,633.55M640.77,626.74L641.24,595.64M641.72,637.05L642.20,635.45M642.68,635.94L643.15,640.54M643.63,646.26L644.11,634.75M644.59,645.16L645.07,619.31M645.54,635.91L646.02,640.31M646.50,633.58L646.98,638.57M647.45,636.31L647.93,642.69M648.41,640.84L648.89,633.82M649.37,630.98L649.84,639.19M650.32,629.01L650.80,615.41M651.28,630.20L651.75,613.44M652.23,635.33L652.71,627.37M653.19,629.76L653.67,635.07M654.14,645.43L654.62,630.04M655.10,629.20L655.58,633.52M656.05,635.72L656.53,635.04M657.01,642.96L657.49,635.43M657.97,650.60L658.44,635.10M658.92,643.86L659.40,598.77M659.88,631.82L660.36,636.96M660.83,634.82L661.31,633.88M661.79,637.79L662.27,639.37M662.74,636.97L663.22,623.03M663.70,625.98L664.18,631.05M664.66,643.79L665.13,633.56M665.61,615.87L666.09,633.83M666.57,644.10L667.04,614.61" fill="none" stroke="#ff0000" stroke-width="1.30" stroke-opacity="0.68" stroke-linecap="round"/>
<rect x="422.2" y="574.5" width="256.5" height="94.1" class="fr"/>
<line x1="420.7" y1="662.2" x2="422.2" y2="662.2" class="tk"/>
<text x="418.8" y="663.8" class="yl">20</text>
<line x1="420.7" y1="651.1" x2="422.2" y2="651.1" class="tk"/>
<text x="418.8" y="652.7" class="yl">30</text>
<line x1="420.7" y1="640.0" x2="422.2" y2="640.0" class="tk"/>
<text x="418.8" y="641.6" class="yl">40</text>
<line x1="420.7" y1="628.9" x2="422.2" y2="628.9" class="tk"/>
<text x="418.8" y="630.5" class="yl">50</text>
<line x1="420.7" y1="617.8" x2="422.2" y2="617.8" class="tk"/>
<text x="418.8" y="619.4" class="yl">60</text>
<line x1="420.7" y1="606.7" x2="422.2" y2="606.7" class="tk"/>
<text x="418.8" y="608.3" class="yl">70</text>
<line x1="420.7" y1="595.6" x2="422.2" y2="595.6" class="tk"/>
<text x="418.8" y="597.2" class="yl">80</text>
<line x1="420.7" y1="584.5" x2="422.2" y2="584.5" class="tk"/>
<text x="418.8" y="586.1" class="yl">90</text>
<text transform="translate(411.8,621.5) rotate(-90)" class="al">Values</text>
<line x1="433.4" y1="668.6" x2="433.4" y2="670.1" class="tk"/>
<text x="433.4" y="674.9" class="xl">0</text>
<line x1="433.4" y1="773.6" x2="433.4" y2="775.1" class="tk"/>
<text x="433.4" y="779.9" class="xl">0</text>
<line x1="481.2" y1="668.6" x2="481.2" y2="670.1" class="tk"/>
<text x="481.2" y="674.9" class="xl">100</text>
<line x1="481.2" y1="773.6" x2="481.2" y2="775.1" class="tk"/>
<text x="481.2" y="779.9" class="xl">100</text>
<line x1="529.0" y1="668.6" x2="529.0" y2="670.1" class="tk"/>
<text x="529.0" y="674.9" class="xl">200</text>
<line x1="529.0" y1="773.6" x2="529.0" y2="775.1" class="tk"/>
<text x="529.0" y="779.9" class="xl">200</text>
<line x1="576.7" y1="668.6" x2="576.7" y2="670.1" class="tk"/>
<text x="576.7" y="674.9" class="xl">300</text>
<line x1="576.7" y1="773.6" x2="576.7" y2="775.1" class="tk"/>
<text x="576.7" y="779.9" class="xl">300</text>
<line x1="624.5" y1="668.6" x2="624.5" y2="670.1" class="tk"/>
<text x="624.5" y="674.9" class="xl">400</text>
<line x1="624.5" y1="773.6" x2="624.5" y2="775.1" class="tk"/>
<text x="624.5" y="779.9" class="xl">400</text>
<line x1="672.3" y1="668.6" x2="672.3" y2="670.1" class="tk"/>
<text x="672.3" y="674.9" class="xl">500</text>
<line x1="672.3" y1="773.6" x2="672.3" y2="775.1" class="tk"/>
<text x="672.3" y="779.9" class="xl">500</text>
<rect x="630.4" y="576.4" width="47.2" height="24.6" rx="0.8" class="lg"/>
<line x1="632.1" y1="579.5" x2="641.1" y2="579.5" stroke="#0000ff" stroke-opacity="0.4" stroke-width="0.8"/>
<text x="643.7" y="581.0" class="lt">Actual (Train)</text>
<line x1="632.1" y1="585.6" x2="641.1" y2="585.6" stroke="#008000" stroke-opacity="0.4" stroke-width="0.8"/>
<text x="643.7" y="587.1" class="lt">Predicted (Train)</text>
<line x1="632.1" y1="591.8" x2="641.1" y2="591.8" stroke="#ffa500" stroke-opacity="1" stroke-width="0.8"/>
<text x="643.7" y="593.3" class="lt">Actual (Test)</text>
<line x1="632.1" y1="597.9" x2="641.1" y2="597.9" stroke="#ff0000" stroke-opacity="1" stroke-width="0.8"/>
<text x="643.7" y="599.4" class="lt">Predicted (Test)</text>
<circle cx="433.4" cy="729.6" r="1.2" fill="#0000ff"/><circle cx="433.9" cy="728.6" r="1.2" fill="#0000ff"/><circle cx="434.4" cy="713.0" r="1.2" fill="#0000ff"/><circle cx="434.8" cy="708.4" r="1.2" fill="#0000ff"/><circle cx="435.3" cy="724.7" r="1.2" fill="#0000ff"/><circle cx="435.8" cy="721.0" r="1.2" fill="#0000ff"/><circle cx="436.3" cy="721.4" r="1.2" fill="#0000ff"/><circle cx="436.7" cy="724.7" r="1.2" fill="#0000ff"/><circle cx="437.2" cy="714.5" r="1.2" fill="#0000ff"/><circle cx="437.7" cy="716.3" r="1.2" fill="#0000ff"/><circle cx="438.2" cy="713.4" r="1.2" fill="#0000ff"/><circle cx="438.7" cy="713.1" r="1.2" fill="#0000ff"/><circle cx="439.1" cy="720.0" r="1.2" fill="#0000ff"/><circle cx="439.6" cy="712.8" r="1.2" fill="#0000ff"/><circle cx="440.1" cy="728.7" r="1.2" fill="#0000ff"/><circle cx="440.6" cy="716.0" r="1.2" fill="#0000ff"/><circle cx="441.0" cy="718.8" r="1.2" fill="#0000ff"/><circle cx="441.5" cy="709.6" r="1.2" fill="#0000ff"/><circle cx="442.0" cy="722.0" r="1.2" fill="#0000ff"/><circle cx="442.5" cy="712.9" r="1.2" fill="#0000ff"/><circle cx="443.0" cy="716.3" r="1.2" fill="#0000ff"/><circle cx="443.4" cy="734.2" r="1.2" fill="#0000ff"/><circle cx="443.9" cy="719.1" r="1.2" fill="#0000ff"/><circle cx="444.4" cy="714.0" r="1.2" fill="#0000ff"/><circle cx="444.9" cy="720.7" r="1.2" fill="#0000ff"/><circle cx="445.3" cy="725.7" r="1.2" fill="#0000ff"/><circle cx="445.8" cy="719.6" r="1.2" fill="#0000ff"/><circle cx="446.3" cy="725.9" r="1.2" fill="#0000ff"/><circle cx="446.8" cy="732.3" r="1.2" fill="#0000ff"/><circle cx="447.3" cy="732.7" r="1.2" fill="#0000ff"/><circle cx="447.7" cy="710.3" r="1.2" fill="#0000ff"/><circle cx="448.2" cy="720.9" r="1.2" fill="#0000ff"/><circle cx="448.7" cy="729.6" r="1.2" fill="#0000ff"/><circle cx="449.2" cy="722.3" r="1.2" fill="#0000ff"/><circle cx="449.6" cy="714.5" r="1.2" fill="#0000ff"/><circle cx="450.1" cy="729.4" r="1.2" fill="#0000ff"/><circle cx="450.6" cy="709.1" r="1.2" fill="#0000ff"/><circle cx="451.1" cy="719.3" r="1.2" fill="#0000ff"/><circle cx="451.6" cy="723.6" r="1.2" fill="#0000ff"/><circle cx="452.0" cy="718.1" r="1.2" fill="#0000ff"/><circle cx="452.5" cy="720.0" r="1.2" fill="#0000ff"/><circle cx="453.0" cy="725.6" r="1.2" fill="#0000ff"/><circle cx="453.5" cy="713.7" r="1.2" fill="#0000ff"/><circle cx="453.9" cy="723.0" r="1.2" fill="#0000ff"/><circle cx="454.4" cy="718.9" r="1.2" fill="#0000ff"/><circle cx="454.9" cy="719.0" r="1.2" fill="#0000ff"/><circle cx="455.4" cy="732.6" r="1.2" fill="#0000ff"/><circle cx="455.9" cy="719.2" r="1.2" fill="#0000ff"/><circle cx="456.3" cy="722.2" r="1.2" fill="#0000ff"/><circle cx="456.8" cy="734.2" r="1.2" fill="#0000ff"/><circle cx="457.3" cy="720.4" r="1.2" fill="#0000ff"/><circle cx="457.8" cy="715.5" r="1.2" fill="#0000ff"/><circle cx="458.2" cy="722.7" r="1.2" fill="#0000ff"/><circle cx="458.7" cy="710.8" r="1.2" fill="#0000ff"/><circle cx="459.2" cy="720.9" r="1.2" fill="#0000ff"/><circle cx="459.7" cy="725.9" r="1.2" fill="#0000ff"/><circle cx="460.2" cy="728.2" r="1.2" fill="#0000ff"/><circle cx="460.6" cy="715.8" r="1.2" fill="#0000ff"/><circle cx="461.1" cy="727.9" r="1.2" fill="#0000ff"/><circle cx="461.6" cy="718.6" r="1.2" fill="#0000ff"/><circle cx="462.1" cy="712.2" r="1.2" fill="#0000ff"/><circle cx="462.5" cy="714.3" r="1.2" fill="#0000ff"/><circle cx="463.0" cy="733.3" r="1.2" fill="#0000ff"/><circle cx="463.5" cy="721.8" r="1.2" fill="#0000ff"/><circle cx="464.0" cy="721.4" r="1.2" fill="#0000ff"/><circle cx="464.5" cy="729.4" r="1.2" fill="#0000ff"/><circle cx="464.9" cy="720.4" r="1.2" fill="#0000ff"/><circle cx="465.4" cy="725.5" r="1.2" fill="#0000ff"/><circle cx="465.9" cy="718.1" r="1.2" fill="#0000ff"/><circle cx="466.4" cy="717.3" r="1.2" fill="#0000ff"/><circle cx="466.8" cy="710.9" r="1.2" fill="#0000ff"/><circle cx="467.3" cy="723.7" r="1.2" fill="#0000ff"/><circle cx="467.8" cy="715.8" r="1.2" fill="#0000ff"/><circle cx="468.3" cy="717.9" r="1.2" fill="#0000ff"/><circle cx="468.8" cy="708.9" r="1.2" fill="#0000ff"/><circle cx="469.2" cy="716.1" r="1.2" fill="#0000ff"/><circle cx="469.7" cy="728.2" r="1.2" fill="#0000ff"/><circle cx="470.2" cy="718.9" r="1.2" fill="#0000ff"/><circle cx="470.7" cy="722.2" r="1.2" fill="#0000ff"/><circle cx="471.1" cy="726.8" r="1.2" fill="#0000ff"/><circle cx="471.6" cy="724.9" r="1.2" fill="#0000ff"/><circle cx="472.1" cy="718.6" r="1.2" fill="#0000ff"/><circle cx="472.6" cy="728.4" r="1.2" fill="#0000ff"/><circle cx="473.1" cy="722.3" r="1.2" fill="#0000ff"/><circle cx="473.5" cy="722.1" r="1.2" fill="#0000ff"/><circle cx="474.0" cy="725.5" r="1.2" fill="#0000ff"/><circle cx="474.5" cy="725.8" r="1.2" fill="#0000ff"/><circle cx="475.0" cy="717.9" r="1.2" fill="#0000ff"/><circle cx="475.4" cy="709.4" r="1.2" fill="#0000ff"/><circle cx="475.9" cy="712.4" r="1.2" fill="#0000ff"/><circle cx="476.4" cy="720.4" r="1.2" fill="#0000ff"/><circle cx="476.9" cy="724.7" r="1.2" fill="#0000ff"/><circle cx="477.4" cy="724.9" r="1.2" fill="#0000ff"/><circle cx="477.8" cy="715.1" r="1.2" fill="#0000ff"/><circle cx="478.3" cy="712.2" r="1.2" fill="#0000ff"/><circle cx="478.8" cy="727.5" r="1.2" fill="#0000ff"/><circle cx="479.3" cy="718.2" r="1.2" fill="#0000ff"/><circle cx="479.7" cy="728.3" r="1.2" fill="#0000ff"/><circle cx="480.2" cy="715.2" r="1.2" fill="#0000ff"/><circle cx="480.7" cy="722.6" r="1.2" fill="#0000ff"/><circle cx="481.2" cy="730.0" r="1.2" fill="#0000ff"/><circle cx="481.7" cy="717.5" r="1.2" fill="#0000ff"/><circle cx="482.1" cy="720.5" r="1.2" fill="#0000ff"/><circle cx="482.6" cy="726.7" r="1.2" fill="#0000ff"/><circle cx="483.1" cy="726.1" r="1.2" fill="#0000ff"/><circle cx="483.6" cy="723.6" r="1.2" fill="#0000ff"/><circle cx="484.0" cy="730.6" r="1.2" fill="#0000ff"/><circle cx="484.5" cy="722.4" r="1.2" fill="#0000ff"/><circle cx="485.0" cy="712.9" r="1.2" fill="#0000ff"/><circle cx="485.5" cy="730.1" r="1.2" fill="#0000ff"/><circle cx="486.0" cy="716.4" r="1.2" fill="#0000ff"/><circle cx="486.4" cy="717.4" r="1.2" fill="#0000ff"/><circle cx="486.9" cy="710.1" r="1.2" fill="#0000ff"/><circle cx="487.4" cy="716.2" r="1.2" fill="#0000ff"/><circle cx="487.9" cy="735.3" r="1.2" fill="#0000ff"/><circle cx="488.3" cy="728.9" r="1.2" fill="#0000ff"/><circle cx="488.8" cy="712.5" r="1.2" fill="#0000ff"/><circle cx="489.3" cy="715.8" r="1.2" fill="#0000ff"/><circle cx="489.8" cy="714.2" r="1.2" fill="#0000ff"/><circle cx="490.3" cy="722.8" r="1.2" fill="#0000ff"/><circle cx="490.7" cy="726.1" r="1.2" fill="#0000ff"/><circle cx="491.2" cy="721.4" r="1.2" fill="#0000ff"/><circle cx="491.7" cy="713.5" r="1.2" fill="#0000ff"/><circle cx="492.2" cy="726.3" r="1.2" fill="#0000ff"/><circle cx="492.6" cy="718.6" r="1.2" fill="#0000ff"/><circle cx="493.1" cy="722.5" r="1.2" fill="#0000ff"/><circle cx="493.6" cy="724.0" r="1.2" fill="#0000ff"/><circle cx="494.1" cy="718.2" r="1.2" fill="#0000ff"/><circle cx="494.6" cy="720.1" r="1.2" fill="#0000ff"/><circle cx="495.0" cy="719.1" r="1.2" fill="#0000ff"/><circle cx="495.5" cy="753.0" r="1.2" fill="#0000ff"/><circle cx="496.0" cy="715.4" r="1.2" fill="#0000ff"/><circle cx="496.5" cy="725.3" r="1.2" fill="#0000ff"/><circle cx="496.9" cy="732.4" r="1.2" fill="#0000ff"/><circle cx="497.4" cy="717.4" r="1.2" fill="#0000ff"/><circle cx="497.9" cy="718.9" r="1.2" fill="#0000ff"/><circle cx="498.4" cy="724.2" r="1.2" fill="#0000ff"/><circle cx="498.9" cy="710.1" r="1.2" fill="#0000ff"/><circle cx="499.3" cy="721.4" r="1.2" fill="#0000ff"/><circle cx="499.8" cy="728.4" r="1.2" fill="#0000ff"/><circle cx="500.3" cy="721.9" r="1.2" fill="#0000ff"/><circle cx="500.8" cy="721.3" r="1.2" fill="#0000ff"/><circle cx="501.2" cy="711.3" r="1.2" fill="#0000ff"/><circle cx="501.7" cy="733.1" r="1.2" fill="#0000ff"/><circle cx="502.2" cy="730.2" r="1.2" fill="#0000ff"/><circle cx="502.7" cy="723.7" r="1.2" fill="#0000ff"/><circle cx="503.2" cy="723.2" r="1.2" fill="#0000ff"/><circle cx="503.6" cy="723.1" r="1.2" fill="#0000ff"/><circle cx="504.1" cy="730.8" r="1.2" fill="#0000ff"/><circle cx="504.6" cy="730.5" r="1.2" fill="#0000ff"/><circle cx="505.1" cy="718.3" r="1.2" fill="#0000ff"/><circle cx="505.5" cy="714.8" r="1.2" fill="#0000ff"/><circle cx="506.0" cy="715.5" r="1.2" fill="#0000ff"/><circle cx="506.5" cy="726.6" r="1.2" fill="#0000ff"/><circle cx="507.0" cy="721.7" r="1.2" fill="#0000ff"/><circle cx="507.5" cy="713.7" r="1.2" fill="#0000ff"/><circle cx="507.9" cy="720.8" r="1.2" fill="#0000ff"/><circle cx="508.4" cy="717.1" r="1.2" fill="#0000ff"/><circle cx="508.9" cy="713.8" r="1.2" fill="#0000ff"/><circle cx="509.4" cy="709.5" r="1.2" fill="#0000ff"/><circle cx="509.8" cy="719.9" r="1.2" fill="#0000ff"/><circle cx="510.3" cy="724.4" r="1.2" fill="#0000ff"/><circle cx="510.8" cy="720.5" r="1.2" fill="#0000ff"/><circle cx="511.3" cy="722.4" r="1.2" fill="#0000ff"/><circle cx="511.8" cy="715.2" r="1.2" fill="#0000ff"/><circle cx="512.2" cy="731.6" r="1.2" fill="#0000ff"/><circle cx="512.7" cy="731.7" r="1.2" fill="#0000ff"/><circle cx="513.2" cy="718.9" r="1.2" fill="#0000ff"/><circle cx="513.7" cy="722.2" r="1.2" fill="#0000ff"/><circle cx="514.1" cy="721.6" r="1.2" fill="#0000ff"/><circle cx="514.6" cy="719.7" r="1.2" fill="#0000ff"/><circle cx="515.1" cy="726.5" r="1.2" fill="#0000ff"/><circle cx="515.6" cy="717.1" r="1.2" fill="#0000ff"/><circle cx="516.1" cy="725.9" r="1.2" fill="#0000ff"/><circle cx="516.5" cy="726.8" r="1.2" fill="#0000ff"/><circle cx="517.0" cy="712.8" r="1.2" fill="#0000ff"/><circle cx="517.5" cy="726.9" r="1.2" fill="#0000ff"/><circle cx="518.0" cy="724.2" r="1.2" fill="#0000ff"/><circle cx="518.4" cy="720.3" r="1.2" fill="#0000ff"/><circle cx="518.9" cy="725.8" r="1.2" fill="#0000ff"/><circle cx="519.4" cy="718.5" r="1.2" fill="#0000ff"/><circle cx="519.9" cy="708.9" r="1.2" fill="#0000ff"/><circle cx="520.4" cy="726.6" r="1.2" fill="#0000ff"/><circle cx="520.8" cy="714.8" r="1.2" fill="#0000ff"/><circle cx="521.3" cy="720.0" r="1.2" fill="#0000ff"/><circle cx="521.8" cy="730.5" r="1.2" fill="#0000ff"/><circle cx="522.3" cy="729.4" r="1.2" fill="#0000ff"/><circle cx="522.7" cy="723.6" r="1.2" fill="#0000ff"/><circle cx="523.2" cy="731.5" r="1.2" fill="#0000ff"/><circle cx="523.7" cy="723.2" r="1.2" fill="#0000ff"/><circle cx="524.2" cy="724.1" r="1.2" fill="#0000ff"/><circle cx="524.7" cy="721.2" r="1.2" fill="#0000ff"/><circle cx="525.1" cy="715.8" r="1.2" fill="#0000ff"/><circle cx="525.6" cy="714.5" r="1.2" fill="#0000ff"/><circle cx="526.1" cy="726.9" r="1.2" fill="#0000ff"/><circle cx="526.6" cy="715.6" r="1.2" fill="#0000ff"/><circle cx="527.0" cy="724.1" r="1.2" fill="#0000ff"/><circle cx="527.5" cy="714.2" r="1.2" fill="#0000ff"/><circle cx="528.0" cy="726.5" r="1.2" fill="#0000ff"/><circle cx="528.5" cy="716.1" r="1.2" fill="#0000ff"/><circle cx="529.0" cy="723.5" r="1.2" fill="#0000ff"/><circle cx="529.4" cy="722.4" r="1.2" fill="#0000ff"/><circle cx="529.9" cy="715.9" r="1.2" fill="#0000ff"/><circle cx="530.4" cy="721.7" r="1.2" fill="#0000ff"/><circle cx="530.9" cy="724.3" r="1.2" fill="#0000ff"/><circle cx="531.3" cy="724.2" r="1.2" fill="#0000ff"/><circle cx="531.8" cy="718.7" r="1.2" fill="#0000ff"/><circle cx="532.3" cy="718.9" r="1.2" fill="#0000ff"/><circle cx="532.8" cy="716.1" r="1.2" fill="#0000ff"/><circle cx="533.3" cy="712.6" r="1.2" fill="#0000ff"/><circle cx="533.7" cy="711.7" r="1.2" fill="#0000ff"/><circle cx="534.2" cy="706.0" r="1.2" fill="#0000ff"/><circle cx="534.7" cy="721.4" r="1.2" fill="#0000ff"/><circle cx="535.2" cy="728.8" r="1.2" fill="#0000ff"/><circle cx="535.6" cy="721.3" r="1.2" fill="#0000ff"/><circle cx="536.1" cy="718.5" r="1.2" fill="#0000ff"/><circle cx="536.6" cy="717.5" r="1.2" fill="#0000ff"/><circle cx="537.1" cy="718.6" r="1.2" fill="#0000ff"/><circle cx="537.6" cy="723.3" r="1.2" fill="#0000ff"/><circle cx="538.0" cy="732.2" r="1.2" fill="#0000ff"/><circle cx="538.5" cy="723.0" r="1.2" fill="#0000ff"/><circle cx="539.0" cy="709.3" r="1.2" fill="#0000ff"/><circle cx="539.5" cy="717.2" r="1.2" fill="#0000ff"/><circle cx="539.9" cy="732.8" r="1.2" fill="#0000ff"/><circle cx="540.4" cy="721.9" r="1.2" fill="#0000ff"/><circle cx="540.9" cy="722.6" r="1.2" fill="#0000ff"/><circle cx="541.4" cy="715.5" r="1.2" fill="#0000ff"/><circle cx="541.9" cy="721.5" r="1.2" fill="#0000ff"/><circle cx="542.3" cy="685.1" r="1.2" fill="#0000ff"/><circle cx="542.8" cy="725.7" r="1.2" fill="#0000ff"/><circle cx="543.3" cy="726.1" r="1.2" fill="#0000ff"/><circle cx="543.8" cy="718.3" r="1.2" fill="#0000ff"/><circle cx="544.2" cy="727.6" r="1.2" fill="#0000ff"/><circle cx="544.7" cy="718.6" r="1.2" fill="#0000ff"/><circle cx="545.2" cy="716.7" r="1.2" fill="#0000ff"/><circle cx="545.7" cy="722.1" r="1.2" fill="#0000ff"/><circle cx="546.2" cy="717.6" r="1.2" fill="#0000ff"/><circle cx="546.6" cy="720.2" r="1.2" fill="#0000ff"/><circle cx="547.1" cy="709.7" r="1.2" fill="#0000ff"/><circle cx="547.6" cy="722.2" r="1.2" fill="#0000ff"/><circle cx="548.1" cy="729.3" r="1.2" fill="#0000ff"/><circle cx="548.5" cy="723.4" r="1.2" fill="#0000ff"/><circle cx="549.0" cy="726.5" r="1.2" fill="#0000ff"/><circle cx="549.5" cy="731.6" r="1.2" fill="#0000ff"/><circle cx="550.0" cy="725.1" r="1.2" fill="#0000ff"/><circle cx="550.5" cy="734.9" r="1.2" fill="#0000ff"/><circle cx="550.9" cy="721.0" r="1.2" fill="#0000ff"/><circle cx="551.4" cy="709.8" r="1.2" fill="#0000ff"/><circle cx="551.9" cy="725.2" r="1.2" fill="#0000ff"/><circle cx="552.4" cy="713.1" r="1.2" fill="#0000ff"/><circle cx="552.9" cy="717.2" r="1.2" fill="#0000ff"/><circle cx="553.3" cy="722.5" r="1.2" fill="#0000ff"/><circle cx="553.8" cy="726.6" r="1.2" fill="#0000ff"/><circle cx="554.3" cy="718.6" r="1.2" fill="#0000ff"/><circle cx="554.8" cy="709.8" r="1.2" fill="#0000ff"/><circle cx="555.2" cy="722.2" r="1.2" fill="#0000ff"/><circle cx="555.7" cy="720.1" r="1.2" fill="#0000ff"/><circle cx="556.2" cy="717.7" r="1.2" fill="#0000ff"/><circle cx="556.7" cy="723.6" r="1.2" fill="#0000ff"/><circle cx="557.2" cy="715.4" r="1.2" fill="#0000ff"/><circle cx="557.6" cy="729.4" r="1.2" fill="#0000ff"/><circle cx="558.1" cy="727.7" r="1.2" fill="#0000ff"/><circle cx="558.6" cy="713.4" r="1.2" fill="#0000ff"/><circle cx="559.1" cy="730.7" r="1.2" fill="#0000ff"/><circle cx="559.5" cy="727.6" r="1.2" fill="#0000ff"/><circle cx="560.0" cy="728.3" r="1.2" fill="#0000ff"/><circle cx="560.5" cy="727.3" r="1.2" fill="#0000ff"/><circle cx="561.0" cy="726.1" r="1.2" fill="#0000ff"/><circle cx="561.5" cy="720.6" r="1.2" fill="#0000ff"/><circle cx="561.9" cy="722.4" r="1.2" fill="#0000ff"/><circle cx="562.4" cy="712.8" r="1.2" fill="#0000ff"/><circle cx="562.9" cy="724.8" r="1.2" fill="#0000ff"/><circle cx="563.4" cy="719.4" r="1.2" fill="#0000ff"/><circle cx="563.8" cy="722.0" r="1.2" fill="#0000ff"/><circle cx="564.3" cy="722.4" r="1.2" fill="#0000ff"/><circle cx="564.8" cy="717.0" r="1.2" fill="#0000ff"/><circle cx="565.3" cy="713.4" r="1.2" fill="#0000ff"/><circle cx="565.8" cy="714.1" r="1.2" fill="#0000ff"/><circle cx="566.2" cy="716.4" r="1.2" fill="#0000ff"/><circle cx="566.7" cy="722.5" r="1.2" fill="#0000ff"/><circle cx="567.2" cy="713.9" r="1.2" fill="#0000ff"/><circle cx="567.7" cy="719.6" r="1.2" fill="#0000ff"/><circle cx="568.1" cy="719.7" r="1.2" fill="#0000ff"/><circle cx="568.6" cy="718.5" r="1.2" fill="#0000ff"/><circle cx="569.1" cy="715.8" r="1.2" fill="#0000ff"/><circle cx="569.6" cy="730.2" r="1.2" fill="#0000ff"/><circle cx="570.1" cy="717.6" r="1.2" fill="#0000ff"/><circle cx="570.5" cy="725.3" r="1.2" fill="#0000ff"/><circle cx="571.0" cy="705.5" r="1.2" fill="#0000ff"/><circle cx="571.5" cy="715.2" r="1.2" fill="#0000ff"/><circle cx="572.0" cy="716.4" r="1.2" fill="#0000ff"/><circle cx="572.4" cy="722.7" r="1.2" fill="#0000ff"/><circle cx="572.9" cy="723.4" r="1.2" fill="#0000ff"/><circle cx="573.4" cy="717.3" r="1.2" fill="#0000ff"/><circle cx="573.9" cy="725.7" r="1.2" fill="#0000ff"/><circle cx="574.4" cy="716.7" r="1.2" fill="#0000ff"/><circle cx="574.8" cy="721.8" r="1.2" fill="#0000ff"/><circle cx="575.3" cy="723.3" r="1.2" fill="#0000ff"/><circle cx="575.8" cy="723.7" r="1.2" fill="#0000ff"/><circle cx="576.3" cy="720.9" r="1.2" fill="#0000ff"/><circle cx="576.7" cy="728.5" r="1.2" fill="#0000ff"/><circle cx="577.2" cy="727.3" r="1.2" fill="#0000ff"/><circle cx="577.7" cy="727.4" r="1.2" fill="#0000ff"/><circle cx="578.2" cy="706.2" r="1.2" fill="#0000ff"/><circle cx="578.7" cy="727.5" r="1.2" fill="#0000ff"/><circle cx="579.1" cy="696.5" r="1.2" fill="#0000ff"/><circle cx="579.6" cy="716.3" r="1.2" fill="#0000ff"/><circle cx="580.1" cy="727.2" r="1.2" fill="#0000ff"/><circle cx="580.6" cy="730.8" r="1.2" fill="#0000ff"/><circle cx="581.0" cy="724.5" r="1.2" fill="#0000ff"/><circle cx="581.5" cy="713.8" r="1.2" fill="#0000ff"/><circle cx="582.0" cy="717.8" r="1.2" fill="#0000ff"/><circle cx="582.5" cy="703.3" r="1.2" fill="#0000ff"/><circle cx="583.0" cy="723.3" r="1.2" fill="#0000ff"/><circle cx="583.4" cy="723.4" r="1.2" fill="#0000ff"/><circle cx="583.9" cy="710.4" r="1.2" fill="#0000ff"/><circle cx="584.4" cy="720.2" r="1.2" fill="#0000ff"/><circle cx="584.9" cy="723.8" r="1.2" fill="#0000ff"/><circle cx="585.3" cy="725.0" r="1.2" fill="#0000ff"/><circle cx="585.8" cy="729.7" r="1.2" fill="#0000ff"/><circle cx="586.3" cy="756.0" r="1.2" fill="#0000ff"/><circle cx="586.8" cy="722.6" r="1.2" fill="#0000ff"/><circle cx="587.3" cy="729.6" r="1.2" fill="#0000ff"/><circle cx="587.7" cy="719.7" r="1.2" fill="#0000ff"/><circle cx="588.2" cy="720.2" r="1.2" fill="#0000ff"/><circle cx="588.7" cy="717.8" r="1.2" fill="#0000ff"/><circle cx="589.2" cy="726.1" r="1.2" fill="#0000ff"/><circle cx="589.6" cy="719.3" r="1.2" fill="#0000ff"/><circle cx="590.1" cy="723.5" r="1.2" fill="#0000ff"/><circle cx="590.6" cy="714.2" r="1.2" fill="#0000ff"/><circle cx="591.1" cy="754.5" r="1.2" fill="#0000ff"/><circle cx="591.6" cy="719.3" r="1.2" fill="#0000ff"/><circle cx="592.0" cy="709.3" r="1.2" fill="#0000ff"/><circle cx="592.5" cy="722.5" r="1.2" fill="#0000ff"/><circle cx="593.0" cy="721.3" r="1.2" fill="#0000ff"/><circle cx="593.5" cy="730.0" r="1.2" fill="#0000ff"/><circle cx="593.9" cy="715.1" r="1.2" fill="#0000ff"/><circle cx="594.4" cy="713.9" r="1.2" fill="#0000ff"/><circle cx="594.9" cy="723.0" r="1.2" fill="#0000ff"/><circle cx="595.4" cy="729.3" r="1.2" fill="#0000ff"/><circle cx="595.9" cy="716.5" r="1.2" fill="#0000ff"/><circle cx="596.3" cy="719.1" r="1.2" fill="#0000ff"/><circle cx="596.8" cy="716.0" r="1.2" fill="#0000ff"/><circle cx="597.3" cy="715.1" r="1.2" fill="#0000ff"/><circle cx="597.8" cy="722.7" r="1.2" fill="#0000ff"/><circle cx="598.2" cy="721.3" r="1.2" fill="#0000ff"/><circle cx="598.7" cy="729.0" r="1.2" fill="#0000ff"/><circle cx="599.2" cy="721.3" r="1.2" fill="#0000ff"/><circle cx="599.7" cy="726.2" r="1.2" fill="#0000ff"/><circle cx="600.2" cy="726.4" r="1.2" fill="#0000ff"/><circle cx="600.6" cy="718.8" r="1.2" fill="#0000ff"/><circle cx="601.1" cy="727.8" r="1.2" fill="#0000ff"/><circle cx="601.6" cy="717.9" r="1.2" fill="#0000ff"/><circle cx="602.1" cy="721.8" r="1.2" fill="#0000ff"/><circle cx="602.5" cy="726.8" r="1.2" fill="#0000ff"/><circle cx="603.0" cy="716.3" r="1.2" fill="#0000ff"/><circle cx="603.5" cy="711.0" r="1.2" fill="#0000ff"/><circle cx="604.0" cy="715.0" r="1.2" fill="#0000ff"/><circle cx="604.5" cy="712.1" r="1.2" fill="#0000ff"/><circle cx="604.9" cy="725.4" r="1.2" fill="#0000ff"/><circle cx="605.4" cy="750.0" r="1.2" fill="#0000ff"/><circle cx="605.9" cy="721.5" r="1.2" fill="#0000ff"/><circle cx="606.4" cy="721.1" r="1.2" fill="#0000ff"/><circle cx="606.8" cy="718.0" r="1.2" fill="#0000ff"/><circle cx="607.3" cy="721.2" r="1.2" fill="#0000ff"/><circle cx="607.8" cy="750.0" r="1.2" fill="#0000ff"/><circle cx="608.3" cy="709.1" r="1.2" fill="#0000ff"/><circle cx="608.8" cy="721.9" r="1.2" fill="#0000ff"/><circle cx="609.2" cy="724.9" r="1.2" fill="#0000ff"/><circle cx="609.7" cy="716.2" r="1.2" fill="#0000ff"/><circle cx="610.2" cy="724.9" r="1.2" fill="#0000ff"/><circle cx="610.7" cy="721.8" r="1.2" fill="#0000ff"/><circle cx="611.1" cy="713.5" r="1.2" fill="#0000ff"/><circle cx="611.6" cy="721.2" r="1.2" fill="#0000ff"/><circle cx="612.1" cy="712.3" r="1.2" fill="#0000ff"/><circle cx="612.6" cy="720.9" r="1.2" fill="#0000ff"/><circle cx="613.1" cy="714.3" r="1.2" fill="#0000ff"/><circle cx="613.5" cy="724.5" r="1.2" fill="#0000ff"/><circle cx="614.0" cy="719.1" r="1.2" fill="#0000ff"/><circle cx="614.5" cy="722.9" r="1.2" fill="#0000ff"/><circle cx="615.0" cy="720.5" r="1.2" fill="#0000ff"/><circle cx="615.4" cy="716.0" r="1.2" fill="#0000ff"/><circle cx="615.9" cy="717.3" r="1.2" fill="#0000ff"/><circle cx="616.4" cy="707.0" r="1.2" fill="#0000ff"/><circle cx="616.9" cy="725.2" r="1.2" fill="#0000ff"/><circle cx="617.4" cy="705.2" r="1.2" fill="#0000ff"/><circle cx="617.8" cy="720.5" r="1.2" fill="#0000ff"/><circle cx="618.3" cy="718.5" r="1.2" fill="#0000ff"/><circle cx="618.8" cy="729.7" r="1.2" fill="#0000ff"/><circle cx="619.3" cy="725.8" r="1.2" fill="#0000ff"/><circle cx="619.7" cy="710.6" r="1.2" fill="#0000ff"/><circle cx="620.2" cy="732.7" r="1.2" fill="#0000ff"/><circle cx="620.7" cy="729.2" r="1.2" fill="#008000"/><circle cx="621.2" cy="718.5" r="1.2" fill="#008000"/><circle cx="621.7" cy="725.6" r="1.2" fill="#008000"/><circle cx="622.1" cy="721.0" r="1.2" fill="#008000"/><circle cx="622.6" cy="716.2" r="1.2" fill="#008000"/><circle cx="623.1" cy="708.6" r="1.2" fill="#008000"/><circle cx="623.6" cy="715.9" r="1.2" fill="#008000"/><circle cx="624.0" cy="714.7" r="1.2" fill="#008000"/><circle cx="624.5" cy="703.8" r="1.2" fill="#008000"/><circle cx="625.0" cy="702.8" r="1.2" fill="#008000"/><circle cx="625.5" cy="721.6" r="1.2" fill="#008000"/><circle cx="626.0" cy="737.5" r="1.2" fill="#008000"/><circle cx="626.4" cy="728.5" r="1.2" fill="#008000"/><circle cx="626.9" cy="706.5" r="1.2" fill="#008000"/><circle cx="627.4" cy="722.9" r="1.2" fill="#008000"/><circle cx="627.9" cy="725.4" r="1.2" fill="#008000"/><circle cx="628.3" cy="722.6" r="1.2" fill="#008000"/><circle cx="628.8" cy="701.7" r="1.2" fill="#008000"/><circle cx="629.3" cy="717.2" r="1.2" fill="#008000"/><circle cx="629.8" cy="721.8" r="1.2" fill="#008000"/><circle cx="630.3" cy="725.3" r="1.2" fill="#008000"/><circle cx="630.7" cy="729.5" r="1.2" fill="#008000"/><circle cx="631.2" cy="701.7" r="1.2" fill="#008000"/><circle cx="631.7" cy="718.2" r="1.2" fill="#008000"/><circle cx="632.2" cy="716.2" r="1.2" fill="#008000"/><circle cx="632.6" cy="721.2" r="1.2" fill="#008000"/><circle cx="633.1" cy="706.5" r="1.2" fill="#008000"/><circle cx="633.6" cy="728.5" r="1.2" fill="#008000"/><circle cx="634.1" cy="748.5" r="1.2" fill="#008000"/><circle cx="634.6" cy="723.9" r="1.2" fill="#008000"/><circle cx="635.0" cy="714.2" r="1.2" fill="#008000"/><circle cx="635.5" cy="701.7" r="1.2" fill="#008000"/><circle cx="636.0" cy="718.6" r="1.2" fill="#008000"/><circle cx="636.5" cy="726.9" r="1.2" fill="#008000"/><circle cx="636.9" cy="720.2" r="1.2" fill="#008000"/><circle cx="637.4" cy="726.1" r="1.2" fill="#008000"/><circle cx="637.9" cy="726.1" r="1.2" fill="#008000"/><circle cx="638.4" cy="716.8" r="1.2" fill="#008000"/><circle cx="638.9" cy="714.7" r="1.2" fill="#008000"/><circle cx="639.3" cy="724.8" r="1.2" fill="#008000"/><circle cx="639.8" cy="706.1" r="1.2" fill="#008000"/><circle cx="640.3" cy="718.6" r="1.2" fill="#008000"/><circle cx="640.8" cy="716.6" r="1.2" fill="#008000"/><circle cx="641.2" cy="723.3" r="1.2" fill="#008000"/><circle cx="641.7" cy="713.9" r="1.2" fill="#008000"/><circle cx="642.2" cy="713.4" r="1.2" fill="#008000"/><circle cx="642.7" cy="710.7" r="1.2" fill="#008000"/><circle cx="643.2" cy="726.4" r="1.2" fill="#008000"/><circle cx="643.6" cy="754.5" r="1.2" fill="#008000"/><circle cx="644.1" cy="723.8" r="1.2" fill="#008000"/><circle cx="644.6" cy="716.7" r="1.2" fill="#008000"/><circle cx="645.1" cy="709.8" r="1.2" fill="#008000"/><circle cx="645.5" cy="701.7" r="1.2" fill="#008000"/><circle cx="646.0" cy="722.5" r="1.2" fill="#008000"/><circle cx="646.5" cy="729.5" r="1.2" fill="#008000"/><circle cx="647.0" cy="716.2" r="1.2" fill="#008000"/><circle cx="647.5" cy="704.7" r="1.2" fill="#008000"/><circle cx="647.9" cy="721.2" r="1.2" fill="#008000"/><circle cx="648.4" cy="701.7" r="1.2" fill="#008000"/><circle cx="648.9" cy="737.8" r="1.2" fill="#008000"/><circle cx="649.4" cy="701.7" r="1.2" fill="#008000"/><circle cx="649.8" cy="705.3" r="1.2" fill="#008000"/><circle cx="650.3" cy="705.9" r="1.2" fill="#008000"/><circle cx="650.8" cy="726.5" r="1.2" fill="#008000"/><circle cx="651.3" cy="703.2" r="1.2" fill="#008000"/><circle cx="651.8" cy="705.2" r="1.2" fill="#008000"/><circle cx="652.2" cy="704.4" r="1.2" fill="#008000"/><circle cx="652.7" cy="720.1" r="1.2" fill="#008000"/><circle cx="653.2" cy="768.1" r="1.2" fill="#008000"/><circle cx="653.7" cy="703.9" r="1.2" fill="#008000"/><circle cx="654.1" cy="714.0" r="1.2" fill="#008000"/><circle cx="654.6" cy="721.5" r="1.2" fill="#008000"/><circle cx="655.1" cy="726.5" r="1.2" fill="#008000"/><circle cx="655.6" cy="714.9" r="1.2" fill="#008000"/><circle cx="656.1" cy="732.1" r="1.2" fill="#008000"/><circle cx="656.5" cy="711.5" r="1.2" fill="#008000"/><circle cx="657.0" cy="716.0" r="1.2" fill="#008000"/><circle cx="657.5" cy="734.2" r="1.2" fill="#008000"/><circle cx="658.0" cy="712.8" r="1.2" fill="#008000"/><circle cx="658.4" cy="704.9" r="1.2" fill="#008000"/><circle cx="658.9" cy="715.0" r="1.2" fill="#008000"/><circle cx="659.4" cy="731.8" r="1.2" fill="#008000"/><circle cx="659.9" cy="724.1" r="1.2" fill="#008000"/><circle cx="660.4" cy="708.8" r="1.2" fill="#008000"/><circle cx="660.8" cy="731.5" r="1.2" fill="#008000"/><circle cx="661.3" cy="721.7" r="1.2" fill="#008000"/><circle cx="661.8" cy="705.5" r="1.2" fill="#008000"/><circle cx="662.3" cy="720.7" r="1.2" fill="#008000"/><circle cx="662.7" cy="723.9" r="1.2" fill="#008000"/><circle cx="663.2" cy="709.1" r="1.2" fill="#008000"/><circle cx="663.7" cy="701.7" r="1.2" fill="#008000"/><circle cx="664.2" cy="713.5" r="1.2" fill="#008000"/><circle cx="664.7" cy="731.9" r="1.2" fill="#008000"/><circle cx="665.1" cy="734.9" r="1.2" fill="#008000"/><circle cx="665.6" cy="720.4" r="1.2" fill="#008000"/><circle cx="666.1" cy="737.0" r="1.2" fill="#008000"/><circle cx="666.6" cy="718.6" r="1.2" fill="#008000"/><circle cx="667.0" cy="708.1" r="1.2" fill="#008000"/>
<line x1="422.2" y1="721.3" x2="678.7" y2="721.3" stroke="#ff0000" stroke-opacity="0.8" stroke-width="0.7" stroke-dasharray="2,1.3"/>
<rect x="422.2" y="679.4" width="256.5" height="94.2" class="fr"/>
<line x1="420.7" y1="691.1" x2="422.2" y2="691.1" class="tk"/>
<text x="418.8" y="692.7" class="yl">10</text>
<line x1="420.7" y1="706.2" x2="422.2" y2="706.2" class="tk"/>
<text x="418.8" y="707.8" class="yl">5</text>
<line x1="420.7" y1="721.3" x2="422.2" y2="721.3" class="tk"/>
<text x="418.8" y="722.9" class="yl">0</text>
<line x1="420.7" y1="736.4" x2="422.2" y2="736.4" class="tk"/>
<text x="418.8" y="738.0" class="yl">−5</text>
<line x1="420.7" y1="751.5" x2="422.2" y2="751.5" class="tk"/>
<text x="418.8" y="753.1" class="yl">−10</text>
<line x1="420.7" y1="766.6" x2="422.2" y2="766.6" class="tk"/>
<text x="418.8" y="768.2" class="yl">−15</text>
<text transform="translate(408.2,726.5) rotate(-90)" class="al">Residuals</text>
<text x="550.5" y="785.4" class="al">Data Points</text>
<rect x="629.8" y="680.7" width="47.2" height="13.0" rx="0.8" class="lg"/>
<circle cx="635.8" cy="684.1" r="1.25" fill="#0000ff"/>
<text x="643.1" y="685.6" class="lt">Residuals (Train)</text>
<circle cx="635.8" cy="690.3" r="1.25" fill="#008000"/>
<text x="643.1" y="691.8" class="lt">Residuals (Test)</text>
</g>
<text x="542.0" y="823.6" class="cap">(f) LGB</text>
</svg>
</body></html>
